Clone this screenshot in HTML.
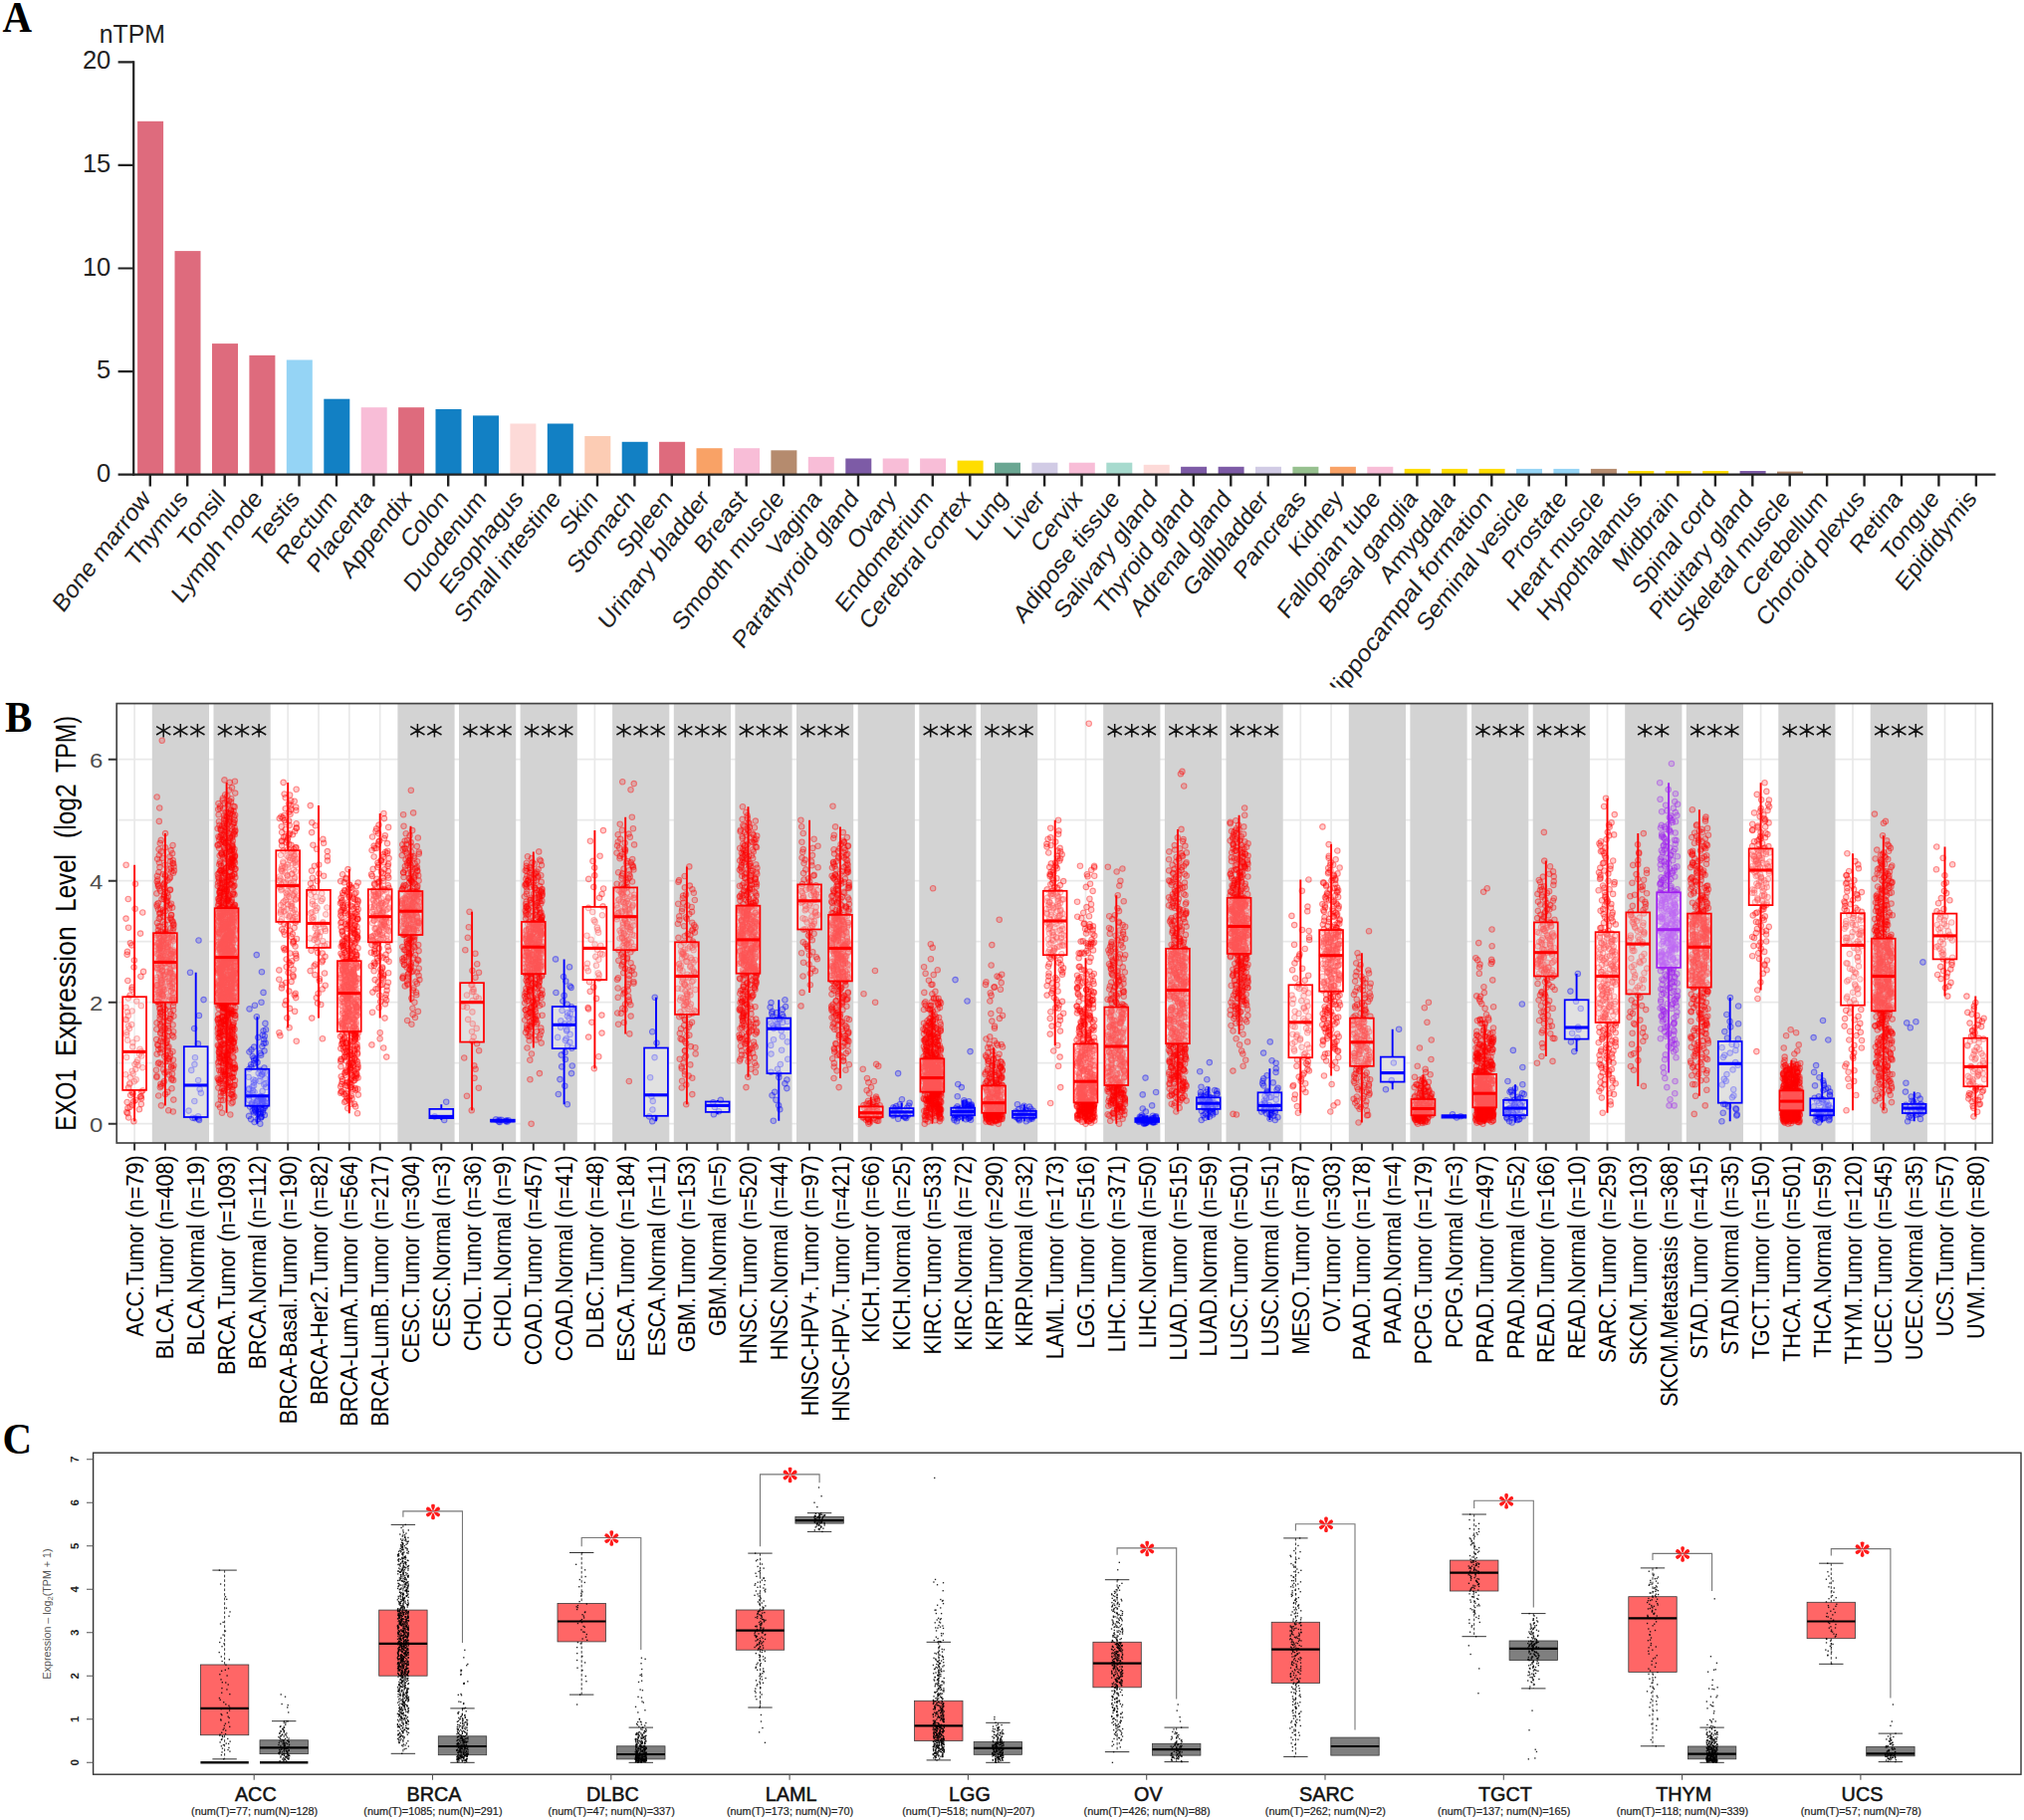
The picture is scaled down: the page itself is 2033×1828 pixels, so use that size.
<!DOCTYPE html>
<html><head><meta charset="utf-8"><title>Figure</title>
<style>html,body{margin:0;padding:0;background:#fff}body{width:2033px;height:1828px;overflow:hidden}svg{display:block;font-family:"Liberation Sans",sans-serif}</style>
</head><body>
<svg width="2033" height="1828" viewBox="0 0 2033 1828">
<rect width="2033" height="1828" fill="#fff"/>
<g id="pA">
<clipPath id="clipA"><rect x="0" y="0" width="2033" height="690.5"/></clipPath>
<rect x="138.1" y="121.8" width="26" height="354.9" fill="#de6b7d"/>
<rect x="175.5" y="252.1" width="26" height="224.6" fill="#de6b7d"/>
<rect x="213" y="345.1" width="26" height="131.6" fill="#de6b7d"/>
<rect x="250.4" y="356.9" width="26" height="119.8" fill="#de6b7d"/>
<rect x="287.8" y="361.5" width="26" height="115.2" fill="#95d4f5"/>
<rect x="325.3" y="400.7" width="26" height="76" fill="#1280c4"/>
<rect x="362.7" y="409.2" width="26" height="67.5" fill="#f8bdd7"/>
<rect x="400.1" y="409.2" width="26" height="67.5" fill="#de6b7d"/>
<rect x="437.5" y="411" width="26" height="65.7" fill="#1280c4"/>
<rect x="475" y="417.4" width="26" height="59.3" fill="#1280c4"/>
<rect x="512.4" y="425.5" width="26" height="51.2" fill="#fddad8"/>
<rect x="549.8" y="425.5" width="26" height="51.2" fill="#1280c4"/>
<rect x="587.3" y="438" width="26" height="38.7" fill="#fcccb4"/>
<rect x="624.7" y="443.8" width="26" height="32.9" fill="#1280c4"/>
<rect x="662.1" y="443.8" width="26" height="32.9" fill="#de6b7d"/>
<rect x="699.5" y="450.2" width="26" height="26.5" fill="#f9a266"/>
<rect x="737" y="450.2" width="26" height="26.5" fill="#f8bdd7"/>
<rect x="774.4" y="452.3" width="26" height="24.4" fill="#b58b6e"/>
<rect x="811.8" y="458.9" width="26" height="17.8" fill="#f8bdd7"/>
<rect x="849.3" y="460.5" width="26" height="16.2" fill="#7d5ba6"/>
<rect x="886.7" y="460.5" width="26" height="16.2" fill="#f8bdd7"/>
<rect x="924.1" y="460.5" width="26" height="16.2" fill="#f8bdd7"/>
<rect x="961.6" y="462.6" width="26" height="14.1" fill="#ffdd00"/>
<rect x="999" y="464.7" width="26" height="12" fill="#6aa692"/>
<rect x="1036.4" y="464.7" width="26" height="12" fill="#d1cbe5"/>
<rect x="1073.8" y="464.7" width="26" height="12" fill="#f8bdd7"/>
<rect x="1111.3" y="464.7" width="26" height="12" fill="#a7dace"/>
<rect x="1148.7" y="466.8" width="26" height="9.9" fill="#fddad8"/>
<rect x="1186.1" y="468.8" width="26" height="7.9" fill="#7d5ba6"/>
<rect x="1223.6" y="468.8" width="26" height="7.9" fill="#7d5ba6"/>
<rect x="1261" y="468.8" width="26" height="7.9" fill="#d1cbe5"/>
<rect x="1298.4" y="468.8" width="26" height="7.9" fill="#96c08e"/>
<rect x="1335.9" y="468.8" width="26" height="7.9" fill="#f9a266"/>
<rect x="1373.3" y="468.8" width="26" height="7.9" fill="#f8bdd7"/>
<rect x="1410.7" y="470.9" width="26" height="5.8" fill="#ffdd00"/>
<rect x="1448.1" y="470.9" width="26" height="5.8" fill="#ffdd00"/>
<rect x="1485.6" y="470.9" width="26" height="5.8" fill="#ffdd00"/>
<rect x="1523" y="470.9" width="26" height="5.8" fill="#95d4f5"/>
<rect x="1560.4" y="470.9" width="26" height="5.8" fill="#95d4f5"/>
<rect x="1597.9" y="470.9" width="26" height="5.8" fill="#b58b6e"/>
<rect x="1635.3" y="473" width="26" height="3.7" fill="#ffdd00"/>
<rect x="1672.7" y="473" width="26" height="3.7" fill="#ffdd00"/>
<rect x="1710.2" y="473" width="26" height="3.7" fill="#ffdd00"/>
<rect x="1747.6" y="473" width="26" height="3.7" fill="#7d5ba6"/>
<rect x="1785" y="473.6" width="26" height="3.1" fill="#b58b6e"/>
<rect x="1822.4" y="475.9" width="26" height="0.8" fill="#ffdd00"/>
<g stroke="#222" stroke-width="2.2" fill="none">
<path d="M134.2 61.2 V477.8"/>
<path d="M118.6 476.7 H2004.5"/>
<path d="M118.6 373.1 H134.2M118.6 269.5 H134.2M118.6 165.9 H134.2M118.6 62.3 H134.2"/>
<path d="M150.8 476.7 V488.6M188.2 476.7 V488.6M225.7 476.7 V488.6M263.1 476.7 V488.6M300.5 476.7 V488.6M338 476.7 V488.6M375.4 476.7 V488.6M412.8 476.7 V488.6M450.2 476.7 V488.6M487.7 476.7 V488.6M525.1 476.7 V488.6M562.5 476.7 V488.6M600 476.7 V488.6M637.4 476.7 V488.6M674.8 476.7 V488.6M712.2 476.7 V488.6M749.7 476.7 V488.6M787.1 476.7 V488.6M824.5 476.7 V488.6M862 476.7 V488.6M899.4 476.7 V488.6M936.8 476.7 V488.6M974.3 476.7 V488.6M1011.7 476.7 V488.6M1049.1 476.7 V488.6M1086.5 476.7 V488.6M1124 476.7 V488.6M1161.4 476.7 V488.6M1198.8 476.7 V488.6M1236.3 476.7 V488.6M1273.7 476.7 V488.6M1311.1 476.7 V488.6M1348.6 476.7 V488.6M1386 476.7 V488.6M1423.4 476.7 V488.6M1460.8 476.7 V488.6M1498.3 476.7 V488.6M1535.7 476.7 V488.6M1573.1 476.7 V488.6M1610.6 476.7 V488.6M1648 476.7 V488.6M1685.4 476.7 V488.6M1722.9 476.7 V488.6M1760.3 476.7 V488.6M1797.7 476.7 V488.6M1835.1 476.7 V488.6M1872.6 476.7 V488.6M1910 476.7 V488.6M1947.4 476.7 V488.6M1984.9 476.7 V488.6" stroke-width="2.4"/>
</g>
<g font-size="25.5" fill="#222" text-anchor="end">
<text x="111.3" y="483.7">0</text>
<text x="111.3" y="380.1">5</text>
<text x="111.3" y="276.5">10</text>
<text x="111.3" y="172.9">15</text>
<text x="111.3" y="69.3">20</text>
</g>
<text transform="translate(99.8 43.0) scale(0.935 1)" font-size="26.5" fill="#222">nTPM</text>
<g font-size="22.5" fill="#222" text-anchor="end" clip-path="url(#clipA)">
<text transform="translate(152.3 501.6) scale(1 1.12) rotate(-49) scale(1.016 1)">Bone marrow</text>
<text transform="translate(189.7 501.6) scale(1 1.12) rotate(-49) scale(1.016 1)">Thymus</text>
<text transform="translate(227.2 501.6) scale(1 1.12) rotate(-49) scale(1.016 1)">Tonsil</text>
<text transform="translate(264.6 501.6) scale(1 1.12) rotate(-49) scale(1.016 1)">Lymph node</text>
<text transform="translate(302 501.6) scale(1 1.12) rotate(-49) scale(1.016 1)">Testis</text>
<text transform="translate(339.5 501.6) scale(1 1.12) rotate(-49) scale(1.016 1)">Rectum</text>
<text transform="translate(376.9 501.6) scale(1 1.12) rotate(-49) scale(1.016 1)">Placenta</text>
<text transform="translate(414.3 501.6) scale(1 1.12) rotate(-49) scale(1.016 1)">Appendix</text>
<text transform="translate(451.7 501.6) scale(1 1.12) rotate(-49) scale(1.016 1)">Colon</text>
<text transform="translate(489.2 501.6) scale(1 1.12) rotate(-49) scale(1.016 1)">Duodenum</text>
<text transform="translate(526.6 501.6) scale(1 1.12) rotate(-49) scale(1.016 1)">Esophagus</text>
<text transform="translate(564 501.6) scale(1 1.12) rotate(-49) scale(1.016 1)">Small intestine</text>
<text transform="translate(601.5 501.6) scale(1 1.12) rotate(-49) scale(1.016 1)">Skin</text>
<text transform="translate(638.9 501.6) scale(1 1.12) rotate(-49) scale(1.016 1)">Stomach</text>
<text transform="translate(676.3 501.6) scale(1 1.12) rotate(-49) scale(1.016 1)">Spleen</text>
<text transform="translate(713.8 501.6) scale(1 1.12) rotate(-49) scale(1.016 1)">Urinary bladder</text>
<text transform="translate(751.2 501.6) scale(1 1.12) rotate(-49) scale(1.016 1)">Breast</text>
<text transform="translate(788.6 501.6) scale(1 1.12) rotate(-49) scale(1.016 1)">Smooth muscle</text>
<text transform="translate(826 501.6) scale(1 1.12) rotate(-49) scale(1.016 1)">Vagina</text>
<text transform="translate(863.5 501.6) scale(1 1.12) rotate(-49) scale(1.016 1)">Parathyroid gland</text>
<text transform="translate(900.9 501.6) scale(1 1.12) rotate(-49) scale(1.016 1)">Ovary</text>
<text transform="translate(938.3 501.6) scale(1 1.12) rotate(-49) scale(1.016 1)">Endometrium</text>
<text transform="translate(975.8 501.6) scale(1 1.12) rotate(-49) scale(1.016 1)">Cerebral cortex</text>
<text transform="translate(1013.2 501.6) scale(1 1.12) rotate(-49) scale(1.016 1)">Lung</text>
<text transform="translate(1050.6 501.6) scale(1 1.12) rotate(-49) scale(1.016 1)">Liver</text>
<text transform="translate(1088 501.6) scale(1 1.12) rotate(-49) scale(1.016 1)">Cervix</text>
<text transform="translate(1125.5 501.6) scale(1 1.12) rotate(-49) scale(1.016 1)">Adipose tissue</text>
<text transform="translate(1162.9 501.6) scale(1 1.12) rotate(-49) scale(1.016 1)">Salivary gland</text>
<text transform="translate(1200.3 501.6) scale(1 1.12) rotate(-49) scale(1.016 1)">Thyroid gland</text>
<text transform="translate(1237.8 501.6) scale(1 1.12) rotate(-49) scale(1.016 1)">Adrenal gland</text>
<text transform="translate(1275.2 501.6) scale(1 1.12) rotate(-49) scale(1.016 1)">Gallbladder</text>
<text transform="translate(1312.6 501.6) scale(1 1.12) rotate(-49) scale(1.016 1)">Pancreas</text>
<text transform="translate(1350.1 501.6) scale(1 1.12) rotate(-49) scale(1.016 1)">Kidney</text>
<text transform="translate(1387.5 501.6) scale(1 1.12) rotate(-49) scale(1.016 1)">Fallopian tube</text>
<text transform="translate(1424.9 501.6) scale(1 1.12) rotate(-49) scale(1.016 1)">Basal ganglia</text>
<text transform="translate(1462.3 501.6) scale(1 1.12) rotate(-49) scale(1.016 1)">Amygdala</text>
<text transform="translate(1499.8 501.6) scale(1 1.12) rotate(-49) scale(1.063 1)">Hippocampal formation</text>
<text transform="translate(1537.2 501.6) scale(1 1.12) rotate(-49) scale(1.016 1)">Seminal vesicle</text>
<text transform="translate(1574.6 501.6) scale(1 1.12) rotate(-49) scale(1.016 1)">Prostate</text>
<text transform="translate(1612.1 501.6) scale(1 1.12) rotate(-49) scale(1.016 1)">Heart muscle</text>
<text transform="translate(1649.5 501.6) scale(1 1.12) rotate(-49) scale(1.016 1)">Hypothalamus</text>
<text transform="translate(1686.9 501.6) scale(1 1.12) rotate(-49) scale(1.016 1)">Midbrain</text>
<text transform="translate(1724.4 501.6) scale(1 1.12) rotate(-49) scale(1.016 1)">Spinal cord</text>
<text transform="translate(1761.8 501.6) scale(1 1.12) rotate(-49) scale(1.016 1)">Pituitary gland</text>
<text transform="translate(1799.2 501.6) scale(1 1.12) rotate(-49) scale(1.016 1)">Skeletal muscle</text>
<text transform="translate(1836.6 501.6) scale(1 1.12) rotate(-49) scale(1.016 1)">Cerebellum</text>
<text transform="translate(1874.1 501.6) scale(1 1.12) rotate(-49) scale(1.016 1)">Choroid plexus</text>
<text transform="translate(1911.5 501.6) scale(1 1.12) rotate(-49) scale(1.016 1)">Retina</text>
<text transform="translate(1948.9 501.6) scale(1 1.12) rotate(-49) scale(1.016 1)">Tongue</text>
<text transform="translate(1986.4 501.6) scale(1 1.12) rotate(-49) scale(1.016 1)">Epididymis</text>
</g>
</g>
<g id="pB">
<rect x="117.2" y="706.6" width="1884.1" height="441.4" fill="#fff"/>
<path d="M117.2 1128.7H2001.3M117.2 1067.7H2001.3M117.2 1006.7H2001.3M117.2 945.7H2001.3M117.2 884.7H2001.3M117.2 823.7H2001.3M117.2 762.7H2001.3M135.1 706.6V1148M165.9 706.6V1148M196.7 706.6V1148M227.6 706.6V1148M258.4 706.6V1148M289.2 706.6V1148M320 706.6V1148M350.8 706.6V1148M381.7 706.6V1148M412.5 706.6V1148M443.3 706.6V1148M474.1 706.6V1148M504.9 706.6V1148M535.8 706.6V1148M566.6 706.6V1148M597.4 706.6V1148M628.2 706.6V1148M659 706.6V1148M689.9 706.6V1148M720.7 706.6V1148M751.5 706.6V1148M782.3 706.6V1148M813.1 706.6V1148M844 706.6V1148M874.8 706.6V1148M905.6 706.6V1148M936.4 706.6V1148M967.2 706.6V1148M998.1 706.6V1148M1028.9 706.6V1148M1059.7 706.6V1148M1090.5 706.6V1148M1121.3 706.6V1148M1152.2 706.6V1148M1183 706.6V1148M1213.8 706.6V1148M1244.6 706.6V1148M1275.4 706.6V1148M1306.3 706.6V1148M1337.1 706.6V1148M1367.9 706.6V1148M1398.7 706.6V1148M1429.5 706.6V1148M1460.4 706.6V1148M1491.2 706.6V1148M1522 706.6V1148M1552.8 706.6V1148M1583.6 706.6V1148M1614.5 706.6V1148M1645.3 706.6V1148M1676.1 706.6V1148M1706.9 706.6V1148M1737.7 706.6V1148M1768.6 706.6V1148M1799.4 706.6V1148M1830.2 706.6V1148M1861 706.6V1148M1891.8 706.6V1148M1922.7 706.6V1148M1953.5 706.6V1148M1984.3 706.6V1148" stroke="#e9e9e9" stroke-width="1.7" fill="none"/>
<rect x="152.8" y="706.6" width="57.2" height="441.4" fill="#d3d3d3"/>
<rect x="214.5" y="706.6" width="57.2" height="441.4" fill="#d3d3d3"/>
<rect x="399.4" y="706.6" width="57.2" height="441.4" fill="#d3d3d3"/>
<rect x="461" y="706.6" width="57.2" height="441.4" fill="#d3d3d3"/>
<rect x="522.6" y="706.6" width="57.2" height="441.4" fill="#d3d3d3"/>
<rect x="615.1" y="706.6" width="57.2" height="441.4" fill="#d3d3d3"/>
<rect x="676.8" y="706.6" width="57.2" height="441.4" fill="#d3d3d3"/>
<rect x="738.4" y="706.6" width="57.2" height="441.4" fill="#d3d3d3"/>
<rect x="800" y="706.6" width="57.2" height="441.4" fill="#d3d3d3"/>
<rect x="861.7" y="706.6" width="57.2" height="441.4" fill="#d3d3d3"/>
<rect x="923.3" y="706.6" width="57.2" height="441.4" fill="#d3d3d3"/>
<rect x="985" y="706.6" width="57.2" height="441.4" fill="#d3d3d3"/>
<rect x="1108.2" y="706.6" width="57.2" height="441.4" fill="#d3d3d3"/>
<rect x="1169.9" y="706.6" width="57.2" height="441.4" fill="#d3d3d3"/>
<rect x="1231.5" y="706.6" width="57.2" height="441.4" fill="#d3d3d3"/>
<rect x="1354.8" y="706.6" width="57.2" height="441.4" fill="#d3d3d3"/>
<rect x="1416.4" y="706.6" width="57.2" height="441.4" fill="#d3d3d3"/>
<rect x="1478.1" y="706.6" width="57.2" height="441.4" fill="#d3d3d3"/>
<rect x="1539.7" y="706.6" width="57.2" height="441.4" fill="#d3d3d3"/>
<rect x="1632.2" y="706.6" width="57.2" height="441.4" fill="#d3d3d3"/>
<rect x="1693.8" y="706.6" width="57.2" height="441.4" fill="#d3d3d3"/>
<rect x="1786.3" y="706.6" width="57.2" height="441.4" fill="#d3d3d3"/>
<rect x="1878.7" y="706.6" width="57.2" height="441.4" fill="#d3d3d3"/>
<marker id="mr" markerWidth="10" markerHeight="10" refX="5" refY="5" markerUnits="userSpaceOnUse"><circle cx="5" cy="5" r="2.75" fill="rgba(255,0,0,.2)" stroke="rgba(255,0,0,.42)" stroke-width="1.1"/></marker>
<marker id="mb" markerWidth="10" markerHeight="10" refX="5" refY="5" markerUnits="userSpaceOnUse"><circle cx="5" cy="5" r="2.75" fill="rgba(0,0,255,.2)" stroke="rgba(0,0,255,.42)" stroke-width="1.1"/></marker>
<marker id="mp" markerWidth="10" markerHeight="10" refX="5" refY="5" markerUnits="userSpaceOnUse"><circle cx="5" cy="5" r="2.75" fill="rgba(160,32,240,.2)" stroke="rgba(160,32,240,.42)" stroke-width="1.1"/></marker>
<polyline points="126.6,1011.7 143.3,1095.3 141.8,1108.9 142,1096.2 126.6,868.8 139.9,1114.3 130.8,1082.1 138.5,1070 127.6,1107 132.7,991.6 132.2,1029.1 127.9,1016.6 128.3,985 134.5,971.5 133.1,1109.7 128,1044.7 126.2,1079.2 134.2,1106.2 137.2,1067 133.2,1051.4 131.1,1100 141.8,1056.2 127.1,1061.9 127.2,1117.1 138.3,1064.8 128.2,1118.1 137.2,1005.6 136.7,1084.4 128.7,903 128.8,1092.5 132.7,1075.7 128.8,1002.6 134.4,1126.3 142.3,1060.5 140.8,1101.6 129,931.7 129,1030.6 128.8,1020.3 140.5,1053.8 130.6,1111.8 132.4,993.7 128.4,1112.9 130.3,1088 141,937.6 143.2,916.5 141.8,1010.2 135.9,887.7 137.5,1043.2 130.6,999.7 133.6,1098.4 132.3,949.4 132.6,1096.9 127,1024.3 132.6,1015.5 129.1,1122.5 126.5,922.6 130.3,1088.8 143.3,1072.3 135.6,912.8 142,1103.3 141.7,1101.3 141.4,980.7 129.9,1033 126.1,1023.9 136.3,1073.7 134.8,1086.3 130.9,947.2 133.3,1047.2 144,975.9 127.9,955.9 133.6,1078.5 127.2,1039.4 129.3,1092.4 127.3,1036.8 134.8,964.5 135.4,1069 136,1104.9 140.1,1058.7 127.6,958.7" fill="none" stroke="none" marker-start="url(#mr)" marker-mid="url(#mr)" marker-end="url(#mr)"/>
<polyline points="174.4,956.3 173.7,864.1 159.2,1100.5 163.3,944.1 160.5,973.3 169.5,1051.2 160,999.1 163.9,926 170.7,1061.4 171.7,1018.7 170.9,954.5 161.9,855.4 172.1,958.1 172.8,961.9 159.2,889.1 165.2,1042.3 163.7,878 165.4,1077.4 163.6,963.8 166,937.5 174.3,996.9 157.5,989.7 170.4,987.8 171.3,1023.4 171.1,922 161.8,986.8 174.3,932.1 160.5,930.8 160.2,917.6 157,941.8 169.2,1065.8 173.1,941.6 161.9,984.2 161.6,1030.9 165.7,896 169.2,1025.4 170,942.4 160.9,1016.7 161.7,843.9 164.1,1088 161.1,1057.3 173.2,925.2 170.6,909.2 165.2,892.6 172.5,943.5 157.5,1080.9 157.8,994.5 170.1,1004.1 171.4,977.5 166.2,915.1 174.1,980.3 157.7,990 171.1,865.1 173.7,1003.3 167.4,956 167,909.9 161.4,979.3 165.8,1013.8 173.5,988.7 158,1005.7 160.3,1013.2 174.6,870.4 162.4,1054.2 174.2,1041.6 172.2,965.4 157.7,910.3 168,986.1 168.3,1096.9 172.2,919.1 170.2,977.1 162.7,743.8 162.2,957.3 158.2,1049.2 164.9,887.2 169.6,1036 164.5,1031.9 170.4,965.8 173.8,1002 171,1058 171.6,854.1 158.9,1049.9 168.1,953.1 162.2,964.3 167.7,906.2 167.4,1047.3 164.1,916.6 165,899.5 168.4,1052.1 158.7,968.7 170.2,1023 172.6,1083.2 168.9,1030.3 158.5,938.2 157.6,908.4 170.1,873.3 161.4,913.3 157.3,1082 159.5,952.3 162.8,1002.6 157.2,939.4 160.2,892.3 160.2,977.8 174.1,997.4 156.9,1074.8 158.9,934.4 174.9,943.4 165.4,890.9 172.8,1004.1 170.9,881.3 159,907.1 171.2,948.9 164.7,994.5 164.3,991.1 159.5,1006.2 163.5,943.1 174,876.8 170.8,976.4 161.4,1037.1 161.5,1052.7 160.7,996.1 161.1,967.2 174,1010.3 161.5,951.7 161.7,969.3 171.4,932.2 157.3,897.4 162,936.1 161.1,960.3 167.1,964.1 170.7,990.4 167.4,902.1 164.8,898.2 173.9,929.2 174.8,960.8 158.4,969 157,984 165.4,993.7 164,961.1 171.5,990.8 173.1,1004.6 165,954.9 174.1,980.7 160.4,871.1 171.7,995.4 160.6,1020.7 164.4,1011.6 170,912.4 171.7,941 162.5,1034.9 158.6,946.8 168.8,900.5 167.1,944.5 174.9,1003.6 173.8,1116.5 166.8,939.1 163,1026.5 174.9,874.4 165.9,968.1 168.6,1063 174.4,1070.2 163.2,998.1 161,1028.7 161.1,981.5 159.4,876 159.1,913.6 170.7,894.1 163.9,979.8 164.4,966.7 165,967.5 171.7,976.8 160.9,1045.9 161.2,894.9 169.7,967.9 164,1008.3 163.4,974.8 168.7,959.6 160.3,949.8 172.5,955.2 160.9,1012.5 157.1,950.6 169.7,1079.4 164.5,902.9 164.7,888.4 167.3,961.6 162.8,971.2 157.4,981.9 160.6,950.8 159.1,957 165.2,1061 164.9,1086.1 168.6,951.1 164.2,920.3 159.2,930.3 166.8,1059.9 170.6,1016 169.4,946.1 159.1,964.9 162.4,903.1 174.5,928.6 169.1,949.9 161.4,1088.7 157.6,1058.7 167.7,953.6 158,989.2 158.1,948.2 163,987.1 173.4,982.9 164.2,940.7 166.1,885.5 169.1,966 160.5,1024.1 161.5,988.4 172.8,1039.9 161.4,972.7 160.3,1002.4 165.2,940 168.2,904.5 162.8,975.4 162.8,950.3 161.3,962.5 171,893.6 157,998.6 173.1,992 161.6,954.7 165.8,978.5 167.9,976 173.9,982.1 162.8,961.2 159.6,1009 161.1,1038.1 164.4,943.9 166.3,935.9 160.8,1007.9 163.6,952.6 168.4,884.2 174.4,1020.5 160.3,956.6 172.8,970.3 173.5,1056.2 163.9,1046.3 173.4,867 159.7,962.1 165.5,1038.7 159.9,946.5 157.3,1033.7 159.2,1053.9 158.1,862.7 170.1,882.5 174.8,959.4 164,1074.3 162.3,1043.3 171.7,958.4 160.8,952.9 173.7,955.8 165.5,980.9 166.1,880.1 157.9,926.9 157.7,885.3 163.5,992.1 161.4,1068.8 173.5,993.1 173.6,978.2 174.2,1036.2 167.5,1076.6 162.9,999.3 163.6,993.5 159.8,939.9 168.9,1000.6 166.8,904.8 159.5,853 159.9,866.3 163.6,955.4 171.5,959.8 165.8,868.6 166,1098.9 162.5,944.8 158.8,953.8 159.8,859.1 161.6,985.6 168.1,924.1 158.4,883.4 160.6,949.2 162.2,1015.7 160.5,963.2 162.5,949.3 165.7,933.3 157.9,1005.9 164.6,901 173.6,1029.4 174.5,1006.8 160.5,942.8 160.8,1092.1 170.5,860.4 166.3,1066.3 173.5,849 162,998.5 168.9,1010.5 172.1,964.7 172.2,1084.5 162,945.6 173.9,1064.5 173.6,1073.2 158.6,887.8 162.5,1019.1 163.3,995.8 167.7,951.6 164,947.6 165.5,958.6 160.2,811.5 173.6,934.8 162.7,975.2 164.5,941.2 159.7,1067.2 172.5,1093.3 174.1,867.5 168.9,965.3 157.5,991.6 171.6,871.7 169.9,1063.8 166.4,1048.3 173.4,957.8 158.8,890.3 159.1,997.1 161.8,1090.8 163.8,914.5 166,1021.6 173.9,954.2 171.8,923.3 157.5,971.9 164,1004.9 169.1,1032.8 159.5,937.2 169.8,985.3 168.1,937.9 170.2,963.4 157.5,1000.9 162.5,945.3 158.3,973.7 168.4,947.1 157.1,1044.1 162.6,984.6 171,974.4 172.8,940.5 174.3,1104.6 158.9,1068.2 174.1,1084.9 171.8,1072.1 173.1,911.6 165.6,928.2 163.7,1000.4 160.6,952 165.9,1033 157.9,879.9 158.1,972.4 166.8,948.6 161.4,962.8 166.1,960.3 159.8,922.7 166,878.6 173.1,987.6 164.5,1025.6 170.4,1001.5 173,1078.6 161.9,1110.4 168.3,982.8 172,907.7 163.6,937.8 160.8,916.8 170.5,983.5 163.2,861.8 158.7,948 174.2,986.3 160.7,846.9 173.6,926.4 174.1,1014.7 163.6,1000 158.8,958.9 168.5,1055.3 164.7,979.1 166,851.2 157.5,1027.4 168.5,939 166.9,971.5 169.2,1115.3 157.6,800.5 174.6,970.7 172.3,875.3 168.1,966.3 160.9,921.1 174.1,945.1 171.7,995.2 167.7,1044.9 168.1,896.7 173.3,938.6 166.8,947.2 160.6,942.1 157.6,957.7 170.5,973 171.8,919 172.3,1070.7 164.3,945.8 173.1,857.3 168.5,1040.7 160.4,992.7 166,837.1 159.8,824.9 161.1,1017.9 174.7,969.7" fill="none" stroke="none" marker-start="url(#mr)" marker-mid="url(#mr)" marker-end="url(#mr)"/>
<polyline points="195.3,1106 201.8,1097.7 192.2,1074.9 199.3,1123.7 199.1,1085 198.9,1048.4 195.1,1033 189.5,1115.6 191,976.8 195.4,1069.1 195.9,1123.1 204.5,1004.1 200.6,1094 199,1121.3 199.5,944.5 193.4,1122.7 199.9,1020 195.9,1062.2 200,1125" fill="none" stroke="none" marker-start="url(#mb)" marker-mid="url(#mb)" marker-end="url(#mb)"/>
<polyline points="225.6,1030.4 235.2,924.3 221.3,887.2 223.8,801.8 234.6,890.1 221.2,988.5 220.1,884.4 224.7,1045.3 225.3,964 233.2,847.6 234.2,931.5 225.1,819.2 223.4,843 232.6,978.5 233.4,862 229.5,1070.6 224.6,998.9 236.4,1011.9 230.2,1002.4 220,1006.2 231.6,1007.2 220.2,913.2 235.5,991.8 223.4,981.1 227.4,889.3 232.1,887.5 228,992 219.2,974 230.6,1022.1 228.4,1062.2 224.5,942.9 226.1,966 219.8,969 232.3,993.2 233.3,937.2 222.4,970.1 219.6,1071.1 223.8,885.4 222.1,857.3 232.9,927.5 232.8,888.9 218.7,964.9 228.5,1013.5 225,952.7 224.6,934 223.8,844 229.8,824.5 224.8,1010.4 235.8,1019.9 223.8,919.5 227.7,968.6 227.9,952.3 221.6,1101.1 231.8,1043.4 219.9,1056.6 226.1,935.2 230.6,825.6 220.8,915 221.8,1006.1 224.4,918.2 232.7,861.8 220.1,952 221.3,918.6 231.6,996.2 236.4,990.6 222.2,892 221.6,976 222.2,946.8 232.2,982.7 235,976.8 232.7,858.6 235.4,1006.9 235.3,956.6 219.1,886.5 232.3,1044.8 220.4,1041.7 221,1010 234.4,896.4 227.5,987 221.2,1035.4 234.8,1077.7 231.9,960.2 229.3,1049.5 227.4,930 229.3,979.6 226.1,1079.7 234.1,912.8 230.4,921.2 227.2,871.9 221.6,1045.9 233.6,919.8 234.7,836.2 229.4,1001.8 231.3,1090.6 219.5,962.8 230.1,1000.2 221.1,965.2 219.8,1004.8 236.1,818.7 224.8,1075.7 219.6,1012.8 229.2,862.9 231.4,927.1 233.5,863.6 218.7,977 231.1,962.7 236.2,966.9 226.4,925.6 224.3,1096.1 235.3,826.4 227.8,1080 220.6,915.4 230.7,1040.3 232.7,1099.7 234.3,1018.2 235.9,860.6 227.9,933.9 228,956.2 222.7,973.8 223.1,983.7 235.1,988.1 219.4,925.2 225.4,960 220.2,975.7 228.7,1046.9 219.1,1067.4 222,1083.7 228.3,958.6 229.9,822.2 229.7,946.3 223.9,1068.5 229.7,844.3 222.1,1002.3 235.1,975.5 230.9,920.6 225.6,1029.1 235.5,877.6 218.9,973.2 232.1,815.4 229.6,996.4 226.9,878.7 221.7,969.3 226.7,992.2 221.9,1036.9 228.5,1094.8 220.5,1037.6 232.4,1018.5 232.1,981.1 225.2,949.8 226.1,1064.6 236.2,796.6 228.6,989.2 228.7,1076 223.9,945.1 224.6,998 224.6,1024 234.7,1004.6 227.6,890.8 225.6,959.7 229.9,958.7 225,978.6 227.8,932.2 230.2,999.4 230.1,954.9 222.6,983.8 228.2,1000.6 224.5,873.3 233.7,1106.9 233.3,1091.4 235.2,1000.1 224.3,966.3 224.7,949.6 224.5,980.5 232.6,871.2 227.5,895.6 220.1,852 221.1,912.2 223.5,1004.4 225.8,938.8 222.2,930.8 230.8,979.9 234.2,1046.3 225.2,1094.4 227,894.7 235.8,823.6 233.6,922.8 235.9,784.7 223.3,969.2 221.8,924.4 235.1,1046.4 221.5,1003.8 221,1051.6 228.1,1020.1 226.3,915.9 219.3,920 232.6,987.6 224.4,999.8 226.9,940.8 230.5,899.7 219.5,930.7 221.2,971.6 230.8,999.1 225.4,1035.7 224.7,975.6 230.2,985.4 230,947.1 225.3,821.7 234,932.6 225.3,827.1 235.2,910.4 222.9,1011.1 219.9,937.3 226.9,941 219.3,1026.7 232.8,849.4 224.3,919.1 236.5,914.7 220.2,995.1 218.8,968 220.2,912.4 224.8,986.6 220.3,921.9 222.5,1003.3 221.9,1000.7 234.1,984.9 221.2,922.7 221.6,1007.9 230.2,1068.8 223.5,933.3 224.5,898.4 234.2,861.2 219.8,1007.8 230.7,923.6 220.7,937.8 233.1,1001.4 227.6,835.5 225.2,950.3 223.4,911.7 232.8,872 223,907 222.2,983 221.5,980 233.6,1038.8 230.8,950.4 224.9,844.9 224.9,1013.6 223.6,980.8 229.3,903.4 228.1,1064.1 224.8,970.3 231,974.1 222.5,937.6 230.4,991.2 225.1,1017.1 228.8,948.8 221.9,1104.7 230.9,967.7 232.5,1005.3 229.6,1028.6 220.5,985.8 220.6,1061.9 231.6,1042.7 232.7,868.6 225.5,944.2 235.9,866.5 223.2,993.5 220.3,904.5 222,943.8 219.9,924.8 230.8,976 219.3,1084.3 230.6,939.1 233.8,1102.5 226.8,955.1 229,1064.8 235.6,1033.7 232,961.5 229.5,964.7 234.9,870.7 233.2,1071.8 230,986.8 236.1,1072.6 229.2,960.8 234.1,1056.1 224.1,1007.3 227.5,871.4 226.9,997.4 233.5,1099.4 222.8,1010.6 234.2,981.3 227.1,991.3 223.3,983.4 219.3,968.8 224.4,812.4 223.6,1016.6 226.5,1076.4 236.5,872.6 230.2,944.8 221.5,833 234.9,855.7 224.2,961.9 229.4,1042.2 219.9,825.2 223,882.1 230.3,851.2 223.3,958 232.5,1018.1 228.1,860.3 224.4,962.5 225.3,943.2 220.3,976.3 220.1,843.2 219.3,1042.3 228,914.3 226.7,830.6 225.1,968.2 219.6,984.8 230.9,817.1 226.7,1009.2 218.9,1023.7 222.6,916.7 229.4,994 227.6,1032.5 224.7,1001.2 225.2,893.2 222.6,1059.1 230.8,1015.7 232.9,951 227.2,1011.6 233.7,963.3 233.7,897.9 228.2,893.9 225.6,854.4 232.2,1055 230,1017.7 219.5,935.6 227.1,957.7 221.2,896.9 229.1,808.5 232.9,917.8 233,929.4 221.9,839.3 221.2,1022.2 222.1,874 226.5,1056.4 219,977.5 220.4,937.1 226,940.5 229,919.2 224.5,1027.9 234,1082 227.7,1014.5 223.8,927.1 234.1,978.4 231.5,957.5 221.5,1077.2 224.2,932.9 228,942.1 222.9,955.7 219.1,989.9 234.6,1047.9 225.1,838.2 220.2,868.2 234.3,1032.2 235.5,988.8 223.7,1080.8 229.9,1091.7 219.3,881 219.4,945.9 231.3,855 233.8,844.5 220.6,1054.7 221.8,988.4 225.9,984.4 220.6,1058.6 221.8,1062.7 235.7,810.4 219.2,812.9 229.3,883.5 233.8,911.2 225.6,806.6 233,923.9 225.9,968.4 235.2,964.5 235.8,834.9 234.2,1009.5 234.5,1067.6 233.1,1034.3 228,959.4 225.6,1053.1 220.2,990.1 218.8,1033.4 234.1,1073.2 225.1,823.4 222.5,873.7 228.5,1007 231,1034.6 230.9,1036.1 224.4,1074.7 222.6,958.4 220.4,973.5 233.3,953.6 225.6,886 222.5,957 234.6,911.6 231.2,1003.6 227.3,1004.7 228.8,981.8 222.9,947.7 231.4,882.8 229.1,935 231.5,948.2 232.2,941.5 227.5,941.9 227.7,834.6 226.9,916 225.3,1065.1 224.8,867.4 230.1,982.7 235.6,1043 234.9,957.8 218.8,890 219.8,905.2 224.4,986.1 231.4,935.8 231,935.4 225.3,930.3 225.7,1063.4 220.1,936.8 222.4,1000 219.7,882.2 226.6,1039.2 220.2,995.9 226,921.3 228.6,932.5 229,944.1 231.4,945.4 229,900.8 227.8,939.6 222.5,982.1 229.3,912.7 221.9,1097.4 220.3,1060.9 221.4,981.8 234.9,963 218.9,1037.9 234.2,891.1 229,979.3 232.7,1081.4 230.7,923.4 223.9,861 222,833.9 228,832.5 226.6,951.2 223.3,933.1 236,859 219.6,936.3 235.8,1052.4 230.5,1080.4 236.1,873 227.5,819.7 224.4,927.7 222.4,1049.1 227.5,913.6 228.5,994.3 234.6,826.3 221,811.8 230,1014.1 218.7,991.5 233.4,1078.1 236.3,1005.6 227.6,971.1 231.9,906.6 228.3,1034.9 221.5,1085.9 234.2,954.3 233.2,879.8 229.9,960.5 225.1,990.7 221.4,1088.2 231.5,867.6 233.4,1044.2 226.8,856.9 224.5,993.7 227.4,848.7 231.8,1002.1 220,1087 235.1,970.5 234,931.1 226.7,907.3 221,989.7 229.8,998.2 218.8,997.3 234.1,827.8 232.5,1051.6 219.4,998.4 232.7,963.1 234.5,978.9 228.4,967.4 233.7,1082.2 224.4,1098.1 227.5,970.7 229.3,924.7 220.6,1038.1 233,863.3 227.1,1030 225.1,988.6 232.4,937.8 227.6,989.3 230.9,971.7 230.4,994.2 222,1039.4 234.1,978 223.8,1036.3 232.4,938.1 234.6,884.9 218.7,1009.7 223.2,930.9 221.5,867 222.9,891.4 224.9,1024.9 233,952.5 220.2,947.4 231.9,1014.5 224.7,1079.3 225.5,1025.1 222.3,922.3 232.8,974.3 230,869.9 220.1,1074.8 222.7,990.3 228.7,924.1 234.6,980.2 232,999.5 230.9,1086.7 234.9,920.8 233,1041.1 226.7,926.4 228.3,994.6 226.7,952.2 221.1,1112.2 235.2,997.1 223.6,992 228.7,1018.9 235.5,889.6 221.2,809.7 223.9,982.4 219.5,928.7 225.9,1013 220.4,953 223.2,997.5 221.8,971.8 231.4,959.9 236.1,977.2 225.9,944.9 224.9,900.6 235.6,908.8 231,880.3 233.4,839.6 231.9,993.6 235.9,1001.9 224.4,1012.2 228.2,928.3 225.2,1011.2 220.6,977.2 225.8,1003.1 234.3,1035 232.7,903.6 219.5,908 218.8,1049.8 223.1,858.5 231.7,814 222.9,1093.4 227.2,1069 228.9,1025.4 228.4,799.4 236.2,975 236.2,987.2 231.1,951.4 235.6,831.3 225.9,1057 235.1,878.4 230.7,1070.8 226,877.4 222.2,948.9 221.8,1031.4 224.5,996.1 228.6,968.3 232,1045.7 229.4,1002.8 230.7,820.5 220,1001.7 221.5,899.6 232.2,990.2 225.3,900.1 234.1,1061.6 231.9,939 226.6,1066.2 233.7,940.7 232.5,992.9 226.6,815.8 224.4,958.9 230.8,915.6 224.6,845.8 226.7,979.5 221.6,1026.3 231.5,1054 225.4,949.2 219.6,948.5 236.1,965.9 224,931.6 223.1,829.9 232.8,853.6 222.6,837.5 223.2,932.9 225.8,985.1 236.3,881.3 223.4,1003.6 230.7,959.2 218.9,848.4 228.8,1069.9 228.7,918.8 227.9,950.1 228.1,956 235.5,853 222,1066.8 232.2,942.4 220.4,922.1 221.8,906.3 219.1,1109.4 219.3,938.6 225.9,965.4 227.4,1059.8 230.2,793.5 220.3,902.1 225.9,876.8 220.6,1040.9 228.4,962.1 226.8,846.4 221.3,1032.9 233,791.1 233.6,850.9 224.9,970.8 225.2,1095.5 234.4,972.8 223.9,923.2 226.5,1084 226.6,1008.7 225.9,852.2 221.5,894.2 220.8,891.7 223.2,921 219.4,1022.7 235.5,1015.8 226.1,798.3 226.2,1081.2 236.4,973.1 226.5,1085.8 223,1117.7 234.3,934.4 221.3,875 228.5,828.5 236,1085.2 229.5,836.7 228.8,888.6 233.4,955.4 231.2,842.4 223.9,1105 236.4,1019.7 226.4,862.4 219.6,818.3 230.7,866.1 218.9,949.1 230.3,967.6 231.4,1055.5 229.7,1047.5 224.4,947.8 226.3,972.1 220.7,972.5 227.4,939.7 234.3,1016 233.4,939.4 220.9,901.1 229,1038.5 227.3,972.4 226.5,1078.7 234.7,954.6 234.9,1073.3 233.3,934.6 225.4,942.2 222.2,929.2 219.3,954.2 219.2,974.8 223.9,977.7 234.3,1029 221.6,1052.6 221.3,950.6 234.6,1062.5 228.1,1060.4 219.1,987.6 232.7,921.7 234.7,1027.3 232.3,1014.9 230,1103.2 236.2,917.6 233.6,817.6 234.5,969.9 227.6,974 233.5,915.3 224.9,944.4 224.7,850.7 225.4,783.4 235.9,1072.3 227.7,961.2 225.4,954.1 222.5,1027.4 231.6,1083.1 226.3,973.5 230.8,1066.6 235.2,1101.4 234.9,1090.3 231.8,988.2 228.6,904.8 236.5,951.7 222.8,856.5 222.7,887.7 221.3,918 224,1048.7 225.3,1050 223.5,927.5 228.4,1041.3 229.8,869.4 221.8,978.1 220.4,828.9 229,1005.9 224.2,928.5 233.5,833.5 233.5,1093.9 230.8,938.5 230.1,925.4 225.6,917.4 227,1025.6 233,986.4 225.5,965.7 232.7,905.7 233.2,955.9 230.2,962.4 228.9,1058.6 228.7,1052.1 231.8,971.4 219.6,998.7 221.1,995.5 233.1,830.2 231.7,969.7 221,972.3 232.5,990.9 225.3,1043.7 219.4,807 229.2,994.5 223.1,1061.1 229.3,909.7 220.7,895 227.5,1089.5 233.4,980.9 221.3,920.5 226.1,932.1 228.5,1036.6 220.2,916.3 218.6,1082.9 223.1,1060.2 221,1000.9 228.3,912.5 225.9,999.3 230.5,943 221.7,955.4 235.2,1040.5 235.2,943.9 236.2,992.4 226.6,824.2 228.8,1008.4 223.3,886.6 221.6,899.1 230.9,840.6 235.8,838.3 219,941.3 231.9,1098.9 234.1,981.5 229.2,1027.1 232.5,992.5 235.5,898.6 227.8,827.6 221.7,831.7 222.1,869.7 235.4,926.3 222.4,922.9 218.8,878.1 235.7,921.5 234.1,1002.7 226.9,930.1 231.1,920.1 228.1,956.5 219.9,1028.1 224,1008.1 230.1,916.9 221.4,1029.6 233.5,865.3 233.8,868.9 233.8,1029.6 220.7,895.8 236.5,977.8 233.4,1097 223.1,964.5 226.1,846.9 223.9,1070.3 230.8,1030.7 222.7,919.3 232,863.9 223.1,1039.9 235.6,984.2 229.2,1057.7 233,1031.9 223.6,803.8 230.5,841.7 219.2,1031.7 234.4,975.1 226.5,945.7 228.6,928.8 236.4,933.6 231.5,975.3 234.5,979.2 233.6,849.7 220.8,953.5 220.6,971.1 232.1,813.5 233.1,879 224.6,1012.6 228.5,938.2 228.7,996.8 229.4,846.5 219.6,989.6 219.1,909.9 230.5,1078.4 232.1,936.6 228.8,1020.5 222.7,983.1 227.2,951.2 236.5,965.1 226.8,986.4 226.5,842.1 220,1057.4 225.7,951.9 230.4,1065.4 234.4,925.9 222.7,857.7 231.4,943.4 222.1,1075.2 234.6,809.9 227.3,980.3 224,1007.7 225.7,966.4 224.6,907.5 235.6,1089.9 233,1037.2 231.7,915.9 223.5,1021.5 227.6,1088.7 228.7,928 236.5,960.8 230.9,855.2 230.4,908.2 233.1,841.2 226.3,1005.2 225.1,1025.9 221,865.4 227.3,913.1 227.1,957.1 229.7,880.6 219.2,1019.1 223,876.2 218.6,832.2 236.3,996.7 233.2,994.9 229.3,881.5 222.2,1002.9 225.7,836 236,970 227.8,1057.9 224.3,972.8 230.2,901.8 222.8,960.6 220.2,1084.7 224,1087.9 224.8,909.2 228.9,807.5 231.3,1119.5 232.2,950.7 221.3,976.6 223.9,1076.9 231.5,966.5 232.1,870.4 231.8,976.4 231.3,1048.6 235,918.4 230.5,822.6 222.8,974.6 230.9,853.4 236.3,1022.9 232.3,802.3 219.3,840.3 236.4,1054.6 229.7,1072.2 229.6,964.2 228.2,930.5 219.3,1092.6 234.8,864.5 235.7,1069.6 222.6,910.9 224.7,879.6 233.5,954.8 236.5,934.8 220.9,991.6 228.7,1063.8 234.3,1000.4 227.6,1021.2 229.3,850.4 233.6,947.5 224.7,1006.7 225.5,965.6 219.2,902.7 223.5,948.1 221.8,948.3 225.4,917.1 233.4,852.5 222.4,845.5 229.1,1006.3 220.1,876.7 226.2,946.6 222.9,987.4 229.1,929.8 229,884.1 225.1,929.5 227.1,940.3 232.5,1051 223.2,1004.2 232.7,883 221.5,987.8 226.5,939.9 228.5,904.2 220.7,840.9 229,1087.5 224.9,829.5 234.2,1005 231.8,875.8 233.5,1053.3 231,967 232.9,1016.5 219.6,920.3 227.7,893.3 227.3,935.7 228,821 230.8,1044.6 219.6,1050.7 234.3,897.8 225.8,892.5 224.8,914 221.2,934.3 228.2,895.1 235.5,914.4 235.1,1006.5 234.1,924.9 232.7,854.1 229,1024.3 230.7,785.9 222.3,979 223.1,953.2 230,1017.3 228.7,936.4 233.5,953.8 222.1,892.7 232.5,1108.2 234.3,966.7 236,1073.7 220.6,847.7 232,865.7 226.8,1074.1 218.7,933.7 232.4,995.4 218.7,1024.4 222.8,1050.5 219,1004 221.1,874.3 235.4,864.8 230.8,936.1 236.5,982.3 220.7,963.5 227.5,923.8 218.6,961.6 234.3,1047.1 227.9,885.5 225.9,928.1 224.7,1033.1 231,888.3 231.4,993.3 221.4,995.6 230.1,804.5 228.4,967.3 234.8,985.9 228.7,984.6 232,805.4 227.2,897.4 234.6,837.4 232.1,913.8 235.6,860 220.3,896.8 231.8,985.6 229.8,984 228.4,916.5 228.5,1055.6 219.5,931.9 235.1,922.6 219.8,942.6 228.6,816.2 218.6,849.2 224.1,992.8 219.6,996.5 232.8,946.4 223.5,1021.6 227.8,902.3 233.3,1031 226.2,1048.2 223.5,969.5 236,961.8 233,926.8 235.1,929 234,946.9 224.7,1067.9 228.8,1092 230.8,875.5 222.9,963.9 224,1015.4 221.3,953.4 235.3,913.5 219.6,925.8 235.2,915 229.6,958.3 220.8,1044 226.9,902.9 220.6,859.3 221.1,956.8 234.3,1001.2 220.1,1065.9 236,943.6 226,998.6 223.9,905.5 236.4,834.2 224.8,874.8 226.4,983.3 223.3,1020.7 233.9,961.3 233.7,858.1 219.2,917.2 234.8,941.8 223.8,914.1 226.6,926.1 222.1,963.8 226.8,1023.4 236,909.2 222.8,883.9 229.2,941.2 219.7,985.5 227.4,856.2 225.2,945.5 229.6,959.3 221.8,989 229.2,926.6 233.7,918.1 222.8,949.9 228.5,1059.4 233.2,944.6 226.2,994.9 234.6,814.7 225.2,946 229.3,997.7 220.4,1053.7 234.9,820.4 235.1,984.2 225,1005.6 233,931.4 220.6,1063.2 223.4,838.9 227.5,997.9 234.6,940.1 228,957.3" fill="none" stroke="none" marker-start="url(#mr)" marker-mid="url(#mr)" marker-end="url(#mr)"/>
<polyline points="258.7,1124.3 266.4,1027.9 249.9,1104.8 262.9,1107 263.2,1078.7 265.1,1044.2 260.5,1085.9 250,1120.9 255.2,1065.1 256.3,1110 261.5,1057.9 262.2,1059.8 255.6,1097 261.5,1080.7 253.5,1091.3 252.1,1069.3 250.3,1073.6 256.5,1085.3 263.3,1051 258.6,1104.3 265.5,1055.5 266.5,1088.3 252.7,1109.1 265.9,1106.7 263.6,1107.3 258.5,1067.1 253,1107.6 261.3,1128.7 253.7,1115.6 255.9,1009.8 256.3,1115.2 264,1108.9 254,1095.3 249.4,1099.1 265.4,1112.9 262.1,1114.2 255.9,1113.7 255.1,1117.4 266.3,1083.2 267,1034.3 257.2,1063.5 251,1111.5 258.9,1118.6 254.9,1062.9 259.3,1112.1 262.5,1102 264.5,996.9 258.2,1106.4 265.2,1089.3 260.2,1116.6 259.1,1042 257.6,1112.6 257.8,1021.3 264.7,1101.9 263,1108.3 261.3,1101 263.9,1114.5 256.5,1108.1 262,1118 262.3,1122.2 262.3,1110.3 264.1,1076.3 254.9,1068.4 262.9,976.2 253.6,1098.1 266.6,1047.5 261.9,1122.5 250.5,1013.4 254.5,1084.5 267,1103.4 249.6,1081.7 266.3,1110.6 257.7,959.1 255.5,1127 250.4,1100.5 263.6,1095.9 252.5,1054.4 264.5,1035.3 254.8,1087.4 259.6,1077.9 265.8,1077.1 264.1,1117.1 253.7,1061 261.9,1103.7 250.4,1056.5 264,1104 258.6,1105.7 250.1,1093.4 263,1079.5 265.4,1072.5 264.8,1047.9 265.8,1040.7 255,1102.3 267.3,1091.9 265,1106 261.7,1101.5 252.5,1071.7 250.1,1094.2 266.4,1111.1 262.6,1121.3 255.1,1051.6 255.1,1090.3 265.8,1119.9 261,1074.7 261.4,1119 260.5,1102.7 253.5,1109.8 262.5,1006.7 263.7,1039.5 252,1124.1 263.8,1105.1 256.7,1116.3" fill="none" stroke="none" marker-start="url(#mb)" marker-mid="url(#mb)" marker-end="url(#mb)"/>
<polyline points="297.2,903.2 285.9,938.7 289.1,841.8 285,840.8 293.9,838.3 287,886.5 280.7,822 294.3,979.8 287.9,919.1 297.3,895.7 295.9,913.9 284.9,935.7 297,917.9 284.4,854.5 298.2,901.7 284.7,866.8 291.2,864.1 293.9,898.6 287.6,963.5 281.2,890.9 282.7,830.2 285.9,954.2 298,943 296.6,866.3 294.2,916.4 296.3,881.4 288.2,859.6 293.2,907.6 295,945.2 282.7,844.5 290.1,824.5 288.6,879.1 280.8,880.5 282.9,923.2 287.1,826 292.2,969 289,929.7 296.9,924.7 296.9,869.2 283.1,836 296.1,835 291.6,861.8 294.9,885.3 297.5,832 297.6,827.3 293.6,855.4 284.8,911.2 283.5,875.1 288.7,894.9 297.9,831.4 287.9,901 286.4,876.7 296.9,957.7 283.5,872.1 291.9,909.8 290.3,995.6 293.3,910.2 297,875.6 290.5,900.6 282.7,874.5 287.4,896.7 294.3,867.3 286.9,904 295.6,859.8 295.7,897.4 280.8,884.6 295.6,931.8 282.3,894.1 287.5,846.2 282.8,992.4 294.5,947.5 296.7,997.9 297.3,810.7 293.3,965.3 286.3,1009.1 293.7,893.1 297.5,851.4 286.8,839.9 282,858.8 280.4,1037.2 296.6,858.1 286.7,801.2 283.1,933.4 293.5,888.7 286.7,812.2 294.9,873.8 282.2,914.4 283.4,989.2 292.4,892 296.5,864.4 298,890.1 291.5,817.8 297.6,792.8 296.8,851.2 290.8,919.9 291.1,798.5 295.7,999.5 297.7,862.9 288.3,1022.4 291.7,887 288.7,868.5 282.1,916 297.7,1045.7 288.2,913.1 285.8,824 290,807.2 291.6,809.2 292,906 293.3,912.4 293.8,938.1 286.3,870.8 294.6,981.1 281.8,882.5 288.8,883.2 296.8,903.5 280.3,983.7 284.2,865.5 294.6,973.8 283.1,870 287.7,971.2 281.4,1040.2 288.5,853.5 296.5,950.5 281.7,925.6 282.4,873 289.2,871.2 290.2,838.4 294.4,946 286.8,833 282.6,888.2 291.2,934.9 290.8,837.2 292.5,856.1 292.6,985.9 283.1,849.3 287.3,1005.3 289.9,889.5 285.6,797.5 292.6,941 297.3,814 289.1,908.3 295.7,804.8 293.1,877.9 289.5,976.9 297.2,1002.1 295.5,882.4 284.7,885.9 288.4,898.2 290.7,829 292.3,804.2 285,952.2 296.5,920.9 297.4,959.7 281.8,917.5 285.2,927.7 293.9,922.3 290.2,847.9 291,1012.9 296.8,926.6 294.7,857.2 288.7,843.7 282.8,893 288.6,879.7 284.6,785.9 296.1,1015.8 292.5,848.7 294.8,899.6 284.1,906.5 290.5,967.1 293.3,877.6 287.1,987 282,909.1 290.6,1032.3 282.4,820.2 283.2,845.1 290.3,815.4 293.8,924.1 297.5,962.5 285.2,905.4 292.5,812.9 291.3,957.5 285.3,819 285.2,915.4 287,953.3 283.9,821.4 294.1,862.7 289.8,861.2 290.5,921.4 280.3,974.4 295,852.8" fill="none" stroke="none" marker-start="url(#mr)" marker-mid="url(#mr)" marker-end="url(#mr)"/>
<polyline points="313.4,916.2 313.8,908.1 326.7,989.7 315.9,869.7 313.8,881.8 325.9,949.7 316.5,932.3 312.1,898.7 326.5,960.8 326,977.5 322.3,1009 327,935 325.1,879.7 317.5,951.6 314.1,891.9 319.2,956.9 316.3,979.1 314.4,924 323.9,902.9 320.8,983 328.3,911.5 318.6,912 325.1,846.8 317.1,930.2 327.2,918.4 328.8,860.3 318.9,936.5 323.7,993.5 318.4,938.6 319.5,928.7 322.6,904.9 312.9,922.5 314.6,921.2 317.8,1002.2 317.4,900.7 328.8,855.1 311.8,917.2 316.8,829.3 323.8,957.5 315.4,895.8 326.6,933 322,936.1 311.7,809.1 324,927.8 318.8,946.1 317.1,914.8 324.3,842.9 313.8,905.2 316.2,909.6 317.6,942.7 313,874.6 312,887.4 313.3,826.2 322.8,950.1 320.8,985.3 323.3,966.2 313.2,1022.6 328.7,948.3 323.9,1043.3 312.6,954.7 311.3,942.4 316.8,968.5 318.7,885 320.2,868.5 323.2,897.2 311.6,975.1 320.2,877.4 328.9,864.4 319.6,997.9 324.1,964.6 324.3,926.4 311.7,893.3 313.1,836.1 317.2,939.8 324.3,945.2 315.6,970.2 325.3,930.6 320.9,940.3 318.1,852.8 314.4,848.7 319,1007.6 315.6,943.9" fill="none" stroke="none" marker-start="url(#mr)" marker-mid="url(#mr)" marker-end="url(#mr)"/>
<polyline points="343.7,904.5 351.7,927.3 357.1,1111.4 351.4,995.5 347.7,1021.7 357.8,972.3 350.3,944.3 355.4,931.5 349.8,996.1 349.9,965.8 351.9,971.2 355,1006.4 355.7,1030.5 353.9,987.9 349.3,1001.8 357.7,1080.7 345.6,980.6 343.6,973.2 342.9,905.9 342.1,970.2 343.6,1030.9 355.6,944.9 347.5,881.9 352.2,1077.3 344.1,945.6 358,969 342.4,1071.3 352.8,1100.6 347.8,882.9 355.9,996.4 352,988.4 348.9,988.8 347.4,1031.2 345.4,976 348,975.5 350.3,1012.8 345.9,1061.1 349,1103.5 356.6,1043.3 355.8,937.7 359.4,923.3 358,967.7 347.2,984.4 359.7,1009.7 345.3,988.3 354.5,984.5 346.5,1018.4 354.4,1032.5 352.5,1000.4 359.2,941.3 350.2,1030.1 349,942.5 356.5,928.7 359.6,982.6 348.7,1076.6 344.3,913.8 357.9,890 351.6,1000.1 346.1,1062 357,903.5 349.2,1007.4 356.5,1029.9 355.6,1031.4 357.5,1083.1 342.6,995.4 346.4,970.8 342.1,968 352.1,891.3 345.4,1007 346.1,1106.9 346.8,917 355.9,1108.9 353.8,910.5 358.7,1051.7 346.4,972.9 344.7,997.5 345.7,1042.8 359.4,988 347.5,981 351.6,1033.8 355.7,1017.5 358.7,1053.4 348.4,1003.8 358.4,963.6 353.8,954.5 344.5,949.5 347.1,1022.6 347.8,1074.7 345.8,979.1 357.6,896.6 342.1,1097.8 347.9,986.8 354.2,994.6 354.7,1024.3 349.3,908.8 352.2,966 353.3,1067.9 347.9,943 353.4,1010.6 348.5,966.9 348.8,929.9 351.9,1054.3 349.3,1010.1 346.9,1021.5 356.2,1006.8 352.7,936.5 358,1078.1 354.5,1066.9 353.5,891.7 348.1,1055.5 354.6,951.3 345,974.4 358.5,915.9 356.9,1094.8 355.9,996.9 355.2,912.7 343,1048.6 354.4,901.5 355,902.8 349.5,1095.8 352.3,1045.9 345,1054.5 348.8,1056.1 350.5,1020.6 355,974.7 354.8,985.2 346.5,1090.1 359.8,1099.6 343.3,925.9 359,1118.3 347.8,1048.1 346.4,1034.1 357.3,925.3 358.9,970.6 359.4,1005.7 353.1,991.8 354.2,932.8 345.6,997.9 351.4,1067.2 350.6,926.3 343,995.1 350.9,1101.8 344,949.7 356.7,1078.9 343.6,959.4 342.9,1064.4 343.3,921.7 349.8,986.1 349.9,998.7 344.2,1047.3 346.7,915 354.1,1035.6 344,938.7 349.9,991.3 348.6,1008.6 350.9,1018 359.5,952.2 348.7,982.7 342.4,1063.8 348,1025.3 356.6,994 351.4,1023.8 342.1,885.1 354.5,1060.9 347.3,965.7 350.4,962.2 346.5,978.5 344.5,911.4 350.4,1011.5 355.3,971.6 345.7,886.3 352,998.3 351.6,1088.2 348.1,983.9 356.2,1085 345.5,1098.9 343.7,935 348,941.8 344.8,1051.2 353.3,1014.9 346.2,1024.9 352.3,1091.9 353.3,1020.8 349.3,1005 359.2,1011.2 350.5,1016.5 358.4,1010.8 352.6,1084.3 358.4,1020.1 347.3,993.7 342,982.4 352,1034.9 345,948.2 342.3,926.8 346.9,1030.6 351.1,888.6 350.7,999 345.7,1022 359.1,942.1 342.5,979.6 355.1,1022.3 356.5,917.4 344,1032 353.2,1004 347.3,985.1 350.8,954.9 349.9,1019.6 346.5,1018.7 344.1,878.3 355.2,1014.6 354.9,920.7 346.6,894.8 356.2,1062.9 343.9,973.8 345.9,992.9 352.2,983.3 359.6,983.1 355.4,1007.9 355.4,980 342.2,1053.1 347.4,1013.8 359.6,1082.5 344.6,1047.9 349.1,1086.7 351.4,987.5 345.8,1005.7 353.1,953.4 344.8,1028.5 347.7,1037.1 343.9,1084 348.6,1005.4 346.7,1052.6 355,974.1 348.7,994.6 359.6,886.5 358.5,919.1 341.9,1041 352.6,989.3 357.6,1026.2 355.9,985.5 343.6,975.1 358.9,908 342.1,1066 349.5,924.2 348.6,1087.7 346.8,1079.8 358.7,1019.7 359.7,913.3 354,1032.3 347.3,1105.8 355,1085.4 343.8,1003.3 353.5,1063.1 354.9,964.6 354.5,957.5 357.8,996.7 346.9,1022.6 354.4,1094.2 358.7,972 357.1,1009.2 356.9,1016 355.7,981.1 341.8,978.7 349.5,999.9 351.1,972.7 348.8,1023 342.6,914.5 347.9,1098.4 349.6,969.3 347.4,968.2 359,1058.7 343.6,987.1 343.1,1003.1 349.9,1002.2 345.1,990.5 358.8,1042.6 359.6,1037.5 343.3,1027.3 351.1,1013.6 357.5,985.8 342.4,1025.5 351.7,981.7 350.1,892.7 350,990.2 351.7,939.7 342.7,1081.2 355.4,973.6 358.4,1036.3 357.1,1035 350.3,929.2 355.8,1054 356.9,955.9 346.2,1032.8 348.1,997.2 356,1024.7 357.4,1018.9 352,1073.4 356.7,1040.4 357.3,946.4 356.9,1093.1 344.3,1011.2 346.3,1026.8 341.9,907.2 343.4,1006.1 347.6,933.3 357.8,960.5 358.5,1014.3 344.5,973.3 352.6,1083.3 358.7,1000.7 350.7,901 356.4,989.4 355,976 347.7,1101.4 359.2,1093.7 348,963.9 358.6,930.9 358.9,922.8 348.7,1090.4 349.2,1026 354.2,1035.3 344.3,1033.7 358.5,959.2 355.1,991.9 346.7,967.5 352.2,1004.8 342.8,997.6 342.6,901.9 355.5,1075.6 347.4,975.6 355.8,965.1 355.6,1039.4 346.8,950.4 345.4,940.3 353.7,1014.1 349.3,1113.2 353.2,1038.3 359.5,998.6 353.9,1027.4 346,986.7 351.5,956.5 350.4,1068.5 346.1,894.1 342.5,992.2 344.9,1000.9 351.2,1002.9 343.6,947.2 356,1024 350.1,1070.7 353.1,1068.8 356.9,1036.8 357.4,1021.2 354.4,971.3 357.6,982.1 349.8,977.5 349.4,1001.3 352.4,1058.9 357.9,940.6 357,986.4 351.3,948.7 352.4,1092.2 354.4,1023.5 352.2,974.4 352.8,959.9 345.7,1008 343.7,1018 346.9,971.8 352,1019.2 352.7,1060 355.4,1027.9 351.1,898.8 354.9,1069.7 345.2,951.7 356.3,1055.3 347.8,961.4 348.7,1061.5 345.2,990.9 357,1050.7 347,1013.2 350.6,979.9 355.8,1038.8 345.6,911.9 356.1,1064 353.9,977 358.1,1012.1 347.5,1035.7 342.4,981.7 343,993.6 355.9,934.4 356.8,1038.1 352.3,1002.6 347.6,1065.5 348.1,989.6 346.3,999.6 355.9,1031.8 351.4,1060.1 350.7,1051.9 346.1,996.5 344.7,1029.5 359.7,1071.9 354.9,934.1 342.4,916.3 356.1,963 357.9,1004.4 353.3,987.4 342.1,919.6 353.6,988.9 349.6,1017.2 346,1041.6 352.9,1075.3 353.5,1103.2 346,990.9 357.7,1028.7 350.7,1087.2 355.3,936.8 343.2,1028.2 359.5,1002 353.3,977.8 345.5,976.8 359,1057.5 344,966.8 356.5,990.4 349.2,932.5 353.8,1080.3 348.1,1029.1 353.9,994.9 358.5,1049.1 353.8,1026.6 349.9,1012.9 354.5,1046.3 351.8,993.4 352,1072.2 351.5,976.6 355.6,978 358.9,1004.3 356.4,1041.9 344.7,1017.4 344.2,896.8 352.4,1108.7 353.6,993 356,980.6 346.3,1077.6 351.8,1070.2 354.7,989.9 346.7,972.5 347.6,969.7 356.8,1008.2 358.4,994.2 354.9,984.2 357.1,937.9 343.9,967.1 358,910.9 349.4,873.1 351.7,1049.5 352.6,976.4 344.1,1015.1 343,1089.1 358.9,1066.3 357.5,1010.3 347.8,969.9 353.8,978.3 355.7,979.4 346.3,966.2 352.7,920.1 349.9,1025.7 351.6,1074.3 349.7,918.4 346.1,957 352.6,918.2 352.3,909.5 345.7,967.5 356.9,968.6 351.1,1056.5 344,1045.5 358.6,1073.7 348.7,1020.4 358.3,1012.4 356.6,1008.9 345.8,945.3 342.3,968.7 354,924.4 351.7,980.3 351.3,965.3 357.5,1040.7 358.5,1012 356.6,1043.8 350.7,899.9 352,962.4 344.5,899.1 356.1,947.6 356.3,929.7 353,1089.5 358.6,943.6 343.8,1029.4 356.5,983.1 342.3,1009.5 345.3,953.9 351,889.2 350.3,979 343.6,935.8 342.1,1091.3 349.5,953.1 357.6,1064.8 359,903.9 351.5,995.8 344.4,1044.1 342.8,1096.3 344.1,1023.3 358.3,1072.7 342.6,992.6 347.7,1059.2 353.1,946.6 354.5,921.6 345.4,969.4 347.3,1047.1 342.1,986.3 343.5,1096.6 356.3,897.7 355.9,1057.8 350.6,992.4 348.1,975 348.2,1001.6 342.4,957.7 357.3,1033.5 359.1,970.4 355,977.3 350.3,1007.6 348.1,955.3 359.3,1069.2 359.8,905.3 357.8,958.6 346,984.8 343.6,1039.6 347.2,1076.4 344.3,961.2 359.1,922.7 350.7,1104.9 347.5,999.4 358.4,1079.4 357.8,1033.2 344.2,909.2 349.4,906.4 349.4,895.8 356.3,1045.3 349,1050.3 342.6,950.6 357.9,1015.6 351,1044.9 355.5,983.7 348.7,1016.2 348.8,981.4 355.5,1081.6 343.5,1027.7 359.1,935.5 358.8,939.3 346.8,1034.4 359.7,1016.7 346.9,991.4 345.1,966.4 348.6,1015.5 347.3,928.2 342.6,931.2 346.3,1056.9 343.7,1086.2" fill="none" stroke="none" marker-start="url(#mr)" marker-mid="url(#mr)" marker-end="url(#mr)"/>
<polyline points="389.5,950.9 375.4,894.9 378.9,937.3 379.4,866.6 378.1,957.4 380.2,898.5 376.2,900.4 375.6,860.5 374.6,872.9 379.2,923.5 387.3,921.9 389.9,875.1 379.7,965.2 387.4,923 375.6,849.6 388.6,939.9 382.2,939.1 390.1,902.5 379.7,992.8 380.1,837.2 380.6,1012 389.4,945.7 384.6,894.6 373.4,1049.4 382.2,973.8 386.8,1008.4 385.2,978.7 379.8,848.3 375.8,969.7 374.7,903.3 379.6,945.3 388.1,1004.5 385.1,941.9 376.4,953.5 376.6,932.9 373.8,879.9 377.4,920.1 389,857 384.8,877.3 373.3,940.6 377.5,993.4 381.8,918.6 389.8,889.2 380.2,868.7 375.2,894.2 374.1,915.8 374.7,904.5 389.6,912.9 390.6,935.2 382.6,929.5 388.9,931.4 384,988.9 387.7,998.9 381.3,999.7 389.3,854.7 376.8,949.9 390,867.8 385.2,893.1 373,878.2 381.4,913.7 390.1,977.2 382.2,989.3 387.1,855.9 376.3,851.8 387.5,958.9 389.4,879.3 384.4,929.1 381.7,960.4 376.3,955.4 383.8,938.8 385.9,822.1 384.5,907.2 379.3,871 381.1,844.6 388.1,933.4 382.4,943.5 380.9,936.1 382.8,864.5 378.5,919.6 389.5,869.9 385.8,927.7 385.1,980.2 385.8,866.3 381.2,915.4 378.2,917.9 385.4,817 378.9,962.4 375.6,924.6 378,852 375.6,896.3 382.2,908 380.4,845.4 385.1,860.6 380,899.7 374,927.1 390.3,881.6 373.4,948.9 388.5,990.8 386.5,1022.6 389.5,901.9 373.5,854 387.6,914.2 390.1,830.9 387.9,905.7 390,934.3 374,840.5 378.8,936.2 376.1,909.4 385.9,842 383.6,982.1 384.9,858.2 386.9,1002 389.9,986.7 380.1,897.6 383,906.6 375.3,918.8 376.9,968 380.8,952.5 374.2,942.3 378.4,882.8 384.4,916.1 376,887.6 381.5,890.2 384.1,972.8 385,921.2 373.2,941.1 380.7,904.1 382.9,976.6 372.8,970.3 377.5,834.9 374.9,940.1 381.1,885.4 376.4,888.6 378.1,832.4 381.6,1043.3 376.8,946.1 384.1,971.6 382.8,902.6 390.3,954.6 380.2,938.2 372.8,911.3 374.3,944.4 381.4,943 379.7,886.4 389,847.1 378.8,947.8 383,875.7 387.2,908.4 387.9,925.5 390.6,862.1 380.5,828.6 375.1,920.6 384.2,925.5 388.2,1061.6 379.8,986.4 384.6,881.8 381.7,1037.2 385.2,1052.5 388.1,963.6 374.3,996.6 383.1,930.7 388.2,942.7 382.2,896.5 380.3,897.1 388.6,994.8 376.2,907 374.7,899 377.2,898.2 386.8,839.2 377.7,900.6 386.2,873.2 375.5,924.4 384.6,931.2 381.4,922.6 374.6,944 385.9,926.1 379.6,947 375.8,966.8 382.7,864.1 374,1016.8 388.2,895.7 382.4,909.9 388.1,920.9 378.1,932.1 376.8,932.6 382.4,928.2 384.6,961.7 384.2,936.8 390.5,926.6 382,979.8 390.3,901.2 390.5,891.7 382.1,1006.1 384.5,914.8 390.6,965.7 386.7,893.7 382.4,924 386.9,930 378,905.4 377,938 383.5,909.3 380.8,912.1 385.9,928.8 384.6,916.6 383.4,917.1 372.8,956.7 376.6,984.1 385,982.8 390.5,911.6 376,910.7 375.6,975.2 380.7,934.9 381.1,934.2 388.6,904.7 376.2,958 375.1,913.1 385.2,884.7" fill="none" stroke="none" marker-start="url(#mr)" marker-mid="url(#mr)" marker-end="url(#mr)"/>
<polyline points="414.4,933.2 416.7,908.4 406.1,938.5 412.9,971.4 410.6,895.7 415.5,945 412.7,929.1 411.7,896.2 415.6,934 419.9,1015.9 415.7,896.8 420.3,910.3 407.7,936.6 415.4,906 409.6,897.5 419.2,926.5 404.1,914.9 412.9,917.5 421.4,984.1 413.8,921.5 411,958 403.9,925.4 409.4,981.5 409.8,952.3 414.2,834.1 413.1,946.4 416.1,902 418.3,899.4 410.2,931.5 410.5,913 420.7,972.8 411.4,973.9 405.2,891.7 417,872.8 412.6,927.6 415,931 411.8,882.7 405.9,953.9 407.4,903.6 420.5,926.2 408.2,898.6 415.4,937.3 420.8,926.9 407.7,837.3 407.4,902.5 417.9,916 418.9,904.4 419.1,865.3 418.4,919.6 404.5,965.7 408.5,956 418.9,976.5 407.5,889.3 416.5,951.4 406.8,916.4 410.8,903.2 411,864.2 411.6,866.8 411.2,940 413.5,918.6 414.9,915.1 404.1,908.5 412,913.6 404.1,893.5 419.8,936.9 410,932.1 409.6,937 406.8,870.1 406.1,968.7 403.8,907.5 411.8,892.2 417.8,895.6 408.4,922.2 416.6,867.6 407.3,928.4 406,969.2 403.9,907.3 420.5,931.7 406.8,910.4 419.8,841.5 419.8,898.3 418.1,934.2 419,930 409.3,918.6 411.8,973.6 409.7,911 415.2,940.4 415.7,887.1 419.2,924.7 404.5,982.6 405.8,928 413.5,912.9 413.6,907.8 408.7,984.8 404.6,982 419.2,894.2 408,934.6 411.3,923.5 413.5,941.9 412.8,849.9 419.6,899.5 420.4,913.4 412.9,956.5 406.1,923.1 414.3,898.8 405.8,925.1 405.5,881 421.3,906.3 420.7,927.2 410.6,900 414.6,901.2 420.6,900.8 408.8,900.4 409.8,877.2 408,928.8 420.2,949.1 413.4,1028.7 406,964.3 418.9,987.7 409.6,989.1 413.2,894.8 411.3,958.6 408.5,971.6 410.5,864.8 406.2,851.6 417,888.2 421,925 413.9,902.6 410.7,956.9 403.7,859.1 416.4,941.1 404.6,853.1 420.6,884.5 418.6,910.1 403.7,893.2 414.2,886 408.6,910.8 410.3,909.7 405.1,890.3 405.5,913.9 412.6,884.4 411.1,960.2 407.2,854.8 417.4,930.2 418,871.7 420.6,955.1 404.9,918.1 409.3,988 408.9,866.7 410.9,944.2 413.4,909.1 413.3,856 415.4,860 414.3,909.6 417.2,899.1 407.2,852.7 411.3,966.4 419.1,921.8 413.4,885.4 418.5,903.9 418.6,925.9 404.3,911.8 406.8,873.7 420.8,857.6 405.5,938.7 414.6,923.9 420.2,879.4 408.5,920 419.1,874.2 413.2,875.5 418.3,999.2 418.2,917.3 406.4,908.2 415.9,901.6 416.4,1006.7 414.4,1012.8 412.6,912.2 414.6,924.2 408.9,948.4 408.2,961 413.4,953.1 413.3,922.6 412.3,904.9 414.5,906.4 416.2,914.5 412.1,871.2 415.2,962 405.2,876.5 405.1,876.3 406.6,844.6 415.8,900.3 413.9,920.5 411.1,923.3 413.3,1002.6 406.1,935.4 413.1,976.3 412.9,905.7 411.7,942.6 412.2,917.7 415.1,816.4 418.8,850.1 414.8,994.5 411.5,839.3 406.8,938.2 410,949.6 412.7,846.1 408.7,943 405,914.6 405.9,888.7 412.4,914.1 410.2,929.4 415.2,906.8 409.2,947.3 413.9,911.5 411.2,933.6 419.3,920.9 405,939 417.9,896.3 415.3,895.2 414.8,975.5 415.3,932.9 420.6,897.9 407.7,915.5 414.6,1018.9 406.6,901.8 409,844 406.8,936 406.7,990.4 411,912.4 415.8,935.1 406.9,954.2 420.7,905.2 415.7,950.6 412.6,967.9 407.5,863.4 404.2,951 417.2,879 406.1,961.7 407.2,919.3 407.1,908.9 405.5,829.8 411.3,947.6 419.4,890 404.9,980.5 410.9,886.6 419.3,875.1 409.5,868.9 409.9,978.4 418.6,896.5 408.8,920.7 413.3,877.9 416.3,901 405.7,921.9 412.2,862.5 412,903.8 418.6,891 406.4,907.1 412.4,859.6 410.9,882.1 418.9,870.8 416.9,1022 408.7,856.9 403.7,905.3 415.8,927.8 408.5,945.8 418,996.8 404.2,848.3 405.1,930.7 420.7,855.7 412.1,970.1 420.6,979.7 419.4,963.9 410.2,929.6 416.2,943.7 412.8,793.8 404.2,904.3 419.4,911.6 415.5,992.3 407.9,936.1 415.9,880.4 413.9,934.9 409.1,1025 405.1,818.2 404.3,963.1 415.9,881.5 415.1,919 404.8,902.8 420.3,964.8 407.1,916.7 416.2,861.8 417.5,985.9 408.4,847.9 412.7,868.9 413.2,883.5 409,916.3 410.5,977.5 418.3,897.3 410,860.8 417.9,967.6 406.8,937.7 417.1,959.1 405.1,932.4 420.9,898 411.4,932.6" fill="none" stroke="none" marker-start="url(#mr)" marker-mid="url(#mr)" marker-end="url(#mr)"/>
<polyline points="446.2,1125 436.5,1121.4 448.2,1106.7" fill="none" stroke="none" marker-start="url(#mb)" marker-mid="url(#mb)" marker-end="url(#mb)"/>
<polyline points="469.8,941.8 479.2,968.3 471.5,915.8 473.7,1115.3 481,976.7 480.8,1092.7 468.9,1100.8 468.9,999.5 479.1,1048.3 470.8,931.2 466.2,1062.5 470.1,1023.9 475.6,995.7 473.4,989.4 481.1,1055.3 474.7,1028.3 467.3,954.2 477.6,1073.8 474.3,988.9 476.5,1082.8 477.5,981.8 478.7,1032.9 474.4,1045.8 478.1,1001 475.5,993.6 476.3,1070.4 475.7,1041.6 469,1011.7 474.3,996.2 465.2,1010.9 474,1036.2 480.8,1002.7 474.4,1016.4 474.4,974.9 474.5,1005 477.4,957.8" fill="none" stroke="none" marker-start="url(#mr)" marker-mid="url(#mr)" marker-end="url(#mr)"/>
<polyline points="509.6,1126.6 510.5,1125.2 508.5,1125.6 503.6,1124.7 500.9,1126.4 501.4,1124.9 498,1124.4 508,1126.1 501.8,1126.9" fill="none" stroke="none" marker-start="url(#mb)" marker-mid="url(#mb)" marker-end="url(#mb)"/>
<polyline points="536.4,936.1 532.3,960.7 541.2,855.4 535.5,964.9 530.4,957.1 537.3,972.7 535.5,959.2 535.1,1004.7 532,993.8 543.7,885.9 529.9,860.3 527.4,977.4 530.3,945 539.3,928.7 541,956 543.5,916.5 530.5,972.5 537.3,1021.2 528.7,995.7 530.8,991 529.3,1030 538,896.7 536.3,953.7 529.5,1052.5 539.3,971.6 542.4,935.4 530.2,950.5 542.6,923 528.8,1019.2 535.1,966 543.2,924 534.4,942 536.9,936.3 539,1003.5 540.4,906.3 532.9,975.9 532.5,942.8 529.6,977.6 535.8,878.4 543.9,970.7 539.2,974.9 528.7,933.9 534.4,974.2 540.9,954.3 534.2,949 536.6,967 532.4,974 526.9,976.3 528.6,905.8 530.7,985.2 529.6,966.7 532.5,1031.1 529.1,888.5 534.8,866.1 529.7,1021.4 531.9,880.9 539.1,907.3 537,970 543.2,934.6 530.8,960 533.9,1012.5 528.7,944.9 542.8,926.8 529.2,1032.7 541.6,972 530,979.5 537,975.1 538.2,927.9 544.1,921.9 530.6,909.7 540.9,965.7 535,977.1 532.8,935.6 541.7,981.6 530.7,934.1 541.9,1078.1 531.1,933.3 541.3,954.9 540.1,996.5 528,1036.9 544,869.1 529.6,946.5 543,954.6 530.9,960.7 541.3,958 537.6,951 537.3,1009.4 532.3,1026.2 527.1,1000.6 531.8,999.9 543.5,930.4 529.6,974.3 541.9,945.7 532.5,1038.5 533.3,873.9 532.9,978.6 534.8,958.8 543.3,1032.6 543.9,895.5 535.4,945.4 534.5,965.1 528.5,940 541.6,900.9 537.8,1023.2 538.6,915.5 543,935.1 540.3,974.5 544.2,926.1 542.6,1039.3 541.2,975.6 532.4,937.8 531,964.6 543.8,923.7 537.8,918.9 540.9,942.5 534,939.9 535.7,1022.2 540.2,961.3 530.9,883.6 527.1,1007.3 535.6,929.6 528.4,992.9 528.6,941.4 543.3,907.6 541.1,944.6 544,921.4 536.3,1009.3 527.6,1014.3 531.4,886.6 541,976.4 539.3,1002.4 542,863.5 544.7,998.5 537.9,967.5 531,947.4 530.9,1034.2 536.8,955.5 543.9,925.8 535.5,1006.1 527.7,951.5 528.4,911.6 534.4,948.3 538.9,948.5 544.6,896.8 535.1,1018.9 532.2,944.4 544.7,899.1 538.6,884.2 541.5,1042.2 531.8,951.9 538.8,914.1 533,935.8 528.9,872.2 540.7,977.9 538.9,894 541.9,985.8 533.5,982.6 531.6,1045.2 541.1,968.9 542,961.6 541.8,961.9 529.3,880 533.7,1025.2 538.1,877.1 539,972.3 535.4,972.8 539.3,949.4 530.2,912.5 527.9,943.3 538.7,959.3 541,989.7 541.8,983.1 541.9,1010.1 534.3,947.9 532.6,871.9 544.5,950.9 538.3,950.1 541.3,990.5 529.5,986.3 540.4,902.2 544,893.5 543.6,938.5 544.6,1019.7 530.3,988.9 542.6,938.9 536.2,948.2 532,1040.7 529,953.9 541.1,975.9 534.3,1028.2 537.1,947.7 540.5,963.2 526.9,971.8 531.7,940.6 536.8,931.8 527.7,874.4 537.5,878 530.3,967.2 542.8,970.2 541.8,894.2 538.2,1044.4 543.5,931.5 537.4,1013.7 528,1014.4 532.8,940.8 542.9,973.2 533.6,1128.7 539,1007.7 529.8,884.9 539.8,1020.4 527.7,888 538,933.2 535.3,1001.6 543.4,969.2 537.4,908.7 532,977 543.1,864.7 540.5,928.9 544.5,893 544.2,938.3 544.6,937.2 532.9,903.6 543.6,937.4 536.8,867.8 533.9,1058.5 531,963.8 544.3,994.5 531.2,958.2 539.6,939.6 535.8,937.7 539.7,951.3 538.3,932.9 541.6,946.6 538.5,962.8 529,911.2 536.1,882.2 534.9,943.4 534,968.1 530.5,918.6 533.6,906.8 542.2,970.5 537.8,963.5 530.3,962.3 538.2,932.5 529.9,946.8 543.7,958.6 532.7,1017.4 539.4,952.4 529.3,981.4 539.5,976.7 537.3,961.6 531.9,969.6 533.8,959 544.1,980.6 526.8,900.5 533.9,862.1 533.6,1011.5 539.5,1004.3 542.5,917.1 532.5,941.1 529.4,1034.3 537.5,962.4 527.5,997.6 533.8,989.8 537,973.7 540.6,948.9 539.7,988.6 528.3,882.9 530.9,913.2 527.5,963.7 540.5,954.2 528.1,960 530.6,1018.3 539.7,930.2 533.3,901.8 530.9,1005.4 532.7,890.7 541,936.8 541.3,986.8 532.1,876.9 540.1,971.4 535.6,1023.5 536.3,929 536.2,928.4 528.6,919.3 541,945.8 529.5,1000.9 543.4,895.8 539.8,934.6 528.5,984.6 542.2,918.2 544,931.3 532,942.1 542,900 528.3,935 539,973.3 534.8,915.3 537.5,922.4 537.7,966.3 544.4,927.2 544.3,965.9 530,956.6 537.9,1016 535.8,953.4 538.3,1024.6 530.6,945.3 530.3,950 535.9,955.7 536.1,969.3 537.3,949.8 539.6,909.4 543.7,1047.6 540.4,952.5 528.1,943 535.7,941.6 535.7,926.7 538.4,934.2 542.1,890.1 543.4,957.4 542.4,964.2 529.6,975.2 543.7,931 538.8,956.8 537.6,892 536,886.1 535.2,987.5 542,931.2 529.5,957.3 528.1,922.6 536.4,942.4 538,929.9 539.7,983.9 528.8,910.3 543.9,899.8 540.4,880.2 540.8,929.3 542.3,997.3 544.7,1008.6 527.6,951.9 544,979.7 538.8,1028.7 539.7,964.5 535.8,1010.5 529.3,895.1 527.7,914.7 527.4,938.7 529.5,999 536.7,891.8 542.1,913.7 532.1,992.2 535.9,903 527.1,960.3 543.6,1001.9 529.2,955.2 540.6,959.7 539.1,943.7 535.3,1015.2 536,897.5 528.3,917.5 532.4,1084.2 542.2,902.4 535,920.3 533.1,947.5 540.4,969.9 531.9,926.4 540.1,881.3 543.3,999.6 539.4,992.7 534.6,1006.9 540.6,873.2 539.1,875.6 531.5,984.5 528.6,960.9 540,926.3 541.4,912 542.2,905.2 528.7,869.8 543.5,936.9 533.8,1016.2 535.5,932 540.3,920.8 541.3,898.8 529.6,940.2 542.3,943.8 543.7,950.6 532,1016.9 544.3,904.9 528.2,956.2 530.5,1040.5 532,957.7 532.5,994.4 528.9,866.8 530.2,928.1 532.1,996.1 529.3,1005.5 539.9,953.1 529.2,875.2 532.6,1031.8 532.3,978.1 539.5,1027.2 542.4,939.3 543.5,939.4 532.4,904.1 533.2,982.9 530.6,968.7 542.8,936.6 534.1,947.1 537.6,910.5 528.8,891.2 527.6,968 527.1,1024.5 528.1,949.5 532.5,944.2 537.5,933.6 544.7,946.1 543.7,955.3 543.3,879.3 531.8,930.6 534.8,967.8 529.6,1013 537.2,928.1 537.3,991.5 542.3,966.6 533.3,1011.9 535.6,889.1 542.4,924.8 528.6,916.1 542,941.3 528,1003.3 528.7,971 530.5,884.6 539.9,930.1 532.2,995.4 528.6,887.5 527.4,889.4 535.7,927.2 533.9,927.5 531.7,1029.7 544.5,920.1 533.3,968.4 531.3,925.3 543.7,1035.7 536.4,1027.1 541.2,965.2 531.1,932.6 532.6,962.8 532.3,1064.7 534.9,938.2 541.9,932.3 538.6,952.9 537.4,987.7 539.1,1036.1 544.4,952.6 531.8,871 528.1,908 528.8,897.9 539.9,980.4" fill="none" stroke="none" marker-start="url(#mr)" marker-mid="url(#mr)" marker-end="url(#mr)"/>
<polyline points="564.2,1071.4 567.8,1044.9 572.5,990.5 572.4,1046.9 565.4,1005.5 567.3,1090.7 571.5,1022.8 574.7,1070.5 570.1,1050.3 574,1078.1 572,971.3 567.1,1028.3 569.7,1008.8 575.4,1023.6 573.6,991.9 569.1,1035.5 574.3,1052.8 563.1,1031.8 560.8,1099 566,981 568.3,985.5 562.4,1084.1 573.9,1011.3 567.5,1057 564.5,1014.9 571.3,1029 574.8,1013.5 560.1,1041.9 558.4,997 568.7,1043.2 566.6,999.9 563.7,1059.6 567.8,1064 569.8,1109.2 572.7,1017.9 558,963.4 569.3,1034.1 563.3,1025.4 570.1,1017.2 572.6,1038.9 569.8,1020.5" fill="none" stroke="none" marker-start="url(#mb)" marker-mid="url(#mb)" marker-end="url(#mb)"/>
<polyline points="589.5,939.7 592,986.2 600.4,934 592.7,995.8 597.6,925.8 604.5,1037.6 594.4,1026.7 601.3,1061.2 591.2,882.9 595.2,916 597.5,948.5 592.9,844.7 604.4,1019.6 590.9,911.9 591,1013.4 606.1,892.5 591.1,1041.6 602.1,901.7 601.4,983 603.3,949.8 599,1002.9 601.1,936.7 590.6,1012.1 604.5,898 597.2,871.5 604.9,919.2 589.2,972.2 605.5,910.4 605.2,958.6 596.8,1073.2 597.3,879.2 596.3,991.5 602.6,859.7 600.2,954 598.2,960.8 590.8,975.3 599.8,931.6 603.1,957.7 595.4,864.9 596.6,924.2 598.9,969.7 601.3,963.8 600.8,977.4 596.3,890.9 593.6,943.7 589.9,967.8 605.9,834.1 601.7,979.3" fill="none" stroke="none" marker-start="url(#mr)" marker-mid="url(#mr)" marker-end="url(#mr)"/>
<polyline points="622.5,942.5 634.8,820.7 624.7,957.8 619.5,856.7 625.7,926.6 624.6,879.5 622.7,859.9 634.4,894.2 625.9,896.7 627.5,901 625.1,857.9 627.7,910.9 628.9,940.4 629.9,905 625.4,932.1 637,848.4 633.6,1020.6 621.6,903.3 636,871.1 630.3,947.6 622.4,895.1 629.6,927.6 621.1,876.3 632.8,936.2 622.5,862.2 625.5,950.1 633.4,931.4 622.2,851.6 621.2,954.1 625.2,785.3 632,878.2 630.3,865.1 626.6,966 626.8,861.3 630.2,990.7 625.3,916.1 620,849.4 620.7,845.5 619.9,983.8 625.4,899.3 630.3,944.3 632,913.9 619.3,909.3 633.6,967.2 624.4,888.4 634.5,975.3 636.4,873.5 634.6,869.1 620.2,1017.5 628.3,945.5 631.2,1000.7 635.1,938.7 624.1,897.6 635.9,832.2 632.4,918.3 620.5,911.9 636.2,929.5 623.7,905.6 625.4,898.4 632.1,979.9 621.1,1028.7 624.9,941.4 626.5,872.6 628.7,906.8 626.6,938.4 627.7,846.7 625.2,1012.9 636.5,987.6 628,1008.5 631.7,949.2 620.9,919.5 630.1,954.3 629.8,930.1 626,906.1 620.7,1001.8 631,988.7 635.2,863 625,968.7 626.8,937.5 632.3,1038.4 623.9,959.2 637,978.5 624.5,882.2 624.2,895.8 635.6,922 625.1,942.3 628.1,972.9 627.2,922.8 626.3,961 621.3,904.2 629.7,962.9 629.4,948.5 627.7,1014.1 634.6,911.4 627.7,855.5 635.6,971.7 633.5,900.5 627.3,907.4 637,901.6 627.7,924 623.8,1017.8 635.9,953.2 626.1,977.1 630,890.9 636.7,950.8 631.9,874.2 619.6,887.8 629.7,886.1 628.3,914.5 626,935 627.5,996.9 630.3,902.5 623.2,842.7 630.1,961.7 630.6,913.2 633.8,946.6 631.4,882.3 625.7,928.7 631.5,837.6 627,944.6 637.2,939.8 624.9,833.7 632.1,974.3 626.3,998.3 636.3,902.2 632.1,933.1 631.7,1004.3 625.3,877.5 633.7,866.2 633.4,1009.3 636.7,787.1 626.7,994.3 636.4,986 624.5,970.4 633.5,793.2 626.8,952 631.5,983.4 619.5,920.8 620.5,893.7 625,892.7 637.1,898.8 620.7,838.3 626.7,1027 627.8,912.8 635,885.5 628.9,891.7 629.9,896.5 632.8,840.7 622.7,827.7 632.5,916.9 630.9,994.8 630.8,931 622.5,934.6 633.4,934 628.1,925 633.3,956.2 631.9,1006.2 628.6,883.9 628.1,853.7 620.9,982.2 631.8,1086 631.5,943.4 620.2,917.6 630.7,920.6 635.6,908.8 620.6,992.5 624.2,915.3 629.7,951.4 631.4,907.7 628.7,919 629.8,927.2 627.5,852.8 619.8,923.3 635.5,909.8 632.8,880.4 621.3,964.8 621.3,916.6 629,866.8 627.3,890.2 635.7,925.5 623.7,936.8 635.6,869.6 626.7,947 627,893.2" fill="none" stroke="none" marker-start="url(#mr)" marker-mid="url(#mr)" marker-end="url(#mr)"/>
<polyline points="652.1,1121.4 657.7,1001.8 659.5,1047.5 655.4,1114.5 655.7,1105.9 657.9,1122.7 655.2,1036.3 655.2,1126.3 654.4,1101.1 657.5,1062.1 653.1,1082.2" fill="none" stroke="none" marker-start="url(#mb)" marker-mid="url(#mb)" marker-end="url(#mb)"/>
<polyline points="685.8,956.1 698.4,1052.2 686.1,899.6 688.1,1055.1 692.8,889.6 689.4,1035.1 695.3,1099.1 695.8,945.5 690.4,978.8 684.7,1019.7 697.9,936.6 681.4,941.9 697.8,904 681.8,968.5 684,970.2 695.1,986 692.8,1028.8 697.1,975.8 687.7,953.6 689,898.4 682.4,968 698.5,931.4 690.4,909.4 685.3,912.7 684.7,1092.5 684.3,955.7 695.9,933.3 687.8,1076.2 687.1,1029.9 698.7,978.2 688.1,1024.6 681.4,885.8 684.7,1073.2 689.3,1089.5 684.9,1044.1 692.3,918.1 693.6,961.9 682,884.1 690.3,1000.7 697.3,1014.9 692.3,870.4 691,1005.6 689.4,1041.3 687.8,891.4 692.9,996.2 683.6,1043.3 689.9,923 688,988.8 689.8,997.8 688.4,995.3 693,1011.2 692,1018.9 697.6,948.2 686.8,1010.1 698.4,964.3 687.7,989.2 697.2,976.7 693.2,971.3 686.8,946.7 687.8,1055.6 695.4,973 683.7,949.9 692.4,943.4 682.7,1063.7 686.4,906.6 691,952.5 695.3,1082.7 693.1,950.6 695.1,934.7 693.4,939.2 688,1046.2 686.3,957.4 683.4,1016.4 681,992.8 693.6,970.2 696.8,896.7 686.2,1002.8 689.1,981.5 694.1,979.6 680.9,927.8 695.4,893.2 692.4,1039.8 684.9,958 685.1,1085.7 691.6,1080.5 688.7,1006.4 684.9,962.4 689,965.6 693.3,1069.4 686.5,1067.6 697.2,929.2 682.8,974 686.5,958.8 691.7,1031.5 695.4,1017.8 684.7,993.3 687.6,880 690.1,966 696.5,966.8 687,930.2 693.5,999.4 683.2,980.4 698.6,1058.4 698.4,1016 689.6,1007.3 695,963.9 682.4,924 687.9,1079.4 683,1004.6 698,949.2 682.3,1021.2 691.1,991.5 690.6,1013 683.9,1001.7 685.2,986.4 696.6,954.3 690.3,998.8 690.7,938 681.2,907.8 695,915.8 689,1060.8 689.2,960.1 684,1033.3 694.7,911 687.7,940.2 695,1026.8 682.2,920.4 696,947.4 693.9,1008.6 693.4,990.2 687.8,960.9 684.9,915.2 689.2,1109.2 682.8,1037.9 695.5,951.8 689.3,1004 682.8,972.3 685.6,975.2 688.8,921.4 685.8,902.3 691,982.3 687,987.5 685.9,983.2 693.8,1051.1 698.5,994.1 689.1,1047.9 687.4,1013.9 687.8,1062 696.4,984.7 687.5,1009.3 695.2,926.7 684.6,1071.2 687.7,1023.7" fill="none" stroke="none" marker-start="url(#mr)" marker-mid="url(#mr)" marker-end="url(#mr)"/>
<polyline points="722,1116.2 716.3,1107.2 717.8,1111.9 723.8,1104.9 716.9,1119.3" fill="none" stroke="none" marker-start="url(#mb)" marker-mid="url(#mb)" marker-end="url(#mb)"/>
<polyline points="752.3,981.4 759.9,926.7 751.3,906 748.3,957.3 759.5,886.2 749,923.8 760.4,877.8 750,1048 754.4,938 744.6,872.2 756.6,951.2 745.6,937.9 747.2,961.8 744,995.1 752.9,1062.6 760.4,1027.2 745.2,1032.2 753.1,928.3 745.9,919.7 747.7,953.6 743.6,946.8 752.8,972.9 752.1,1026.4 749.5,862.5 760.3,929.6 758.7,1038.6 747,950.7 749.8,918.6 750,923.5 743.9,966.3 759.7,950.8 758.7,917.1 743.9,833.7 746.5,911.5 759,960.7 755.3,845.5 745.3,942.4 759.7,899.6 746.2,852.6 760,851 750.2,1008.7 743.3,997.9 754.2,874.3 751.7,974.8 756.8,972.8 751.6,930 742.8,914 749.7,1008.8 742.6,936 747.7,995.7 746.6,963.4 752.8,885.3 758.7,975.7 743.4,955.2 745.2,937.2 743.5,1007 749.4,1092.1 747.1,921.1 750.5,942.7 752.1,918.4 746.6,1020.2 745.6,840.2 746.8,969 757.9,831.2 748.7,966.5 744.7,924.2 754.3,923.4 745.1,1021.5 756.5,966.7 751.5,913.6 747.3,1016.9 753,891.8 743.1,864.4 744.7,897.9 758.5,916.7 754.4,908.1 751.2,976.6 757.1,971 754.8,953.1 747.4,895.3 756.2,1057.8 754.8,920.6 745.8,842.2 757.5,1049.6 748.9,935.6 754.5,877.2 750.4,1045.8 747.1,968.6 759,850.5 756.7,925 750.8,914.4 745.9,810.3 760.5,919.1 747.5,963 751.2,1081.7 753.6,965.8 749.6,952.6 744.3,943.2 746.5,916 744.8,857 759.6,928 744.3,1003.9 760,932.7 746.2,1005.4 746.8,946.2 756.2,862 747.8,836 754,910.3 754.9,972.1 751.7,1002.3 751.4,901.3 755,1001.4 749.5,876.9 752.8,892.3 752.8,1053.8 749.5,1033.7 743.2,900 759.1,982 750.7,832.7 746.8,989.4 745.7,977.7 745.5,1015.5 757.9,896.1 754,879.3 754.6,1013.2 749.1,996.1 754.9,859.3 755.2,984.6 751.4,918.2 759.8,875.7 757.8,887.8 745.1,861.5 748.4,865.5 748.7,1047.8 742.6,1013.9 759.5,1070.4 745.1,960.1 743.8,935.5 759.2,1028.4 751.4,1001 743.4,1033 754.2,934.2 742.5,1039.6 746.8,1019 759,973.4 747.9,956.8 749.4,964.1 743.7,947.3 751.1,1011.7 745.9,938.2 757.3,976.1 758,946.1 749.2,945 747.9,878.2 757.7,936.2 748.5,1004.4 751.5,958.8 757.7,992.4 747.8,949.1 746.3,847.5 747.4,977.4 749,975.5 751.9,860 759.6,915.8 753.6,883.8 753.4,933.5 749.9,919.8 748.7,932.2 750.8,894.9 753.8,957.7 754.6,962.8 742.8,910.6 746.9,887.3 755.9,853.4 758.8,824.6 758.4,846.1 744.6,875.5 746.8,854.5 751,1044.5 760.3,839.6 759.4,923 755.8,1000.2 754.6,950.3 754.3,1073.7 753,965.9 745.7,994.3 748.3,912.6 745,967.2 755.3,963.8 750.9,968.8 743.1,955 746.2,858.1 756.5,999.4 743,929.4 743.4,1042.2 754,1029.4 745.8,1025.2 752.4,969.7 743.4,940.6 744.1,1014.2 753.3,911.7 745.5,889.2 750.7,944.1 755.2,892.8 748.5,946.5 742.6,967.8 750.6,1040.2 746.1,1002.6 745.3,866.1 750.2,922.9 757,972.6 745.8,954.5 758,962.6 752.8,867.9 753.5,974.4 756.8,1031.7 748.5,934.6 747.4,965.2 748.5,926.5 742.8,1042.5 753.1,893.4 747.5,959.2 744.3,961.7 754.8,933 751,913.2 748.2,881.1 760.3,970.5 758.7,1051.5 750.8,873.1 744.1,932.6 754.2,884.6 756.1,906.7 759.7,986.6 745.4,1029.4 754.3,956.2 748.6,949.5 758.5,990.3 758.4,970.8 750.3,937.6 743.2,851.9 743.4,1012.6 755.3,911 746.1,933.3 758.4,925.5 750.4,920.3 743.4,944.3 749.5,960.9 760,888.1 745.1,1005.8 748.2,881.9 759,962.3 758.4,981.2 747.3,921.9 759.2,905.6 755.3,1024 746.3,828.8 747.4,978.4 748.9,903.7 755,971.6 751.2,915.2 757.6,932.3 750.9,952.8 754.5,933.9 742.7,914.8 759.7,980 759.6,890.6 756.8,902.3 750.8,914.7 749.7,844.2 748.8,947.9 757.7,1062.1 750.2,898.4 748.1,948.9 747.9,1030.5 743.6,835.2 759.7,955.8 750.7,886.1 743.5,912.7 755.5,920.9 750.1,987.2 745.5,934.9 745.5,901.6 742.9,982.6 745.7,939.6 755.4,960.7 751,927.7 747,991.2 759.3,943.3 754.9,909.7 759.3,868.4 752.6,927.5 758.6,881.7 750.7,916.2 757.6,843.6 750.6,998.8 747.2,866.6 753.3,988.9 746.2,930.1 755.9,874.6 746.3,950.2 751.2,936.6 750.8,848 756.1,948 759.3,974.5 748.1,891.4 744.8,869.3 748.3,1049.1 760.1,1036.9 757.5,942.5 745.1,959.6 756.7,938.9 751.4,1066.2 749.9,922.4 758,1067.7 755.3,968.1 752.3,869.9 759.2,948.5 748.7,964.8 757.6,909.2 747.5,958.3 743.4,1015.2 743.6,1063.6 755.3,1052.6 752.2,1057.7 748.8,912.3 757.1,964.4 746,973.9 758.5,993.8 754.4,1018.2 746.6,991 752.5,1054.4 754.9,1034.9 750,1016 748.6,944.5 749.3,855.7 749,856.7 742.8,873.6 744.9,1059.6 742.9,889.8 751.9,971.2 759.7,1035.4 745.3,1006.6 760.3,940.6 744.4,912 746.3,998.4 760,978.8 758.6,910 760.1,939.1 756.2,956.7 752.3,1036.3 746.9,894.4 748.3,1007.7 744.6,949.8 758.2,974.2 751.3,945.2 758.8,904.3 744.3,870.9 760,943.5 745.5,928.6 747.8,917.7 745.9,961.3 748.5,1060 754.7,953.8 746.5,984.1 754.4,1031.3 754.5,888.8 746.8,979.5 756.8,940 760.5,871.7 742.7,946.9 750.9,1055.9 743.9,1050.8 752.9,830.9 755.1,940.3 744.8,1055.3 758.7,882.5 759.4,976.9 755.8,837.4 756.9,920.6 751.7,826 754.8,952.2 752.3,903 750,1019.8 745.3,879.8 758.3,883.2 748.6,854.1 754.8,880.5 750.5,945.6 747.6,849.2 753.6,867.2 759.3,897.3 749.1,970 746.2,860.4 747,1027.9 746.1,929 749.9,838.2 750.5,972.3 753.9,870.2 745.3,962.1 751.4,863.2 742.6,921.6 755,997.1 750.4,971.6 753.1,967.1 758.9,952.9 746.5,899.1 743.9,939.5 750.9,987.5 756.6,954.7 756.7,846.5 746.2,1025.5 745.2,913.8 754.7,969.8 752.5,827.4 744.9,924.3 745.5,930.9 756.8,855.5 743.7,938.5 759,926 749.4,922.1 749.3,815.9 743.4,904.6 752.1,911.2 759.4,988.1 757.8,931.3 758.5,1011.2 754.5,841.2 759.2,951.5 748.2,849.4 742.9,1065.6 746.5,907.8 753.3,957.3 752.3,936.5 751.6,973.5 748.8,976.8 751.7,834.2 743.8,1044.8 754.2,954 746.8,1017.8 757.8,969.3 745.7,926.3 759.6,943.9 751,993 746.3,1021 748,1010 752.8,959.1 757.1,907 752.4,963.7 747.7,916.6 753.6,1010.5 751.5,930.5 746.1,931.8 747.3,829.9 750.9,821.9 757,968.3 754.9,951.8 753.9,955.7 752.3,1037.3 750.2,917.4 759.2,1023.6 757,975.8 743.7,941.9 759.5,949.3 748.2,858.8 750,917.4 759.9,934.5 757.7,991.9 752.9,922.7 751.6,896.4 745.2,1043.6 751.5,910.5 758.8,1077 760.4,977.1 757.3,947.6 757.8,945.4 755.1,927.2 746.2,941.7 758,985.7 742.8,956.3 755.3,941 750.6,819.3 745.6,958.3 745.1,925.2 745,915.5 753.6,1003.6 750.2,965.5 744,941.5 759.2,985.4 750.1,954.4 744.1,937.1 744.5,967.5 746,930.8 758.2,952.1 755.8,941.4 746.1,863.8 757,1046.5 744.6,924.6 749.4,1041.3 742.8,900.8 758,926.9 754.3,931.5 748,913 752.4,935.2 746.7,964.8 756.8,838.6 750.2,929.2 745.6,822.9 760.2,948.2 743.4,983.4 746.8,1022.5 746.2,1023.1 746.9,919.4 745,1039 753.1,918.9 759.4,842.8 753.1,960.3 758.6,957.9 753.4,925.8 746.7,975.1 749.3,959.7" fill="none" stroke="none" marker-start="url(#mr)" marker-mid="url(#mr)" marker-end="url(#mr)"/>
<polyline points="778.1,1096.8 777,1044.2 775.2,1018.1 785.1,1054.7 790.4,1084.5 790.8,1046.4 783.1,1024.5 776.8,1125.7 780.5,1023.7 781.6,1031.4 790.3,1093.1 780.9,1030.4 788.4,1004.3 791.2,1063.8 780.1,1017.1 785.8,1019.1 786.6,1021.2 780.5,1028.6 785.9,1013.8 786.1,1026.9 775.5,1016 784.7,1035.3 785.8,1041.2 788.4,1088.2 783.8,1069 774.5,1058.6 775.5,1100.2 782.1,1110.3 774.2,1049.9 774.5,1007.1 777,1032.9 774.4,1076.8 783.3,1114.3 789,1011.1 790.8,1026 776.5,1029.8 782.3,1078.5 773.6,1011.7 779.4,1104.8 782.3,1082.1 774.5,1027.7 782.6,1023 775.9,1021.4 781,1073.7" fill="none" stroke="none" marker-start="url(#mb)" marker-mid="url(#mb)" marker-end="url(#mb)"/>
<polyline points="819.5,889.3 808.6,914.3 805.9,887.9 809.3,873.4 817.6,937.7 821.9,900.9 804.9,895.2 816.1,930.6 806.7,946.3 813.6,892.3 817.6,927.8 807.1,933.6 804.4,823.7 811.9,939.4 818,896.2 816.3,956.2 815.5,929.6 809.1,909.8 817,895.2 813.2,885.3 806.7,853.1 807.1,900.3 815.1,865.4 816,859.1 811.9,882.4 814.8,914.7 819.4,919.7 805.4,845.7 817.1,879.6 806.4,922.4 815.5,869.2 807.5,883.5 808.7,923.3 807.5,867 817.6,842.7 806.2,855.8 814.4,890.7 813.6,888.8 818.3,903.2 821.3,919 805.1,957.2 805.9,896.7 813.8,977.8 805.2,830.3 819.8,961.2 812.5,892.6 817.9,925.4 807.7,904.5 810.6,926.5 812.9,908.9 818.9,975.3 821.5,849.8 814.7,899 814.6,924.8 809.4,893.7 818.8,917 805.5,861.5 804.5,1010.4 810.9,950.2 814,907.3 814.1,891.3 806.1,905.8 817.4,897.5 819.6,911.1 819,915.8 820.9,963.3 805.7,902.2 818.5,903.9 818.5,900 811.3,951 806.5,980.5 807,877 819.8,898.1 815.4,920.9 805.3,890.4 814.2,932 809.1,948.3 807,966.7 815.8,944.2 804.5,906.7 821.6,871.3 816.3,973 811.4,952.8 817.7,878.9 813.2,936.4 809,933.3 809.5,912.9 816.3,851.9 807.1,901.9 812.6,968.5 812.9,959.3 813.5,941.2 821.1,894.2 813.8,989.2 805.6,996.9 808.6,863.6 806.7,837" fill="none" stroke="none" marker-start="url(#mr)" marker-mid="url(#mr)" marker-end="url(#mr)"/>
<polyline points="844.3,1060.4 843.9,946.7 851.8,927.1 839.9,969.6 850.7,940.7 842.1,981.4 843.4,913.1 851.4,968.2 838,857.5 842.6,984.2 849.8,935.7 849.2,985.4 836.2,955.3 842.8,938.2 843.3,852.1 851.7,891.8 840,893.1 836.5,809.7 851.2,857.8 837.8,905.2 846.1,976 838.2,978.2 836.6,1008.9 841.6,989.4 845.9,900.9 850.2,1044.3 836.1,979.6 847.5,983.4 851.8,956.8 849.7,951 842.1,923.6 838.5,883.3 841.6,975.5 844.4,902.9 851.5,901.5 851.9,982.2 835.1,947.3 838.2,954.1 850.1,948.3 849.3,948.5 836.7,928.6 836.1,920.3 835.9,941.7 846.1,1008 840.5,1014.8 844.1,974.3 835.2,979.7 848.1,1000 835.4,998.6 847.7,861.4 843.3,1009.5 841,983.5 837.8,970.8 837.3,971.4 839.8,1005.8 852.3,1037.4 851.8,952.7 848.2,932.7 837,865.9 836.8,1028.2 844.7,963.3 852.9,908.1 849.4,944.7 841.7,1053.2 841.5,1035 845.7,924.7 842,930.8 841.2,898.2 839.1,966 851.4,1002.7 841.6,1016.7 851.4,978.6 852.6,913.3 842,860.6 845.5,999.4 848.9,980.1 835.3,934.1 848.7,950.4 842.1,965.6 837.1,882 850.4,1010.7 849.1,966.8 846,924.9 842.5,1058.9 840.7,966.5 841.7,974.1 836.1,940.4 835.8,966.1 840.5,976.8 841,932.9 837.5,868.1 849.2,975.8 845.6,909.5 842.3,934.6 843.7,991.4 842.2,904.6 837.6,1021.6 848.6,1029.9 839,830.4 842,959.2 850.9,1004.1 842.5,932 835.8,970.4 844.6,993.1 851.6,996.5 841.1,907.4 852.5,903.5 844.5,908.7 843.2,977.2 844.8,960.1 847.5,925.9 850.1,858.8 844.1,1018.9 847.7,846.2 837.2,841.8 845.3,922.7 837.5,942.7 840.8,899 848.9,882.6 846.8,836.1 848.3,934.8 845,936.5 848.5,1047.1 848.6,965 847.3,1065.3 852.9,1024.1 847.5,1042.8 840.2,865 842.2,943.8 836.1,947.5 838.2,979.3 852.4,948.1 842.6,1092.1 847.6,856.2 851.7,872.7 845.6,961.5 841.1,964.5 852.8,890.6 850.6,1023.1 845.7,963.7 837.4,973.4 835.3,900.1 839.3,1048 840,986.7 840.1,921.3 837.8,896.6 838.6,921.7 851.5,1038.3 837.5,895 842.8,951.8 844.5,960.4 845.9,939.3 846.9,938.8 838.1,920.6 844,980.6 851.6,868.7 851.6,981.1 845.2,933.4 850,960.2 838.4,870 841.3,967.4 839,940 847.2,950.2 851.4,1044.9 845.3,1027 839.5,937.2 842.8,914.8 835.6,1012.2 851.6,945.6 840.5,935.9 846.9,1061.7 849.5,975.2 846.1,1002.3 836.4,948.8 840.9,919.9 836.1,977.4 849.3,910.5 838.7,922.4 835.9,871.5 836.3,911.7 852.1,956 850.4,1031.2 835.1,1013.6 848.2,928.2 839.8,1048.6 840.4,970.7 844.3,928.5 842,944.9 852.6,889 841.7,959.5 851.5,849.9 840.3,941.5 846.1,1006.2 841.3,888 842.2,902.2 835.1,1010.6 852.8,1069.3 850.1,910.7 844.6,847.8 840.1,958.4 848.8,949.8 849.4,1074.7 845.7,980.5 842.7,929.6 844.4,885 841.9,1000.5 849.5,967.3 836.4,1031.5 849.2,1043 842.8,935.3 842.7,962.1 835.5,1022 849.4,989.5 839.6,1005.1 843.9,877.7 846.9,969.1 851.8,997.3 842.7,1018.7 844.2,883.7 838.5,964.7 851,930.7 851,867.3 840.6,923.1 844.5,971.2 838.3,1033.9 851.1,864.1 839.1,937.7 849.6,869.2 841.8,855.1 841.2,963.9 836.3,969.9 849.2,962.9 842.2,919.4 836.2,1063.3 851.9,875.8 837.7,994.8 847,1001.4 849.9,1003.8 847.8,845.6 838.2,1056.6 836,927.8 848,851.8 842.9,1040.1 839.8,1019.9 847.6,949.1 846.7,844.5 839.5,932.4 846.3,976.4 836.7,937.2 852.7,892.1 837.2,1016.2 840.8,938.8 836.5,963 842.5,923.1 851.9,849.5 851.8,926.5 847.3,895.9 835.1,984.4 841.6,978.8 845,937.9 843.6,994.3 852.1,969.4 845.7,1026.3 835.5,926.3 847.7,918.8 843.3,982.6 847.3,965.2 840.1,933.8 836.9,943.3 836.4,926.7 841.1,961.7 842.1,1029 849.7,863.2 845.3,992.1 837.8,1067.9 852.2,929 835.2,905.6 840.8,973.3 839,878.9 841.5,995.6 836.9,893.6 849.1,1040.6 842,939.7 848.2,896.7 850.2,876.9 844.7,953.4 848,886.1 837.6,957.4 849.1,854 846.3,944.1 845.4,972.1 840.4,889.5 840.4,944.5 849.9,983.7 835.8,906.6 839.6,918 849,960.9 837.1,866.5 846.4,1014.3 842.9,1039.2 842,897.5 843.3,954.6 837.3,954.8 836.9,972.7 850.9,873.9 847.2,981.8 846.6,925.4 836,972 835.5,917.1 847,1065.7 845,946.2 840.2,987.4 839.6,873 850.8,942.5 846.4,956.4 838.7,988.3 837.5,853.3 840.5,885.6 844.9,929.8 842.5,930.4 852.4,1045.9 846.1,875 851.1,875.5 846.6,967.8 842.8,981.8 837.7,1071.5 851.8,1055.8 841.1,983 852.1,1036.3 841.1,1059.7 850.8,919.9 837.8,1052.9 840.7,957.1 845.1,887.4 849,952 837.7,838.8 847,933.2 839.6,914.2 851.7,973.9 845.3,958.1 849.7,1058 840.5,1075.5 843.8,961.2 836.1,931.5 836.4,899.6 838.7,878.5 839.8,1018.1 840.7,906.2 847.1,968.4 847.1,978 840.3,957.8 835.5,945.3 847.7,959.5 846.8,976.6 838.1,1054.1 846.1,950.8 851.3,1049.7 846.5,952.4 841.6,955.5 842.6,1041.9 837.5,1083 838.8,923.8 843.8,1025.2 850.8,841.1 838.4,953.7 840,880.3 843.7,1021 848.5,921 847.6,871.1 836.6,917.6 845.4,1051.4 848.5,986.4 835.7,1015.5 845.8,924.1 839.5,956.2 839.1,968.8 837.5,974.8 835.6,879.7 845,1007.2 846.3,1036 846.9,962.4 841.6,894.2 835.6,992.9 842.9,925.3 841.9,935.2 841.4,1024.9 840.9,940.2 843.4,916.4 837.5,881.3 840.6,922.1 850.3,1032.8 838,990.3 843.1,949.6 835.9,985 839.4,946.1 847.2,1050.5 841.6,941.2 842,998 839.4,927.4 836.2,951.5 848.4,984.7 852.6,886.4 842.4,862 841.9,889.9 836.6,929.3 849.9,912.3 841.5,954.4 835.7,942.2 845.3,859.8 839.2,952.9 838.3,958.8 852.4,915.3 848.1,931.3 838.3,943.2 840.5,1011.8 845.7,1033.5 851.1,946.8 838.3,1027.7 844.6,972.9 850.4,936.7 841.7,919.2" fill="none" stroke="none" marker-start="url(#mr)" marker-mid="url(#mr)" marker-end="url(#mr)"/>
<polyline points="872.6,1115.5 872,1126.7 879.7,1120.3 881,1125.7 869.8,1124.7 875,1092.1 876.4,1109.5 867.1,1118.9 880.1,1068.9 878.1,1111.9 867.5,998.2 872.3,1113.8 877.4,1107 873.2,1098.2 868,1112.7 882.3,1125.8 879.1,1006.7 867.4,1122.1 873.6,1115.1 873.4,1114.7 878.9,975 876.4,1116.3 879.9,1101.6 875.2,1121.6 883.7,1110.2 871.3,1122.8 883.3,1121.3 879.3,1125 880.8,1116.2 879.4,1103.4 870.6,1095.2 871.8,1123.6 879.7,1111.3 872.5,1119.3 877.7,1123.1 872.3,1087.2 872,1105.8 880.9,1104.1 875.6,1119.2 880.5,1111 874,1127.3 873.2,1108.2 867.4,1110.1 870.2,1118.5 880.8,1113.2 868.4,1118.1 870.9,1083 871.9,1123.8 882.7,1117.3 871.1,1114.2 870.5,1108.5 872.4,1124.4 877.2,1112.3 879.7,1119.8 882.4,1121.1 866.4,1120.2 882.9,1120.8 866.7,1073.8 879.4,1117.7 870.4,1117 877.8,1086 881.3,1105.6 872.4,1128.7 866.6,1122.5 882.3,1070.8 874.2,1107.8" fill="none" stroke="none" marker-start="url(#mr)" marker-mid="url(#mr)" marker-end="url(#mr)"/>
<polyline points="897.3,1119.7 908.9,1122.4 905.6,1117.7 910.2,1123 909.1,1121.3 913.6,1107.7 900.2,1111.1 902.6,1114.9 912,1120.2 902,1118 909.2,1121.6 912.7,1110.6 902.1,1123.8 899.1,1115.4 901,1119.2 903.9,1109.2 897.1,1120.6 905.9,1104.3 902.8,1114.6 897.2,1112.4 902.1,1078.1 898.3,1117.1 911.1,1112.8 904.3,1116.2 898.6,1113.4" fill="none" stroke="none" marker-start="url(#mb)" marker-mid="url(#mb)" marker-end="url(#mb)"/>
<polyline points="932.2,1084.6 936.5,988.8 940.6,1080.9 938.4,1092.2 928.2,1072.5 937,1100.9 934.9,1046.5 943,1088 939.3,1080.4 942.1,1090 944,1011.9 933,1037.4 941,1038.6 929.7,1085 941.5,1094.1 935.1,1040.7 942,1096.4 930.6,1036.9 932.9,1091 931.2,1086.7 933.8,1026.3 943.1,1118.7 939.1,1074.1 939.1,1094.5 942.3,1111.7 932.1,1073.1 929.8,1043.5 945.3,1106.9 940.4,1100.8 930.1,1031.7 933.8,1029.4 934.5,1079.3 941.7,974.3 930.7,1035.2 941.4,1072.1 940.6,1085.1 931.4,1025.3 942,1093.9 932.1,1047.6 943.9,1123.1 928.9,1044.5 927.9,1051.2 939.4,1063.3 934,1066.5 939.8,1058.2 945.2,1098.7 937.7,1031.1 936.5,1073.4 933.9,1090.9 939.5,1089.2 935.5,1083.8 944.5,1054.2 938.1,1111.4 942.5,1074.3 941.9,1042.1 932.9,1112.4 942.6,1009.3 929.4,1043.9 933.9,1110.3 933.8,1052.2 939.5,1116.2 944.8,1089.4 944,1115 943.3,1107.5 937,1067.1 927.6,1061.3 937.4,1091.9 939.6,1058.5 944.4,1091.4 934.2,1078.6 934.9,1083 932.2,1085.5 944.2,1110.9 943.6,1072.7 929.4,1093.8 928.3,1074.5 944.9,1087.5 935.2,1087.6 927.6,1086.3 936.6,1064.6 941.2,1099 930.4,1120.2 931.1,1078.3 930.1,1091.3 937.5,1101.3 933,1027.1 944.9,1097.6 939.9,1105.5 936.1,1095.3 930.1,1115.6 942.5,1116.6 933.5,1112.6 938,1107.8 936.7,1097 932.1,1120.5 930.6,1051.6 943.6,1066.2 940.3,1071.7 931.8,1012.9 935.6,1086.1 940.2,1046.6 941.8,1067.4 939.5,1052.2 929.8,1088.9 941.9,1083.8 939.1,1096.8 943.5,1119.6 940.3,1032.7 928.7,1128.7 941.2,1073.9 933.7,1093 942.5,1088.2 942.8,1109 935.4,1084.4 941.1,1072.1 934.3,1010.1 944.1,1026.7 935.1,1091.6 934.5,1063 929.8,1009.7 944,1081.5 934.3,1041.1 933,1065.4 936.6,1096.2 943.8,1083.6 936.8,1015.9 929.9,1059.1 942.4,1040.5 929.9,1104.5 935.5,1057.4 932,1094.3 935.7,1018.2 932.8,1084.8 937,1090.2 928.9,1099.4 928.7,1070.9 943.3,1078.1 936.1,1060 936.3,1079.4 941.9,1072.4 928.7,1096.1 938.9,1102.7 930.2,1088.9 938.4,1076.9 936.9,1114.4 934.5,1105.7 942.3,1053.5 935.7,1068 944.2,1118.2 932.3,1091.7 938.6,1065.8 944.5,1114.4 936.7,1094.7 937.3,1088.4 930.7,1113.2 937.2,1024.7 944.7,1033.1 931.9,1069.5 928.1,1080.4 945.3,1123.6 945.3,1101.2 930.3,1050 940.9,1109.2 932.3,1103.4 936.5,1090.6 942.6,1002.9 943.8,1050.3 929.3,1065.9 931.7,1060.8 942.3,1037.7 944.5,1092.8 931.4,1106.3 931,1051.3 930.9,1093.5 937,1020.4 930.7,1054.8 930.7,1042.9 936.4,1030.4 944.8,1029 943.6,1112.2 933.2,1082.2 938.4,1093.7 935.4,1113.4 932.5,1086.1 945.1,1053.1 930.9,1117.9 944.6,1086.3 945,1007.4 928.3,1104.2 928,1038.3 934.1,1089.1 932.1,1093.2 933.6,1023 932.7,1068.4 939.7,1073.8 934.9,1041.7 932.7,1086.9 942.4,1076.7 939,1076.1 935.2,1046.1 931.5,1052.5 932.9,1079.2 930.2,1069.4 930.5,1067.9 938.7,1117.7 942.1,1055.6 940.7,1102.4 940.3,1021.5 936.5,1073.6 930.6,1088.6 941.4,1090.8 939.8,1023.6 942.6,1095.5 933.9,1075.6 934.3,1119.2 943.3,1084.2 933.2,1094.6 942.4,1090.5 939.3,1046.9 943.1,1022.1 940.1,1099.9 939.9,1107.1 941.5,1041.4 934,1083.3 933.7,1084 935.4,1122.6 928.7,1082.5 935.3,1009.8 931.4,1079.7 942.1,1008.2 930.7,1089.3 945,1078.3 940,1053.1 942.3,1064.2 939.9,1092.3 928.8,1083.1 940.2,1079.9 928.2,1095 941.1,1060.3 942.9,1119.9 928.7,1120.8 940.5,1111.7 929.6,977.8 943.5,1077.9 942.4,1097.4 942.3,1095.8 939.8,1069.3 929.7,1055.9 933.6,1056.7 927.9,1080.8 929.9,1071.1 945.4,1090.3 943.4,1100.3 937.4,1101.6 936,1107.9 944,1067 942.1,1034.2 935.4,1013.2 928.5,1007.8 930.8,1036 936.7,951.8 933.1,1091.2 944.2,1060.9 935.2,1028.3 944.6,1068.2 941.3,1116.4 944.4,1069.9 934.2,1066.3 944.1,1114.1 944.2,1066.7 933.5,1075.1 933.4,1082.8 938.8,1042.3 932.3,1089.7 936.7,1100.2 933.5,1064.8 935.4,1087.9 934.9,963.3 942,1097.9 931.5,1065.1 943.2,1109.9 936.6,1025.9 930,1104.7 935.4,1048.6 928.9,1076.1 937.4,1071.2 942.8,1095.9 938.5,1085.3 939.6,1125.3 942,1050.2 937.9,1094.4 937.5,1069.8 939.7,1043.7 937.1,1081.9 933,1105.8 944.8,1055.3 938.4,1082.9 935.5,1049.2 935.9,1040.2 934.9,1080 935.8,1071 929.2,1093.5 929.6,1091.6 934,1103.5 928.9,1054 944.2,1121.6 942.7,1099.5 943.6,1089.6 942,1088.8 937.7,1095.7 937.1,1098.4 927.6,1103.3 929.9,1067.3 943.3,1077.7 930.2,1124.3 933.6,1071.7 934.3,1095.2 933.1,1067.7 936.8,1093.3 943.3,1085.9 937.7,1108.1 943.6,1070.4 938.7,1065.5 935,1113.7 936.2,1068.5 929,1075.5 938.9,1091.1 930.2,1030 941.6,1048 928.3,996.9 939.3,1097.8 939,1084.3 932.9,984.7 938.1,1002.4 939,1089.8 933.8,1077.4 934,1036.5 942.3,1007.1 942,1077.1 929.1,1092.6 937.4,1028.8 940.6,1097.2 943.4,1115.3 930.5,1063 931.7,1062.5 938.3,1085.6 941.7,1049.4 929.1,1063.7 937.9,1003.2 938.5,1064 929.5,1085.2 938.5,1081.2 929.1,1081.5 944.5,1062 942.8,1113.9 930.7,1108.5 941.7,1109.7 929.7,1047.1 934,1013.7 933.9,1113 935.1,1069 944.5,1117 939.7,1108.8 928.1,971.2 942.3,1080.7 930.3,1117.4 944.9,1096.2 935.7,1092.7 933.2,1039.1 940.5,1121.1 937.3,1096.5 939.4,995.9 938.3,1063.9 934.7,1022.9 936,1094.8 928.4,1068.6 941.9,1074.7 940,1088.5 940.8,1110.6 939.3,1102.3 930.1,1064.4 940,1087.7 937.2,1066.7 944.6,1035.6 940.1,1083.3 945.1,1068.9 934.5,1103.1 937.1,1094.9 943.4,1092 933,1106 933,1048.3 941.1,1111.2 942.2,1078.4 936.3,1086.6 939.2,1090.6 945.2,1080.2 937.6,1105.3 934.3,1072 941.2,1101.8 939.8,1098.6 944.8,1076.5 931.8,1059.7 932.1,1126.5 934.5,1103.7 935.4,989 933,1055.4 936.1,1075.8 931.5,1115.1 936,1031.3 945,1065 938.8,1108.3 936.5,1039.6 936.4,1099.2 930.8,1084.6 928.5,1070.4 944.5,1073.3 933.8,1014 940.6,1078.9 935.9,1107.2 938.6,1019 931.9,1109.5 933.5,1104.8 930.8,1070.7 939.5,1093.3 937.5,1098.2 936.2,1058.8 938.2,1086.4 931.9,1074.8 939.9,1081.1 929.4,1006.3 930.2,1069.2 934.5,1082.6 943.8,1126.1 941.6,1013.5 935.8,1087.1 941.8,1086.8 944,1077 943.4,1074.2 943.1,1095.4 927.9,1014 932.1,1079.6 936.4,1075.9 935,1070 936.9,1082.4 945.2,1094 936.4,1119.1 937,1036.1 931.6,1099.8 937.4,1061.5 932.1,1092.4 933.9,1092.9 932.6,1084.1 934.3,1087.4 932.1,1065.2 942,1096.6 939.5,1032 934.9,1083.4 940.8,1110.8 929.6,1085.8 927.4,1033.7 937.7,979.1 936.5,1095.6 937.3,1039.5 933.6,1073 937.3,1070.2 939.7,1085.7 943,1045.1 928,1027.7 944.6,1106.4 936.5,1033.3 933.2,1038 938.1,1057.1 928.8,1034.5 929.8,1063.8 943.8,1075 937,1024.6 929.2,1045.8 935.7,1006.5 937.8,1088.3 927.4,1076.4 936.1,1071.5 929.1,1124.6 933.4,1102.8 936.6,1110.1 940.9,1045.2 940.5,1118.4 944.4,1122.2 928,1044.8 940,1083.6 941.7,1082 938.2,1048.8 935.4,1077.3 933.3,1090 935.1,1042.8 944.7,1034.9 934,1100.5 928.2,1115.8 934.8,948.3 932.6,1122 942.9,1117.1 930.7,1057.7 937.8,1079 944.2,1064.7 943.2,1104 945.2,1114.6 931.4,1101.9 929.7,1081.7 936.9,1050.8 940,1002.5 932.8,1106.6 936.4,1088 930.9,1084.9 943.9,1006.1 931.7,1030.2 931.6,1087.3 938.7,1075.3 930.7,1054.6 938.2,1077.5 932.3,1087.2 942,1067.7 944.1,1105 938.3,1112.1 940.2,1059.5 930.2,1092.1 929.3,1121.5 938,1072.9 942.3,1062.4 935.3,1057.9 936.3,998.3 931.6,1056.5 932.9,1066 940.5,1089.5 937.1,892.3" fill="none" stroke="none" marker-start="url(#mr)" marker-mid="url(#mr)" marker-end="url(#mr)"/>
<polyline points="971.5,1109.3 972.9,1122.5 975.5,1115.4 967,1118.3 961.5,1111.4 962.5,1113.9 968.4,1107.9 966.4,1115.2 963.3,1116.1 970,1113.8 961.7,1101.2 975.9,1112.6 965.4,1117.1 961,1126.3 972.1,1111.7 970.3,1118.1 959.3,1121.7 963.5,1119.4 974.5,1110.8 968.9,1110.9 974.4,1121.5 976,1112 974.6,1113.1 962.1,1123 959.5,984.1 969.6,1120.6 967.8,1117.8 958.5,1125 973.1,1106.2 974.1,1116.9 975.4,1117.5 972.3,1112.3 972.6,1123.5 971.5,1005.5 967.7,1115 959,1120.2 972.5,1119 968.3,1105.2 965.5,1112.9 973.8,1122.8 972,1114.7 974.5,1056.1 967,1115.8 975.1,1121.1 959.6,1118.8 958.3,1123.3 962.5,1118.7 969.6,1119.7 966.1,1121.2 969.1,1108.9 965.8,1092.1 973.2,1110.1 965.1,1115.6 963.8,1122 974,1116.4 962.2,1089 967.5,1114.6 972.9,1113.5 975.5,1109.4 969.1,1107 975,1124.7 964.1,1116.6 969.1,1108.2 959.9,1113.4 975.8,1110.4 961,1120.4 958.7,1120 970.4,1124.3 968.1,1118 960.4,1119.4 962.8,1114.2 974.7,1117.3" fill="none" stroke="none" marker-start="url(#mb)" marker-mid="url(#mb)" marker-end="url(#mb)"/>
<polyline points="990.8,1118.4 995.2,1078.7 1004,1116.7 993.8,1118 1006.6,1108 1003.9,1080.5 1005.9,1114.8 1000.8,1109.2 994,1099.4 1002.8,1128.7 1006.7,1075.4 991.9,1099.6 990.1,1093 989.4,1079.1 1005.8,1105.5 993.6,1082.9 1006.7,1097.4 998.9,1032.7 1003,1078.2 999.9,1121.2 1003.6,1058.7 990.6,1108.2 1001.3,1117.1 1006.7,1107.3 998.3,1119 1003.7,1014.8 995.5,1106.8 990.4,1120.9 991.8,1073.8 994.3,1113.2 994.2,1116.4 999,1030.8 995.1,1087.6 996.7,1120.6 996.7,1070.1 990.8,1124.4 991.7,1112.3 997.9,1098.3 1001.8,1100.7 1005.3,1072.2 989.8,1091.9 994.6,1116.3 1003,1118.2 999.5,1115.3 994.1,1082.2 995.1,1106.5 1001.9,1067.4 1000.5,1118.7 1002.5,1095.8 992.4,1103.6 1005.6,1112 993.7,1103 1004.9,1066.2 998.6,991.4 1006.8,1074.5 999.6,1098 1005.7,1107.9 1005.5,1115.5 993.6,1091.8 1001.2,1100.3 997.2,1059.4 994.5,1123.7 992.9,1065.9 1000,1080.1 994.7,1107.4 993.9,1101.3 999.5,1098.9 992.5,1096.5 1003.7,1122.6 994.5,1113.6 992.5,1065.5 992.9,1116.5 1000.4,1085.2 994.7,997.3 1000.6,1084.4 989.8,1088.2 1002.4,1110.4 999.7,1101.2 998.7,1115.9 997.8,1064.3 1002.6,1112.8 993.3,1118.5 993.8,1120.1 990.4,1126.6 1004.9,1114.2 1004.5,1121.2 1005,1112 989.5,1105.9 994.2,1041.4 1004.4,1107.6 1005.7,987.1 1002,1111 995.7,1076.5 999,1069.4 1004.5,1101.7 1005.5,1116.9 990.8,1061.7 995.6,1115.1 992.2,1052.2 1002.2,1092.8 1004.9,1072.9 996,1122.4 993.7,1048.6 997.6,1110 1000,1125 994.9,1094.1 990.2,1119.4 993.7,1116.8 1003.5,1089.1 994.8,1111.6 1001,1087.6 1001.4,1093.8 1000.6,1093.5 993.3,1101.7 1000.2,1124.1 1005,1114.4 989.9,988.9 989.7,1113 1005.4,1071.7 992.8,1117.8 990.6,1122 1004.3,1113.5 994.7,1120.7 999,1077 992.9,1113.2 1000.7,1103.4 995.6,999.9 1002,1098 993.5,1118.8 1005.7,1049 1005.9,1080.9 1000.5,1120.3 998.5,1118.5 998.9,1119.8 992.5,1124.2 995.7,1121.6 997.6,1086.9 993.4,1089.6 1006.2,1099.2 992.4,1057.4 1000.8,1100.4 989.7,1108.3 996.3,1025.6 996.8,1110.6 1006.4,1119.2 992,1111.3 1006.8,1121.4 991.3,1096.7 991.2,1104.9 998.7,1119.4 993.2,1120.8 997.6,1122.9 1006.6,1089.9 989.8,1077.4 998,1063 1002.3,1105.1 1002.3,1121.9 990.8,1095 1004.9,1091.1 997.3,1077.5 998.3,1075 1004.8,1116.1 1005.7,1082 1007,1020 994.7,1102.2 1001,1112.3 994.4,1111.8 1003.8,1073.4 993.9,1093.3 991.7,1108.7 991.2,1103.9 1006.2,978.7 1006.8,1068.8 1005,1111.4 1001,1086.6 993.2,1122.2 994.7,1122.5 1001.2,1092.3 990.4,986.4 996.1,1102.7 1003.7,923.7 990.1,1060.2 1001.3,1094.6 992.6,1068.4 998.7,991.5 1002.2,1062.3 995.1,1052.2 1001.2,1125.8 997.3,1055.8 991.6,1120.5 1005.4,1119.1 994.4,1104.4 990.6,1122.8 1006.7,1114.7 998.2,1121.8 990.6,1119.9 1004.1,1124.7 994,1123.1 999.1,1103.1 1004.3,1071.2 1002.6,1104.2 1003.6,1079.4 996.3,949.1 1003.6,981.5 998.6,1113.7 1003.2,1117.5 989.3,1091.3 992.3,1063.6 990.7,1117.5 990.5,1043.5 995.2,1083.8 995.7,1125.2 994.3,1005.5 1000.7,1109.4 1005.5,1095.1 995.6,969.5 1004.9,993.8 1000.7,1111.2 1000.5,1125.4 995.8,1118.1 1005.6,1109 997,1097 1006.3,1090.1 993.7,1126.1 991.9,1114.9 1001,1048.3 991.5,1086.3 996.5,1097.5 1004.9,1095.9 993,1110.2 995.1,1096.2 1006.4,1123.9 995.3,1018.1 996.3,1110.8 1003.6,1084.7 993.2,1119.7 999.3,1117.3 1004.2,1100 995.8,1117.8 1006.6,1112.5 995.3,1115.4 998.8,1090.6 1005.4,1083.3 993.7,1127 991.3,1085.6 1003,1123.2 999.1,1115.8 1005.8,1066.9 1002,1049.8 1001.5,1124.7 1002.4,1092.6 991.2,1123.5 996.3,1070.2 1003.9,1022.9 1007,1109.8 995.9,1081.2 1004,1123.8 997.7,1113.8 992.4,1109.7 997,1070.7 1006.4,1106.9 1000.3,1119.6 1006.5,1082.6 1001.2,1088.5 991.4,1094.3 994.6,1112.7 1001.8,1095.3 997,1127.6 992.9,1108.4 999.4,1125.5 991.9,1075.6 1001.5,980.6 1005.1,1105.3 1001.2,1121.5 1003.8,1114.4 995.2,1127.2 997.3,1109.2 998.9,1108.9 993.4,1126.3 1007,1051.5 999.5,1102.5 1001.7,1110.3 990.5,1109.6 999.7,1090.8 1004.9,1120.2 998.8,1045.4 1003.1,1106.2 1001.5,1098.6 1004.2,1114 1006,1123.4" fill="none" stroke="none" marker-start="url(#mr)" marker-mid="url(#mr)" marker-end="url(#mr)"/>
<polyline points="1020.2,1121.9 1033.7,1124.5 1037.8,1118.5 1036.6,1122.3 1027.6,1120.6 1022.1,1117.5 1037.8,1115.9 1026.9,1112.6 1027.2,1119.8 1035.8,1122.6 1037.6,1121.4 1023.9,1125.3 1021.9,1109.2 1023.9,1124.1 1026.8,1119.4 1030.7,1126.3 1029.5,1119.2 1020.2,1116.5 1035.3,1113.8 1036.5,1123.8 1028.6,1110.7 1029.1,1117.1 1032.6,1115.6 1030,1115 1035.8,1121.2 1025.7,1118.6 1022.4,1123.6 1033.9,1111.6 1037.3,1117.8 1023.8,1120.1 1023.3,1114.1 1023,1123" fill="none" stroke="none" marker-start="url(#mb)" marker-mid="url(#mb)" marker-end="url(#mb)"/>
<polyline points="1054.3,953.8 1068.2,923 1052,927 1054,905.9 1061.6,989.2 1064.2,864.5 1063,823.7 1056.3,958.8 1054.6,880.1 1061.8,872.1 1065.2,1092.1 1055,930 1065.1,855.4 1062.9,904.8 1067.2,917.6 1051.1,913 1068.1,1017.8 1054.5,906.6 1052.9,970.7 1056.7,943.7 1052,901.6 1055.4,849 1055.5,947.2 1063.1,1070.8 1064.8,919.3 1064.5,950.6 1055.3,878.6 1068.1,885.1 1063.2,966.8 1060.4,911.1 1060.8,1004.2 1065.1,862.2 1055.3,841.2 1061.8,951.2 1063.7,1009.6 1055.8,867.4 1062.1,899.7 1060.6,927.7 1056.7,936.8 1060.2,1012.2 1062.3,1050 1054.5,878.2 1055.1,1108 1056.3,899.9 1066.9,1005.9 1051.6,999.6 1058.6,954.7 1055.2,831.7 1063.3,910.2 1055.9,915.8 1054.3,926.3 1057.7,936.2 1061.9,891.9 1060,866.5 1066.3,958.3 1068.1,903.2 1063.1,837.8 1056.8,909.4 1052.6,842.8 1061.9,1006.9 1064.7,1021.1 1068.7,939.6 1053,984.9 1065.4,913.9 1059.4,953 1057.2,886.9 1057,995 1064.4,945.5 1058.2,1055.5 1064.4,925 1057.6,993.1 1053.2,856.5 1064.6,851.9 1055.5,962.8 1053.8,968 1061.1,924.7 1054,937.4 1065.1,896 1064.8,889.1 1051.7,918 1057.9,894.4 1060.5,869.2 1067.5,946.2 1055.4,957 1057.7,873.7 1058.1,944.7 1057.8,912.3 1061.4,882.2 1065.7,974.5 1055.8,918.9 1064.9,1024.7 1064.9,915 1057.5,955.6 1053.2,933.1 1066.9,978.8 1059.2,890.6 1055.2,898.5 1065.8,969.1 1055.3,888.2 1053.5,977.5 1062.4,921.6 1053.3,908.8 1054.7,1023 1053.7,928.3 1067.3,976.4 1064.9,907.1 1066.5,938.4 1067.1,932.9 1054.1,931.6 1054.2,870.9 1063.1,1029 1062.5,902.3 1060.1,982 1053.6,948.5 1059.2,960.5 1062.5,908.2 1055.7,895.3 1060.3,870.5 1051.7,893.4 1058,939.2 1057.8,897.8 1060.2,845.6 1054.7,1038.6 1061.7,942.3 1064.8,963.9 1051.4,847.7 1068,972.3 1061.8,984 1064.6,1061.6 1056.8,987.4 1051.2,916.7 1053.1,956.2 1053.3,980.6 1059,921.3 1066.6,903.6 1054.2,961.5 1064.9,1035.6 1062.3,854.5 1059.4,931.3 1064.1,934.8 1054.3,911.4 1056.2,897.4 1057.2,882.5 1058.7,1002 1066.5,929.8 1053.8,922.5 1068.3,949.7 1052.2,905.2 1056.5,1030.6 1063.4,834.4 1063.7,920.1 1067,949.3 1059,952 1060.9,941.1 1051.6,990.1 1058.1,884.2 1055.7,875.7 1056.2,997.5 1063.3,901.1 1065.9,942 1061.7,914.8 1062.6,995.6 1058.3,876.3 1062.3,862.4 1052.9,943.2 1065.2,934 1066.7,858.2 1055.3,1016.3 1051.5,850.4 1062,860.1 1054.9,923.7 1063.1,1012.8 1061.5,896.2" fill="none" stroke="none" marker-start="url(#mr)" marker-mid="url(#mr)" marker-end="url(#mr)"/>
<polyline points="1088.1,1092.5 1085.5,1026.3 1098,954.4 1089.5,1102.1 1099.2,871.2 1088.3,1108.6 1096.5,1104.4 1092.8,1038 1092.7,1106 1096.6,1104.8 1085.4,1070.8 1086.7,1048.7 1095.9,1111.2 1085.7,1030.4 1083.7,1064.8 1087.7,945.3 1095.5,1107.3 1088.9,1099.9 1082.3,1056.1 1082.7,1077.3 1090.1,1083.3 1090,1118.2 1098.7,1091.4 1084.4,1066.6 1090.9,937.5 1096.8,1046.7 1094.9,1003.3 1097.9,1012.6 1083.4,1064.4 1088.3,1095.7 1087,1114 1097.9,1086.9 1091.4,1011.8 1082.1,1120.9 1098.7,1101.4 1091.4,1114.5 1097.3,999.8 1082.3,1068.3 1084.5,1102.4 1092.7,1112.7 1090.1,1121.1 1093.7,726.7 1087.4,1024.9 1095.5,948.3 1094.5,1111 1093.4,996.1 1085,1015.7 1095.1,1115.1 1097.1,1086.2 1093.3,948.3 1091.4,1074.1 1089.3,974.6 1088.4,1025.8 1094.4,1087.1 1093.7,1115.2 1092.6,989.1 1092.4,1120.1 1098.1,1116.2 1097.8,1121.6 1094.8,1118.9 1087.1,1073.1 1095.6,962.1 1099.5,1096 1096.9,1004.8 1089.9,1121.3 1091.7,1076.2 1092.2,934.2 1089.8,1096.4 1091.4,1048.8 1098.4,1110.9 1095.1,1115.7 1085.5,1015.1 1098.9,1109.5 1092.1,1052.9 1083.8,1036 1089.1,1028.5 1088.5,1089.5 1083.8,1092.3 1092.8,1066 1091.7,1081.2 1085.3,1061.8 1093.8,1009 1093.3,1077.4 1098.9,1080.3 1091.6,1059.5 1090.1,985.7 1089.3,1088.1 1084.5,1098.8 1089,1021.8 1098.8,1111.7 1082.8,1095.3 1086.8,1097.1 1082,993.1 1084.7,1115.9 1091.9,1106.7 1083.7,971 1090,933 1089.2,1090.4 1092,1086.7 1082.2,1070.7 1097.9,1117.9 1094.4,991.1 1097.3,1058.3 1087.7,1067.7 1084.9,1096.8 1095.5,1089.2 1088,1059.9 1090.7,1062.6 1089.3,1106.4 1091.4,911.1 1096.7,1094.8 1085.3,1113.8 1098.1,1112.9 1098.9,1084.2 1084.2,1033.5 1089.6,1108.8 1088.2,916.8 1095.3,983.6 1093.6,1108.1 1094.3,1109.2 1084,1079.4 1095.7,995.2 1086,1101.2 1083.5,1085.6 1092.5,1092 1094.4,902.8 1085.2,1093.4 1085.6,945.6 1085.5,1103 1087.8,1075.1 1086.3,922.2 1095.1,1116.6 1096.8,980.3 1091.7,1124.3 1097.7,1105.1 1094.5,1090.7 1090.8,1118.7 1099,1082.8 1092.2,1109.7 1097.1,1005.1 1093.9,1073.6 1095.7,1115.4 1093.7,1019.5 1090,1122.6 1096,908.2 1088.4,1116.5 1082.1,1088 1096.3,1099.5 1088.9,1039 1088.2,1100.8 1082.4,991.8 1091.8,878.3 1098.9,1096.9 1095.7,1123.8 1084.9,1062.3 1093.3,1126.1 1088,1091.1 1097.6,1121.5 1083.6,1082.3 1089.4,1098.2 1090,1107.9 1091.1,994.2 1097.2,1095 1089.4,1109.8 1091.6,1057.4 1085.9,981.2 1082.6,1053.8 1084.6,1093.5 1089.3,1014.3 1082,1106.3 1081.8,1110.8 1096.1,946.5 1091.9,1089.8 1092.4,1006.2 1093.9,1094.5 1083,1107.7 1086.7,1113.9 1095.1,1021.6 1090.1,1084 1099,946.5 1085.6,1072.9 1096.4,1109 1084.8,1068 1096.7,1112 1081.5,1044.6 1097.9,1110.6 1087,1105.7 1081.9,1070.5 1093.5,1043.6 1097.3,1122 1099.2,1081.7 1093.2,1112.3 1083.7,1100.3 1094.2,1072.3 1097,1093.8 1086.6,956.7 1083.8,982.4 1088.8,1073.8 1089,957.6 1089.7,1054.8 1084.4,1111.9 1096.6,1090.6 1095,931.3 1095.2,1063.7 1094.6,1020.2 1086.1,1100.3 1094.2,930.8 1085,1076.8 1098.1,1100.1 1085.4,1030.8 1085.4,1120.3 1093,1042.4 1092.9,1040.5 1094.2,1063.4 1095.4,950.8 1082.7,997.7 1095.9,1112.1 1094.8,1111.7 1090.7,1018.9 1085.3,1089.4 1087.6,1020.9 1082,1067.5 1099.1,1119.8 1088.8,1110.2 1084.7,1051.2 1085.2,1061.7 1089.2,927.6 1092.1,1105.8 1098.9,997 1097.7,1069.7 1089.7,1029 1085.1,957.9 1090.1,1114.3 1099.1,1097.5 1095,1078.9 1086.7,1049.8 1097.9,930.4 1085.4,1116.7 1096,1050.9 1082.6,1014.6 1084,1088.5 1095.6,1095.9 1098.3,1094.3 1099.3,1095.5 1086.7,1033.3 1087.7,1049.4 1098.6,1103.5 1096.5,943.8 1097.9,985.4 1082.1,1119.5 1082.3,986.5 1099.2,879.7 1098.1,1090.2 1098.6,988.2 1095.6,1051.5 1086.6,1103.8 1093.7,1097.8 1096.6,1087.6 1099.3,1125.6 1093.4,1039.8 1093.9,1044.2 1095.6,1124 1089.7,1117.6 1084.6,1000.5 1088.5,1027.1 1086.2,1103.1 1086.4,1058.6 1096.6,1099.6 1094.7,1080.2 1089.3,1107 1086.8,1090.1 1093.6,1071.2 1095.5,1023.7 1091.1,1069.5 1090.2,1052.4 1088.6,928 1084.4,1089.6 1082.2,920.7 1097.1,1107.5 1093.4,1012.4 1095.5,1086.4 1093,1001.3 1096.1,1116.9 1084.3,1013.2 1096.6,1065.6 1085.3,1039.2 1082.1,1123.4 1084.2,1080.7 1098.3,1065.1 1084.2,1032 1093.9,1053.4 1096.8,1078.6 1084.2,1082.9 1086.1,1099.2 1087,1126.8 1088.7,1098.4 1090.2,1067 1098.8,978 1094.2,1009.5 1081.9,1017.5 1091.4,978.2 1089.3,1036.6 1088.6,1075.4 1098.1,1004 1099.2,1050.4 1084.9,1118.5 1094.4,1023.3 1099,1042 1084.9,1119.6 1095,1105 1094.7,1071.9 1082.4,1066.5 1099.3,1109.5 1098.6,1097.2 1095.1,1088.7 1088.4,1064.2 1082.6,1123 1089.9,1117.2 1086.9,1104.5 1095.7,1046.3 1087.2,1099.1 1085.8,1108.3 1081.8,1111.5 1089.7,1118.4 1082.4,1120 1099.3,1074.9 1094.5,928.3 1090.4,1089 1096.2,873.8 1097.8,1087.7 1082.8,1102.8 1097.5,1061.1 1098,1008.7 1092.9,957 1097.6,1082 1092.3,1119.4 1096.9,1124.6 1084.9,869.7 1094.1,1057.2 1086.8,1056.3 1086.6,1052 1099,1115.5 1084.8,1104.2 1095.4,1077.9 1091.8,1092.8 1093.5,1037 1088.3,1091.5 1097.4,1117.2 1092.6,1002.3 1092.5,880.3 1094.1,1111.1 1087.7,1101.3 1099.3,1045.9 1082,979.7 1099.4,1079.7 1094.5,975.7 1089.8,1058.9 1081.6,1109.3 1092.1,1085.2 1095.1,1113.7 1090.8,1123.3 1091.5,1079.1 1084.2,1091.8 1091.4,955 1085.8,1060.5 1083.1,1093.6 1098,1096.3 1096.1,913.8 1082.7,1100.9 1095.4,1053.1 1086.6,1102.2 1084.5,1114.7 1091.4,1108.5 1090.6,1103.9 1085.2,1120.6 1084,1078.2 1095.2,1076.5 1082,905.7 1095.2,1060.2 1086.8,1112.4 1085.2,1065.6 1098.7,1101.6 1096.6,1090.9 1091.2,994 1084.4,1117.5 1089.2,1110 1094.5,1017.4 1088.9,1114.3 1097.6,947.7 1088.2,1074.6 1090.2,1108.1 1090.5,1122.4 1083.2,984 1099.5,1071.5 1097.6,1054 1087.9,1022.5 1093.1,998.3 1092.8,1080.9 1086.6,1086 1099.3,1097.7 1091.9,1084.9 1083.5,1041.5 1098.5,1034.8 1089.9,1104 1087,1094.3 1083.6,1123.9 1086.4,1092.5 1089.7,1108.9 1090.3,1057.8 1083,999 1094.7,1101.8 1085.8,1105.5 1098.2,996.3 1088.3,1060.8 1099.5,1122.1 1096.4,1034.1 1088,1002.7 1088.2,1102.6 1094,920.3 1097.7,1055.6 1097.5,1122.9 1095.5,1068.6 1085.9,1027.7 1094.2,1113.1 1083.6,962.2 1083.4,1119.3 1093.6,1106.6 1095.7,1086.5 1086,1056.6 1099.3,939.8 1087.6,1042.9 1092.9,1007.7 1098.5,1049.6 1089.6,1114.9 1084.5,970.9 1099.1,1031.1 1087.3,1018.2 1088.1,1076 1090.1,1098.9 1082.9,1059.3 1087.5,1087.3 1091.9,1054.4 1093.1,1035.4 1084.8,1124.8 1086.3,973.8 1085.5,1058 1098.4,1110.4 1088.5,1100.5 1084,1098.6 1088.7,1112.7 1095.9,1127.7 1083.6,1113.5 1086.2,1068.9 1095.2,1103.4 1096.3,1083.6 1095.2,1047.5 1086,1114.8 1083.5,1047.9 1081.9,992.1 1090.8,890.9 1095.1,1116 1096.6,1084.6 1089.8,1055.3 1091.1,947.2 1097.5,1032.8 1095.2,1095.1 1099.2,1054.9 1092.8,950.4 1097.5,937.9 1084.4,990.2 1090.8,1063 1084,1107.6 1088,1045 1092.9,1118.1 1097.6,894.9 1099.2,1088.3 1093.4,1029.3 1086.8,1091.9 1081.5,1096.5 1092.4,1125.2 1081.7,1010.7 1094.7,1117.7 1092.2,1121.7 1085.9,1093.1 1088.1,1110.3 1082.6,1062.8 1099,869.9 1099.2,1024.5 1083.3,1094.1 1098.5,1088.6 1094.2,1126 1097.6,1026.8 1090.4,1119 1083.6,1006 1087.2,1016.3 1093.3,1105.4 1087.6,987.3 1084.9,1107.2 1089.3,1120.8 1097.7,934.1 1099.3,1070.1 1095,887.8 1090.4,1128.7 1097.9,1093 1092.8,1113 1093.4,1050.2 1083.6,957.4 1094.6,1007.1 1084.5,1098 1085.3,1072.5 1081.6,1010.6 1098.5,1113.4 1090.2,1051.9 1083.7,1116.3 1084.5,1038.5 1094.3,965.9" fill="none" stroke="none" marker-start="url(#mr)" marker-mid="url(#mr)" marker-end="url(#mr)"/>
<polyline points="1121.8,1095 1116.5,1068.4 1128.9,996.1 1123.9,998 1119.5,1060.1 1125.1,1055.2 1124.9,1121 1128.9,962.8 1121.9,1112 1116.8,1007.8 1119.8,919.2 1116,1063.6 1122.2,1093.7 1113.7,1041.4 1116.6,1014.6 1120.8,1044.4 1127.8,1071.4 1118.2,995.4 1121,1061.4 1117.7,1117.7 1123.5,1047.9 1115.5,1020.7 1121.1,1079.8 1124.3,889.6 1118.9,1115.7 1114,932 1120.1,1063.3 1126.4,945.5 1128.9,1074.5 1118.6,1118.8 1123.2,980.3 1118.3,1001.7 1119.8,1044.7 1119,1095.9 1119.5,1039.1 1112.8,1036.3 1117.1,978.7 1116.5,1090.1 1120.8,1084.4 1127.5,1067 1119.7,1014.1 1115,1090.9 1126.7,1022 1129.8,1105.2 1128.5,987.9 1128.1,1037 1117.8,972.1 1116.3,1064.8 1115.8,955 1128.2,1042.5 1114.5,1030.8 1126.1,1022.3 1122.7,1045.7 1112.5,1077.5 1114,1056.6 1121.6,875.5 1122.7,899.3 1128.7,905.3 1122.4,1050.9 1115.8,1029.7 1112.6,1060.9 1123.8,1087.3 1127.2,1038.3 1117.1,1057.7 1114.8,990.5 1128.9,1033.3 1118.3,1100.3 1119.4,1092.4 1119.6,1050.3 1117.9,1032.5 1128.8,1066.2 1129.1,1013.2 1126.2,1025.6 1114.3,1120.4 1120.5,939.7 1122.6,982.1 1122.1,1078.2 1117.3,1103.7 1125.8,1011.3 1112.9,1086 1127.3,1018.6 1124.1,984.4 1126.6,1064.2 1115.2,1125.8 1112.5,1003.8 1116.6,1040.5 1122,1034.8 1117.2,1094.4 1121.3,1110.4 1120.3,1090.5 1114.1,1103.2 1117.8,979.6 1122.5,1037.4 1130,1104.3 1113.5,1091.9 1120.7,962.4 1127.3,1016.7 1114,968.3 1119.6,991.9 1117.7,965.4 1127.7,1043.9 1113.4,1051.1 1117.8,1040.2 1115.7,1058.4 1116.7,949.3 1125.5,1065.1 1122.4,974.8 1121.8,1091.3 1118.5,1072.6 1123.4,986.1 1121.5,1089.4 1127.7,1022.6 1116.3,1016 1124.1,927 1130.2,942.8 1126.3,1098.9 1117.5,1042.3 1122.9,1085.7 1127.8,971.4 1122.8,1121.7 1115.8,1012.4 1117.7,1105 1115.1,950.9 1113.3,1110.8 1113.1,1039.5 1124.5,1023.8 1113.5,1076.2 1113.4,1046.3 1124.9,958.4 1121.8,1089.3 1116.6,1073.7 1122.6,1079.3 1118.6,1083.6 1117.1,1085.3 1125.7,949 1129.2,1019.3 1124,915.1 1126.7,1101.8 1116.3,1072.1 1130.1,1080.8 1123,1059.4 1115.5,1019.6 1126.7,981.4 1125.4,884.7 1118.2,1118 1115.8,1108.4 1120.4,1005.5 1115.3,1059.9 1125.5,1117 1120.6,1054.5 1123.3,961.4 1113.4,1106 1128.7,1000.8 1129.6,1064.4 1121.6,1007.2 1120.5,1034.3 1127.7,951.6 1124.6,1011.9 1114.1,1096.8 1122.6,976.3 1114.4,1031.3 1127.6,929 1121.8,1099.1 1115.1,1080 1125.2,989.9 1120,1051.5 1126.5,1026.4 1116.5,946.1 1116.1,973.5 1127.4,872.5 1122.2,1000.5 1127.3,1112.5 1129.2,1013.8 1123.8,1113.2 1124.1,1015.5 1129.5,1067.5 1119.3,1102.3 1117.4,1030.4 1125.8,1114.8 1112.9,1071.5 1121.3,1101.7 1130,1052.7 1121.9,1083 1126.3,1087.7 1120.8,1006.7 1118.4,1122.5 1123.3,1049.6 1115.7,1106.9 1124.9,1026.5 1114.2,1056.4 1129.3,1075.2 1112.6,1072.8 1120.2,1034 1120.1,991 1127.9,1104.1 1129,1081.9 1121.3,1035.6 1125.2,1027.4 1116,1078.8 1121,1037.7 1123.1,1073.5 1128.2,938.6 1122.4,912.2 1126.7,1048.4 1127.3,1098.1 1117.7,1101.2 1122.2,1113.8 1122.5,944.2 1117.9,1030 1121.3,1107.3 1126.8,1069.4 1114.2,920.2 1123.6,925.7 1130,1068.5 1126.2,1016.3 1130,1109 1125.7,1045.9 1118.4,1105.6 1114.1,1043.5 1119.1,1028.9 1115.9,960.7 1124.7,1088.4 1120.3,952.8 1125.1,1070.9 1128.1,1098.3 1125.1,1040.8 1118.7,1020.4 1115.7,1109.8 1116.4,998.6 1116.3,1015.2 1115.4,970.1 1116.3,1070 1127.5,1057.8 1124.5,934.5 1124.6,1110.7 1120.7,1067.9 1125,1099.9 1118.3,966.7 1129.3,1075.6 1114,1080.5 1129.5,1103 1122.1,1115.1 1124.1,1128.7 1125,1047.3 1123.8,1046.8 1124.7,1106.5 1113.4,1053.5 1115.2,1038.6 1125.7,1097.8 1120.7,1025.6 1117.3,923.1 1120.4,955.8 1126.8,1018.8 1116.2,1045.1 1112.6,1119.3 1119.4,1048.4 1112.6,1096.2 1113,1066.7 1118,1096.7 1121,1041.8 1125.9,1062.5 1118.1,1108.2 1129.1,1095.3 1127.9,1093.4 1127.8,1018.1 1125.2,1111.7 1112.8,870.7 1124.6,1090.2 1126.1,1097.2 1122.2,1052 1116.5,977.6 1121.5,1095.6 1125.9,1028.1 1115.1,1032.3 1124.6,967.4 1120,1107.8 1129,1076 1118.8,1025 1117.9,969.5 1128.3,1099.4 1128.4,983.4 1127.4,1086.4 1129.8,976.5 1128.1,1035.3 1116.3,947.8 1112.4,1093.9 1119.3,1048.9 1114.4,957.3 1113.6,1049.9 1125.2,1061.6 1128.1,1023.3 1116.3,1084.1 1128.6,1012.7 1129.1,1082.3 1114.9,1021.6 1116.6,1104.6 1124.4,1069.1 1113.2,1081.4 1123.2,1092 1116.7,1091.4 1130.2,959.3 1122.2,1114.1 1128.2,996.6 1114.7,937.8 1123,1062.7 1128,936 1124.8,1028.2 1116.2,986.6 1129.8,1078.4 1113.3,954.3 1121.8,988.3 1117.4,963.8 1127.2,1008.6 1123.1,1054.2 1118.6,1101 1115.8,973 1128.1,994.5 1117.6,1026.9 1126,1108.6 1125.1,1055.5 1129.9,1106.6 1129.5,1115.8 1130.2,930.7 1129.8,1102.7 1130.1,1010.7 1115.8,933.3 1112.3,1017.1 1127.2,1116.5 1116.9,1065.5 1124.6,1055.8 1125.3,1077.4 1117.1,1024.1 1120.6,1029.1 1127.4,1060.4 1126.2,1094.1 1119.2,1057.3 1124.5,1109.3 1124.8,1111.3 1127.6,1123.7 1120.2,1099.7 1125.6,1021.2 1115.1,1076.6 1115.3,1004.6 1120.7,984.9 1115.7,1043.2 1116,1003.3 1116.2,1052.6 1120.1,1082.6 1122.9,1092.9 1128,1112.9 1122,1053.6 1120.8,999.3 1127.5,1058.9 1121.7,1100.8 1114.9,1024.5 1115.3,1084.8 1114.2,993.5 1113.8,1088.5 1114.6,1092.8 1117.5,1033.4 1126,1070.4 1124.9,1086.9 1124.4,1094.8 1126.4,1036.8 1124.5,1031.8 1114,1017.5 1128.5,1009.5 1117.4,1074.4 1126.7,941.7 1129.3,1119.6 1119,1097.6" fill="none" stroke="none" marker-start="url(#mr)" marker-mid="url(#mr)" marker-end="url(#mr)"/>
<polyline points="1147.8,1121.5 1158.4,1126.7 1158.7,1127.1 1160.3,1127 1151.5,1127.6 1158.4,1126.2 1151.1,1128.1 1154.1,1125.7 1157.6,1123.3 1160.8,1122.8 1148.9,1128.7 1157.5,1124.8 1147.7,1113.5 1144.9,1121.7 1150.8,1116.5 1153.3,1123.6 1154.8,1125.5 1149.8,1127.8 1155.2,1126.4 1149.2,1124.9 1158.9,1122.9 1160.7,1122.1 1148.7,1127.9 1143.6,1126.3 1146.7,1120.2 1149.1,1126 1157.1,1110.4 1143.2,1124.5 1159.6,1124.7 1148.5,1124.4 1148.8,1123.9 1150.1,1128.3 1158.6,1127.4 1149.1,1123.8 1145.8,1122.5 1151.6,1127.1 1158.4,1123.4 1144.2,1125.6 1161.1,1121.2 1146.5,1122.3 1155,1125.3 1150.5,1082.6 1157.7,1127.3 1150.1,1123.2 1144.2,1126.7 1161.1,1097 1152.6,1124.2 1147.7,1099.4 1157.9,1120.8 1149.5,1125" fill="none" stroke="none" marker-start="url(#mb)" marker-mid="url(#mb)" marker-end="url(#mb)"/>
<polyline points="1175.6,989.8 1191,986.1 1185.9,980.7 1187.4,1008.3 1183.6,1081.7 1184.4,947.7 1179.1,1059.2 1189.6,985.8 1175.9,996.5 1177.4,953.3 1180.2,895.5 1186.8,871.2 1189.5,1055.5 1181.3,966.8 1178,1033 1191.9,1009.9 1181,880.8 1175.8,1014.8 1181.1,1051 1181.4,865.5 1182.8,1059.4 1182.6,964.4 1189,997.9 1180.7,1075.8 1181,895.3 1181.2,920.3 1182.1,1067.5 1179.4,948 1187.2,983.8 1183.2,870.7 1185,852.2 1174.6,1087.9 1176.6,1022 1175.1,925.4 1177,986.5 1174.1,884.4 1187.3,859.3 1183.2,1006.6 1183.2,1042.9 1189.1,990.8 1179.1,941.8 1175.2,1030.7 1177.1,1024.6 1178.1,995.5 1185.8,1071.3 1190.1,961.4 1184.6,1107 1187.3,977 1176.6,963.9 1191.7,879.6 1184.8,976.3 1183.7,1085.7 1191.7,1105.6 1174.3,1050.3 1180,1043.9 1181.4,936.8 1176.2,954.7 1189.1,1074.4 1191.8,981.1 1191.7,1002.2 1175.5,1066.5 1175.7,968.7 1188.7,1087.2 1186.7,857.2 1179.1,950.8 1185.8,1032 1181,1003.2 1187.9,1092.4 1187.8,966.4 1184.7,1112.8 1188.5,969.1 1184.5,931.2 1181.2,972.7 1184.8,1078.2 1184.5,1028 1181.4,991 1182.8,1051.8 1181.2,939.6 1191.7,1090.9 1176.9,970.9 1175.2,1001 1177.8,934.4 1181.8,1078.5 1176.5,967.6 1191.6,930.6 1185.1,943 1187.1,1035.2 1189.2,789.5 1183.3,887.6 1179.7,940.1 1174.1,874.4 1190.4,849.6 1176.3,1019.1 1184.3,913.5 1184.5,974.3 1181.5,931.9 1190.3,1076.3 1181.9,981.6 1190.7,966.6 1184.9,945.9 1190.9,867.5 1178.6,905 1189.9,886.6 1183.4,1076.6 1177.6,1066.2 1185.6,1070 1186.2,985.4 1185.3,1072.1 1180,1107.8 1191.8,856.4 1188.2,972.2 1191.2,984.3 1189.8,1049.4 1181.5,1046 1174.6,1093.4 1186.1,960.2 1189.8,877.7 1177.4,1062.8 1182.8,841.3 1180,952.1 1176.4,975.4 1182.2,1020.6 1189,922.9 1188.4,994.3 1177.4,1039.1 1180.3,1034.7 1190.3,973.6 1190.2,1056.6 1175.8,1020.5 1177,1099.4 1185.2,1013.2 1178.8,1075.3 1188.6,843 1181.6,1097.1 1191.4,906.5 1189.2,1016.3 1188.9,954.4 1183.7,875.3 1174.3,1079.1 1186.8,1022.4 1190.4,1045.6 1179.4,1001.8 1188.9,946.6 1191.4,1064 1179.8,1057.4 1184.2,1047.6 1190.8,1062.1 1177.4,886.3 1177.6,1011.7 1182.6,1092 1188.8,987.1 1179.7,849.1 1182.8,1005.6 1184.3,941.2 1188.7,1083.4 1178.1,996.2 1176.1,1051.3 1188.9,1004.4 1182.8,1080.4 1184,1044.4 1190.3,1054.1 1187.6,891.9 1180.4,966.1 1184.4,864.7 1175.8,962.7 1189.2,982.5 1175.1,1056.1 1176.7,1071.7 1187.3,969.6 1191.1,1089.5 1179.6,901.9 1188.4,1033.8 1190.5,899 1177.9,900.7 1184.2,878.6 1186.4,1016.7 1188.2,992.1 1190.4,953.4 1190.8,908.1 1188.9,1074.9 1174.6,1000.4 1190.8,1060.8 1183.8,995.1 1182.2,1063.9 1181.3,1015.6 1185.9,777.3 1191.2,1007.3 1185.6,1015.3 1179.3,1110.5 1184.1,1019.9 1174.1,863.2 1186.2,955.3 1180.9,1046.4 1187.3,1006.7 1181.2,973 1184.7,913.1 1183.4,969.1 1179.5,1023.4 1188,860.1 1178.8,925.1 1175.7,1084.9 1187.6,1102.2 1185,1006 1178.1,979.2 1176.7,1079.8 1177.9,898.2 1182.7,971.6 1183.8,1054.7 1186.7,935.2 1184.8,918.9 1185.6,1069.6 1187.6,1029.7 1179.6,1069.3 1174.7,959.9 1178.9,972.6 1177.1,997.8 1179,1061 1175.6,992.5 1182.2,910.3 1182.4,1073.5 1178.4,1052.3 1188.6,987.8 1174.9,1024 1184,999.3 1178.1,935.5 1191.1,998.5 1179,1040.8 1186,1062.3 1175.2,1031.7 1179.5,1098.3 1188.2,950.1 1181.4,979 1176.5,1071.1 1174.8,1100.9 1182.1,997.4 1183.6,1047.1 1174.5,1024.9 1174.5,1065.9 1189.1,869.7 1191.6,987.5 1186,945 1174.7,974.9 1179.8,1060.2 1190.4,1036.3 1189,1038.7 1188.9,921 1174.4,993.6 1176.8,958.4 1183.5,923.6 1187.3,994.9 1176.8,1095.9 1176.6,928.1 1187.5,1039.6 1189.3,1052 1176.6,888.7 1184.6,1069 1190.1,970.2 1190.5,1017.7 1188.4,1074.1 1181.5,1002.8 1180.3,1000.2 1179.1,1084 1176.6,1099.8 1174,1027.6 1181.4,959.5 1186.2,1065.4 1186.8,967.9 1185,1017.5 1176.9,1048.8 1187.9,1013.6 1174.7,999.1 1188,1095.4 1177.4,937 1181.3,1116.5 1184.7,983.2 1189.8,989 1185,892.4 1178.7,1033.2 1181.5,999.8 1180,957.6 1183.8,1027 1188.7,1092.7 1185.3,1065 1177.5,1082.4 1183,906.3 1183,1103.9 1183.6,919.8 1186.5,1098 1186,1048.1 1187.4,1102.8 1175.7,903.8 1184.3,983.7 1182,1037.7 1179,975 1190.1,1068.5 1180.9,955.7 1178.4,876.7 1187.4,1088.6 1182.9,1015.9 1175,985.3 1189.8,1012.4 1180.1,853.5 1188.1,1086.2 1185.4,949.5 1187,1008.4 1190.6,1021.7 1186.4,1061.7 1183.5,1007.6 1191.6,866.2 1187.5,1056.8 1178.9,956.9 1190.1,1093.7 1186,1042.7 1186.2,988.2 1177.8,907.1 1186,1004.7 1180.8,1101.9 1178.7,1082 1182.6,991.9 1184.5,888.9 1175.3,1048.2 1187.3,1095.1 1185,1018.5 1176.8,960.7 1190.8,1053.1 1179.9,1011 1189.7,1100.6 1174.3,970.6 1177.6,868.8 1182.4,982.2 1186.5,832.9 1176.4,1043.4 1174.6,964.6 1187.4,774.9 1190.6,963.2 1189.2,1021.3 1175,974.3 1183.1,959.2 1179.8,928.5 1174,901.4 1174.2,980.1 1176.2,965.6 1184.5,1034.2 1180.7,882.9 1180.5,1041.7 1179.8,893.5 1191.8,990.4 1175,1003.5 1186.1,1041.2 1179.8,963.5 1190,956.3 1180.8,1080.8 1182,988.8 1174.7,1067.1 1181.5,899.5 1184.1,862.3 1179.8,977.3 1174.4,1041.9 1185.4,926.7 1190.6,1031.2 1186,1026.7 1176.7,1108.8 1186.7,933.5 1183.9,902.9 1174,1054.8 1184.8,967.3 1175.8,993.4 1174.4,1023.8 1190,1087 1181.6,861 1191.6,1029 1189.9,955 1187,996.9 1183.2,962 1188.7,989.5 1181.5,889.9 1179.2,973.8 1181.1,1059.7 1177.4,1036.9 1180.2,962.5 1174.3,855.4 1179.1,1001.6 1183.8,881.9 1176.7,922 1180.6,993 1188.2,975.9 1178.2,986.8 1185.3,1053.7 1179.5,944.3 1176.8,911.1 1189.3,943.8 1180.2,1038.5 1178.5,883.4 1174.8,1064.5 1180.8,1091.2 1176,1032.3 1183.2,894.1 1179.4,991.4 1175.8,1013.8 1174,909.4 1182,980.3 1182.4,1058.2 1188.3,961.1 1178.5,910.1 1178.2,877.6 1178.9,1088.3 1188.6,977.7 1185.3,1094.3 1188.2,1090.3 1189.9,1050 1177.3,958.8 1186.7,873.9 1190.9,917.6 1181.6,979.5 1176.4,1038 1182,937.8 1188.9,897.7 1187.3,1009.4 1184.7,929.9 1185.9,1104.8 1188,1010.8 1179.5,1026.3 1186.6,1028.1 1183.3,957.3 1186.7,1053 1181.9,896.7 1180.8,1028.7 1187.7,1067.8 1191.6,916.9 1179.7,872.6 1189.7,1044.6 1184.5,976.6 1181.4,978.4 1190.3,954 1181.2,904.7 1177.7,1035.4 1176.7,1011.8 1179.6,1081.3 1180.3,1018.3 1175.4,1083.2 1183.2,1022.9 1183.4,956.5 1187.4,1055.8 1177.2,1014.3 1190.9,961.9 1182.3,932.6 1183.4,1077.7 1189.8,1058.7 1176.1,1072.5 1180.7,978 1179.6,911.9 1183.8,965.5 1190.9,938.9 1179,1025.8 1177.3,1012.9 1184.1,1040 1174.4,1049.4 1187.6,960.5 1182.1,1036.8 1188,845.1 1177.5,968.4 1188,1029.8 1174.3,1019.3 1188.2,970 1190.3,926.4 1185.9,1084.4 1189.9,890.9 1174.7,1089 1177.9,1073 1191.2,915.3 1180.2,1005.2 1175.3,885.3 1184.9,1010.1 1190.1,952.8 1174.1,957.8 1182.4,955.7 1183.2,971.8 1187.4,963.4 1179.2,992.3 1176.6,948.8 1189.9,981.9 1190.2,1063.2 1184.3,984.6 1175.7,1025.2 1176,923.8 1184.8,942.5 1175.7,1057.9 1181.4,1096.6 1174.8,978.8 1177.7,929.6 1183.8,1045 1188.1,1008.8 1185.8,1003.8 1184.2,1085.5 1182,1070.3 1179.4,1046.6 1189.8,975.8 1188.1,914.2 1176.2,984.7 1182.5,983.1 1176.9,988.5 1180.3,951.7 1182.5,981.2 1180.4,994 1181,1035.7 1191.5,1040.5 1185.4,964.9 1190.8,918.5 1189.3,1030.5 1186.5,990 1189.5,971.3 1181.3,958.2 1183.6,1079.5 1184.5,915.5 1174.3,1076.9" fill="none" stroke="none" marker-start="url(#mr)" marker-mid="url(#mr)" marker-end="url(#mr)"/>
<polyline points="1206.9,1115.9 1220.1,1095.1 1222.5,1099.1 1222.4,1098.3 1206.5,1100.7 1208.7,1101.3 1208.7,1106.5 1210.7,1118.7 1213.5,1109.7 1218.2,1117.8 1207.6,1103.9 1210.7,1100.3 1214.9,1115.5 1206.5,1091.7 1220.3,1110.2 1206.7,1104.1 1212.6,1120.5 1205.8,1104.5 1214.8,1105.9 1205.2,1076.2 1214.5,1105.5 1213.3,1098.8 1209.3,1111.8 1217.9,1113.7 1221,1116.9 1212.9,1114.4 1213.5,1110.5 1208.6,1120.1 1222.2,1095.9 1213,1107.2 1218.4,1103.1 1212.3,1084.2 1207.9,1103.5 1213.2,1108.2 1214.8,1102.1 1212.9,1094.1 1209.7,1113.1 1211.3,1096.9 1218.1,1114 1210,1111 1213.5,1107.4 1222,1109.1 1210.2,1122.7 1214.9,1121.5 1213.9,1105.1 1220.6,1108.4 1217.8,1113 1221.3,1111.3 1214.8,1067.1 1205.9,1097.1 1211.9,1108.7 1218.1,1119.5 1217.5,1116.6 1212.8,1112.6 1217,1102.6 1215.5,1106.8 1206.7,1125 1211.6,1112.2 1206.1,1099.5" fill="none" stroke="none" marker-start="url(#mb)" marker-mid="url(#mb)" marker-end="url(#mb)"/>
<polyline points="1242.5,974.7 1246.2,897.7 1243.5,1002.6 1247.3,954.2 1238.1,980 1247,926.6 1242.7,950 1252.9,866.2 1247.8,902.6 1235.7,899.3 1245.1,993.9 1241.8,897.2 1236.5,1030 1239.9,887.1 1249.8,980.8 1248.1,910.9 1250,934.1 1247.2,974.5 1247.3,994.7 1252,919.8 1249.3,940.9 1247.9,990.5 1246.9,1031.8 1236.2,917.5 1237,864.9 1240,929.8 1242.7,964.2 1235.6,844.3 1247,885.4 1242.2,900.8 1249.9,930.3 1249.6,1005.3 1247.5,915.9 1240.4,1020.9 1235.8,1014.5 1245,946.8 1253.2,898.2 1243,945.1 1245,913.3 1252.3,988.7 1246.2,912.7 1251.9,930.7 1249.6,936 1241.3,824.2 1247,848.8 1238.4,842.1 1248.1,972.5 1244.1,958.7 1237.9,892 1235.9,949.4 1246.2,938.7 1245.7,915.5 1250.9,927.5 1239.4,924.1 1248,939.8 1239.1,934.4 1245.8,969.6 1236.9,915.3 1245.5,976.4 1245.3,955.8 1246.7,920.9 1235.9,923.8 1239,849.3 1244.2,885.2 1251.3,934.5 1237.2,946.2 1251.3,940.2 1250.3,918.4 1238.7,922.7 1238.5,956 1253,1013.9 1236.8,954.8 1244,828.8 1243.3,888.4 1247,918.6 1252.7,933.8 1253.5,923 1243.2,938.9 1235.7,878.2 1241.5,893.3 1251.6,952.7 1245,902.2 1246.3,895.2 1246.5,858.7 1251.7,998.8 1248.2,905.3 1252.3,903.7 1239.3,1022.9 1237.2,913.8 1251.2,905.5 1240.9,834.2 1241.5,927.4 1247,969.2 1236.4,931.9 1245,942.9 1248.5,945.6 1240.4,934 1251.7,953.5 1238.5,1118.9 1245.6,912 1244.6,947.4 1236.7,989.9 1251,963.2 1250.7,949.7 1250.7,887.6 1247.1,988.2 1248.5,954.6 1236.6,910.7 1246.6,986.8 1236.9,948.9 1240.3,967.8 1240.7,940 1244.7,944.7 1243,916.5 1252.7,939 1241.2,843 1240.4,925.4 1250.9,951.5 1249.1,948.1 1242.4,908.7 1245.6,943 1238.1,929 1241.6,1043.3 1243.8,970 1251.2,909.1 1248.6,995.3 1250.5,890.3 1248.5,973.2 1253.6,939.2 1242,951.8 1252.6,932.1 1236.1,877.3 1245.1,844.6 1242.4,958.4 1236.1,911.3 1243.8,950.2 1246.2,881.6 1253.1,992.3 1239,838.4 1240.3,898.9 1243.5,1012.5 1244.6,952.5 1251.9,924.6 1235.7,941.8 1241.4,917.2 1248.7,944 1250,922.2 1245.1,931.2 1241.3,905.7 1247.7,924.2 1237.2,856.3 1248.6,1070.8 1250.2,971 1242.4,921.2 1247.6,987.3 1249.9,921.9 1239,924.4 1247.2,968 1249.9,869.8 1244.8,945.4 1248.5,919.6 1235.9,948.7 1247.7,926.2 1250.8,1024.2 1245.5,1016.5 1244.2,931.4 1248.1,1004.5 1247.5,912.4 1238.4,973.7 1243,863.1 1242.6,926.7 1246.4,955 1248.2,892.5 1248,857 1247.6,875.4 1246.6,909.7 1250.9,960.8 1249.9,909.5 1241.8,903.1 1251.9,941.6 1241.7,901.1 1238.5,946.6 1243.5,1018.3 1236.6,895.9 1245.3,911.4 1246.2,956.2 1242.1,836.8 1253.6,986.4 1249.4,981.9 1244.1,951.6 1250.8,940.6 1245.1,875.6 1241.3,1013.6 1238.6,939.5 1247.1,937.9 1253.5,867.8 1238.6,848.1 1242,989.6 1245.7,853.3 1240,938.5 1248.2,860.9 1237,945 1247.1,870.8 1250.5,907.7 1253.6,859.6 1243.5,904.2 1243.5,997.2 1237.8,921.3 1243.7,966.2 1242,978.3 1243,930.1 1247.3,886.5 1246.8,903 1239.4,874.2 1242.2,906.9 1241.8,854.3 1235.7,827.2 1252.2,957.5 1250.6,991.3 1251.6,1004.7 1249,1001.3 1248.3,924.9 1237.7,950.7 1247.1,933.5 1240.8,909.2 1248.5,936.5 1252.2,1026.2 1238.7,933.3 1253.4,981.6 1236.2,955.3 1242.1,978.8 1247.9,856 1243,1002.3 1241.9,1119.5 1241.7,947.9 1252,915 1253.4,880.5 1252.9,863.9 1253.3,984.9 1249.6,902.1 1238.4,944.3 1244.1,906.6 1243,884.2 1248.6,954.2 1243.3,942.1 1251,932.4 1239.5,884.6 1240.9,925.1 1249.4,906.4 1246.1,927.8 1250.7,929.4 1253,922.9 1238.4,911.8 1236.7,913.1 1252.6,947.2 1253,1046.4 1253.6,956.9 1238.1,928.4 1242.2,873.5 1251.7,963.1 1247.2,906.3 1245.5,928.8 1250.2,818.8 1244.9,903.8 1246.7,912.5 1242,920.1 1246.8,840.3 1246.9,980.6 1244.5,950.9 1244.3,925.9 1253.4,1020.1 1245,927.1 1241.6,910.3 1246.6,965.4 1237.6,904.6 1247.8,953.2 1253.2,905 1245.4,935.4 1245.6,983.3 1249.6,852.7 1243.5,944.5 1241.8,832.2 1250.8,953.7 1249.1,837.8 1247.6,917.7 1247.6,865.2 1250.4,870.5 1242.3,975.3 1238.5,979.3 1239.8,985 1237.6,935.5 1239.7,951.2 1241.6,992.9 1243.7,899.7 1249.3,975.6 1240.4,984.2 1253.2,872.5 1240.3,946 1238.6,889.8 1241.1,926.1 1240.9,952.2 1241.2,914.6 1238.5,852.5 1253.1,911.6 1245.4,919.1 1251.7,976.8 1244.7,876.8 1242.8,935.6 1236.9,880.3 1240.6,989.3 1238,913.9 1251.4,960.1 1248.5,866 1243.1,886.3 1248.1,851.4 1248.3,1058.5 1237.8,1010.2 1238.5,1035.5 1249.1,1008.9 1241.3,873 1240.6,1010.4 1247.7,961.8 1245.4,928.1 1242.4,918.2 1243.1,942 1251.6,1007.4 1244.9,904.3 1239.5,917.1 1243.5,936.8 1239.2,955.4 1239.9,855.2 1243.8,910.2 1237.5,889.2 1249.6,868.2 1250.9,967 1252,928 1238.6,901.8 1245.9,914.2 1238.6,847.6 1246.4,966.4 1242.9,890.7 1249,945.8 1238.3,950.6 1241.4,902.4 1250.8,858 1239,999.7 1246.7,938.2 1240,943.8 1243.7,1012 1238.1,896.8 1235.8,1019.2 1247.6,996.8 1239,914.4 1253.5,968.7 1251.2,1064.7 1237.6,947.5 1245,1027.3 1249.3,903.4 1240.3,839.9 1245.7,876.2 1252.4,971.6 1238.9,977.6 1244.9,985.7 1249.3,925.7 1239.8,932.8 1241.3,943.2 1246.2,893.9 1236.6,914.9 1239.6,932.6 1242.4,904.8 1242.5,920.3 1237.2,882.2 1240.2,908.4 1236.5,949.2 1241.3,952 1237.9,1003.5 1236.4,1006.8 1240.6,1011.3 1245.5,843.2 1244.5,916.8 1247.2,983.7 1242,919.4 1248.5,970.5 1249.4,871.2 1252.8,982.8 1250.4,845.4 1250.9,872.3 1237,834.9 1241.7,850.4 1244.5,833.4 1240,936.4 1238,841 1245.5,956.5 1237.3,907.8 1245.1,998.7 1241.7,948.4 1240.7,997.9 1242.1,919 1251.9,892.8 1241.3,908 1249.7,929.1 1236.9,861.2 1237.1,923.6 1236,895.3 1252.1,850.8 1235.8,961.2 1247.7,1001 1251.6,933 1240.2,953 1237.5,930.7 1236.2,937.1 1247.9,907.4 1241.4,1027.7 1242.8,1007.8 1249.3,830.4 1242.7,861.6 1240.6,1018 1248.4,878.5 1247.2,900.3 1248.3,940.3 1250.6,857.5 1240.4,920.5 1236.9,937.4 1245.1,1049.4 1241.2,854.4 1252.3,1009.6 1242.5,846.4 1250.1,946.4 1238.5,923.4 1250.3,909.9 1252.4,929.6 1236.5,913.4 1241.4,953.9 1245.4,863.6 1236.7,937.7 1236.9,874.5 1243,942.3 1235.8,931.1 1241.2,917.8 1247.2,977.3 1244.8,879.6 1245.2,963.9 1239.2,891.2 1242.9,920.7 1250.3,908.5 1247.1,1055.5 1247.7,1002.9 1239.9,862.3 1239.2,916.1 1240.9,936.2 1249.5,957.8 1252.5,962.7 1248.2,866.7 1247.8,1006 1241.1,935 1240.9,949.9 1239.4,835.8 1240.2,948.4 1240.6,883.6 1243.6,882.8 1242.3,868.4 1250.1,811.5 1253.6,847.2 1242.8,959.5 1241,941.2 1236.6,906.1 1253.4,992 1246.4,1016.2 1238.4,1075.6 1244,1000.5 1252.2,931.8 1235.6,825.9 1247.5,993.6 1243.6,922.4 1243.8,995.4 1244.2,894.4 1243.8,1015.3 1249.4,941.1 1239.6,888.9 1248,860 1241.8,972.3 1240.7,996 1248.5,1038.7 1240.8,869.3 1251.8,921.7 1240.9,955.7 1246,879.3 1244.3,1021.5 1247.5,881.1 1239.6,916.4 1240.4,934.7 1250.5,957.7 1245.2,1023.6 1244.2,965.1 1247.4,907.2 1242.4,956.7 1241,957.2 1251.8,937.3 1236,960.2 1249,942.6 1240.2,943.5" fill="none" stroke="none" marker-start="url(#mr)" marker-mid="url(#mr)" marker-end="url(#mr)"/>
<polyline points="1267.1,1116.6 1269.2,1083.3 1270.6,1100.8 1277.4,1113 1272.7,1095.8 1275,1110.1 1276.6,1114.8 1281.7,1110.8 1283.6,1092.7 1270.6,1107.3 1268.5,1085.7 1281.5,1076.9 1275.2,1119.4 1278.7,1087.4 1276.3,1119.9 1276.7,1101.9 1272.6,1080.2 1275.7,1046.4 1270.4,1112 1271.9,1103.3 1282.2,1099.3 1269.2,1090.5 1275.4,1102.3 1284.1,1111.4 1277.3,1118 1281.7,1104.4 1270.4,1108.4 1279.3,1120.7 1269.1,1057.6 1269.9,1105.5 1277.5,1065.3 1266.7,1112.7 1273.3,1097.7 1276.8,1111.7 1280.7,1125 1270.9,1113.4 1281.6,1067.7 1272.1,1118.5 1280.5,1115.8 1267.5,1109.2 1268.1,1088.3 1281.7,1073.2 1279,1113.8 1282.6,1094.5 1275.5,1123.7 1280.8,1117.3 1269.8,1115.3 1272.9,1096.7 1269.9,1114.3 1283.4,1122.2 1276.8,1114.7" fill="none" stroke="none" marker-start="url(#mb)" marker-mid="url(#mb)" marker-end="url(#mb)"/>
<polyline points="1302.9,991.4 1300.6,1015.8 1308.1,972.7 1298.4,1038.8 1311.7,1015.5 1310.7,984.6 1314.9,1075.5 1300.7,1031.4 1314.2,979.7 1310.7,1025.6 1313.4,1069.5 1315,1052.6 1306.1,1043.3 1307.8,894.7 1297.4,919.9 1311.2,1088.3 1300.8,1099.5 1302.2,1041.1 1309.8,1011.7 1303.8,1117.7 1304.6,1081.6 1309.8,1077.8 1314.3,1027.8 1298.3,1008.1 1300.3,1021.9 1298.6,1030.7 1313.3,1060.9 1298.5,1091.2 1313.2,1037.3 1310,1058.7 1315,941.4 1300.6,1046.6 1314.4,1020.7 1305.4,958.4 1299.1,1090 1311,993.4 1315.1,944 1314.6,935 1314.3,997.4 1313.2,1026.8 1300.2,1103.7 1313.4,1074.1 1309.8,1062.1 1302.6,1039.4 1305,992.9 1310,995.1 1313.1,1049.2 1300,948.8 1300.4,967.4 1311.9,1068.1 1311.2,1057.6 1312.7,1006.1 1311.4,1097 1302.8,1111.1 1308.8,1093.7 1307,1083.6 1300.1,929.1 1302.4,1070.8 1307.5,1051.7 1314.3,1034.8 1313.4,910.6 1314.4,883.5 1306.6,1085.9 1309.2,1023.3 1298.1,974.3 1305.9,1044.6 1297.5,999.6 1309.6,1000.3 1313.5,1010.2 1313.2,915.3 1308.7,1079.6 1313.8,1065.9 1312,1032.8 1304.6,988.7 1307.2,1005.2 1300.1,1055.6 1309.7,1012.8 1304.9,960.4 1307.9,934 1298.1,1048.2 1304.5,1017.9 1299.7,1053.7 1299.1,1003.4 1301.2,982.5 1302.6,963.3 1303,1064.4 1310.7,953" fill="none" stroke="none" marker-start="url(#mr)" marker-mid="url(#mr)" marker-end="url(#mr)"/>
<polyline points="1344.8,979.2 1339.5,951.7 1340.7,1028.5 1330.5,1020.8 1342.1,1022.5 1339.5,950.2 1341.5,955.1 1343.2,896.2 1337.3,965.5 1344.4,961.4 1334.1,966.1 1332.2,1030.4 1336.7,945.9 1336,944.5 1342.3,937.8 1333.5,939.4 1344.8,936.3 1343.5,965.8 1336.8,943.7 1341.3,974.7 1335.5,946.6 1339.7,920.9 1333.4,1040.6 1329.9,1080.5 1339.6,990.3 1333.9,976.8 1332.9,935.4 1329,986.9 1343.6,970 1328.5,973 1337,997.3 1328.2,1029.3 1344.1,901.1 1336.4,979.7 1336.6,866.2 1342.5,919.4 1334.2,871.9 1337.2,1003.4 1345.9,964.8 1338.8,1025.7 1331.4,1013.7 1334.6,926 1343.1,1038.5 1331.6,992.1 1334,985.6 1345.5,924.5 1334.3,940.4 1328.5,936.8 1339.8,975.3 1344.3,912.4 1342.6,1073 1341.8,953 1335,922.9 1341.5,970.6 1344.7,1041.3 1329.6,886.9 1341.2,883.9 1340.3,1006 1343.2,955.5 1343.6,951 1342.9,908.5 1343.4,1107.4 1343.2,918.2 1337.6,982.4 1332.3,943.4 1338.6,960.5 1339.2,1052.2 1328.8,928.6 1336.5,1002.1 1343,957.9 1344.8,984 1335.9,893.4 1338.5,1008.4 1341.6,863.2 1329.7,946.7 1342.2,959.3 1334.6,954.1 1337.2,987.8 1337.5,884.4 1329.3,1023 1341.3,899.3 1331,1058.6 1331.4,971.3 1338.3,950 1338.6,1019.8 1343.2,976.4 1334.5,946.1 1338.6,881.8 1343.5,877.4 1339.7,942.1 1341.7,916.7 1344.1,1055.5 1338.3,971.7 1342.8,940.1 1328.8,942.6 1336.5,968.6 1341.7,982.7 1334.8,904.3 1345.7,935.2 1333.5,1014.5 1333.2,985 1328.5,1049.5 1335.3,978.7 1336.5,973.5 1329.8,933.2 1334.7,859.8 1331.1,911.4 1333.3,938.7 1328.3,908.1 1328.4,830.4 1336.7,963.6 1341,1053.6 1343.9,1012.8 1333.1,958.7 1337.6,994.1 1345.1,1006.7 1328.5,994.6 1337.2,903.8 1342.6,1045.8 1341.4,941.4 1334.9,1034.9 1336.4,874.2 1339.1,905.8 1330.3,988.9 1339.7,920 1344.3,1062 1344,969.7 1343.7,936 1345.3,927.7 1333.4,898.1 1339.7,989.6 1339.5,1110.4 1333.4,1027.6 1329.1,1045.9 1333,1043.1 1339.3,960.8 1344.2,894.3 1339.2,939.5 1330,924.7 1336.9,991.8 1337.2,983.4 1340.4,891.9 1340.1,974.7 1329.3,914.3 1344,940.7 1342.6,1026.7 1344.1,938.8 1334,877.2 1334.2,951.2 1330.9,1015.5 1332.3,1004.5 1330.2,953.3 1334.5,972.2 1343.1,962.7 1340.5,1047.2 1341.4,882.5 1344.2,934.9 1345.6,923.5 1335.3,956.5 1343.4,983.6 1343.9,948.4 1332,998.7 1334.4,875.9 1336.5,917.9 1339.1,943.1 1332.1,1065.5 1343.3,854.5 1333.7,1058 1336.8,990.7 1336.5,981.2 1337.7,958.7 1330,915.6 1336.3,1039.4 1339.8,879.8 1335.6,1010.5 1342.5,932.1 1331.6,1036.7 1334.4,963.8 1333,896.9 1341.2,942.4 1345.3,981.9 1334.2,1012.2 1333.1,975.9 1330,1032.7 1343.5,927 1345,968.9 1339,1000.9 1339.9,978.1 1334.6,848.1 1337,1016.2 1344.1,948.8 1345.6,999.6 1330.4,986 1345.6,871.5 1344,995.7 1329.8,945.3 1343.1,891.6 1330.5,1011.3 1336.3,1116.5 1331,958.2 1345.8,980.1 1342.4,996.2 1342.1,907.5 1345.5,978.4 1337.6,986.5 1331.9,947.3 1335,993.9 1336.7,937.6 1331.2,1033.3 1339.1,931.2 1328.3,980.9 1341.5,933.8 1332.1,1003.6 1343.7,1001.1 1339.6,1042.4 1333.1,993 1329.5,948 1336.7,991.3 1333.1,937.1 1338.3,912.8 1335.6,1005.2 1328.8,1044.6 1342.2,995.2 1334.1,1036.6 1344.3,1021.6 1335.7,961.9 1336,997.9 1333.7,954.9 1336.7,941.7 1330.7,909.4 1333,977.2 1332.1,889 1339.9,905.3 1337.7,1069.9 1328.1,959.5 1334.4,947.5 1335.3,974.1 1328.8,950.6 1339.7,878.8 1329,967.7 1342.6,895.1 1339.6,993.5 1345,948.1 1337,967 1329.9,944.2 1329.7,1061.8 1335.5,1031.6 1337.6,1089 1332.3,955.9 1332,902.9 1341.3,888.1 1338.5,956 1339.5,949.4 1335.8,956.8 1333.4,930 1337.1,1033.9 1340.6,929 1336.1,868.9 1332.6,954.5 1331.4,968.3 1337,953.7 1344.6,984.4 1344.7,910.2 1330.1,987.4 1334.6,861.7 1345.8,951.9 1333.4,972.7 1342.7,966.9 1332.3,899.7 1346,1009.5 1341.2,1066.8 1336.2,1018.7 1341.6,949.6 1340.4,1051 1344,988.5 1345.7,945.1 1340.6,989.9 1341.8,938.4 1331,901.3 1330.4,921.3 1339.1,914.9 1343.1,952.5 1336.7,934.6 1338.4,962.2 1339.9,936.4 1345.9,944.9 1329,886.4 1341.7,1009.2 1342.2,957.2 1343.4,1055.9 1331,964.4 1340.5,1049.1 1331.3,941.1 1328.6,1018.2 1335.1,952.4 1332.1,890.2 1329.6,1023.8 1339.2,868.7 1332.9,1017.3 1329.8,960.2 1334.7,1024.7 1342.2,931.4 1338.2,957.6" fill="none" stroke="none" marker-start="url(#mr)" marker-mid="url(#mr)" marker-end="url(#mr)"/>
<polyline points="1367.6,1028 1361.9,1042.2 1375.9,1003.2 1374.9,1090.6 1367.5,1050.4 1361.1,985.6 1360.3,1081.8 1375.2,1036.2 1367,1086.4 1363.5,1048.9 1374.5,1067.4 1368.1,1006.7 1370.6,1089.7 1360.6,1087.8 1375,935.3 1368.4,1080.5 1365,961.5 1366.8,1032.6 1372.6,1052.8 1367.3,1063 1369,1092.3 1366.8,1049.5 1359.6,1103.7 1367.4,1072.2 1363.3,1065.9 1372.2,1063.4 1365.5,1055.1 1370.3,1045.8 1371.5,1069.5 1364.6,1059.3 1361.7,980.1 1373.2,1041.7 1372.5,1038.7 1362.7,1071 1362.7,1003.8 1367.2,1044.2 1371.4,1013.9 1363.1,1092.1 1375,977.5 1361.1,1047.8 1374.3,974.5 1374.1,1064.4 1371.7,1110.1 1362,1083 1370.3,1044.5 1360.6,1065.1 1371.5,1070.5 1374.9,1059.7 1375,1088.8 1376.3,1062 1373.9,1033.3 1363.4,1111 1358.9,1029.6 1375.8,991.5 1363.6,1036.8 1364.5,1127.5 1359.9,1028.5 1364.8,1043.5 1362.8,1105.7 1362.5,976.1 1375.6,1064.1 1370.6,1010 1362.8,1101.5 1362.6,1053.9 1374.2,1054.6 1369.7,1068.9 1368,1070.2 1366.3,1055.6 1367.4,980.7 1368.7,1047.5 1375.7,997.4 1371,1015.3 1360.4,1037.7 1366.7,1049.9 1365.2,1053 1361.4,1012.4 1370.5,999.2 1367.4,1013.1 1363.7,1051.3 1373.8,1068.6 1370.4,1041.2 1370.7,1035.3 1371.2,1079.9 1359.9,998.9 1376.2,1084.3 1369.4,1052.2 1365.5,1075.8 1364.3,1029 1365,1047 1365.2,1057.2 1370.5,1040.4 1359.9,1067.9 1365.4,1073.5 1361.1,1046.5 1365.1,1075.5 1367,1112 1363.6,1042.9 1375,1099.8 1375.6,1098.2 1363.5,957.3 1365.7,1035.8 1361.4,995.8 1361.4,1020 1361.2,1107.7 1370.7,1018.5 1369.6,1101.1 1366.2,993.5 1360.7,1062.5 1359.1,1033.8 1360,1057.8 1360.5,1079.4 1373.3,1067 1376.6,1000.5 1367.8,1008 1362,1077.9 1365.5,1113.8 1366.6,969.2 1372.3,1016.6 1375.9,1056.8 1372.7,1061.2 1368.7,1034 1369.2,994.7 1369.7,1023.4 1376.7,987.7 1375.1,1044.9 1359.8,1060.7 1374.1,1119.9 1364.1,1094.3 1359.5,1021.6 1370.3,1026.2 1373.1,1083.3 1369,990.3 1371.2,987.2 1365.3,1030.6 1369.1,1022.4 1368.8,984.2 1360.7,1058.1 1371.7,1051.7 1372.1,1055.9 1367.8,1095.6 1363.1,992 1371.1,1038.1 1365.7,1058.9 1374.8,1094.7 1370.8,1002.4 1372.4,1106.3 1363,1023.8 1368.5,1034.9 1359.9,1086 1373.1,1048.2 1366.7,1017.6 1365,1031.1 1373,1120.3 1359.2,1024.9 1369.5,1039.9 1359.1,1039.2 1361.3,1060.3 1363.3,1026.9 1365.2,1027.6 1362.3,1074.2 1369.5,1031.4 1376.4,1020.9 1370.7,1031.8 1372.7,1077.4 1371.6,983.3 1366.7,1066.2 1374.3,1005.9 1372.7,1096.7 1362.2,967.4 1369.2,1024.2 1369.4,1026.7 1361.1,1010.6 1363.1,1009.2 1365.3,972.8 1373,1115.6 1358.9,1025.4 1369,1103.4 1363,1040.9" fill="none" stroke="none" marker-start="url(#mr)" marker-mid="url(#mr)" marker-end="url(#mr)"/>
<polyline points="1405.1,1033.7 1397.7,1085.1 1391.9,1094.2 1399.8,1067.5" fill="none" stroke="none" marker-start="url(#mb)" marker-mid="url(#mb)" marker-end="url(#mb)"/>
<polyline points="1432.3,1114.3 1428.7,1113.7 1430.8,1115 1429.6,1113 1435.3,1094.8 1432.5,1114.6 1423.7,1116.1 1432.1,1105.7 1435.2,1111.5 1425,1115.7 1428.6,1127.9 1438.1,1098.6 1428.7,1113.9 1430.2,1094.5 1428.7,1118.7 1420.6,1120.8 1424,1128.7 1433.8,1123.4 1433.5,1110.4 1429.6,1110.7 1429.2,1100.6 1428,1085.9 1427.1,1092.7 1428.4,1103.9 1431.3,1114.8 1432.1,1125.8 1427.1,1126.3 1421.7,1114.1 1422.3,1124.3 1434.7,1117.9 1424.5,1090 1426.5,1125.8 1435.5,1096.2 1426.2,1119.4 1438.1,1116.4 1430.7,1099.2 1429.7,1108.4 1422.2,1118.2 1426.8,1122.4 1420.8,1123.2 1424.7,1124.2 1422.5,1119 1429.2,1126.4 1433,1107.4 1427.9,1114.4 1430.9,1123.8 1423.7,1124.1 1422.2,1120.3 1436.2,1103.1 1432.1,1076.9 1427.3,1121 1435.8,1118.5 1421.6,1117.3 1430,1093.8 1422.5,1119.9 1437,1112 1423.5,1118.2 1434.3,1113.5 1429.3,1084.8 1422.5,1122.5 1431.1,1115.5 1429.5,1121.3 1426.3,1112.2 1432,1095.9 1436.6,1079.3 1431.1,1127.2 1430.1,1119.2 1431,1087.7 1424.9,1121.1 1429.8,1121.7 1432.2,1118.9 1423.6,1109.9 1425.9,1052.5 1434.9,1086.7 1437.6,1118.6 1434,1091.7 1422.8,1127.1 1437.3,1106.9 1428.8,1113.8 1434.9,1112.6 1436.1,1106.7 1429.5,1106.4 1437.6,1103.7 1422.7,1118 1436.9,1112.5 1437.5,1110.2 1433.2,1101.3 1421.2,1100.9 1426.7,1095.5 1435.8,1102.5 1437.7,1044.5 1423.8,1109 1422.5,1104.5 1427.6,1105 1421.6,1124.9 1434.5,1122.2 1425.8,1119.6 1435.9,1111.3 1427.2,1123.5 1427.6,1091 1435.1,1116.5 1433.4,1026.8 1425.4,1108 1420.6,1102.2 1428.7,1120.1 1429.2,1083.1 1431.3,1096.5 1437.4,1064 1424.4,1125.5 1427.9,1099.7 1427,1117.1 1426.4,1093.1 1430.8,1012.2 1425.8,1098.7 1422.4,1089.2 1424.3,1117.5 1423.7,1070.8 1426.4,1108.7 1422.3,1121.9 1430.1,1108.1 1424.8,1111 1425.2,1124.7 1438,1120.1 1431.6,1113.4 1426.5,1097.8 1426.5,1111.7 1430.4,1109 1435.5,1107 1428.7,1125.2 1430.9,1119.6 1427.7,1116.1 1431.6,1073.8 1430.5,1120.5 1431.6,1117 1433.6,1115.1 1436.1,1107.6 1434.3,1096.9 1433.6,1126.7 1428.7,1104.6 1434.9,1006.7 1423.7,1097.7 1421.1,1115.9 1433.4,1091.5 1421.5,1113.1 1426.4,1117.6 1438,1116.9 1420.9,1109.2 1421,1109.6 1421.6,1106.2 1423.4,1122.8 1425.3,1122.7 1424.9,1123 1430,1087.4 1429.3,1121.4 1420.6,1092.1 1424.4,1115.6 1432,1110.8 1426.4,1115.3 1426.7,1105.9 1432.7,1104.9 1423.3,1105.3 1431.1,1088.5 1425.9,1084.6 1438.2,1109.8 1422.7,1107.9 1424.3,1120.6 1421.5,1124.5 1432,1125.2 1423.2,1089.4 1436.9,1106 1437,1100.4 1420.9,1081.8 1437.5,1101.8 1426.2,1116.7 1427.1,1104.2 1432.8,1120.9 1420.7,1122.1 1424,1121.7 1425.3,1123.7" fill="none" stroke="none" marker-start="url(#mr)" marker-mid="url(#mr)" marker-end="url(#mr)"/>
<polyline points="1463,1122.5 1458.9,1119.3 1467.1,1121.2" fill="none" stroke="none" marker-start="url(#mb)" marker-mid="url(#mb)" marker-end="url(#mb)"/>
<polyline points="1482.2,1064.4 1494.9,1022.4 1489.6,1038.9 1492.8,1094 1484.7,1122.8 1493.2,1112.6 1497,1103.9 1495.4,1081 1500.2,1103.7 1488.1,1105.7 1499.2,1120.4 1483.4,1094.7 1486.2,1087.4 1499.7,1113.1 1488.9,1027.8 1492.4,1117.6 1491.4,1103.6 1491.1,1091.1 1491,1120.5 1484.6,1105.6 1495.4,1119.5 1483.4,1127.7 1490.8,1072.3 1485.9,1099.2 1495,1062 1489.8,1050 1490.1,1100.8 1497.7,1054.8 1490.1,1088.6 1483.6,1074.8 1491.8,1073.6 1488.6,1111.1 1492,1055.3 1499.6,1103 1483.2,1058.7 1488.3,1112 1500,1032.5 1491.6,1056.2 1494.6,1097.4 1483.7,1058.9 1499.5,1098.4 1486.7,1106.1 1486.7,1126.5 1483.6,1092 1493.9,1055.7 1486.6,1048.6 1496.5,1112 1492,1095.3 1482.2,1094.8 1489,1024.1 1491.5,1064.2 1483.6,1110.6 1497.3,1069.1 1487,1094.9 1487.7,1098.6 1493.5,1109 1493,1068.2 1494.7,1088.5 1483.5,1104.3 1494.5,1121 1496.1,1094.3 1491.3,1060.6 1483.1,1121.8 1487,1112.5 1488.8,1124.4 1486.2,1116.2 1486.6,1005.7 1498.9,1101.5 1494.2,1125 1491.8,1078.6 1490.9,1032 1498.7,1056.9 1496.1,1122.1 1491.3,1107.8 1498.1,1043.6 1490.6,1083.8 1494.9,1047.6 1485.8,1105 1484.9,1104 1494.3,1095.8 1483.6,1116.8 1498.8,1100.2 1499.4,1103.3 1490.2,1079.8 1486.3,1087.1 1492.8,1087.3 1496.9,1099.2 1485.7,1126.2 1489.7,1120.2 1485.9,1121.5 1486.7,1120.1 1489,1080.3 1494.1,1111.2 1493.7,1104.9 1489.3,1105.6 1496.5,1112.4 1490.3,1072.1 1499,1046 1484.2,1082.2 1489.5,1117.7 1500,1042.2 1499.1,1118.2 1499.2,1073.9 1498.9,1106.4 1498.1,963.9 1485,1060 1492.8,1087.7 1497.7,1048.1 1485.8,1124.1 1487.4,1116.6 1499.6,1046.8 1484.3,1085.9 1485.1,1085.7 1492.5,1081.1 1497,1115.3 1493.3,1088.1 1487.7,1080.2 1498.4,1048.1 1498,1102.9 1489.7,1119.8 1499.5,1108.8 1495.5,1069.7 1487.4,1091.2 1490,1116 1485.5,1096 1497.6,1103.5 1482.2,1061.3 1496.7,1050.3 1486.9,1057.2 1483.6,1101.7 1491.1,1111.6 1499.2,1053.7 1493.6,1078.2 1483.5,1039.9 1498.5,933.5 1499.7,1119.3 1495.3,1024.4 1497.6,1116.7 1498,1113.6 1489.4,1108.7 1498.7,1109.9 1494,1117.2 1483.2,1097.9 1490.6,1051.1 1486.3,1107.5 1498.1,1070.2 1487.1,1099.6 1483.6,1065.1 1493.2,1091.7 1484.5,1066.7 1499.4,1037 1486,1083.2 1498,1099 1493.7,892.3 1490.9,1115.7 1492.3,1068 1483.6,1113.5 1498.9,1118.5 1486,1063 1486.5,968.6 1490.8,1068.5 1484.9,1121.8 1488.2,1100 1488.8,1116 1483.4,1097.6 1485,1089.6 1485.8,1077 1484.2,964.3 1487.1,1119.2 1497.8,1082.1 1491.6,1012.9 1486.2,1086.7 1497.6,1081.9 1498.9,1114.9 1484.5,1100.6 1494,1095.6 1488.9,1122.4 1484.1,1062.7 1491.3,1116.5 1497.5,1061.6 1482.6,1086.5 1497.8,1114.2 1483.1,1000.4 1486.5,1023.9 1490.8,997.1 1499.6,1120 1490.1,895.7 1498.1,1049.5 1496.1,1105.4 1498.8,1088 1495.4,1096.8 1493,1079.3 1493.8,1106.3 1491.9,1041.3 1485.6,1111.5 1490.6,1089.4 1491.7,1098.2 1490.9,1122.2 1482.5,1098.7 1492.8,1123.9 1484.3,1095 1490.6,1086.9 1491.6,1080.8 1499,1107.9 1493,1096.4 1494.7,1037.4 1498.3,1104.6 1485.3,1107.1 1483.9,1113 1494.7,1092.9 1488.3,1071.4 1496.4,1080 1492.1,1106 1489.4,1059.5 1493.8,1114.6 1482.2,1124.8 1492.8,1078.9 1490.4,1123 1498.7,1101.7 1489,1118.8 1486.5,1076.1 1483.9,1103.8 1489.7,1109.1 1495.3,1053.1 1494.1,1102.7 1494.1,1092 1492.1,1098.9 1491,1082.6 1489.8,1090.8 1493.3,1110.4 1484.5,1053.5 1495.2,1082.7 1499.6,1113.3 1491.3,1070.9 1485.4,1113.9 1499.1,1069.3 1496.3,1117.4 1499.1,1084.9 1487.6,1083.6 1486.4,1073.3 1493.6,1109.6 1483.7,1125.9 1492.2,1104.7 1485.6,1100.3 1487.5,1061.1 1499.1,1120.7 1490.6,1102.3 1486.3,1092.3 1496.5,1101.9 1484.2,1086.2 1491.8,1090.4 1485.8,1104.8 1489.9,1118.4 1484.7,1112.8 1491.5,1027.5 1495,1106.7 1484.5,1066.1 1488.8,1110.8 1499.9,1121 1492.2,1110.1 1482.5,1057.9 1494.9,1088.9 1485.1,1059.3 1486.1,1123.2 1492,1090.1 1485.2,1075.6 1494.3,1111.8 1482.3,1044.7 1491.6,1096.9 1495.1,1123.4 1491.5,1101.2 1494.4,1109.7 1485.9,1101.4 1494.5,1097.2 1483.5,1102.6 1496.9,1109.6 1483,1106.6 1496.6,1093.4 1499.2,1116.9 1483.8,1094.5 1483.2,1039.5 1490.4,991.3 1500,1112.7 1491.1,1079 1497.2,1121.6 1492.3,1096.3 1494.8,1111.7 1495.9,1104.1 1491.6,1028.7 1497.2,1038.4 1486.9,1089.3 1484.9,1117 1487,1000.9 1498.6,1043.1 1492.6,1103.1 1499.8,1099.7 1493.2,1108.2 1492.3,1101.1 1483.6,1082.9 1487.4,1080.5 1490.2,1063.9 1496.8,1045.7 1486.2,1114.5 1484.1,1116.2 1485.6,1085.5 1489.4,1128.7 1492.9,1119.7 1496.6,1115.8 1491.4,1040.7 1487.4,1082.5 1493.4,1100.6 1483.8,1058.2 1487.6,1109.4 1499.8,1113.7 1489.9,1035.2 1485.1,1041.4 1486.5,1099.4 1492.8,1100.4 1484.2,1060.4 1490.2,1100.1 1497.7,968 1488.3,1116.3 1482.4,1123.7 1486.1,1084.5 1495.7,1105.8 1496.8,1071.6 1482.7,1096.6 1483.9,1025.1 1487.5,1119 1494.6,1113.8 1491.5,1114.4 1487,1107.5 1487.5,1090.3 1482.2,1119.8 1487.6,1112.2 1499.3,1109.3 1497.9,1072.9 1491.5,1124.4 1500.1,1085.1 1492,1122.6 1499.5,1054.2 1482.8,1086.6 1486.5,1101.3 1488.6,1114.2 1487.5,1097.7 1488.1,1067.7 1487,1123.5 1488.9,1051.5 1486.8,1090.9 1487.3,1045.2 1483.4,1077.6 1487,1093.8 1490.1,1084.8 1491,1102.5 1497.9,1072.9 1498.8,966 1494.8,1122 1484.4,1105.1 1495.4,1084.2 1488.1,1108.9 1486.1,1049.2 1483.7,1114.7 1498,1126.7 1490.5,1076.7 1486.8,1093.7 1497.6,1107.3 1486.2,1115.5 1486.9,1108.3 1490.4,1124.6 1482.3,962.2 1488.9,1050.8 1487.1,1079.7 1491.9,1092.6 1484.2,1107.2 1492,1054.3 1482.9,1121.4 1498.5,1088.7 1486.4,1115.3 1487.1,1097.1 1497.7,1088.3 1482.6,1077.3 1492.8,1106.9 1498.3,1110.5 1486.2,1115.1 1483.3,1035.9 1486.7,1024.6 1491.6,1102.2 1483.9,1099.8 1497.4,1066 1491.3,1108.5 1487.3,1028 1496.1,1064.7 1485.8,1003.3 1486,1078.4 1488.9,1092.4 1488.3,1008.2 1496.7,1113.4 1500.2,1102.2 1496,1083.5 1491.3,1074.5 1499.8,1125.4 1486.9,1127 1486.6,1083.3 1486.5,1081.8 1490.6,1052.3 1490.6,1089.9 1500.2,1118.6 1498.7,1101 1497.8,1067.3 1486.7,1057.6 1490.4,1034.3 1488.3,1080.6 1490.1,1123.9 1488.9,1106.5 1490.4,1110 1497.5,1114 1489.9,1121.2 1483.2,1094.1 1493,1090.6 1491.3,1085.2 1482.5,1052.5 1488.3,1110.9 1494.9,1111.4 1486,971.5 1498.6,950.3 1491.2,1117.6 1500.2,1102 1495.5,1091.7 1489.8,1107 1497.4,1110.2 1482.7,1075.1 1499.1,1070 1489.1,1065.7 1485.8,1118.1 1487.1,1084.1 1493,1019 1490.7,1120.6 1496.1,1103.2 1492.8,1056.5 1494.1,1113.2 1497.1,1083.9 1496,1042.5 1499.2,1092.8 1483.5,1063.6 1495.2,1091.5 1483.6,1098.1 1495.4,1111 1495.8,1119.2 1499.2,984.4 1494,1044 1499.9,1085.8 1483.5,1089.1 1497.7,1086.2 1494.3,1114.8 1484.4,1081.3 1499.1,1105.3 1492.7,1117.3 1496.3,1125.1 1500,1044.4 1484.4,1062.3 1497.3,1067 1484,1122.9 1485.8,977.8 1482.3,1079.5 1484.5,1087.8 1487.6,1099.3 1498.7,1120.8 1500.1,1011.3 1497.7,1107.7 1495,1104.4 1485.2,947.1 1499.4,1122.6 1488.4,1089.8 1499.3,1108.4 1495.7,1115 1489.3,1081.4 1488.9,1076.3 1492.5,1093.2 1497.6,1108 1483.9,1112.1 1489.3,1118 1487.2,1096.1 1484.6,1051.7 1482.9,1084.7 1483.1,1070.8 1490,1125.7 1486.8,1081.6 1495.4,1075.3 1483.5,1046.9 1491.2,1115.5 1495.9,1119.1 1483.9,1118.7 1495.9,1093.1 1492,1117.8 1496.4,1098.5 1499.4,1125.5 1484.7,1095.5" fill="none" stroke="none" marker-start="url(#mr)" marker-mid="url(#mr)" marker-end="url(#mr)"/>
<polyline points="1529.3,1089.2 1518.4,1119.7 1530.8,1099.1 1518,1122.5 1521.2,1104.6 1514.4,1114.2 1513.5,1119.4 1519.5,1100.1 1513,1105.4 1517.8,1106.1 1526.2,1124.1 1529.3,1072 1513.2,1122.3 1524.3,1121.6 1528.5,1120.8 1515,1116.7 1516.7,1113.2 1523.3,1115 1528.3,1111.2 1526.9,1114.7 1514,1123.4 1516.2,1112.9 1525.6,1124.2 1529.6,1106.5 1519.1,1120.2 1522.6,1112 1516.5,1096.7 1527.1,1102.7 1519.8,1054.9 1523.9,1124.9 1521.2,1109 1529,1098.1 1524.6,1101.7 1517.7,1095 1518.7,1127.5 1524,1115.8 1525.1,1103.9 1521,1110.6 1527.3,1109.8 1521.8,1093.3 1513.2,1116.1 1514.4,1086 1529.9,1121.3 1519.3,1107.6 1520.2,1118.4 1528.8,1008.5 1516,1126.2 1521.4,1107.9 1518.4,1096.5 1519.8,1118.3 1527,1109.2 1514.1,1117.4" fill="none" stroke="none" marker-start="url(#mb)" marker-mid="url(#mb)" marker-end="url(#mb)"/>
<polyline points="1557.3,1038.2 1556.1,895.2 1549.8,957 1551.5,975.4 1557.1,945 1549.9,928.6 1553.4,932.1 1548.8,893.2 1561.5,964.5 1554.2,966.9 1550.5,933.1 1554.1,928.9 1551.2,864.6 1552.2,948.9 1548.9,948.1 1554.5,956.8 1561.4,1043.1 1543.9,1067.7 1552.5,973.7 1543.9,936 1547.9,946.8 1552.1,903.6 1544.4,897.9 1547,886 1555.7,971.9 1547.8,890.7 1560.7,885.3 1548.6,1037.2 1546.1,1025 1548.1,931.1 1548.9,1048.1 1552.1,915.6 1548.2,969.4 1556.7,948.3 1553.9,897 1553.1,978.4 1559.1,957.8 1551.7,998.2 1545.7,937 1547.5,918.7 1557.4,949.7 1552.4,910 1551.1,954.2 1554.6,940.3 1550.6,921 1548.4,959.2 1561.4,923.7 1557.1,1025.6 1556.4,913.3 1550.8,1028.1 1547.9,1010.2 1547.3,965.2 1558.9,938.4 1559.7,1042.9 1560.2,966.1 1544.1,922.1 1559.1,959.7 1547.5,970.3 1547.2,908.5 1558.8,1030.6 1558.8,981.7 1549.6,942.2 1559.2,991.1 1546,946 1550.3,953.8 1555.4,919.4 1558.5,977.1 1560.8,951.8 1556.5,943.4 1554,939.1 1560.8,902.3 1544.6,967.5 1556.2,926 1550.9,976.5 1546.4,960.4 1557,870.3 1549.7,958.7 1550.7,961.8 1547.7,961.1 1552.3,1007 1558.7,967.1 1548.7,899.2 1545.5,1004.5 1544.8,914.9 1550.6,1015.9 1548.8,923.2 1544.4,970.9 1559.7,1012.8 1546.1,977.5 1549.8,880.6 1552.6,973.2 1559.5,937 1546.9,894.2 1549,900.8 1556.2,1005.2 1551.3,917.4 1561,979.7 1560,875.4 1548.1,1016.6 1557.1,909.1 1549.5,1034.9 1549.7,1021.2 1561.6,994 1553.4,983.2 1546.9,999.4 1558.6,945.5 1544.5,988 1553.9,975.7 1559.2,974.5 1557.2,978.7 1558.2,929.9 1555.6,1031.2 1544.9,905.6 1554,912.9 1557.9,955.3 1550.6,960.8 1554.7,1019.8 1560.3,888.9 1552.1,935.1 1548.5,944.1 1560.7,880.4 1555.6,988.8 1544.8,950.4 1545.7,884 1549.1,953.2 1548.3,997 1550.5,972.4 1560.1,911.5 1553.2,991.7 1557.6,930.8 1551.3,1023 1544.9,964.9 1544.1,968.5 1550.8,835.9 1548.6,996.1 1556.8,927.3 1556.1,877.7 1559.5,1065.9 1548.4,1061 1557.4,926.8 1554.9,971.5 1552.4,1000.7 1554.1,1014 1550.9,890.4 1547,962.7 1560.3,980.1 1550.5,968.9 1549.9,933.3 1559.9,904.7 1544.8,981.3 1553.5,907.1 1554.1,985 1551.1,934.7 1550.5,1002.3 1548.5,974.6 1554.6,1009 1549.6,1052 1556.5,956.1 1545.2,963.9 1555.2,941.8 1560.3,940.7 1551.9,986.2 1548.1,963.2 1557.6,951.9 1548.8,924.8 1560.6,939.7" fill="none" stroke="none" marker-start="url(#mr)" marker-mid="url(#mr)" marker-end="url(#mr)"/>
<polyline points="1584.8,978 1587.7,1013 1585,1031.6 1581.2,1056.1 1584.4,1042.4 1577.9,1046.5 1577.4,995.6 1579.1,1037.7 1585.5,1034 1583,1005.8" fill="none" stroke="none" marker-start="url(#mb)" marker-mid="url(#mb)" marker-end="url(#mb)"/>
<polyline points="1608.6,990.3 1612.3,851.4 1612.5,990 1606.5,957.7 1622.6,1044.4 1614.8,939.3 1623.1,971 1608.2,946.9 1612.8,1073.7 1620.5,1019.8 1606.2,1002.9 1613.6,1039.2 1613.1,951.2 1612,1084.3 1615,977.8 1606.9,940.5 1622.8,928.4 1607.7,1023.1 1605.7,1047.2 1621.7,886.1 1610.1,997.9 1607.7,936.9 1613.5,1015.1 1621.4,1028.2 1607.6,914.7 1606.4,1031.7 1613.7,938.6 1622.7,1037.2 1618.3,946.2 1623.2,982.4 1617.1,1048.8 1606,876.3 1621.3,888.3 1613.5,843.1 1612.4,1003.7 1618.9,956.5 1619.4,985.6 1616.5,953.1 1618.4,908 1606.5,983.5 1615.4,877.5 1608.4,1054.3 1618.7,937.5 1621.9,981.4 1614.2,967 1617.4,872.8 1618.9,948.4 1622.6,1006 1608.1,1070.1 1605.6,894.3 1621.9,986.4 1622.9,1050.7 1615.3,1078.8 1616,1079.5 1612.7,962.7 1611.4,874.5 1611.6,936.4 1619.8,969.8 1620.2,864.5 1613.6,937.8 1609.7,1077.3 1607.7,1008.9 1618.7,1015.8 1611.4,891.7 1619.3,955.3 1616.5,1004.5 1611.9,909.5 1623.4,1027.4 1619.9,943.9 1611.2,857.1 1620.5,1067.6 1610.6,964.6 1613.6,1063.1 1615.1,934.8 1609,1043.8 1610,867.1 1617.5,1106.2 1621,974.7 1606.4,1012.1 1620.3,954.6 1606.9,1007.4 1621.7,818.1 1615.5,884.7 1607.5,1087.3 1617.7,869.7 1611.4,948.9 1619.4,1083 1609.8,995.6 1609.8,1005.2 1613.5,1005.6 1616.9,960 1610.1,1035 1607.6,881.5 1617.5,1008.7 1609.2,962.2 1608.7,993.6 1620.9,950.7 1611.2,952.5 1618.4,1010 1613.3,1052.3 1613.7,996.1 1607.4,991.2 1613,801.7 1607.7,1025.2 1622.4,958.8 1608,845.3 1619.3,1092.4 1614.9,949.8 1621.6,1008.1 1612.6,984.5 1611.1,945.4 1621.9,965.1 1616.7,830.6 1611.4,1089.4 1606.5,1068.7 1614.1,923.5 1618.9,1058.6 1606.5,1036.6 1614,903.1 1620.1,986.8 1617.9,968.3 1618.9,945.1 1618.4,991.7 1612.7,967.8 1620.5,1055.5 1611.9,859.6 1607.9,1081.1 1608.9,947.7 1622,972.9 1614,960.9 1605.6,1017.7 1616.5,1011.7 1609.5,854.7 1616.4,1040.5 1608.8,968.9 1618.1,911.7 1619.4,1062.1 1617,973.7 1614.6,1056.9 1608.6,999.5 1606.9,961.4 1613.1,1071.5 1622,978.5 1622.8,1030.2 1620.4,966 1622.7,963.8 1610.6,987.6 1612.2,980.5 1607.3,932.2 1616.7,1098.3 1615.8,1053.3 1614,998.7 1619.2,918.8 1618.1,1032.6 1606.3,1096.1 1607,963.7 1616.2,929.7 1609.7,1117.7 1607.3,871.6 1614.2,942.4 1607.4,879.1 1610.4,974.2 1618.5,922.2 1609.9,1042.5 1611.3,1022.2 1616.9,1001.4 1615.4,1038.4 1607.9,855.1 1614.6,1023.8 1610.1,1021.5 1610.9,926.9 1619.9,925.4 1616,828.5 1616,1066.4 1622.7,1088.3 1614.3,988.9 1608.5,976 1610.1,957.2 1622.5,1014.2 1619.2,1045.6 1608.3,931.9 1608.8,1102.6 1611.3,992.4 1611.8,896.2 1622.6,1047.1 1612.6,899.3 1622.1,940.1 1618.2,995.1 1612.2,1012.7 1613.5,1060.2 1616.2,1010.9 1614.7,835.9 1614.7,994 1618.6,826.2 1612.3,1020.9 1609,904.3 1606.5,951.5 1621.1,838.4 1608.3,1093.1 1613.8,906.5 1615.7,1026.3 1613.1,1018.7 1607.1,882.8 1621,1099.1 1613,861.6 1609.6,999.3 1611.9,921 1608,1056.1 1615.9,1064.6 1611.7,1017.5 1612.3,1033.4 1613.3,1049.5 1616.3,839.2 1623.1,988.7 1608.5,1072.4 1616.3,1075.5 1618.5,943 1614.9,905.4 1615.6,984.2 1616.6,893.3 1607.6,953.9 1621.2,1000.8 1618.8,1074.1 1609.5,1024.4 1619,970.6 1608.4,976 1619.2,981.6 1619.7,959.5 1622.9,1016.2 1622.2,956.1 1606.8,941.9 1606.4,847.2 1619.7,1085.5 1605.8,971.7 1612.3,1019.3 1610.2,913.1 1620,1034.2 1611,866.5 1608.1,979.2 1621.5,977.4 1614.7,1029.3 1609.5,1041.3 1613.4,979.7 1616,996.8 1620.8,972.1 1612.3,901 1610.7,1013.2 1612.8,1002 1620.1,897.9 1610,889.5 1620.7,1025.7 1607.3,1064.2 1610.6,918.1 1611.1,810 1619.7,916.5 1607.5,849.3 1621.6,944.2 1606.5,1059.8 1617.8,1109.5" fill="none" stroke="none" marker-start="url(#mr)" marker-mid="url(#mr)" marker-end="url(#mr)"/>
<polyline points="1645.2,946.8 1648,890.9 1647.6,933.8 1645.3,864 1637.4,900.2 1644.1,925.1 1641.5,1010.9 1637.9,941.7 1641,1058.1 1639.7,921.7 1653,908 1642.7,994.6 1649.1,1010.1 1646.9,989.8 1650.8,1032.4 1645.1,883 1639.4,886.8 1636.5,944.4 1652.6,1041.2 1644.7,991.7 1645.7,1053.8 1645.2,999.6 1647.5,1001.8 1645,848.2 1646.8,943.8 1639.7,926 1642.4,932 1653.2,1014.1 1638.5,918.6 1645.3,941 1651.6,936.8 1646.7,965.9 1637.9,915.9 1650.5,914 1641.9,982.1 1654.2,972.6 1642,898.7 1639.1,986.4 1641.4,955.1 1645.4,1065.1 1638.2,1059.4 1639.4,951.9 1639.9,1017.9 1647.4,1024.6 1643.5,878.1 1636.6,1021.6 1650.8,837.1 1642.4,1007.2 1637.9,1071 1641.4,969.2 1637.8,919.3 1654.1,897.2 1649.2,983.6 1641.2,923.7 1644.7,935 1640.9,1074.7 1651.4,977.3 1649.8,946.2 1651.1,883.8 1638.7,971.3 1640.2,868.9 1649.4,903.4 1639.8,909.9 1652.3,905.9 1640.6,975.8 1637.6,1016.2 1646.2,857.3 1639.6,1037.7 1641,1027.9 1639.7,955 1651.2,917.4 1651.1,938.4 1640.8,928.1 1648.9,960.7 1638.4,962.6 1649.5,893.6 1651.4,958 1642.1,1029 1650.8,964.5 1642.3,979.3 1649.9,1037.3 1650,992.3 1650.9,935.7 1645.2,868.2 1654,873.7 1646.1,856.2 1649.9,890.1 1650.2,929.5 1638.7,1004.5 1637.8,939.5 1654,877 1639.1,1048.7 1647.6,967.2 1650.3,1045.8 1650.5,926.8 1650.9,1090.9 1639.6,950 1651,984.3 1642,930.8 1646.6,921.6 1636.6,996.4 1649.6,948.1 1652.5,911.5" fill="none" stroke="none" marker-start="url(#mr)" marker-mid="url(#mr)" marker-end="url(#mr)"/>
<polyline points="1681.3,1027.9 1675.4,958.2 1673.5,908.3 1674.1,913 1680,945.3 1678.1,909.4 1669.9,969.7 1669.7,839.3 1679,1052.6 1680.2,864.2 1668.2,993.4 1669.5,988.8 1682.8,916.9 1682.7,910.9 1667.3,965.3 1677,949.7 1683.1,954.3 1679.3,953.7 1683.6,844.1 1681.4,970.2 1672.3,1083 1677.1,992 1671.8,853.5 1677.6,927.7 1681.3,924 1668.8,914.6 1674.1,877.6 1667.5,1012.5 1679,987.8 1681.9,895.4 1675.7,793.1 1675.7,992.4 1667.7,868.5 1673.8,925.9 1676.3,942.9 1667.5,960 1678,921.8 1679.7,877 1670.1,922.6 1677.2,973.3 1675.9,1050.9 1668.8,1020 1676.2,899.7 1679.3,928.1 1679.5,986 1668.3,1033.4 1682.8,910.8 1683.1,898.2 1675.8,878.7 1668,920.8 1672.1,842.6 1671.6,901.4 1667.6,909.6 1681.7,1027.1 1682.9,797.3 1677.8,951.3 1667.9,975.1 1675.8,861.8 1668.3,964.6 1679.8,977.3 1669.2,906.6 1676.5,1110.4 1681.4,995.6 1682.2,805.1 1678.3,883.1 1677.3,956.7 1683,1054.6 1667.4,888.2 1668.1,886.4 1679.1,996.9 1680.6,919 1669.9,926.4 1675.5,1039.1 1675.1,946.7 1673.8,967.8 1678.1,858.4 1679.8,1045.1 1669,907.4 1682.7,836.5 1675.4,968.9 1674.5,845 1670.1,1014.1 1673.7,897.4 1679.8,826 1668.3,912.3 1667.5,966.4 1680.8,811.7 1672,962.6 1671.7,903.2 1670.3,946.3 1684.9,860.2 1685.1,807.8 1669.1,897.9 1674.9,918.6 1684.2,1001 1681.2,1022.6 1669.5,933.1 1671.1,943.2 1675.4,924.5 1682.6,952.3 1680,917.6 1684.6,893.2 1682.4,951 1674.7,900.9 1673.9,999.2 1677.4,851.6 1669.5,1011.3 1669.8,938 1676.2,885.1 1672.4,978.6 1667.9,960.9 1670.1,856.4 1673.8,947.1 1673.1,911.6 1681.6,1110.4 1668.3,1004.2 1678.6,890.2 1668.8,955.5 1673.6,850.3 1670.6,970 1684.1,952.9 1682.3,941.9 1681.5,914.1 1682.8,816.1 1673.7,929.8 1683.7,925.7 1667.5,896.1 1682.5,1086 1684.4,1016.6 1681.7,1049 1677.7,821.9 1682,871.4 1683.7,965.7 1668.8,910.2 1681.7,930.4 1671.6,968.4 1673.1,967 1682.2,880.5 1674.7,875.4 1668.3,872.8 1670.1,971.8 1673.1,905.5 1667.6,921.5 1678.3,951.7 1680.9,1039.5 1671.9,1036.1 1678.8,928.7 1680.8,1034.6 1674,980.2 1683.2,935.4 1673,846.2 1683.1,932.7 1670.7,945.1 1669.7,1026 1668.8,1021.2 1681.9,980.8 1676.2,898.8 1670.7,913.5 1680.7,936.2 1674.7,990.1 1669.5,966.3 1681.7,1035.8 1684.5,934 1676.8,833.6 1681.9,908.6 1680.8,963.1 1675.9,866.8 1673.4,959 1683.2,916.6 1669.3,921.2 1677.8,944 1681.5,898.7 1684.7,987.5 1683.8,932.1 1676.1,936.3 1672.2,1032.1 1684.4,915.6 1677.9,961 1680.6,973.6 1671.1,848.8 1678.9,767 1678.8,918.2 1683.1,941 1667.2,925.4 1671.1,955.9 1668,903.7 1674.3,1092.1 1680.2,963.9 1677.1,954.1 1684.5,870.4 1678,859.1 1671.1,997.6 1681.5,907.7 1677.5,1104.3 1682,1044.3 1684.1,923.7 1681,972.2 1670.5,984.6 1669.5,958.5 1672.1,1064.2 1683.5,1003.2 1681.8,986.5 1674.8,1008 1681.6,874.3 1677.8,937.3 1669.2,884.2 1678.4,894 1667.9,831.5 1685.1,995.5 1677.7,905.4 1680.2,1007.9 1672.8,1023.7 1671.7,865.6 1671.9,920.1 1677.8,964.2 1682,843.7 1674.1,927.3 1674.9,902.7 1668.8,828.9 1676.8,914.9 1678.7,939.5 1668.4,892.4 1669.5,940.7 1683.5,1062.3 1682,1004.4 1683.9,1048.4 1675.2,941.4 1675.8,939 1675.2,939.9 1679,1012.9 1681,900.1 1679.2,916.2 1676,971.2 1675.2,915.3 1685,1000.3 1679.1,976 1682.4,852.8 1673.6,867.9 1670.8,849.6 1682.3,1098.2 1684.2,949 1681.6,990.7 1674.1,856.9 1676.5,901.8 1667.5,802.8 1669.9,994 1671.4,882.1 1678.1,942.6 1670.9,1015.4 1684.5,902.5 1668.1,934.5 1683,909 1684.6,961.8 1674.4,944.4 1673.5,1040.8 1680.4,934.6 1672.3,906.3 1679.7,924.7 1680.4,938.6 1681.3,917.4 1674.5,814.3 1684.4,945.6 1670.7,1024.3 1676.9,954.8 1670,904 1674.6,1031.4 1672.8,1059.4 1668,897.1 1679.6,950.5 1676.8,872.4 1676.5,912.7 1672.6,931.1 1668.9,959.3 1679.5,900.7 1675.9,983.9 1682,940.5 1670.2,899.5 1679.5,823.9 1673.2,1017.6 1680.1,911.7 1668.6,881.2 1677.9,835.5 1680.8,855.1 1676.4,834.5 1681.2,1028.6 1682.4,981.8 1671,841.1 1669.4,904.4 1667.7,887.4 1669.1,936.9 1682.7,847.5 1684.3,978.3 1675.1,1030.2 1670.9,950 1673.4,929.4 1672.9,931.5 1682.1,904.6 1673.2,960.3 1669.1,837.7 1676.5,937.8 1670.8,969.3 1683.4,967.3 1675,879.1 1673.5,962.5 1672,930.5 1676.7,976.8 1672,869.6 1668.8,923 1677.9,943.9 1682.6,922.4 1678.7,1009.4 1681.1,1056.3 1679.3,957.7 1675.8,932 1667.7,935.5 1667.2,786.2 1676.8,820.9 1671.9,830.4 1683,947.7 1679.7,875 1684.3,926.9 1680.7,948.9 1673.1,808.7 1683,825.3 1670.5,971 1678.1,819.4 1669.4,933.5 1682.9,929.1 1679,955.3 1675.8,828.1 1668.8,854.2 1677.9,891.8 1680.1,919.9 1667.8,1043.2 1679,1046.7 1680.6,906.8 1669.6,965 1677.4,1001.8 1678.7,947.8 1670.6,1072.1 1669.2,983.5 1667.6,956.3 1683.6,1020.6 1680.2,961.5 1668.7,948.3 1668.7,864.8 1669.1,815.2 1670.6,883.9 1669.6,919.5 1672.2,1016 1670.7,1018.8 1683.2,1006.8 1669,860.9 1673.3,832.8 1669.1,840.5 1668.2,1006.1 1672.9,889.3 1676.2,1038 1671.2,1077.5 1684.3,896.5 1669,999 1671.2,890.4 1682.6,952.7 1684.4,819 1677,982.4 1684,1010.5 1667.8,862.8 1669.2,957.2" fill="none" stroke="none" marker-start="url(#mp)" marker-mid="url(#mp)" marker-end="url(#mp)"/>
<polyline points="1706.4,970.6 1704.5,951.1 1707.6,1067 1714.3,926.4 1702.8,940.4 1714.6,1029.7 1705.1,1071.6 1708.9,1068.7 1703.2,1058.1 1713.9,1027.4 1700.4,1003.5 1709.9,836.1 1715.1,889.6 1714.6,920.9 1709.3,936.5 1706.9,834.6 1701.8,947 1707.5,916.8 1714.1,936.1 1705.6,946.6 1704.1,888.7 1702.8,967 1703.1,1100.8 1704.5,1054 1713.7,1038.3 1710,933.1 1704.7,1055 1702.8,919.1 1698.5,945.9 1698.8,1016.4 1698.8,1051.7 1713.9,942.3 1705.9,846.1 1703.4,929.5 1709.9,899.1 1703.8,946.3 1701.4,987.2 1713.2,956.8 1714.4,998.2 1708.3,1085.2 1704.1,957 1711.7,932.1 1713.2,1033.8 1711.2,874.5 1714.2,971.6 1703.5,963.7 1702.1,836.5 1704.8,1004.7 1701.7,1118.9 1701.8,918.3 1707.3,978.9 1698.6,1042.9 1705.8,1046.9 1714,953.9 1704.3,828.3 1700.8,944.3 1705.2,1049.7 1709.4,1005.2 1715.9,838.8 1699.5,934.6 1702.3,1000.9 1715.5,950.1 1699.5,858.4 1699.5,1041.9 1708.6,953.1 1706.9,958.3 1709.8,900.1 1698.4,1015.7 1698,883.3 1698.7,887.2 1698.1,871.1 1701.1,992.6 1709.1,965.3 1700.9,965.8 1710.9,1001.8 1708.5,973.3 1712.6,959.9 1703.4,928.4 1710,926 1708.4,902.2 1712.6,1029.2 1708.7,1040.4 1701.2,897.3 1710.7,927.8 1713.1,940.8 1700.1,858.5 1713.8,1007.1 1711,901.3 1709.9,904.2 1699.9,939.4 1712.1,969.6 1699.8,868.6 1705.9,922.3 1701.3,965 1715.5,988.9 1712.1,932.5 1703.1,978.8 1708.6,1022.2 1709.4,977.6 1712,968.3 1705.6,914.5 1700.1,866.2 1713.8,894.1 1704.6,1033 1709.3,1013.8 1701.4,1060.3 1699.5,927.5 1715.8,934.2 1702.3,862.4 1705.8,967.2 1699.7,890.7 1700,906.7 1704.4,873.4 1707.2,917.9 1701.1,1070.2 1712.8,842.5 1705.7,989.5 1699.4,881.3 1712.8,934.1 1712.7,1014.4 1715.4,1013.2 1708.8,1018.6 1713.3,942.9 1712,966 1711.3,849.9 1706.5,942 1704,1008.6 1699.8,813.3 1711.7,1011.3 1703.7,956.4 1698.2,855.7 1706.9,974.3 1711.6,926.7 1704.3,975.7 1712.2,990.3 1710.8,916.5 1705.1,988.6 1712.5,903.5 1700.3,866.9 1703.7,929.2 1704.9,959.6 1709.2,1009.9 1704.8,879.4 1701.4,895.5 1708.3,923.8 1702.6,1089.3 1714.3,863 1702.7,1055.7 1698.4,1025.7 1714.8,995.1 1714.7,976.4 1714.7,943.1 1708,854.5 1710.5,981.2 1703.4,885.8 1711.3,970.7 1700.2,929.6 1712.8,979.6 1701.3,927.1 1698.3,928.6 1715.5,996.1 1706.9,979.9 1708.5,880.6 1709.7,845.3 1699,975.3 1705.7,921.5 1708.3,952.4 1710.1,1050.4 1702.6,1075.7 1699.2,921.4 1699.3,1080.3 1708.3,987.9 1712.7,1110.4 1705.9,919.4 1713.9,1056.7 1713.4,1024.7 1714,1077.9 1707.1,969.2 1705.7,962.8 1709.2,832.9 1714.7,964.6 1699.9,931.3 1698.3,920.5 1709.5,986.6 1713.9,905.9 1698.4,892.7 1698.5,1067.7 1704.6,963.1 1713.4,935.5 1714,933.8 1707.4,985.4 1708.1,903.2 1712.7,943.7 1715,849.1 1712,860.4 1708.2,872.7 1711.3,931.6 1710.1,988.2 1702.9,911.5 1711,973.9 1706.8,908.2 1699,977 1700.3,941.3 1699.1,984.5 1713.9,847.9 1700.2,975.9 1700.8,968.8 1706.1,983.5 1710.8,948.5 1704,839.8 1698.7,961.6 1707.8,957.5 1706.4,843.8 1709.8,1036.5 1713.5,947.9 1712.1,960.5 1703.3,989.3 1698.1,949.3 1701.2,1035.3 1703.8,925.3 1714.5,937.1 1704.2,1010.1 1715.2,934.8 1701.9,922.5 1714.3,1094.8 1700.1,1072 1715.6,1045.2 1700.1,854.8 1714,961.3 1704.2,951.7 1713.4,820.6 1710.3,1045.6 1709.5,1031.2 1708.7,1000.8 1707.4,1017.5 1713.6,1021.5 1703.1,909.5 1699.7,982.7 1707.6,1019.5 1703.6,920.1 1710.2,876.2 1706,895 1711.4,937.6 1704.8,938.8 1706.1,967.6 1709.8,861.9 1710,930.3 1703.2,981.5 1710.1,910.7 1713.7,986.9 1711.9,1030.3 1699.8,856.9 1713.9,910 1714.8,1043.6 1703.5,955.6 1698.4,898.5 1701.3,945.8 1710.1,1026.1 1710.2,997.4 1703.8,961.1 1701.1,919.8 1711.4,1053 1710.8,939.9 1700.6,925.5 1708.4,953.7 1701.5,1003.1 1711.5,930.8 1709.7,976.8 1702.2,938.6 1700.9,938.2 1700.4,980.2 1703.9,829.3 1698.3,1041.2 1712.5,1037.7 1702.5,1032.7 1705.8,926.2 1710.5,1006.2 1713.4,1063.1 1713.1,962.1 1700.4,948.2 1707.5,888.1 1714.8,936.9 1707.7,932.3 1710.1,941.9 1698.8,974.7 1698.2,1065.8 1711.7,972.8 1698.5,980.6 1703.4,936.1 1706.3,842.1 1712.4,952 1703.8,870 1705,1081.3 1699,1008.3 1711.5,922.8 1707.7,864.2 1712.3,891.6 1709.7,982.3 1702.1,1039.7 1704.1,981.8 1701,964.3 1704.6,875.5 1698.9,963.3 1700.3,939.3 1711,993.5 1706.8,1023.6 1714.2,859.3 1702.8,952.8 1706.2,1078.8 1703,885.1 1698.4,950.8 1706.4,1035.8 1705.3,948.8 1701.3,1011.9 1715,831.9 1699.4,990.7 1699.5,928.1 1701.8,1048.4 1699.3,841 1702,846.8 1706.2,905.2 1712.6,878.7 1705.8,973.5 1703.9,978.2 1706.8,871.9 1715.3,1020.7 1709.4,1058.7 1713.9,867.7 1713.2,852.3 1714.2,957.7 1708.7,986 1704.2,876.7 1709.5,1062.3 1699,950.4 1714.5,1075.2 1711.5,923.7 1714,890.1 1707.7,941 1713.9,955.1 1710.8,943.4 1701.2,884.7 1710.6,920.2 1710.9,877.8 1708.5,982.9 1715.9,912 1710.8,914.1 1708.7,852.8 1711.3,915.2 1715.1,933.3 1713.3,913.5 1706.9,1052.4 1698.7,998.6 1701.4,991.6 1701.2,972.3 1711.3,924.8 1700.2,1089.1 1715.3,995.8 1713.4,993.8 1704.5,949.9 1708.7,884 1705.2,960.3 1702.9,947.5 1714.6,896.6 1709.5,984.8 1701.5,970 1712.4,940.3 1710.5,990.4 1711.9,851.2 1712.7,929.9 1708.5,924.6 1714.9,930.9 1702.7,923.3 1699.3,966.6 1703.2,984.3 1706.4,1016.7 1702.7,1061.3 1713,824.7 1714.9,907.4 1715,1064.1 1708.2,938 1699.9,935.4 1708.1,944.1 1703.4,991.1 1698.9,881.9 1698.7,983.8 1712.9,822.7 1702.7,971.2 1703.6,921.8 1698.4,949.6 1706.3,945.2 1706.8,917.6 1714.3,947.3 1713.5,901 1712.2,972.1 1714.9,924.4 1714.4,959.2 1713,954.1 1702.7,956 1709.7,968.5 1705.4,864.8 1707.6,999.4 1709.2,1023.3 1702.9,985.7 1704,945 1710.7,918.7 1714,1084.6 1715.8,1047.8 1710.8,1074.1 1700.7,944.6 1699.5,958.8 1715.9,893.2 1714.2,1028.3 1701.5,869.1 1702.7,954.8 1715.6,977.8" fill="none" stroke="none" marker-start="url(#mr)" marker-mid="url(#mr)" marker-end="url(#mr)"/>
<polyline points="1739.9,1102.3 1733.7,1085.8 1746.1,1028.3 1732.3,1059.8 1744,1114.3 1731.1,1108.8 1732.3,1036.1 1734.3,1019 1736.1,1111.3 1734.4,1079.1 1738.2,1031.4 1744.8,1119.5 1737.5,1025.9 1741.4,1100.4 1729.4,1126.3 1729.6,1052.2 1744.1,1049.7 1739.6,1049 1734.9,1042.5 1743.3,1054.9 1731.7,1083.7 1745.8,1043.5 1740.5,1074.4 1744.3,1120.4 1743.4,1113.4 1730.7,1117.8 1743.1,1067 1730.8,1062 1745.6,1069.8 1729.7,1089.5 1741.2,1094.3 1737.9,1002.1 1746.1,1010.5 1737.7,1057.6 1732.9,1109.1" fill="none" stroke="none" marker-start="url(#mb)" marker-mid="url(#mb)" marker-end="url(#mb)"/>
<polyline points="1763.5,864.8 1772.1,900.2 1768,871.4 1760.1,941 1768.7,812.1 1763.8,937.1 1760.7,919.4 1774.7,906.9 1763.9,862.8 1767.6,820.1 1762.2,894.1 1766.9,859.2 1766.5,889.2 1762,816.4 1765.3,879.3 1772.3,968.6 1769.7,891.1 1776.6,826.4 1760.6,869.7 1765.4,867.9 1762.4,876.3 1768.3,814.6 1772.5,786.2 1770.2,847.3 1766,866.4 1769,881.9 1776.9,803.5 1761.4,950.1 1772.7,824.7 1763.9,875.1 1769.9,899.4 1774.7,890.9 1768.8,841.7 1766.5,847.9 1776.8,930.9 1765.5,904.2 1762.1,860.6 1761.2,854.9 1774.6,974.3 1773,841.2 1771.9,910.7 1775.4,838 1763.5,868.2 1766.8,860 1767,963 1770.3,922.3 1769,881 1762.2,896.7 1760.3,893.4 1768.7,854.2 1761.9,845.3 1777.2,810.3 1772.2,892.4 1774.3,908.7 1765.4,1003 1764.3,887.6 1771.3,913.3 1774.1,887.2 1770.6,866.8 1760.1,874 1772.5,851.6 1769.7,861.7 1760.2,834 1760.2,960.2 1768.8,929.7 1772.8,920.4 1759.6,873 1774,934.9 1772.2,955.9 1772.3,884.4 1774,938.5 1771.9,822.3 1760.2,833.4 1765.7,872.5 1765.6,890 1775.8,882.9 1759.8,858.5 1764.9,933 1760.1,896.8 1769.5,863.8 1771.6,907.8 1773.2,823.4 1776.4,850.1 1772.5,969.6 1765.3,844.4 1766.2,957.3 1765.2,853.4 1774.9,964.5 1762,942 1769.9,904.6 1774.5,867.6 1763.9,925.9 1760.1,849.9 1777,874.9 1774.1,945.5 1766.7,949.7 1768.1,840.1 1761.7,863.2 1764.8,916.5 1775.4,870.2 1766.1,856.5 1773.2,872.2 1775.5,813.9 1776,807.8 1764.7,797.9 1769.6,913.8 1772.3,898.6 1770.2,935.7 1764.2,864.4 1765.6,903.2 1768.8,952.9 1776.9,877 1768.4,986.5 1767.5,862.2 1777.4,865.5 1773.5,836.8 1768.1,878.3 1760.2,827.8 1775.5,901.1 1771.1,909.9 1774,855.5 1767.3,885.5 1763.8,880 1768.4,946.6 1768.5,836.1 1771.4,818.4 1770.6,895 1771.2,852.5 1777.4,856.4 1764.3,1056.1 1776.3,870.6 1765.5,831.1 1767.3,842.9 1766.6,869.1 1766.2,926.5 1769.1,884.8 1766.7,854 1765.2,994.5 1765.2,902.2 1762.9,906.1 1773.2,830.4 1774.3,794.9 1773.8,857.9 1771,857.5 1771.7,924 1770.9,977.8 1769.1,803.3 1763.4,917.3 1761.4,859.7 1765.6,829.6" fill="none" stroke="none" marker-start="url(#mr)" marker-mid="url(#mr)" marker-end="url(#mr)"/>
<polyline points="1802.8,1112.5 1802.7,1090.4 1795.9,1102.9 1803,1091.5 1804.5,1117.8 1791,1120.3 1808.2,1100.5 1791.2,1098.6 1801.2,1119.8 1793.6,1099.6 1805.9,1104.8 1795.5,1107.6 1804.1,1116.7 1792.3,1076.4 1796.6,1117.1 1798.5,1105.6 1805,1108 1802.9,1089.4 1807.6,1109.8 1803.1,1113.4 1802.2,1109.7 1794.6,1120.2 1794.1,1102.1 1803,1095.5 1795.1,1098.1 1797.2,1122 1801.3,1105.8 1801.3,1078.6 1797.4,1112.7 1796.9,1117.2 1806.3,1121.3 1794.4,1084.7 1792,1120.7 1797.6,1108.7 1797.1,1120.1 1796,1112.8 1799.8,1112.9 1804.4,1083 1807.2,1127.2 1803.6,1122.4 1807,1087.6 1790.5,1119.1 1791.6,1125.4 1800.9,1097.8 1803.9,1111.7 1808,1105.3 1807.2,1111.1 1806.8,1101.3 1791.9,1102.5 1793.1,1084 1804.9,1098.3 1799.8,1083.7 1797.2,1111 1791.7,1067.4 1807.6,1083.8 1803.4,1114.7 1792.2,1113.2 1795.4,1111.9 1793.4,1107.2 1800.6,1082.8 1800.9,1088.2 1794.5,1099.4 1795.2,1073.2 1792.1,1117.3 1801.7,1110.6 1805.7,1121.2 1791.7,1109.2 1800.8,1118.4 1805.8,1096.6 1794.7,1106.4 1806.8,1108.7 1790.5,1119 1797.1,1120.4 1800.8,1076.9 1801,1093.4 1794.4,1093.4 1797.3,1087 1792.9,1114.4 1796.1,1090.3 1806.6,1109.1 1803.3,1106 1792.3,1110.8 1799,1111.4 1795.1,1080.2 1793.1,1097.4 1795.8,1115.4 1806.2,1096.9 1796.1,1119.5 1797.8,1077.7 1804.1,1112.9 1800.9,1099.1 1797.8,1102.5 1806.8,1075.2 1807.6,1112.3 1800.9,1075.1 1798.8,1118.3 1805.3,1081.3 1792.9,1095.6 1799.4,1106.7 1797.5,1100.7 1794.6,1074.9 1792.1,1115.6 1796.4,1109.5 1805.5,1089.1 1805.1,1086 1808,1099 1804,1112.2 1793.1,1110 1805.6,1077.4 1796.2,1091.8 1803.4,1123.2 1797.3,1092.1 1790.9,1078.4 1793.3,1116.8 1807.8,1113.6 1806.3,1103.6 1803,1104.3 1792.4,1081.2 1804,1105.7 1805.6,1077.2 1795.3,1110.3 1791.5,1071.2 1792.1,1089.9 1802.7,1100.3 1795.4,1086.1 1799.2,1124.3 1800.6,1115.3 1793.5,1111.2 1807.1,1096.1 1798.9,1098.8 1805.1,1121.7 1805.9,1080.9 1797.5,1097 1797.3,1121.9 1798,1097.9 1792.8,1086.4 1798.6,1034.2 1795.7,1100.7 1802.3,1100.1 1799,1079.4 1795.6,1078.9 1794.2,1075.5 1792.7,1102.9 1805.6,1114.5 1803.1,1081.8 1804.8,1113.1 1803.3,1104.9 1806.2,1110.4 1795.9,1108.8 1805.1,1108.8 1795.2,1097.6 1790.6,1115.5 1802,1111.1 1795.9,1128.7 1793.7,1123.4 1791.5,1123.7 1793.1,1115.6 1803.1,1118.2 1806.1,1109.2 1803,1105.5 1799.8,1107.7 1798.1,1123.9 1807.3,1124.9 1796.7,1098.2 1791.4,1126.3 1790.6,1099.9 1800.6,1120.6 1799.3,1115.8 1807.2,1111.6 1791.9,1124.6 1795.9,1115.2 1804.3,1087.6 1792.8,1127.7 1804.6,1104 1803.9,1100.1 1802.7,1103.5 1801.2,1088.8 1807.3,1113.6 1802.9,1088.7 1796.5,1109 1792.1,1101.4 1801.2,1116.1 1798.7,1096.3 1803.6,1073.7 1793.6,1082.4 1793.5,1101.8 1808.1,1092.9 1792.1,1089.3 1805.6,1114.5 1796.4,1114.3 1799.6,1103.8 1801.2,1071.3 1802.7,1106 1800.8,1092.7 1806.2,1113.3 1802.8,1114.7 1801.5,1119.3 1794.5,1085.8 1796.6,1104.3 1793.8,1101.7 1791,1121.1 1797.7,1074.4 1803.8,1114.3 1805.4,1122.9 1807.7,1099.1 1793.8,1113.5 1803.5,1082 1805.1,1083.6 1793.1,1094.8 1797.1,1116.4 1793.5,1070 1790.5,1098.5 1807.8,1119.5 1794,1110.5 1802.9,1096.8 1801,1100.2 1797.7,1092.4 1791.5,1079.7 1807.5,1102.2 1802.8,1121.7 1802.8,1121.6 1807.5,1125.7 1796,1101.3 1803.8,1080.6 1795.9,1122.3 1791.1,1091.2 1803.3,1095.7 1804.8,1103.2 1804.8,1076.6 1791.7,1052.5 1795.6,1085.6 1806.5,1109.5 1798.9,1105.9 1804,1111.8 1795.9,1126.2 1804.8,1108.4 1803.3,1102.3 1804.1,1069.6 1805.4,1102.4 1792.5,1116.9 1795.6,1114 1793.7,1072.3 1792.4,1119.2 1793.9,1095 1805.3,1055.5 1797.7,1103.3 1792.5,1126.7 1796.8,1098.1 1805,1076.1 1797.1,1106.3 1793.5,1102 1799.8,1107 1794.9,1100.9 1803.7,1085 1802.9,1097.6 1801.4,1103.7 1803.9,1116 1795.3,1078.9 1803.6,1097.2 1808.3,1068 1794,1125.7 1800.6,1113.3 1804.4,1072.7 1797.3,1115.9 1799.5,1123.1 1791.4,1117.7 1792.6,1061.6 1791.8,1117.1 1804.7,1094.7 1792,1084.5 1806.7,1049.4 1804.8,1122 1792.4,1112.1 1799.7,1121.4 1805.3,1106.2 1804.1,1037.2 1807.1,1114.8 1797.3,1109.8 1803.3,1097.2 1793.8,1089.7 1800,1087.2 1794.5,1110 1797.9,1094.1 1806.3,1126.6 1799.5,1080.4 1800.2,1107.8 1799.8,1074.3 1807.7,1087.1 1802.8,1112.5 1798.9,1103 1804.1,1098.3 1792,1110.2 1794.2,1098.8 1791,1118.7 1804.8,1108.1 1800.8,1122.6 1802.1,1120.7 1801.7,1079.8 1802.1,1126 1799.7,1106.8 1807.8,1073.1 1791.4,1115.4 1807.7,1120 1805,1118 1795.9,1099.5 1799.6,1123.9 1802.2,1113.7 1800.9,1106.6 1806.2,1104.1 1791,1110.4 1806,1118.4 1799,1128.1 1799.5,1110.7 1794.6,1088.4 1796.4,1099.3 1791.1,1096.2 1797.7,1076.8 1792,1107.5 1802.4,1124.1 1804.2,1106.2 1800.1,1100.8 1790.6,1107.3 1791.9,1092.5 1802.3,1116.6 1798.7,1117.6 1802.3,1058.5 1801.4,1120.9 1793.9,1113.8 1803.8,1096.5 1795.9,1121 1796.1,1093.2 1794.2,1112 1803.6,1104.2 1797.3,1091.7 1799.7,1119.1 1797.4,1111.9 1802.8,1088.5 1801.1,1103.3 1805.2,1104.6 1795.8,1099.7 1808,1112.1 1795.1,1124.5 1804.6,1106.4 1800.8,1090.6 1791.3,1120.9 1806,1109.4 1793.4,1110.1 1803.6,1123.5 1797.7,1099.4 1795.3,1097.4 1804.4,1109 1803,1086.7 1800.8,1119.7 1805.1,1124.1 1792.6,1064.7 1801.7,1084.8 1798.7,1118.2 1798.2,1116.2 1798.3,1099.8 1791.1,1122.3 1805.6,1114.9 1793,1096 1796.9,1102.6 1796.9,1084.4 1797.8,1108.6 1797.1,1104.5 1796.5,1102.7 1795.5,1082.6 1806.4,1106.9 1798,1122.2 1804.4,1111.4 1806.4,1107.1 1804.4,1124.4 1802.2,1090.9 1798.7,1094.3 1800.3,1118.6 1794.8,1114.9 1798.2,1118.9 1796.2,1116.3 1808.3,1103.4 1798.9,1111.2 1798.5,1117.9 1795.4,1101 1801.3,1123.5 1802.8,1097.5 1794.4,1095.4 1791.1,1102 1802.6,1103.8 1801.9,1125 1796.8,1109.9 1793,1125.4 1791.3,1093.6 1795.5,1114.1 1790.9,1116.9 1795.1,1123 1798.9,1101.5 1790.4,1112.6 1790.8,1083.2 1807.6,1116 1791.9,1121.5 1800.4,1099.9 1806.2,1122.5 1802.7,1105.2 1804.4,1117.5 1799.2,1096.7 1794.9,1125 1806.7,1117.9 1791.3,1101.2 1796.2,1112.4 1806.9,1104.1 1792.9,1070.2 1800.4,1071.8 1805.6,1108.3 1797.8,1105.2 1800.7,1100.4 1806.1,1109.6 1792.8,1115 1805.6,1127 1801.3,1087.9 1791.4,1105.4 1807.7,1104.7 1799,1103.1 1806.3,1108.2 1799.2,1117.3 1790.4,1094.5 1794.9,1101.8 1795,1104.5 1800.4,1111.6 1794.1,1040.2 1793.7,1095.9 1798.7,1126 1805.5,1072 1796.5,1110.8 1798.7,1070.8 1803.9,1116.4 1803.6,1086.3 1795.9,1101.6 1802,1114.6 1790.6,1123.6 1802.2,1107.7 1793.4,1117.5 1806.7,1098.6 1795.1,1113.9 1807.2,1109.3 1800,1108.4 1804.4,1114.1 1802,1107.9 1807.2,1096.1 1794.1,1105 1794.2,1108.1 1797.5,1078.1 1795.1,1118.8 1795.5,1124.7 1791.4,1079.2 1795.4,1095.7 1796.4,1113.9 1800.7,1098.9 1797.7,1073.9 1806.1,1107.4 1791.3,1077.9 1793.9,1112.7 1796.9,1097 1793.8,1075.8 1807.4,1081.5 1805.7,1122.7 1793.2,1085.3 1805,1118.6 1798.8,1107.2 1795.2,1106.5 1800.5,1119.6 1800.6,1101 1793.1,1122.9 1802.2,1065.8 1803,1125.2 1796.9,1100.6 1803.6,1111.4 1793,1082.2 1807.6,1110.9 1803.3,1113.1 1794.5,1092 1806,1108.5 1793.1,1096.5 1807.9,1106.9 1799.2,1106.6 1804.4,1095.3 1794.6,1119.8 1803.6,1107.5 1801.1,1068.4 1791.9,1115.1 1805.7,1069.2 1808.1,1096.3 1800.4,1105.1 1800.6,1119.9 1803.1,1116.5 1795,1090.9 1807.2,1090 1802.6,1080.7 1802.9,1073.5 1794.3,1097.9 1794.9,1120.4 1798.2,1093.8" fill="none" stroke="none" marker-start="url(#mr)" marker-mid="url(#mr)" marker-end="url(#mr)"/>
<polyline points="1836.9,1109.7 1822.7,1102.7 1823.5,1125.7 1829.3,1103.8 1839,1117.7 1832.3,1123 1837.1,1125.3 1837,1121.4 1837.6,1117.1 1826.4,1119.5 1836.2,1092.8 1821.6,1042.1 1821.7,1111.4 1830.1,1115.9 1824.7,1118.8 1836.4,1114.6 1838.1,1096.6 1838.3,1120 1831.3,1122.6 1824.1,1070.1 1825.1,1106 1827.6,1121.8 1834,1093.8 1837.7,1124 1826.2,1114.9 1832,1090 1835.9,1117.3 1827.2,1107.9 1826.8,1101.4 1825.6,1124.4 1833.6,1109.4 1831,1025 1836.3,1044.5 1838.7,1113.1 1828.1,1121.1 1838.1,1100.4 1826.8,1116.3 1838.5,1118.4 1830.6,1123.6 1837.8,1099.4 1828.3,1122.3 1831.2,1085.5 1831.7,1088.1 1836.2,1111 1831.4,1095.1 1832.7,1113.3 1834.7,1106.8 1828.7,1119.2 1823,1090.4 1827,1118.3 1822.1,1076.9 1830.8,1107.2 1825.2,1120.3 1831.5,1104.4 1826.9,1127.5 1824,1120.7 1833.3,1116.6 1827.4,1082.2 1831.4,1115.5" fill="none" stroke="none" marker-start="url(#mb)" marker-mid="url(#mb)" marker-end="url(#mb)"/>
<polyline points="1866.3,992.8 1853.7,927.9 1866.9,956.6 1857.3,1044.5 1857.3,919 1857.3,1091 1869.8,915.9 1861.4,1063 1857.7,958.1 1853.3,1071.2 1852.4,905.5 1853.2,906.9 1858,1006.6 1863.4,865.1 1866.6,923.6 1854.3,901.1 1855.6,967.7 1868.8,937.4 1857.1,875 1865.8,961 1868.8,1036.8 1862.2,1085.9 1861,904.1 1854.8,1002.6 1869.2,920.9 1864.9,898.2 1867,970.6 1859.7,940.6 1861.8,917.6 1863.9,990.4 1861.1,996.7 1853.1,1023.1 1867.8,948.6 1866.7,937.9 1852.6,913 1866.6,1020.8 1854.9,914.9 1860.9,1060.9 1854.5,944.9 1853.3,910 1869.9,896.1 1855.3,895.3 1857.5,946.7 1859.8,1053.9 1854.5,1068.5 1855.1,985.6 1860.6,974 1869.1,935.4 1856.6,984.3 1862.4,884.2 1862.7,1024.5 1858,972.9 1866.3,965.2 1854.7,879.4 1863.6,933.4 1868.3,1027.9 1862.2,952 1864.5,1040.1 1854.5,1115.3 1856.3,1083.6 1852.6,932.7 1854.1,887.4 1869.8,932 1865.7,913.8 1865.8,945.6 1866.3,868.4 1861.2,922.1 1865.6,953.7 1860.3,926.7 1864,1007.9 1854.5,879 1862.4,1049.9 1868.2,938.9 1862,981.2 1866.2,902.3 1862.2,1057.4 1870,1045 1860.5,889.7 1862.5,1075.3 1863.8,948.1 1861.9,919.7 1866.9,872.3 1855.3,941.8 1855.4,1000.9 1869.8,1052.5 1860.6,936.3 1866,1031.9 1854.2,930.6 1869,924.5 1869.3,1014 1855.4,857.2 1862.2,1004.4 1864.3,977.7 1864.3,1100 1868.3,983.5 1853.6,941.9 1865.5,899.1 1855.2,886.5 1863.3,976.6 1854.3,925.1 1860.7,928.6 1858.8,908.1 1854.2,1014.9 1863.1,988.6 1858,1017.5 1863.7,911.7 1856.1,882.7 1855.3,891.9 1866.3,998.3 1858.1,1035.9 1864,929.2 1859.4,1011.2 1868.4,943.1 1856.6,1076.7 1854.5,967.3 1862.1,893.2 1865.4,993.7 1865.6,961.7 1869.4,950.5 1852.6,1030.6" fill="none" stroke="none" marker-start="url(#mr)" marker-mid="url(#mr)" marker-end="url(#mr)"/>
<polyline points="1893.1,943.4 1886,1001.7 1899.7,979.9 1898.9,957.5 1891.5,949.9 1887.4,943.1 1894.9,920.8 1896.3,953.1 1888.6,967.8 1900.3,1045.3 1889.8,883.7 1888.6,1007.9 1888.3,1006.5 1900.8,919.2 1886,1087.4 1896.1,848.4 1885.6,956.1 1894,966.1 1893.4,985.7 1897.5,891.8 1896.3,1084.3 1888.1,925.8 1893,988.4 1898.9,993.7 1885.9,873 1890,870.5 1890.4,1092.2 1886,890.5 1899,1013.7 1883.6,1014 1896,1070.4 1888.2,1068.4 1894.9,993.9 1897.5,947.3 1884.1,914.9 1886.6,904.3 1891.1,963.7 1888.8,863.8 1888.1,994.6 1895.3,1005.5 1899.4,890.6 1894,1026.1 1892.2,912.3 1896.3,1010.5 1892.9,1004.5 1883.5,980.7 1887.7,962.6 1887.5,1080.4 1898.7,987.7 1887.6,1000.8 1889.2,981.3 1883.8,1094.3 1895,1075.1 1893.5,931.1 1896.7,1065.5 1898.6,958.2 1885.6,1004 1891.4,1015.8 1894.7,991.8 1895.5,925.9 1898.9,851.8 1893.5,924.2 1895.8,969.2 1898.7,947.7 1894.4,981.6 1887.5,1073.3 1891,839.3 1892.2,856.2 1886.5,963.3 1895.2,984 1894.3,1038 1889.7,994.5 1887.2,939.5 1885.5,910.9 1893.1,888.9 1889.9,1041.8 1896.5,985.3 1899.1,941.2 1889.9,1027.3 1898,875.5 1885.9,943.7 1886.3,1012.2 1885,902.1 1900.3,1037.7 1885.7,1056.9 1891.8,1051 1893.5,895.1 1893.3,972.5 1890.3,971.7 1895.5,1011.5 1895.3,1023.2 1895,933.6 1895.8,1071.3 1895.5,1036.5 1885.5,1056.2 1895,928.5 1885.4,1061 1897.6,979.2 1890.8,979.8 1889,951.4 1886,1005.9 1885,1069.7 1886.8,915.2 1885.3,952.8 1886.1,986.6 1888.7,964.4 1897.8,942.5 1897.6,944 1894.5,888.5 1893.7,876.5 1898.4,1079.3 1897.9,1018.1 1895.9,1001.1 1899.3,950.7 1885.6,989.1 1900.4,1001.5 1898.3,970 1886,995.6 1883.9,948.1 1899.9,960 1893,868 1889.8,1008.7 1887.6,871.9 1889.7,910.7 1900.3,978.8 1895.6,949.7 1886.3,949.4 1889.8,895.3 1891.1,968.6 1887,1072.2 1900.4,972.2 1893.3,908.9 1883.6,1001.9 1891.7,1061.7 1892.5,1007.1 1896.4,959.3 1890.2,1006.3 1888.9,905.5 1897.5,879.7 1887.7,1084.3 1883.9,906.5 1892.4,937.8 1897.4,849.7 1895.7,984.5 1900.6,1064.4 1893.2,973.2 1886.4,900.7 1883.1,996.6 1888,916.9 1895.2,944.5 1892.3,1013 1894.7,949 1900.3,969.6 1891.1,1025.3 1884.3,937.2 1884.9,935.3 1891.6,971.2 1892.7,1076.1 1884.2,946.7 1886.8,975.4 1888.1,995.1 1885.2,950.5 1885.5,982.9 1884.6,969.4 1896.7,995.1 1897.2,1095.9 1888.7,1017.5 1900,1107.1 1891.4,874.3 1900.6,985 1900,1009.2 1887.6,989.3 1885.8,1066.8 1885.4,1014.8 1894.4,925.3 1889.1,1015.1 1888.6,958.7 1894.3,1059.5 1899.9,896.6 1896.1,877.9 1898.1,945 1894.6,952.3 1900,1091.5 1891.5,963 1900.3,869.5 1897.1,1033 1887.5,974.2 1883.9,960.3 1894,956.6 1884.5,998.9 1892.3,880.9 1898.6,1057.9 1899.5,953.5 1883.9,980.4 1893.3,887.3 1892.4,978.3 1885,977.2 1900.7,1038.6 1894.5,1029.2 1894.1,904 1891.3,1021 1889.1,945.8 1895.8,944.3 1890.6,966.3 1894.4,1064 1888.3,1028.7 1895.9,974.8 1890.9,1098.2 1888.1,1031.2 1900.6,886.1 1897.4,1056.5 1890.5,993.4 1893.1,1069.5 1886.1,959 1890.7,1052.5 1886.3,1000 1886.7,973.5 1882.9,882.6 1899.5,938.8 1892.1,1009.3 1897,1020.5 1896.9,1010.4 1892.5,1045.5 1889.7,864.7 1890.7,982.3 1889.9,1078.3 1885.8,1011.9 1900,886.8 1897.5,1003.2 1894.5,1000.4 1883.7,963.7 1897.5,1013.4 1896.2,929 1883.1,923.1 1888.5,967.5 1888,1103.1 1885.4,1005 1889.7,1097 1889.8,989.6 1887.5,958.9 1892.5,881.6 1899.6,907.6 1893,913.8 1882.9,962.6 1890.4,893.8 1895.2,947.1 1890.8,868 1898.3,1002 1900.8,1053.2 1892.3,948.5 1893.4,1083 1894.2,1055.5 1885.8,971.8 1883.2,1012.5 1896.8,982.6 1892.2,1065.7 1892,918.2 1888.5,1009.9 1891.8,933 1892,969 1883,1002.5 1893.2,1042.2 1893.4,951.1 1889.3,902.8 1893.7,879.5 1887.8,997.3 1886.7,986 1889.3,945.4 1883.3,1030.6 1900.1,954.7 1883.2,1008.6 1888.5,932.8 1898.3,1044.7 1885.3,941.8 1888.5,1062.1 1887.1,981.8 1895.6,1012.6 1898.8,996.2 1888.3,893 1894.4,905.2 1887,1058.4 1893.9,824.9 1887.5,1028 1884.1,973 1883.6,862.5 1890.8,858.1 1885.7,1034.4 1887,1081.7 1883.9,931.3 1892.8,961.2 1895.6,946.3 1886.2,947.8 1889.7,932.1 1886.9,922.3 1890.7,897.7 1897.7,965.3 1893,1015 1886.5,915.9 1887.9,957.9 1884.1,970.3 1886.5,938.9 1895.4,959.7 1889,872.5 1893.5,991.6 1894.1,1043.5 1886.8,978.9 1897.7,897.2 1886.4,981.2 1893.7,954.8 1899,976.1 1883.7,1003.6 1896.1,992.1 1893.6,998 1893.1,1040.9 1883.9,979.5 1886.1,982 1884.5,945.9 1889.7,866.7 1887.4,920.1 1885.7,988.7 1889.5,1002.6 1889.5,1032.4 1883.5,1005.7 1892.1,909.9 1897.3,998.6 1885.2,853.6 1893.7,988.1 1897.6,919.4 1895.6,912.7 1895.7,971.4 1898.3,997.7 1894.7,1019.7 1890.1,1007.5 1895.4,1033.6 1899.8,1011.7 1896,1077 1886.4,1060.3 1888.5,1019.2 1888.7,965.8 1883,1004.7 1897.2,954.5 1894.9,899.5 1896.3,884.4 1885.7,975.9 1882.9,817.6 1888.7,923.7 1895,1082.6 1898.4,1085.6 1887,921.6 1895.2,844.4 1883.9,972.8 1892.9,1115.3 1885.6,877.3 1897,987.2 1885.7,990.9 1893.3,1008.2 1891.7,1016.4 1897.4,975.7 1897.8,990.6 1892.5,980.5 1891.5,1040.6 1898.7,964.2 1894.9,961.1 1885.3,935.5 1889.3,914.1 1895.8,994.3 1896.7,983.4 1882.9,934.2 1888.6,1081.2 1887.7,990.1 1889,865.7 1891.5,894.4 1898.4,996.6 1900,1047.3 1884.8,1006.8 1893.7,1033.8 1892.8,860 1882.9,968.1 1894.8,1050.4 1887.4,1048.5 1887.5,995.9 1894.6,875.1 1897,1000.2 1896.3,863.1 1899.4,995.6 1891.7,1005.2 1897.2,889.8 1896,984.8 1900.3,961.7 1894.8,1035.1 1900.7,977.7 1889.4,989.9 1887.4,1050.1 1891.1,1022.5 1897.6,1014.2 1893.2,927.6 1884.4,1067.6 1897.1,882.2 1888.2,966.7 1891.1,998.9 1887.6,1014.5 1897.8,974.5 1898,1048.4 1893.7,1010.1 1898.9,885.2 1888.1,1054.8 1887.7,957.8 1894.3,1054.2 1888.9,917.9 1900.6,962.1 1883,955.5 1891.3,885.3 1884.1,946.5 1893.1,1074.4 1900.2,974.9 1900,1093.3 1892.7,1002.9 1886.6,929.9 1885.8,1011.1 1898.9,1058.9 1897.1,1039.6 1885.3,985.5 1897,978 1896.8,983.6 1894.9,1089.5 1883.4,1105.6 1885.8,936.6 1889,858.6 1885.9,1046.6 1883.8,987 1883.8,942.9 1899.7,1063.7 1890.4,1007.3 1895.3,909.2 1891.1,993.2 1893.2,1031.9 1897.1,854.7 1897.3,1086.3 1887.9,970.6 1888.1,987.5 1899.4,1036 1893.3,954.2 1885.6,926.6 1897.4,1094.9 1885.8,906.9 1898.7,1099.8 1884.7,1000.5 1890.1,1024.1 1888.7,999.4 1888.5,901.4 1896,956.2 1896.6,993 1898.4,964.6 1886.8,1042.8 1899.4,998.2 1891.3,1110.3 1897.4,1009.6 1892.6,977.7 1895,1071.7 1883.5,1030.2 1898.5,1013.1 1884.6,1021.3 1891.6,950.3 1896.4,968.4 1896.7,1003.4 1893.9,861.4 1890,922.5 1891.6,991.5 1896.4,954 1899.1,1036.7 1891.3,976.5 1884.6,900.1 1889.5,1026.8 1900.7,1023.6 1889.2,992.5 1900.5,997.7 1896.1,970.9 1888.2,1089.1 1884.3,952.2 1888.6,1043.9 1890.6,965.6 1891.9,1004.2 1891.8,1053.8 1890.7,960.8 1896.4,988.5 1883.7,1076.3 1885.5,898.5 1898.9,960.5 1890.3,1017.1 1885.7,990.3 1886,1100.7 1899.3,1088.1 1893.7,1010.8 1894.4,895.8 1887.4,948.8 1888.5,955.3 1888.2,952 1899.4,871 1897.1,991.2 1900.5,992.7 1891.2,986.8 1892.1,941.1 1884.9,930.4 1898,957.2 1887.5,999.5 1890.4,976.6 1883.8,1051.5 1895.5,951.6 1883.9,976.9 1886.9,967.2 1893.2,1039.4 1886.4,1028.5 1899.1,997 1886.6,1008.3 1887.6,878.7 1889.3,908.3 1897.7,916.5 1895.4,984.2 1897.1,940.3 1896.1,986.1 1891.9,1046.1 1882.9,945.2 1888.2,966.8 1892.3,902.5 1888.9,965 1899.4,1062.5 1886.1,1049.3 1887.6,953.2 1891.3,936.4 1891.7,1018.4 1892.5,983 1900.6,1079 1897.9,955.7 1897.9,956.8 1889,973.8 1892.2,1090.2 1888.2,1024.8 1885.4,911.6 1889.7,962 1889.8,1074.2 1890.5,892.2 1888.1,927.8 1891.9,826.8 1890.2,1021.9 1884.2,1067.4" fill="none" stroke="none" marker-start="url(#mr)" marker-mid="url(#mr)" marker-end="url(#mr)"/>
<polyline points="1922.1,1108.2 1931.4,966.4 1926.4,1100.3 1929.1,1114.8 1916.1,1126.3 1929.3,1109 1914.1,1111 1923,1114 1929.5,1118.4 1926.5,1119 1918.8,1032.3 1914.2,1109.8 1924.4,1026.2 1919.7,1101.5 1920.4,1105.7 1931.1,1112.2 1920.1,1122.7 1915.2,1027.4 1925,1115.3 1928.9,1123.9 1931.6,1110.5 1927.8,1110 1919.5,1116.1 1918.4,1111.5 1922.2,1106.6 1928.6,1103.6 1918.9,1120.2 1924.4,1119.7 1914.4,1087.8 1928.6,1113.6 1917.4,1122.1 1913.9,1096.6 1916,1116.6 1926.9,1112.6 1931.4,1117.2" fill="none" stroke="none" marker-start="url(#mb)" marker-mid="url(#mb)" marker-end="url(#mb)"/>
<polyline points="1945.9,928.8 1960.5,969.1 1953.9,992.1 1952.1,958.6 1955.2,930.1 1955.1,897.1 1953,924.3 1952.1,975.2 1960.2,926.5 1949.8,902.1 1956.3,1000.6 1961,944.5 1951.6,861.8 1949.6,983.1 1952.9,894.9 1947.2,933.5 1949.2,970.9 1954.6,940.6 1950.4,956.5 1951.6,954.3 1955.9,964.5 1951.7,963.3 1946.5,950.2 1959.3,973.4 1952.4,913 1947,907.2 1945.5,915.2 1959.5,986.9 1952.7,927.7 1949.1,945.9 1950.7,959.2 1949.2,921.3 1948.5,917.3 1944.9,873.3 1952.7,887.8 1955.4,981.1 1949.2,931.7 1951.1,943.2 1958.2,938.9 1954.8,886.6 1961.1,961.7 1944.7,951.2 1946.1,979 1953.4,879.2 1954.2,920.4 1958.4,904.3 1948.9,937 1959,942 1948.1,923 1952,947.9 1957.4,990.6 1961.1,868.3 1960.5,966.7 1945.2,850.5 1956.9,935.4 1948.3,952.8 1956.1,977.3" fill="none" stroke="none" marker-start="url(#mr)" marker-mid="url(#mr)" marker-end="url(#mr)"/>
<polyline points="1992.3,1043.6 1978.1,1098 1978.5,1027.6 1983.9,1104.5 1983.5,1073.8 1978.6,1082.4 1978.5,1089.1 1987.1,1079.1 1983.7,1095.5 1982.3,1113 1990.3,1058.1 1993,1084.1 1991.8,1065.7 1985.8,1081.3 1976.7,1080.9 1992.6,1022.8 1983.1,1055.2 1977.5,1086.2 1987.6,1047.3 1979.5,1099.2 1992,1095.2 1991.9,1060.4 1990.9,1025.8 1980.8,1086.3 1981.2,1034.7 1983.6,1037.4 1985.6,1052.1 1982.7,1013.3 1982,1076.1 1982.4,1059.1 1984.5,1062.8 1980.7,1062.3 1981.1,1035.6 1976.4,1050.4 1987.4,1080.1 1977.3,1103.5 1981.6,1111 1992.9,1072.6 1980.1,1040.7 1986.7,1029.4 1975.4,1000.6 1984.3,1092.7 1982.4,1121.4 1988.9,1108.8 1977.5,1100.2 1978.9,1045.9 1982.8,1010.6 1981.9,1039.6 1980.6,1106.4 1991.8,1078.3 1986.6,1076.7 1981.7,1084.4 1980.5,1018.7 1984.9,1094.3 1979.1,1089.2 1984.3,1007 1985.7,1019.9 1988.7,1075 1988.7,1069.8 1983.6,1064.3 1987.5,1042.7 1991,1096.6 1982.9,1044.7 1976.3,1016.9 1992.2,1067.9 1987.2,1105 1980.1,1071.6 1990.1,1031.1 1983.6,1032.1 1982,1087.7 1984.1,1056.1 1984.7,1091.2 1989.1,1091.8 1989.3,1101.8 1987.8,1024.7 1987.8,1109.4 1976,1049.8 1979.3,1071.1 1986.1,1116.8 1988.1,1053.9" fill="none" stroke="none" marker-start="url(#mr)" marker-mid="url(#mr)" marker-end="url(#mr)"/>
<g stroke="#ff0000" fill="none">
<path d="M135.1 868.8V1001.2M135.1 1094.9V1126.3" stroke-width="1.9"/>
<rect x="123.2" y="1001.2" width="23.8" height="93.7" fill="rgba(255,255,255,.33)" stroke-width="1.75"/>
<path d="M123.2 1056.4H147" stroke-width="3.1"/>
</g>
<g stroke="#ff0000" fill="none">
<path d="M165.9 837.1V937.2M165.9 1006.7V1110.4" stroke-width="1.9"/>
<rect x="154" y="937.2" width="23.8" height="69.5" fill="rgba(255,255,255,.33)" stroke-width="1.75"/>
<path d="M154 966.4H177.8" stroke-width="3.1"/>
</g>
<g stroke="#0000ff" fill="none">
<path d="M196.7 976.8V1051.2M196.7 1122V1125" stroke-width="1.9"/>
<rect x="184.8" y="1051.2" width="23.8" height="70.8" fill="rgba(255,255,255,.33)" stroke-width="1.75"/>
<path d="M184.8 1090H208.6" stroke-width="3.1"/>
</g>
<g stroke="#ff0000" fill="none">
<path d="M227.6 785.9V912.2M227.6 1007.9V1117.7" stroke-width="1.9"/>
<rect x="215.7" y="912.2" width="23.8" height="95.8" fill="rgba(255,255,255,.33)" stroke-width="1.75"/>
<path d="M215.7 961.6H239.5" stroke-width="3.1"/>
</g>
<g stroke="#0000ff" fill="none">
<path d="M258.4 1021.3V1073.8M258.4 1110.7V1128.7" stroke-width="1.9"/>
<rect x="246.5" y="1073.8" width="23.8" height="36.9" fill="rgba(255,255,255,.33)" stroke-width="1.75"/>
<path d="M246.5 1100.8H270.3" stroke-width="3.1"/>
</g>
<g stroke="#ff0000" fill="none">
<path d="M289.2 785.9V854.2M289.2 925.9V1032.3" stroke-width="1.9"/>
<rect x="277.3" y="854.2" width="23.8" height="71.7" fill="rgba(255,255,255,.33)" stroke-width="1.75"/>
<path d="M277.3 889.6H301.1" stroke-width="3.1"/>
</g>
<g stroke="#ff0000" fill="none">
<path d="M320 809.1V893.9M320 951.8V1022.6" stroke-width="1.9"/>
<rect x="308.1" y="893.9" width="23.8" height="58" fill="rgba(255,255,255,.33)" stroke-width="1.75"/>
<path d="M308.1 927.4H331.9" stroke-width="3.1"/>
</g>
<g stroke="#ff0000" fill="none">
<path d="M350.8 873.1V965.2M350.8 1036V1118.3" stroke-width="1.9"/>
<rect x="338.9" y="965.2" width="23.8" height="70.8" fill="rgba(255,255,255,.33)" stroke-width="1.75"/>
<path d="M338.9 997.6H362.7" stroke-width="3.1"/>
</g>
<g stroke="#ff0000" fill="none">
<path d="M381.7 817V893.2M381.7 946.3V1022.6" stroke-width="1.9"/>
<rect x="369.8" y="893.2" width="23.8" height="53.1" fill="rgba(255,255,255,.33)" stroke-width="1.75"/>
<path d="M369.8 920.7H393.6" stroke-width="3.1"/>
</g>
<g stroke="#ff0000" fill="none">
<path d="M412.5 829.8V895.1M412.5 939V1006.7" stroke-width="1.9"/>
<rect x="400.6" y="895.1" width="23.8" height="43.9" fill="rgba(255,255,255,.33)" stroke-width="1.75"/>
<path d="M400.6 915.2H424.4" stroke-width="3.1"/>
</g>
<g stroke="#0000ff" fill="none">
<path d="M443.3 1109.2V1113.9M443.3 1123V1125" stroke-width="1.9"/>
<rect x="431.4" y="1113.9" width="23.8" height="9.2" fill="rgba(255,255,255,.33)" stroke-width="1.75"/>
<path d="M431.4 1121.4H455.2" stroke-width="3.1"/>
</g>
<g stroke="#ff0000" fill="none">
<path d="M474.1 915.8V987.2M474.1 1046.5V1115.3" stroke-width="1.9"/>
<rect x="462.2" y="987.2" width="23.8" height="59.4" fill="rgba(255,255,255,.33)" stroke-width="1.75"/>
<path d="M462.2 1006.7H486" stroke-width="3.1"/>
</g>
<g stroke="#0000ff" fill="none">
<path d="M504.9 1124.4V1124.7M504.9 1126.6V1126.9" stroke-width="1.9"/>
<rect x="493" y="1124.7" width="23.8" height="1.8" fill="rgba(255,255,255,.33)" stroke-width="1.75"/>
<path d="M493 1125.7H516.8" stroke-width="3.1"/>
</g>
<g stroke="#ff0000" fill="none">
<path d="M535.8 855.4V925.9M535.8 978V1052.5" stroke-width="1.9"/>
<rect x="523.9" y="925.9" width="23.8" height="52.2" fill="rgba(255,255,255,.33)" stroke-width="1.75"/>
<path d="M523.9 951.2H547.7" stroke-width="3.1"/>
</g>
<g stroke="#0000ff" fill="none">
<path d="M566.6 963.4V1011M566.6 1053.1V1109.2" stroke-width="1.9"/>
<rect x="554.7" y="1011" width="23.8" height="42.1" fill="rgba(255,255,255,.33)" stroke-width="1.75"/>
<path d="M554.7 1029.3H578.5" stroke-width="3.1"/>
</g>
<g stroke="#ff0000" fill="none">
<path d="M597.4 834.1V910.9M597.4 984.1V1073.2" stroke-width="1.9"/>
<rect x="585.5" y="910.9" width="23.8" height="73.2" fill="rgba(255,255,255,.33)" stroke-width="1.75"/>
<path d="M585.5 952.4H609.3" stroke-width="3.1"/>
</g>
<g stroke="#ff0000" fill="none">
<path d="M628.2 820.7V891.4M628.2 954.2V1038.4" stroke-width="1.9"/>
<rect x="616.3" y="891.4" width="23.8" height="62.8" fill="rgba(255,255,255,.33)" stroke-width="1.75"/>
<path d="M616.3 920.7H640.1" stroke-width="3.1"/>
</g>
<g stroke="#0000ff" fill="none">
<path d="M659 1001.8V1052.5M659 1120.8V1126.3" stroke-width="1.9"/>
<rect x="647.1" y="1052.5" width="23.8" height="68.3" fill="rgba(255,255,255,.33)" stroke-width="1.75"/>
<path d="M647.1 1099.8H670.9" stroke-width="3.1"/>
</g>
<g stroke="#ff0000" fill="none">
<path d="M689.9 870.4V946.3M689.9 1018.9V1109.2" stroke-width="1.9"/>
<rect x="678" y="946.3" width="23.8" height="72.6" fill="rgba(255,255,255,.33)" stroke-width="1.75"/>
<path d="M678 980.5H701.8" stroke-width="3.1"/>
</g>
<g stroke="#0000ff" fill="none">
<path d="M720.7 1104.9V1106.5M720.7 1116.9V1119.3" stroke-width="1.9"/>
<rect x="708.8" y="1106.5" width="23.8" height="10.4" fill="rgba(255,255,255,.33)" stroke-width="1.75"/>
<path d="M708.8 1110.4H732.6" stroke-width="3.1"/>
</g>
<g stroke="#ff0000" fill="none">
<path d="M751.5 810.3V909.7M751.5 977.7V1081.7" stroke-width="1.9"/>
<rect x="739.6" y="909.7" width="23.8" height="68" fill="rgba(255,255,255,.33)" stroke-width="1.75"/>
<path d="M739.6 943.9H763.4" stroke-width="3.1"/>
</g>
<g stroke="#0000ff" fill="none">
<path d="M782.3 1004.3V1022.6M782.3 1078.1V1125.7" stroke-width="1.9"/>
<rect x="770.4" y="1022.6" width="23.8" height="55.5" fill="rgba(255,255,255,.33)" stroke-width="1.75"/>
<path d="M770.4 1033.2H794.2" stroke-width="3.1"/>
</g>
<g stroke="#ff0000" fill="none">
<path d="M813.1 823.7V888.4M813.1 933.5V996.9" stroke-width="1.9"/>
<rect x="801.2" y="888.4" width="23.8" height="45.1" fill="rgba(255,255,255,.33)" stroke-width="1.75"/>
<path d="M801.2 904.8H825" stroke-width="3.1"/>
</g>
<g stroke="#ff0000" fill="none">
<path d="M844 830.4V918.9M844 985.4V1083" stroke-width="1.9"/>
<rect x="832.1" y="918.9" width="23.8" height="66.5" fill="rgba(255,255,255,.33)" stroke-width="1.75"/>
<path d="M832.1 952.4H855.9" stroke-width="3.1"/>
</g>
<g stroke="#ff0000" fill="none">
<path d="M874.8 1101.6V1111.4M874.8 1122V1128.7" stroke-width="1.9"/>
<rect x="862.9" y="1111.4" width="23.8" height="10.6" fill="rgba(255,255,255,.33)" stroke-width="1.75"/>
<path d="M862.9 1117.7H886.7" stroke-width="3.1"/>
</g>
<g stroke="#0000ff" fill="none">
<path d="M905.6 1107.7V1113.1M905.6 1120.8V1123.8" stroke-width="1.9"/>
<rect x="893.7" y="1113.1" width="23.8" height="7.6" fill="rgba(255,255,255,.33)" stroke-width="1.75"/>
<path d="M893.7 1116.9H917.5" stroke-width="3.1"/>
</g>
<g stroke="#ff0000" fill="none">
<path d="M936.4 1014V1063.4M936.4 1096.6V1128.7" stroke-width="1.9"/>
<rect x="924.5" y="1063.4" width="23.8" height="33.2" fill="rgba(255,255,255,.33)" stroke-width="1.75"/>
<path d="M924.5 1082.6H948.3" stroke-width="3.1"/>
</g>
<g stroke="#0000ff" fill="none">
<path d="M967.2 1105.2V1112.7M967.2 1120.2V1126.3" stroke-width="1.9"/>
<rect x="955.3" y="1112.7" width="23.8" height="7.5" fill="rgba(255,255,255,.33)" stroke-width="1.75"/>
<path d="M955.3 1116.5H979.1" stroke-width="3.1"/>
</g>
<g stroke="#ff0000" fill="none">
<path d="M998.1 1052.2V1090.5M998.1 1117.7V1128.7" stroke-width="1.9"/>
<rect x="986.2" y="1090.5" width="23.8" height="27.3" fill="rgba(255,255,255,.33)" stroke-width="1.75"/>
<path d="M986.2 1107.7H1010" stroke-width="3.1"/>
</g>
<g stroke="#0000ff" fill="none">
<path d="M1028.9 1109.2V1115.9M1028.9 1122.6V1126.3" stroke-width="1.9"/>
<rect x="1017" y="1115.9" width="23.8" height="6.7" fill="rgba(255,255,255,.33)" stroke-width="1.75"/>
<path d="M1017 1119.3H1040.8" stroke-width="3.1"/>
</g>
<g stroke="#ff0000" fill="none">
<path d="M1059.7 823.7V894.8M1059.7 959.1V1050" stroke-width="1.9"/>
<rect x="1047.8" y="894.8" width="23.8" height="64.4" fill="rgba(255,255,255,.33)" stroke-width="1.75"/>
<path d="M1047.8 925H1071.6" stroke-width="3.1"/>
</g>
<g stroke="#ff0000" fill="none">
<path d="M1090.5 962.2V1048.5M1090.5 1107.4V1128.7" stroke-width="1.9"/>
<rect x="1078.6" y="1048.5" width="23.8" height="58.9" fill="rgba(255,255,255,.33)" stroke-width="1.75"/>
<path d="M1078.6 1086.2H1102.4" stroke-width="3.1"/>
</g>
<g stroke="#ff0000" fill="none">
<path d="M1121.3 899.3V1011.6M1121.3 1090V1128.7" stroke-width="1.9"/>
<rect x="1109.4" y="1011.6" width="23.8" height="78.4" fill="rgba(255,255,255,.33)" stroke-width="1.75"/>
<path d="M1109.4 1051H1133.2" stroke-width="3.1"/>
</g>
<g stroke="#0000ff" fill="none">
<path d="M1152.2 1120.2V1123.2M1152.2 1126.9V1128.7" stroke-width="1.9"/>
<rect x="1140.3" y="1123.2" width="23.8" height="3.7" fill="rgba(255,255,255,.33)" stroke-width="1.75"/>
<path d="M1140.3 1125H1164.1" stroke-width="3.1"/>
</g>
<g stroke="#ff0000" fill="none">
<path d="M1183 832.9V952.8M1183 1048.2V1116.5" stroke-width="1.9"/>
<rect x="1171.1" y="952.8" width="23.8" height="95.4" fill="rgba(255,255,255,.33)" stroke-width="1.75"/>
<path d="M1171.1 994.5H1194.9" stroke-width="3.1"/>
</g>
<g stroke="#0000ff" fill="none">
<path d="M1213.8 1091.7V1102.3M1213.8 1113.9V1125" stroke-width="1.9"/>
<rect x="1201.9" y="1102.3" width="23.8" height="11.6" fill="rgba(255,255,255,.33)" stroke-width="1.75"/>
<path d="M1201.9 1108.2H1225.7" stroke-width="3.1"/>
</g>
<g stroke="#ff0000" fill="none">
<path d="M1244.6 818.8V901.8M1244.6 957.9V1038.7" stroke-width="1.9"/>
<rect x="1232.7" y="901.8" width="23.8" height="56.1" fill="rgba(255,255,255,.33)" stroke-width="1.75"/>
<path d="M1232.7 930.5H1256.5" stroke-width="3.1"/>
</g>
<g stroke="#0000ff" fill="none">
<path d="M1275.4 1073.2V1097.3M1275.4 1115.3V1125" stroke-width="1.9"/>
<rect x="1263.5" y="1097.3" width="23.8" height="17.9" fill="rgba(255,255,255,.33)" stroke-width="1.75"/>
<path d="M1263.5 1110.4H1287.3" stroke-width="3.1"/>
</g>
<g stroke="#ff0000" fill="none">
<path d="M1306.3 883.5V989.3M1306.3 1062.2V1117.7" stroke-width="1.9"/>
<rect x="1294.4" y="989.3" width="23.8" height="72.9" fill="rgba(255,255,255,.33)" stroke-width="1.75"/>
<path d="M1294.4 1026.8H1318.2" stroke-width="3.1"/>
</g>
<g stroke="#ff0000" fill="none">
<path d="M1337.1 848.1V934.1M1337.1 995.7V1080.5" stroke-width="1.9"/>
<rect x="1325.2" y="934.1" width="23.8" height="61.6" fill="rgba(255,255,255,.33)" stroke-width="1.75"/>
<path d="M1325.2 959.7H1349" stroke-width="3.1"/>
</g>
<g stroke="#ff0000" fill="none">
<path d="M1367.9 957.3V1022.6M1367.9 1070.8V1127.5" stroke-width="1.9"/>
<rect x="1356" y="1022.6" width="23.8" height="48.2" fill="rgba(255,255,255,.33)" stroke-width="1.75"/>
<path d="M1356 1046.8H1379.8" stroke-width="3.1"/>
</g>
<g stroke="#0000ff" fill="none">
<path d="M1398.7 1033.7V1061.6M1398.7 1086.6V1094.2" stroke-width="1.9"/>
<rect x="1386.8" y="1061.6" width="23.8" height="25" fill="rgba(255,255,255,.33)" stroke-width="1.75"/>
<path d="M1386.8 1077.6H1410.6" stroke-width="3.1"/>
</g>
<g stroke="#ff0000" fill="none">
<path d="M1429.5 1079.3V1104M1429.5 1120.2V1128.7" stroke-width="1.9"/>
<rect x="1417.6" y="1104" width="23.8" height="16.2" fill="rgba(255,255,255,.33)" stroke-width="1.75"/>
<path d="M1417.6 1113.5H1441.4" stroke-width="3.1"/>
</g>
<g stroke="#0000ff" fill="none">
<path d="M1460.4 1118.9V1120.2M1460.4 1122.6V1123.2" stroke-width="1.9"/>
<rect x="1448.5" y="1120.2" width="23.8" height="2.4" fill="rgba(255,255,255,.33)" stroke-width="1.75"/>
<path d="M1448.5 1121.4H1472.3" stroke-width="3.1"/>
</g>
<g stroke="#ff0000" fill="none">
<path d="M1491.2 1028.7V1078.9M1491.2 1112.2V1128.7" stroke-width="1.9"/>
<rect x="1479.3" y="1078.9" width="23.8" height="33.4" fill="rgba(255,255,255,.33)" stroke-width="1.75"/>
<path d="M1479.3 1098.2H1503.1" stroke-width="3.1"/>
</g>
<g stroke="#0000ff" fill="none">
<path d="M1522 1089.2V1104.9M1522 1120.2V1127.5" stroke-width="1.9"/>
<rect x="1510.1" y="1104.9" width="23.8" height="15.2" fill="rgba(255,255,255,.33)" stroke-width="1.75"/>
<path d="M1510.1 1113.1H1533.9" stroke-width="3.1"/>
</g>
<g stroke="#ff0000" fill="none">
<path d="M1552.8 864.6V926.4M1552.8 980.5V1061" stroke-width="1.9"/>
<rect x="1540.9" y="926.4" width="23.8" height="54.1" fill="rgba(255,255,255,.33)" stroke-width="1.75"/>
<path d="M1540.9 956.7H1564.7" stroke-width="3.1"/>
</g>
<g stroke="#0000ff" fill="none">
<path d="M1583.6 978V1004.3M1583.6 1043.5V1056.1" stroke-width="1.9"/>
<rect x="1571.7" y="1004.3" width="23.8" height="39.3" fill="rgba(255,255,255,.33)" stroke-width="1.75"/>
<path d="M1571.7 1032H1595.5" stroke-width="3.1"/>
</g>
<g stroke="#ff0000" fill="none">
<path d="M1614.5 801.7V936.2M1614.5 1027V1117.7" stroke-width="1.9"/>
<rect x="1602.6" y="936.2" width="23.8" height="90.8" fill="rgba(255,255,255,.33)" stroke-width="1.75"/>
<path d="M1602.6 980.5H1626.4" stroke-width="3.1"/>
</g>
<g stroke="#ff0000" fill="none">
<path d="M1645.3 837.1V916.4M1645.3 998.4V1090.9" stroke-width="1.9"/>
<rect x="1633.4" y="916.4" width="23.8" height="82" fill="rgba(255,255,255,.33)" stroke-width="1.75"/>
<path d="M1633.4 948.1H1657.2" stroke-width="3.1"/>
</g>
<g stroke="#a020f0" fill="none">
<path d="M1676.1 786.2V896.3M1676.1 971.9V1077.5" stroke-width="1.9"/>
<rect x="1664.2" y="896.3" width="23.8" height="75.6" fill="rgba(255,255,255,.33)" stroke-width="1.75"/>
<path d="M1664.2 933.7H1688" stroke-width="3.1"/>
</g>
<g stroke="#ff0000" fill="none">
<path d="M1706.9 813.3V917.6M1706.9 991.8V1100.8" stroke-width="1.9"/>
<rect x="1695" y="917.6" width="23.8" height="74.1" fill="rgba(255,255,255,.33)" stroke-width="1.75"/>
<path d="M1695 951.2H1718.8" stroke-width="3.1"/>
</g>
<g stroke="#0000ff" fill="none">
<path d="M1737.7 1002.1V1046M1737.7 1107.7V1126.3" stroke-width="1.9"/>
<rect x="1725.8" y="1046" width="23.8" height="61.7" fill="rgba(255,255,255,.33)" stroke-width="1.75"/>
<path d="M1725.8 1068.3H1749.6" stroke-width="3.1"/>
</g>
<g stroke="#ff0000" fill="none">
<path d="M1768.6 786.2V852.4M1768.6 909.1V994.5" stroke-width="1.9"/>
<rect x="1756.7" y="852.4" width="23.8" height="56.7" fill="rgba(255,255,255,.33)" stroke-width="1.75"/>
<path d="M1756.7 874H1780.5" stroke-width="3.1"/>
</g>
<g stroke="#ff0000" fill="none">
<path d="M1799.4 1064.7V1095.4M1799.4 1115.3V1128.7" stroke-width="1.9"/>
<rect x="1787.5" y="1095.4" width="23.8" height="19.9" fill="rgba(255,255,255,.33)" stroke-width="1.75"/>
<path d="M1787.5 1106.1H1811.3" stroke-width="3.1"/>
</g>
<g stroke="#0000ff" fill="none">
<path d="M1830.2 1076.9V1103.3M1830.2 1120.2V1127.5" stroke-width="1.9"/>
<rect x="1818.3" y="1103.3" width="23.8" height="16.9" fill="rgba(255,255,255,.33)" stroke-width="1.75"/>
<path d="M1818.3 1115.3H1842.1" stroke-width="3.1"/>
</g>
<g stroke="#ff0000" fill="none">
<path d="M1861 857.2V917.2M1861 1009.8V1115.3" stroke-width="1.9"/>
<rect x="1849.1" y="917.2" width="23.8" height="92.5" fill="rgba(255,255,255,.33)" stroke-width="1.75"/>
<path d="M1849.1 949.4H1872.9" stroke-width="3.1"/>
</g>
<g stroke="#ff0000" fill="none">
<path d="M1891.8 839.3V942.7M1891.8 1015.2V1115.3" stroke-width="1.9"/>
<rect x="1879.9" y="942.7" width="23.8" height="72.6" fill="rgba(255,255,255,.33)" stroke-width="1.75"/>
<path d="M1879.9 980.5H1903.7" stroke-width="3.1"/>
</g>
<g stroke="#0000ff" fill="none">
<path d="M1922.7 1096.6V1108.9M1922.7 1118.1V1126.3" stroke-width="1.9"/>
<rect x="1910.8" y="1108.9" width="23.8" height="9.1" fill="rgba(255,255,255,.33)" stroke-width="1.75"/>
<path d="M1910.8 1113.1H1934.6" stroke-width="3.1"/>
</g>
<g stroke="#ff0000" fill="none">
<path d="M1953.5 850.5V917.6M1953.5 963.4V1000.6" stroke-width="1.9"/>
<rect x="1941.6" y="917.6" width="23.8" height="45.8" fill="rgba(255,255,255,.33)" stroke-width="1.75"/>
<path d="M1941.6 939.9H1965.4" stroke-width="3.1"/>
</g>
<g stroke="#ff0000" fill="none">
<path d="M1984.3 1000.6V1042.7M1984.3 1091.2V1121.4" stroke-width="1.9"/>
<rect x="1972.4" y="1042.7" width="23.8" height="48.5" fill="rgba(255,255,255,.33)" stroke-width="1.75"/>
<path d="M1972.4 1071.4H1996.2" stroke-width="3.1"/>
</g>
<path d="M164.2 727v13.6M157.1 729.6l14.2 8.4M157.1 738l14.2 -8.4M181.3 727v13.6M174.2 729.6l14.2 8.4M174.2 738l14.2 -8.4M198.4 727v13.6M191.3 729.6l14.2 8.4M191.3 738l14.2 -8.4M225.9 727v13.6M218.8 729.6l14.2 8.4M218.8 738l14.2 -8.4M243 727v13.6M235.9 729.6l14.2 8.4M235.9 738l14.2 -8.4M260.1 727v13.6M253 729.6l14.2 8.4M253 738l14.2 -8.4M419.4 727v13.6M412.3 729.6l14.2 8.4M412.3 738l14.2 -8.4M436.4 727v13.6M429.3 729.6l14.2 8.4M429.3 738l14.2 -8.4M472.4 727v13.6M465.3 729.6l14.2 8.4M465.3 738l14.2 -8.4M489.5 727v13.6M482.4 729.6l14.2 8.4M482.4 738l14.2 -8.4M506.6 727v13.6M499.5 729.6l14.2 8.4M499.5 738l14.2 -8.4M534.1 727v13.6M527 729.6l14.2 8.4M527 738l14.2 -8.4M551.2 727v13.6M544.1 729.6l14.2 8.4M544.1 738l14.2 -8.4M568.3 727v13.6M561.2 729.6l14.2 8.4M561.2 738l14.2 -8.4M626.5 727v13.6M619.4 729.6l14.2 8.4M619.4 738l14.2 -8.4M643.6 727v13.6M636.5 729.6l14.2 8.4M636.5 738l14.2 -8.4M660.7 727v13.6M653.6 729.6l14.2 8.4M653.6 738l14.2 -8.4M688.2 727v13.6M681.1 729.6l14.2 8.4M681.1 738l14.2 -8.4M705.3 727v13.6M698.2 729.6l14.2 8.4M698.2 738l14.2 -8.4M722.4 727v13.6M715.3 729.6l14.2 8.4M715.3 738l14.2 -8.4M749.8 727v13.6M742.7 729.6l14.2 8.4M742.7 738l14.2 -8.4M766.9 727v13.6M759.8 729.6l14.2 8.4M759.8 738l14.2 -8.4M784 727v13.6M776.9 729.6l14.2 8.4M776.9 738l14.2 -8.4M811.4 727v13.6M804.3 729.6l14.2 8.4M804.3 738l14.2 -8.4M828.5 727v13.6M821.4 729.6l14.2 8.4M821.4 738l14.2 -8.4M845.6 727v13.6M838.5 729.6l14.2 8.4M838.5 738l14.2 -8.4M934.7 727v13.6M927.6 729.6l14.2 8.4M927.6 738l14.2 -8.4M951.8 727v13.6M944.7 729.6l14.2 8.4M944.7 738l14.2 -8.4M968.9 727v13.6M961.8 729.6l14.2 8.4M961.8 738l14.2 -8.4M996.4 727v13.6M989.3 729.6l14.2 8.4M989.3 738l14.2 -8.4M1013.5 727v13.6M1006.4 729.6l14.2 8.4M1006.4 738l14.2 -8.4M1030.6 727v13.6M1023.5 729.6l14.2 8.4M1023.5 738l14.2 -8.4M1119.7 727v13.6M1112.6 729.6l14.2 8.4M1112.6 738l14.2 -8.4M1136.8 727v13.6M1129.7 729.6l14.2 8.4M1129.7 738l14.2 -8.4M1153.8 727v13.6M1146.8 729.6l14.2 8.4M1146.8 738l14.2 -8.4M1181.3 727v13.6M1174.2 729.6l14.2 8.4M1174.2 738l14.2 -8.4M1198.4 727v13.6M1191.3 729.6l14.2 8.4M1191.3 738l14.2 -8.4M1215.5 727v13.6M1208.4 729.6l14.2 8.4M1208.4 738l14.2 -8.4M1242.9 727v13.6M1235.8 729.6l14.2 8.4M1235.8 738l14.2 -8.4M1260 727v13.6M1252.9 729.6l14.2 8.4M1252.9 738l14.2 -8.4M1277.1 727v13.6M1270 729.6l14.2 8.4M1270 738l14.2 -8.4M1489.5 727v13.6M1482.4 729.6l14.2 8.4M1482.4 738l14.2 -8.4M1506.6 727v13.6M1499.5 729.6l14.2 8.4M1499.5 738l14.2 -8.4M1523.7 727v13.6M1516.6 729.6l14.2 8.4M1516.6 738l14.2 -8.4M1551.1 727v13.6M1544 729.6l14.2 8.4M1544 738l14.2 -8.4M1568.2 727v13.6M1561.1 729.6l14.2 8.4M1561.1 738l14.2 -8.4M1585.3 727v13.6M1578.2 729.6l14.2 8.4M1578.2 738l14.2 -8.4M1652.2 727v13.6M1645.1 729.6l14.2 8.4M1645.1 738l14.2 -8.4M1669.2 727v13.6M1662.1 729.6l14.2 8.4M1662.1 738l14.2 -8.4M1705.2 727v13.6M1698.1 729.6l14.2 8.4M1698.1 738l14.2 -8.4M1722.3 727v13.6M1715.2 729.6l14.2 8.4M1715.2 738l14.2 -8.4M1739.4 727v13.6M1732.3 729.6l14.2 8.4M1732.3 738l14.2 -8.4M1797.7 727v13.6M1790.6 729.6l14.2 8.4M1790.6 738l14.2 -8.4M1814.8 727v13.6M1807.7 729.6l14.2 8.4M1807.7 738l14.2 -8.4M1831.9 727v13.6M1824.8 729.6l14.2 8.4M1824.8 738l14.2 -8.4M1890.2 727v13.6M1883.1 729.6l14.2 8.4M1883.1 738l14.2 -8.4M1907.2 727v13.6M1900.2 729.6l14.2 8.4M1900.2 738l14.2 -8.4M1924.3 727v13.6M1917.2 729.6l14.2 8.4M1917.2 738l14.2 -8.4" stroke="#111" stroke-width="1.5" fill="none"/>
<rect x="117.2" y="706.6" width="1884.1" height="441.4" fill="none" stroke="#444" stroke-width="1.7"/>
<path d="M135.1 1148v7.5M165.9 1148v7.5M196.7 1148v7.5M227.6 1148v7.5M258.4 1148v7.5M289.2 1148v7.5M320 1148v7.5M350.8 1148v7.5M381.7 1148v7.5M412.5 1148v7.5M443.3 1148v7.5M474.1 1148v7.5M504.9 1148v7.5M535.8 1148v7.5M566.6 1148v7.5M597.4 1148v7.5M628.2 1148v7.5M659 1148v7.5M689.9 1148v7.5M720.7 1148v7.5M751.5 1148v7.5M782.3 1148v7.5M813.1 1148v7.5M844 1148v7.5M874.8 1148v7.5M905.6 1148v7.5M936.4 1148v7.5M967.2 1148v7.5M998.1 1148v7.5M1028.9 1148v7.5M1059.7 1148v7.5M1090.5 1148v7.5M1121.3 1148v7.5M1152.2 1148v7.5M1183 1148v7.5M1213.8 1148v7.5M1244.6 1148v7.5M1275.4 1148v7.5M1306.3 1148v7.5M1337.1 1148v7.5M1367.9 1148v7.5M1398.7 1148v7.5M1429.5 1148v7.5M1460.4 1148v7.5M1491.2 1148v7.5M1522 1148v7.5M1552.8 1148v7.5M1583.6 1148v7.5M1614.5 1148v7.5M1645.3 1148v7.5M1676.1 1148v7.5M1706.9 1148v7.5M1737.7 1148v7.5M1768.6 1148v7.5M1799.4 1148v7.5M1830.2 1148v7.5M1861 1148v7.5M1891.8 1148v7.5M1922.7 1148v7.5M1953.5 1148v7.5M1984.3 1148v7.5M117.2 1128.7h-8.4M117.2 1006.7h-8.4M117.2 884.7h-8.4M117.2 762.7h-8.4" stroke="#333" stroke-width="2" fill="none"/>
<g font-size="21" fill="#4d4d4d" text-anchor="end">
<text transform="translate(103.3 1136.6) scale(1.14 1)">0</text>
<text transform="translate(103.3 1014.6) scale(1.14 1)">2</text>
<text transform="translate(103.3 892.6) scale(1.14 1)">4</text>
<text transform="translate(103.3 770.6) scale(1.14 1)">6</text>
</g>
<g font-size="29.5" fill="#000">
<text transform="translate(75.6 1135.7) rotate(-90)" textLength="62" lengthAdjust="spacingAndGlyphs">EXO1</text>
<text transform="translate(75.6 1061.3) rotate(-90)" textLength="131" lengthAdjust="spacingAndGlyphs">Expression</text>
<text transform="translate(75.6 915.7) rotate(-90)" textLength="57.6" lengthAdjust="spacingAndGlyphs">Level</text>
<text transform="translate(75.6 842) rotate(-90)" textLength="54.6" lengthAdjust="spacingAndGlyphs">(log2</text>
<text transform="translate(75.6 776.1) rotate(-90)" textLength="57" lengthAdjust="spacingAndGlyphs">TPM)</text>
</g>
<g font-size="24" fill="#000" text-anchor="end">
<text transform="translate(143.6 1160.3) rotate(-90) scale(0.9 1)">ACC.Tumor (n=79)</text>
<text transform="translate(174.4 1160.3) rotate(-90) scale(0.9 1)">BLCA.Tumor (n=408)</text>
<text transform="translate(205.2 1160.3) rotate(-90) scale(0.9 1)">BLCA.Normal (n=19)</text>
<text transform="translate(236.1 1160.3) rotate(-90) scale(0.9 1)">BRCA.Tumor (n=1093)</text>
<text transform="translate(266.9 1160.3) rotate(-90) scale(0.9 1)">BRCA.Normal (n=112)</text>
<text transform="translate(297.7 1160.3) rotate(-90) scale(0.9 1)">BRCA-Basal.Tumor (n=190)</text>
<text transform="translate(328.5 1160.3) rotate(-90) scale(0.9 1)">BRCA-Her2.Tumor (n=82)</text>
<text transform="translate(359.3 1160.3) rotate(-90) scale(0.9 1)">BRCA-LumA.Tumor (n=564)</text>
<text transform="translate(390.2 1160.3) rotate(-90) scale(0.9 1)">BRCA-LumB.Tumor (n=217)</text>
<text transform="translate(421 1160.3) rotate(-90) scale(0.9 1)">CESC.Tumor (n=304)</text>
<text transform="translate(451.8 1160.3) rotate(-90) scale(0.9 1)">CESC.Normal (n=3)</text>
<text transform="translate(482.6 1160.3) rotate(-90) scale(0.9 1)">CHOL.Tumor (n=36)</text>
<text transform="translate(513.4 1160.3) rotate(-90) scale(0.9 1)">CHOL.Normal (n=9)</text>
<text transform="translate(544.3 1160.3) rotate(-90) scale(0.9 1)">COAD.Tumor (n=457)</text>
<text transform="translate(575.1 1160.3) rotate(-90) scale(0.9 1)">COAD.Normal (n=41)</text>
<text transform="translate(605.9 1160.3) rotate(-90) scale(0.9 1)">DLBC.Tumor (n=48)</text>
<text transform="translate(636.7 1160.3) rotate(-90) scale(0.9 1)">ESCA.Tumor (n=184)</text>
<text transform="translate(667.5 1160.3) rotate(-90) scale(0.9 1)">ESCA.Normal (n=11)</text>
<text transform="translate(698.4 1160.3) rotate(-90) scale(0.9 1)">GBM.Tumor (n=153)</text>
<text transform="translate(729.2 1160.3) rotate(-90) scale(0.9 1)">GBM.Normal (n=5)</text>
<text transform="translate(760 1160.3) rotate(-90) scale(0.9 1)">HNSC.Tumor (n=520)</text>
<text transform="translate(790.8 1160.3) rotate(-90) scale(0.9 1)">HNSC.Normal (n=44)</text>
<text transform="translate(821.6 1160.3) rotate(-90) scale(0.9 1)">HNSC-HPV+.Tumor (n=97)</text>
<text transform="translate(852.5 1160.3) rotate(-90) scale(0.9 1)">HNSC-HPV-.Tumor (n=421)</text>
<text transform="translate(883.3 1160.3) rotate(-90) scale(0.9 1)">KICH.Tumor (n=66)</text>
<text transform="translate(914.1 1160.3) rotate(-90) scale(0.9 1)">KICH.Normal (n=25)</text>
<text transform="translate(944.9 1160.3) rotate(-90) scale(0.9 1)">KIRC.Tumor (n=533)</text>
<text transform="translate(975.7 1160.3) rotate(-90) scale(0.9 1)">KIRC.Normal (n=72)</text>
<text transform="translate(1006.6 1160.3) rotate(-90) scale(0.9 1)">KIRP.Tumor (n=290)</text>
<text transform="translate(1037.4 1160.3) rotate(-90) scale(0.9 1)">KIRP.Normal (n=32)</text>
<text transform="translate(1068.2 1160.3) rotate(-90) scale(0.9 1)">LAML.Tumor (n=173)</text>
<text transform="translate(1099 1160.3) rotate(-90) scale(0.9 1)">LGG.Tumor (n=516)</text>
<text transform="translate(1129.8 1160.3) rotate(-90) scale(0.9 1)">LIHC.Tumor (n=371)</text>
<text transform="translate(1160.7 1160.3) rotate(-90) scale(0.9 1)">LIHC.Normal (n=50)</text>
<text transform="translate(1191.5 1160.3) rotate(-90) scale(0.9 1)">LUAD.Tumor (n=515)</text>
<text transform="translate(1222.3 1160.3) rotate(-90) scale(0.9 1)">LUAD.Normal (n=59)</text>
<text transform="translate(1253.1 1160.3) rotate(-90) scale(0.9 1)">LUSC.Tumor (n=501)</text>
<text transform="translate(1283.9 1160.3) rotate(-90) scale(0.9 1)">LUSC.Normal (n=51)</text>
<text transform="translate(1314.8 1160.3) rotate(-90) scale(0.9 1)">MESO.Tumor (n=87)</text>
<text transform="translate(1345.6 1160.3) rotate(-90) scale(0.9 1)">OV.Tumor (n=303)</text>
<text transform="translate(1376.4 1160.3) rotate(-90) scale(0.9 1)">PAAD.Tumor (n=178)</text>
<text transform="translate(1407.2 1160.3) rotate(-90) scale(0.9 1)">PAAD.Normal (n=4)</text>
<text transform="translate(1438 1160.3) rotate(-90) scale(0.9 1)">PCPG.Tumor (n=179)</text>
<text transform="translate(1468.9 1160.3) rotate(-90) scale(0.9 1)">PCPG.Normal (n=3)</text>
<text transform="translate(1499.7 1160.3) rotate(-90) scale(0.9 1)">PRAD.Tumor (n=497)</text>
<text transform="translate(1530.5 1160.3) rotate(-90) scale(0.9 1)">PRAD.Normal (n=52)</text>
<text transform="translate(1561.3 1160.3) rotate(-90) scale(0.9 1)">READ.Tumor (n=166)</text>
<text transform="translate(1592.1 1160.3) rotate(-90) scale(0.9 1)">READ.Normal (n=10)</text>
<text transform="translate(1623 1160.3) rotate(-90) scale(0.9 1)">SARC.Tumor (n=259)</text>
<text transform="translate(1653.8 1160.3) rotate(-90) scale(0.9 1)">SKCM.Tumor (n=103)</text>
<text transform="translate(1684.6 1160.3) rotate(-90) scale(0.9 1)">SKCM.Metastasis (n=368)</text>
<text transform="translate(1715.4 1160.3) rotate(-90) scale(0.9 1)">STAD.Tumor (n=415)</text>
<text transform="translate(1746.2 1160.3) rotate(-90) scale(0.9 1)">STAD.Normal (n=35)</text>
<text transform="translate(1777.1 1160.3) rotate(-90) scale(0.9 1)">TGCT.Tumor (n=150)</text>
<text transform="translate(1807.9 1160.3) rotate(-90) scale(0.9 1)">THCA.Tumor (n=501)</text>
<text transform="translate(1838.7 1160.3) rotate(-90) scale(0.9 1)">THCA.Normal (n=59)</text>
<text transform="translate(1869.5 1160.3) rotate(-90) scale(0.9 1)">THYM.Tumor (n=120)</text>
<text transform="translate(1900.3 1160.3) rotate(-90) scale(0.9 1)">UCEC.Tumor (n=545)</text>
<text transform="translate(1931.2 1160.3) rotate(-90) scale(0.9 1)">UCEC.Normal (n=35)</text>
<text transform="translate(1962 1160.3) rotate(-90) scale(0.9 1)">UCS.Tumor (n=57)</text>
<text transform="translate(1992.8 1160.3) rotate(-90) scale(0.9 1)">UVM.Tumor (n=80)</text>
</g>
</g>
<g id="pC">
<marker id="mk" markerWidth="4" markerHeight="4" refX="2" refY="2" markerUnits="userSpaceOnUse"><rect x="1.35" y="1.35" width="1.35" height="1.35" fill="rgba(0,0,0,.85)"/></marker>
<rect x="201.4" y="1672" width="48.4" height="70.7" fill="#ff6666" stroke="#3a3a3a" stroke-width="0.8"/>
<path d="M225.6 1577.1V1672M225.6 1742.6V1766.8" stroke="#222" stroke-width="0.9" stroke-dasharray="2.6 2" fill="none"/>
<path d="M213.4 1577.1h24.4M213.4 1766.8h24.4" stroke="#333" stroke-width="1" fill="none"/>
<path d="M201.4 1715.9H249.8" stroke="#000" stroke-width="2.2" fill="none"/>
<path d="M201.4 1770.3H249.8" stroke="#111" stroke-width="2.6" fill="none"/>
<polyline points="224.7,1766.8 222.4,1762.7 223,1759.9 230.9,1759.1 229,1757.5 223.4,1756.1 229.9,1755.4 222.4,1753.8 224.4,1752.6 229.6,1751.4 227.2,1751.1 221.1,1749.9 231.1,1749.1 222.4,1747.5 222.9,1746.7 228.7,1746.4 223.7,1744.6 223.3,1743.7 220.8,1743.1 221,1742.1 226.5,1741.4 222.7,1740.2 226.7,1738.1 224.2,1737.3 225.1,1735.8 230.7,1734.3 225.4,1733.2 226.4,1731.2 229.7,1729.9 222,1727.9 221.7,1727 230.2,1725.4 229.2,1724.2 222.8,1722.6 222.1,1721.5 228.3,1720.4 230.5,1718 222.2,1716.6 230.6,1715.1 229.9,1713.2 226.8,1711.8 224.7,1709.7 221.2,1707.3 220.4,1705.5 230.8,1701.6 222.7,1700.2 227.9,1696.9 222.9,1695.6 229.2,1692 226.7,1690 223.3,1689.7 222,1686.9 228.1,1683 220.8,1681.7 222.6,1678.3 226.3,1677.3 229.5,1675.8 226.9,1672.2 223.1,1668.5 230.3,1666.8 222.3,1663.9 220.2,1659.6 223,1653.7 225,1650.8 220.7,1649.5 222,1645.2 224.1,1642 226.4,1638.2 221.5,1631 224.1,1629.4 230,1623.2 231,1618.9 227.4,1615.2 227.7,1606.3 226.5,1603.7 221.6,1591 220.4,1577.1" fill="none" stroke="none" marker-start="url(#mk)" marker-mid="url(#mk)" marker-end="url(#mk)"/>
<rect x="261" y="1747.8" width="48.4" height="13.8" fill="#7f7f7f" stroke="#3a3a3a" stroke-width="0.8"/>
<path d="M285.2 1728.7V1747.8M285.2 1761.6V1770.3" stroke="#222" stroke-width="0.9" stroke-dasharray="2.6 2" fill="none"/>
<path d="M273 1728.7h24.4M273 1770.3h24.4" stroke="#333" stroke-width="1" fill="none"/>
<path d="M261 1755.4H309.4" stroke="#000" stroke-width="2.2" fill="none"/>
<path d="M261 1770.3H309.4" stroke="#111" stroke-width="2.6" fill="none"/>
<polyline points="290,1770.3 287.7,1768.8 281.1,1768.7 284.7,1768 286.6,1767.5 289.8,1767.1 283.8,1766.9 286,1766.6 289.4,1766.3 288.5,1766 290.2,1765.8 284.8,1765.5 286.9,1765.2 281.9,1765 287.7,1764.9 288.8,1764.5 286.8,1764.3 287.6,1764.1 282,1763.9 289.7,1763.7 290.6,1763.5 290.5,1763.3 285.6,1763.2 288.5,1762.9 283.2,1762.6 289.8,1762.4 289.2,1762.2 283.5,1762.1 280.5,1761.8 284.5,1761.7 285.8,1761.5 288.2,1761.2 285.1,1761.2 279.9,1760.8 288.7,1760.8 280.3,1760.4 288.6,1760.3 281.5,1760.1 283.4,1759.8 288.4,1759.6 281.2,1759.4 281.3,1759.1 285.4,1759.1 287.7,1758.9 289,1758.7 287.3,1758.4 290.2,1758.3 285.1,1758.1 290.2,1757.7 280.6,1757.5 282.1,1757.4 285.5,1757.1 282.8,1757 287.8,1756.7 286.8,1756.6 285.5,1756.4 289,1756.1 285.9,1755.8 283.1,1755.7 283.9,1755.5 289.1,1755.3 289.7,1755.1 281.9,1754.9 289.1,1754.5 290.4,1754.2 285.5,1753.9 286,1753.7 281.9,1753.4 285.6,1753.3 285.2,1753.1 286.4,1752.8 279.9,1752.6 290.5,1752.3 285.4,1752 284.1,1751.7 288.6,1751.5 285.9,1751.3 285.1,1750.9 287.3,1750.6 280.3,1750.5 285.6,1750.3 284.2,1750.1 290.3,1749.6 289.9,1749.6 282.6,1749.1 284.9,1748.9 281,1748.7 284.5,1748.4 288.7,1748.3 289.7,1748 284.9,1747.6 283.2,1747.4 281.7,1746.6 286.5,1746.4 290,1746 281,1745.6 288.3,1744.9 279.9,1744.6 281.8,1744 282.1,1743.5 287.3,1743 283.2,1742.5 283.6,1742.1 286.5,1741.9 280.8,1741.2 287.8,1740.9 281,1740.5 285.3,1739.7 282.4,1739 281.8,1738.8 285.5,1738.1 284.5,1737.5 283.8,1736.7 284.2,1736.1 285.5,1735.3 281.4,1734.4 281.9,1733.8 286.7,1732.3 286.8,1730.5 285.5,1728.7 289.1,1728.7 286.5,1704.2 289.2,1712.6 282.2,1701.9 287.9,1728.7 288.7,1714.9 289.7,1719.9 283.1,1711.5" fill="none" stroke="none" marker-start="url(#mk)" marker-mid="url(#mk)" marker-end="url(#mk)"/>
<rect x="380.7" y="1617.1" width="48.4" height="66.1" fill="#ff6666" stroke="#3a3a3a" stroke-width="0.8"/>
<path d="M404.9 1531.4V1617.1M404.9 1683.3V1761.3" stroke="#222" stroke-width="0.9" stroke-dasharray="2.6 2" fill="none"/>
<path d="M392.7 1531.4h24.4M392.7 1761.3h24.4" stroke="#333" stroke-width="1" fill="none"/>
<path d="M380.7 1650.9H429.1" stroke="#000" stroke-width="2.2" fill="none"/>
<polyline points="403.7,1761.3 406.2,1756.8 407.9,1756.3 410.3,1754 403.7,1753.1 407.1,1752.9 405.4,1752 408.3,1750.9 400.9,1750.6 401.3,1750.1 400.5,1749.1 409.8,1748.7 402.1,1748 404.8,1747.9 400.6,1747.3 402.9,1746.7 399.5,1746.5 405.6,1746 400.9,1745.4 406.3,1744.9 402.4,1744.5 401.8,1744.4 404.7,1743.9 403.4,1743.4 402.2,1743.2 399.9,1742.7 400,1742.5 409.3,1742.2 402.8,1741.9 400.2,1741.6 401.3,1741 404.7,1740.7 410.5,1740.4 401.6,1740.2 409,1739.9 404.7,1739.5 403.9,1739 408.3,1738.7 403.7,1738.4 399.9,1738.3 405.5,1738 406.7,1737.4 406.3,1737.3 402.4,1736.9 409.8,1736.7 409,1736.4 410.4,1736.1 404.3,1735.8 408.6,1735.5 407.4,1735.4 401.3,1734.9 399.6,1734.6 401.2,1734.5 400.6,1734.1 400.1,1733.8 403.3,1733.6 407.7,1733.3 402.8,1733.1 405.1,1732.7 399.4,1732.6 401.7,1732.1 410,1731.8 399.4,1731.6 405.2,1731.3 408.4,1731.1 408.2,1730.8 407.5,1730.5 403.8,1730.3 408.3,1729.9 408.6,1729.7 407.9,1729.6 410.3,1729.1 400.4,1728.9 409.9,1728.6 403.8,1728.4 407.2,1728.2 402.1,1727.8 409.5,1727.6 399.6,1727.4 405.8,1727.1 401.8,1726.8 403.7,1726.7 403.4,1726.3 406.7,1726.3 408.4,1725.9 403.4,1725.7 406.4,1725.5 403.3,1725.2 402.4,1724.9 409.4,1724.6 402.9,1724.5 400.4,1724 403,1723.9 407.6,1723.7 401.7,1723.4 407.6,1723.1 405.4,1722.9 406.9,1722.7 401.3,1722.3 400.5,1722.1 400.9,1721.9 403.2,1721.6 404.1,1721.3 399.4,1721.3 404.9,1720.9 403.8,1720.7 402.9,1720.5 405.3,1720.3 410,1720.1 401.6,1719.8 409.2,1719.5 402.9,1719.4 407.7,1719.1 400.5,1718.7 410.4,1718.5 404.1,1718.3 410.1,1718 401.8,1717.8 403.9,1717.5 407.2,1717.3 401.3,1717 402.4,1717 406.9,1716.6 409.9,1716.3 402.9,1716.3 401.4,1715.8 403.3,1715.8 410.4,1715.5 401,1715.3 406.4,1715 403.5,1714.7 406.5,1714.6 401.7,1714.2 406.2,1714.1 409.2,1713.8 408.9,1713.6 406.3,1713.4 405,1713.2 405.7,1712.9 400.6,1712.6 408.7,1712.5 407,1712.1 404.4,1712 406.8,1711.8 404,1711.6 403.6,1711.4 401.9,1711.1 406,1710.7 405.7,1710.6 405.1,1710.3 399.7,1710.1 406.3,1710 404.3,1709.5 405.9,1709.3 406,1709.3 409.7,1708.9 401,1708.8 404.5,1708.5 410.4,1708.2 407.6,1708.1 402.8,1707.8 407.6,1707.5 410.4,1707.3 403.8,1707.1 409,1706.8 400.7,1706.6 410.4,1706.4 404.8,1706.3 401.9,1706 408.7,1705.8 406.6,1705.6 409.8,1705.4 408.6,1705.1 408.2,1705 405,1704.7 410.4,1704.4 400,1704.2 409,1704 407.3,1703.7 402.1,1703.5 408.3,1703.2 404.4,1703.1 405.3,1702.7 409,1702.5 401.5,1702.3 402.4,1702.2 406.5,1702 400.1,1701.6 405.5,1701.4 408.1,1701.2 404.8,1701.1 402,1700.9 408.3,1700.6 408.9,1700.4 407.9,1700.1 405.5,1699.9 409.4,1699.6 408.2,1699.5 401,1699.3 403.4,1698.9 400.4,1698.7 399.7,1698.5 403.2,1698.5 409,1698.2 408.6,1698 400.6,1697.7 401.3,1697.4 403.7,1697.3 408.8,1697 406.2,1696.9 409.4,1696.7 400.1,1696.3 410.4,1696.1 401.6,1695.9 406.3,1695.7 409.1,1695.5 407.4,1695.3 401.5,1695.1 406.8,1694.8 404.1,1694.5 399.5,1694.5 403.1,1694.2 402.8,1693.9 406.4,1693.7 402.4,1693.4 406.1,1693.3 407.1,1693.1 401.3,1692.9 400.7,1692.5 407.1,1692.4 404.5,1692.1 400.7,1691.8 400.6,1691.8 409.8,1691.5 406.1,1691.2 403.3,1691 401.5,1690.9 410.4,1690.7 407,1690.5 407.5,1690.1 403.3,1690.1 402.8,1689.9 403.9,1689.5 400.9,1689.3 406.4,1689.1 404.1,1688.9 408.5,1688.6 403.9,1688.5 404.4,1688.3 405,1688 409.8,1687.9 403.2,1687.6 407.2,1687.3 401.9,1687.1 405.8,1687 402.5,1686.8 409.1,1686.5 402.5,1686.2 408.9,1686.1 406.9,1685.9 404.4,1685.6 409.8,1685.4 403.6,1685.1 407.6,1684.9 406,1684.7 404.3,1684.5 400,1684.2 404,1684.1 402.5,1683.9 404.2,1683.7 410,1683.3 402.6,1683.2 407.1,1683.2 406.8,1683 402,1682.9 403.9,1682.8 400.8,1682.7 409.3,1682.5 402.1,1682.5 404,1682.3 403.1,1682.1 408.5,1682.1 408.8,1681.9 405.9,1681.8 405.4,1681.7 400.4,1681.5 409.3,1681.4 400.3,1681.4 403.4,1681.3 403.5,1681.1 407.4,1681 406.8,1680.9 403.2,1680.7 409.4,1680.6 409.9,1680.5 399.6,1680.4 406.4,1680.3 404.6,1680.1 403.4,1680.1 404.5,1680 402.8,1679.8 406.8,1679.6 406.1,1679.6 410.2,1679.4 410.2,1679.3 410.4,1679.2 403.7,1679 408.6,1679 406.6,1678.9 407.2,1678.7 410.5,1678.6 400,1678.4 404.5,1678.4 403.8,1678.3 406.6,1678.1 401.7,1678 410.4,1677.9 401.6,1677.7 403.4,1677.6 400.9,1677.5 403.7,1677.3 407.6,1677.3 400.2,1677.1 401.2,1677 406.6,1676.9 406.3,1676.8 407.6,1676.6 402.1,1676.5 408.4,1676.4 407.5,1676.3 408,1676.2 400.6,1676.1 404.5,1675.9 399.5,1675.9 408.9,1675.7 409.9,1675.6 409.3,1675.5 399.6,1675.3 403.2,1675.3 405.3,1675.2 405.3,1675 400.5,1674.9 408.1,1674.8 402.7,1674.6 405,1674.6 400.7,1674.4 405.7,1674.3 400.8,1674.2 400.3,1674 405,1674 402.6,1673.9 408,1673.7 402.1,1673.6 403.9,1673.4 399.9,1673.4 401.7,1673.3 404.4,1673.1 405.6,1673 404.4,1672.9 408.8,1672.7 400.5,1672.6 408.8,1672.5 401,1672.4 410.2,1672.3 405.2,1672.2 403.9,1672 406.2,1671.9 409,1671.8 410.1,1671.6 403.9,1671.5 399.4,1671.4 401,1671.3 408.5,1671.1 407.5,1671.1 407.3,1670.9 401.1,1670.8 405.2,1670.7 399.6,1670.6 400.5,1670.5 402.7,1670.3 410.1,1670.2 406.5,1670.1 408.8,1670 399.8,1669.9 404,1669.8 400.2,1669.6 402.2,1669.5 400.6,1669.4 409.6,1669.3 403,1669.2 404.8,1669 406.6,1668.9 409.2,1668.8 409.9,1668.7 405.7,1668.6 404.9,1668.5 409.4,1668.3 403.7,1668.2 402.7,1668 407.6,1668 402.2,1667.8 403.4,1667.7 404.1,1667.6 404.6,1667.5 403.3,1667.4 404.1,1667.2 404.3,1667.2 399.9,1667 408.7,1666.8 400,1666.7 405.2,1666.7 405.4,1666.5 403.8,1666.4 401.8,1666.3 400.4,1666.2 403.5,1666 402.8,1665.9 404.7,1665.8 401.9,1665.6 407.7,1665.6 404.8,1665.4 399.4,1665.3 403.9,1665.2 410.1,1665.1 399.4,1664.9 405.9,1664.9 410.1,1664.7 403.4,1664.6 406,1664.5 403.4,1664.3 402.7,1664.3 406.1,1664.2 405.9,1664.1 402.8,1663.9 404.9,1663.8 405.1,1663.6 407.7,1663.5 399.9,1663.4 400.3,1663.3 402.1,1663.2 402.3,1663.1 408.2,1662.9 404.1,1662.8 408.9,1662.7 403.8,1662.6 402.5,1662.5 406.9,1662.3 400.3,1662.2 410.3,1662.1 408.6,1662 403,1661.9 402.9,1661.7 408.5,1661.6 408.1,1661.5 406.5,1661.4 399.9,1661.3 407.9,1661.2 399.8,1661 406.3,1660.9 405.5,1660.8 409.7,1660.7 406.5,1660.5 399.6,1660.5 409.8,1660.3 407.7,1660.2 405.8,1660.1 399.4,1659.9 407.6,1659.8 404,1659.7 406.9,1659.6 410.3,1659.4 409.6,1659.4 400.1,1659.3 408.1,1659.2 404.2,1659 407.7,1658.8 403.5,1658.8 404.3,1658.6 404.2,1658.5 400.6,1658.4 402.9,1658.3 407.5,1658.2 400.1,1658.1 400.6,1658 408.6,1657.8 406.8,1657.7 405.4,1657.5 400.6,1657.4 400.6,1657.3 402.8,1657.2 410,1657 405.6,1656.9 409.6,1656.9 401.7,1656.7 403.9,1656.6 405.3,1656.5 408.7,1656.4 400.7,1656.2 409.1,1656.1 404.6,1656 399.7,1655.9 404.1,1655.8 403.5,1655.7 406.9,1655.5 409.7,1655.4 404.8,1655.3 407,1655.2 403.6,1655.1 408,1654.9 400.5,1654.8 407.6,1654.7 401.2,1654.6 405.9,1654.5 401.6,1654.3 403.2,1654.2 401.1,1654.1 403.2,1654 405.9,1653.9 405.1,1653.8 403.7,1653.6 405.7,1653.4 408.7,1653.4 403.3,1653.2 405.8,1653.1 404.7,1653.1 410.3,1652.8 403,1652.8 407.1,1652.7 401.9,1652.6 402.2,1652.4 407.5,1652.3 405.7,1652.2 402.2,1652.1 400,1651.9 408.5,1651.8 403.5,1651.7 407.3,1651.6 404.1,1651.4 406.2,1651.4 405.6,1651.2 410.2,1651.1 409.5,1651 404.4,1650.9 404.8,1650.8 401.9,1650.6 407.7,1650.4 400.4,1650.3 402.7,1650.2 408.8,1650.2 399.7,1650 407.1,1649.9 405.7,1649.7 405.5,1649.7 403,1649.5 401,1649.3 409.9,1649.3 407.9,1649.1 408.3,1649.1 400.4,1648.9 408.1,1648.8 401.7,1648.6 401.5,1648.4 405.3,1648.4 406.1,1648.3 400.7,1648.1 407.9,1648 405.8,1647.9 409.4,1647.7 409.6,1647.6 407,1647.6 403.4,1647.4 410,1647.3 407.3,1647.2 402.6,1647 408.9,1646.9 407.4,1646.8 402.3,1646.6 402.1,1646.5 399.5,1646.4 405.3,1646.3 402.1,1646.1 402.6,1646.1 402.1,1645.9 400.8,1645.8 404.7,1645.6 402.4,1645.5 402.5,1645.4 402.4,1645.3 405,1645.1 409.1,1645 401.1,1644.9 408.9,1644.7 408.9,1644.7 406.1,1644.5 405.4,1644.4 407.5,1644.2 405.3,1644.2 406.7,1644 409.6,1643.9 408,1643.7 402.2,1643.7 399.9,1643.5 409.8,1643.4 403.4,1643.2 408.1,1643.2 401.9,1643.1 404.4,1642.9 403.4,1642.7 407.5,1642.6 409.9,1642.5 405,1642.4 405.6,1642.3 403.2,1642.2 401.9,1642.1 409.9,1642 400.5,1641.8 409.8,1641.7 406.7,1641.6 400.1,1641.5 409.4,1641.3 400.4,1641.2 405.6,1641.1 400.6,1640.9 410.4,1640.8 402.8,1640.7 409.1,1640.6 400,1640.4 406.8,1640.2 400.1,1640.2 399.6,1640 405.7,1639.9 410.3,1639.8 407,1639.7 408.9,1639.5 408.1,1639.4 405.1,1639.3 400.2,1639.2 405.2,1639 401.4,1639 405.2,1638.8 403.3,1638.6 404.9,1638.6 401.5,1638.5 407.2,1638.3 404,1638.2 404.7,1638.1 400.2,1637.9 404.8,1637.8 405.5,1637.7 410.2,1637.6 405.6,1637.4 400.8,1637.4 402.7,1637.2 403.1,1637 407.2,1637 409.8,1636.8 410.2,1636.6 409.9,1636.5 409.7,1636.4 408.9,1636.4 409.8,1636.2 399.5,1636 404.8,1635.9 405.9,1635.9 407,1635.7 406.2,1635.6 406.2,1635.5 409.8,1635.4 400.3,1635.2 405.1,1635 410,1635 399.7,1634.8 400.6,1634.7 409,1634.5 410,1634.5 399.6,1634.4 399.7,1634.2 408.6,1634.1 407,1633.9 405.1,1633.8 405.8,1633.7 407.8,1633.6 408.3,1633.4 399.3,1633.3 400.1,1633.2 408.2,1633.1 410.2,1633 408.6,1632.9 403.9,1632.7 403.1,1632.6 403.2,1632.5 399.5,1632.4 407.9,1632.2 402.2,1632.1 405.9,1632 405.2,1631.8 403.1,1631.7 406.9,1631.6 404.4,1631.5 401.9,1631.4 409.2,1631.2 401.3,1631.1 401,1631 402.1,1630.8 404.7,1630.8 408.1,1630.5 403,1630.5 402,1630.3 406.6,1630.2 402.2,1630.2 405.2,1630 402.2,1629.9 409.1,1629.8 401.4,1629.6 401.9,1629.5 402.7,1629.4 403,1629.2 407.4,1629.1 406.9,1629 408.2,1628.9 405.3,1628.8 400.2,1628.6 407.9,1628.4 402,1628.4 401.7,1628.2 403.9,1628.1 410.4,1628 403.5,1627.8 403.3,1627.7 409.5,1627.7 410.4,1627.5 403.6,1627.4 400.8,1627.3 408.1,1627.1 408.1,1627 403.1,1626.9 408.2,1626.7 403.6,1626.6 402.5,1626.5 405.9,1626.4 407.6,1626.2 404.6,1626.2 408.5,1626 399.5,1625.9 404.9,1625.7 403.6,1625.7 400,1625.5 409.5,1625.3 400.9,1625.2 401.6,1625.1 409.1,1625 410.1,1624.9 409.7,1624.8 403.1,1624.6 409.7,1624.5 400.9,1624.4 407.3,1624.2 409.9,1624.1 401.5,1624 400.8,1623.8 406.9,1623.8 409.2,1623.7 407.4,1623.6 409.9,1623.4 404.4,1623.3 403.5,1623.2 400.6,1623 402.4,1622.9 409.8,1622.8 400.1,1622.6 401.4,1622.5 403.2,1622.4 399.9,1622.2 402.7,1622.2 401.3,1622.1 400.7,1621.9 405.2,1621.8 405.4,1621.7 405.7,1621.5 407.8,1621.4 405.2,1621.3 409.9,1621.1 400.2,1621.1 401.8,1620.9 400.2,1620.8 402.8,1620.7 407.8,1620.6 409.7,1620.4 404.9,1620.2 401.1,1620.1 403,1620.1 405.7,1619.9 402.6,1619.8 408.2,1619.7 410.2,1619.5 404.4,1619.5 406.1,1619.3 408.8,1619.1 404.5,1619 401.4,1619 409.9,1618.8 410.3,1618.6 399.6,1618.6 407.8,1618.5 403.8,1618.2 399.9,1618.2 401.1,1618.1 401.2,1617.9 407.5,1617.8 401.7,1617.7 399.5,1617.6 401.8,1617.4 408.3,1617.3 404.9,1617.1 406.6,1617 404.5,1616.8 401.3,1616.5 399.5,1616.3 402.7,1616 399.8,1615.7 402.2,1615.6 406.2,1615.3 403.4,1614.9 404.6,1614.8 406.3,1614.7 402.9,1614.4 403.3,1614.1 409.2,1614 405.8,1613.7 404,1613.3 405.3,1613.1 404.5,1612.9 403,1612.6 409.5,1612.4 401.9,1612.2 409.8,1611.9 408.9,1611.7 409.2,1611.4 401.1,1611.3 405,1611 410.3,1610.8 402.5,1610.5 401.2,1610.3 407.4,1610.1 401.9,1609.9 405.8,1609.5 401.1,1609.3 409.9,1609.1 402.5,1608.7 400.4,1608.5 407,1608.2 403.2,1608.2 405.6,1607.9 404.9,1607.7 409.6,1607.3 405.1,1607.2 403.5,1606.9 399.3,1606.8 404.9,1606.5 402.3,1606.2 405.7,1605.9 406.4,1605.6 404.5,1605.4 400.3,1605.2 404.9,1605 404.7,1604.8 406.5,1604.4 410.2,1604.3 402.4,1603.9 404.3,1603.7 400.2,1603.4 408.3,1603.4 401.9,1603.1 408.6,1602.8 408.2,1602.6 402.2,1602.2 409.4,1602.1 404.9,1601.7 404.1,1601.5 405.5,1601.4 409.9,1601.1 404.8,1600.9 404.7,1600.7 402.6,1600.4 408.7,1600.1 404.9,1600 403.1,1599.6 401.5,1599.4 401.7,1599.1 408.6,1598.9 408.3,1598.6 410.3,1598.4 409.6,1598.1 407,1597.8 408.2,1597.7 407.3,1597.5 408.4,1597.2 408.3,1596.8 401.3,1596.7 408.4,1596.4 402.7,1596.1 402,1596 409.6,1595.7 399.6,1595.4 405,1595.2 403.1,1595 408.2,1594.8 406.1,1594.4 409.5,1594.2 409.7,1593.8 406.5,1593.6 400,1593.5 406.8,1593.1 400.5,1592.8 410.3,1592.7 409.1,1592.4 402.8,1592.1 401.4,1591.8 407.1,1591.6 407.8,1591.5 410.3,1591.1 406.3,1591 400.7,1590.7 407.4,1590.5 400,1590.3 409,1590 407.9,1589.7 408.1,1589.4 409.1,1589.2 405.7,1589 409.9,1588.7 406.5,1588.4 404.8,1588.3 403.6,1587.9 403.3,1587.7 399.6,1587.5 401.1,1587.2 408.2,1586.9 401.9,1586.7 406.6,1586.4 408,1586.1 407.1,1585.9 405.1,1585.6 402.8,1585.5 402.4,1585.2 401.4,1584.9 406.6,1584.7 407,1584.4 409.9,1584.2 403,1583.8 409.7,1583.6 409.5,1583.3 402.6,1583.1 410,1582.9 406.2,1582.7 410.1,1582.3 408,1581.9 403,1581.8 402.4,1581.6 405.2,1581.2 404.8,1581.1 399.7,1580.8 409,1580.5 405.3,1580.1 404.6,1580 407.6,1579.7 402.1,1579.3 401.5,1579.1 405.8,1578.9 402,1578.6 403,1578.4 400.1,1578.2 399.9,1577.9 403.3,1577.5 405.2,1577.2 409.9,1577.1 406.5,1576.7 403.9,1576.7 403.9,1576.4 401.9,1576 404.6,1575.8 410,1575.5 400.7,1575.1 404.1,1575 407,1574.8 407.8,1574.5 405.5,1574.1 406.5,1573.9 409.8,1573.7 409.4,1573.3 402.1,1573.1 405.4,1572.9 410.5,1572.5 405.2,1572.2 401.4,1572 407.9,1571.7 399.9,1571.4 401,1571.1 405.5,1570.7 402.4,1570.6 407.4,1570.4 407.4,1569.9 402.9,1569.8 407.9,1569.4 406.6,1569.1 407.2,1568.9 404.4,1568.5 404.1,1568.3 400.5,1568.2 404.6,1567.8 410,1567.5 409.3,1567.2 399.9,1567 400.1,1566.7 402.3,1566.3 407.1,1566.1 404.2,1565.9 400.7,1565.6 404.1,1565.3 405.7,1565 407.6,1564.6 403.8,1564.4 406.6,1564.2 406.9,1563.9 406.2,1563.6 399.8,1563.1 407.3,1563 400.7,1562.5 399.9,1562.1 404.6,1561.9 399.5,1561.7 400.1,1561.2 403.7,1560.9 404.5,1560.8 400.5,1560.5 410,1560.1 408.8,1559.7 404.8,1559.5 405.9,1559 402.8,1558.9 410.3,1558.4 400.6,1558.2 402.7,1557.9 401.8,1557.4 409,1557 405,1556.7 403.9,1556.5 403.8,1556.2 409.2,1555.7 402.2,1555.4 408.2,1555 407.2,1554.6 404.3,1554.5 403.4,1554.1 404.2,1553.6 404.4,1553.4 402.8,1553 406.3,1552.7 403.9,1552.1 402.7,1551.6 408,1551.2 404.4,1551.1 404.6,1550.5 409.2,1550.2 404.4,1549.6 403.5,1549.3 409.4,1548.6 410.2,1548.1 408.1,1548.1 403.8,1547.3 406.8,1547.1 407.6,1546.6 402.6,1545.9 407.4,1545.1 409.9,1544.4 406.6,1544.3 406.8,1543.5 404.2,1543 406.6,1541.8 401.8,1541 407.9,1540.1 405.3,1539.1 410.3,1536.9 403.1,1534.4 407.3,1531.4" fill="none" stroke="none" marker-start="url(#mk)" marker-mid="url(#mk)" marker-end="url(#mk)"/>
<rect x="440.3" y="1743.8" width="48.4" height="18.9" fill="#7f7f7f" stroke="#3a3a3a" stroke-width="0.8"/>
<path d="M464.5 1715.9V1743.8M464.5 1762.7V1770.3" stroke="#222" stroke-width="0.9" stroke-dasharray="2.6 2" fill="none"/>
<path d="M452.3 1715.9h24.4M452.3 1770.3h24.4" stroke="#333" stroke-width="1" fill="none"/>
<path d="M440.3 1754H488.7" stroke="#000" stroke-width="2.2" fill="none"/>
<polyline points="467,1770.3 459.8,1769.6 468.6,1769.2 459.3,1769.1 461,1768.8 464.1,1768.7 468.4,1768.4 465.8,1768.2 467.3,1768.2 467.4,1768 467,1767.9 459.5,1767.8 468.1,1767.7 460.6,1767.5 460.7,1767.4 459.3,1767.3 459.2,1767.2 468.7,1767 463.2,1767 459.9,1766.9 459.4,1766.8 468.4,1766.7 465.6,1766.6 469.2,1766.4 459.3,1766.4 460.2,1766.2 462.1,1766.2 461,1766.1 460.2,1766 461.1,1765.9 466.1,1765.8 460.8,1765.7 460.8,1765.6 464.9,1765.5 463.1,1765.5 460.6,1765.4 465.3,1765.3 464.6,1765.2 463.2,1765.1 464.2,1765 459.3,1764.9 465.8,1764.8 461.1,1764.7 462.7,1764.6 459,1764.6 468.8,1764.5 465.5,1764.4 463.3,1764.3 465,1764.2 469.4,1764.1 460.4,1764.1 463.2,1764 466.8,1763.9 463.1,1763.8 466.8,1763.7 469.1,1763.6 459.4,1763.6 462.1,1763.5 462.2,1763.4 467.3,1763.3 467.7,1763.2 466.7,1763.2 469.3,1763.1 461,1763 463.3,1762.9 468.5,1762.8 467.5,1762.7 460.2,1762.6 469.9,1762.5 467.2,1762.4 468.6,1762.3 463,1762.1 465.7,1762.1 469.6,1761.8 469,1761.8 465.4,1761.6 468.9,1761.5 470.1,1761.3 468.3,1761.2 466.2,1761.1 469.7,1761 460.5,1760.9 463.4,1760.7 465.2,1760.6 460.4,1760.4 467.6,1760.3 459.6,1760.2 465.9,1760.1 462,1760 462.5,1759.8 465.7,1759.8 461,1759.5 463.9,1759.5 468.5,1759.3 470,1759.2 461.8,1759 463,1759 466.7,1758.8 461,1758.7 468.4,1758.5 461.1,1758.4 465.1,1758.2 462.7,1758.2 458.9,1758.1 458.9,1758 458.9,1757.7 462.6,1757.7 462,1757.5 470,1757.4 466,1757.2 459.6,1757.1 466.9,1757 461.5,1756.9 464.3,1756.7 467,1756.6 468.5,1756.5 469.4,1756.4 463.6,1756.2 462.5,1756.1 463.4,1756 462.4,1755.9 467.2,1755.7 464.1,1755.6 466.6,1755.5 460.6,1755.3 467.7,1755.2 469.7,1755.1 461.2,1755 465.8,1754.7 460.7,1754.6 459.3,1754.5 463.5,1754.4 461,1754.3 467.1,1754.2 465.3,1754 466.5,1753.9 469.7,1753.7 459.6,1753.6 460,1753.4 459.3,1753.3 464,1753.1 468.1,1752.9 466.6,1752.8 465,1752.7 468.5,1752.5 463.1,1752.4 460.2,1752.1 466.1,1752 459.2,1751.9 461.5,1751.8 459.2,1751.5 460.7,1751.4 459.6,1751.3 464.9,1751.1 460.3,1750.9 465.7,1750.8 468.1,1750.7 462.8,1750.5 460.2,1750.3 466.4,1750.1 467.1,1750 468.8,1749.9 465.1,1749.8 465.4,1749.6 468.6,1749.4 466.5,1749.3 469.8,1749.1 462.1,1749 467.6,1748.8 466,1748.7 464.1,1748.5 459,1748.4 464.2,1748.1 461.8,1748.1 465.6,1748 464.6,1747.8 464.6,1747.6 459.6,1747.5 460.4,1747.3 465.7,1747.1 466.5,1747 470,1746.8 467.8,1746.7 462.1,1746.5 464,1746.4 464.6,1746.2 467.9,1746 463.3,1745.9 469.2,1745.8 464.3,1745.6 463.4,1745.5 464.3,1745.3 462.9,1745.2 470.1,1745 459.4,1744.9 463.4,1744.8 459.8,1744.5 466.5,1744.5 460.6,1744.3 460.6,1744.1 463.6,1744 465.6,1743.7 467.5,1743.5 463.9,1743.4 462.2,1742.9 463,1742.7 468.8,1742.3 461.3,1742 459,1741.7 468.8,1741.6 464.3,1741.3 460.4,1740.8 460.4,1740.7 468.9,1740.4 467.3,1740.1 459.6,1739.8 466.5,1739.4 461.3,1738.9 463.9,1738.8 465.7,1738.5 459.5,1738 469.4,1737.9 462.7,1737.5 460.5,1737.2 467.6,1736.8 460.1,1736.7 459.3,1736.3 466.2,1736 464.2,1735.5 469,1735.4 467.8,1734.9 461.2,1734.8 459.4,1734.4 465.7,1733.9 464.2,1733.8 462.3,1733.5 469.2,1732.9 461.2,1732.7 466.1,1732.5 459.7,1732.2 469.2,1731.8 469.5,1731.4 465.8,1730.9 462.5,1730.6 467,1730.1 469,1729.9 467.8,1729.5 459.4,1729.3 464.5,1728.8 460.5,1728.5 465,1728.3 469.5,1727.7 468.6,1727.4 461.7,1726.9 465.1,1726.7 462.5,1726.3 460.8,1725.4 467.2,1725.2 467.4,1724.8 462.7,1724.4 463.6,1723.7 466.7,1722.9 467,1722.8 464.1,1722 460.2,1721.3 460,1720.3 460.8,1719.5 468.2,1718.7 464.5,1715.9 466.1,1715.8 463,1701.4 463,1677.3 460.9,1709.1 469.8,1688.8 465.7,1710.6 460.3,1702.3 466.8,1657.3 465.6,1711.5 465.8,1664.8 467.5,1715.3 465.7,1691 468.7,1672.7 469.8,1671.4 463.5,1702.7 466.2,1690.4 463.1,1681.5 463.5,1677.6 463,1678.8 466.1,1691.2 462.8,1709.4 462.8,1682.1" fill="none" stroke="none" marker-start="url(#mk)" marker-mid="url(#mk)" marker-end="url(#mk)"/>
<path d="M404.9 1523.8V1517.9H464.5V1650" stroke="#777" stroke-width="1.1" fill="none"/>
<g fill="#ff1a1a" transform="translate(435 1518.5)"><path d="M0 -0.6C1.1 -2.4 2.3 -5.2 1.7 -6.9C1.3 -8 -1.3 -8 -1.7 -6.9C-2.3 -5.2 -1.1 -2.4 0 -0.6Z" transform="rotate(0)"/><path d="M0 -0.6C1.1 -2.4 2.3 -5.2 1.7 -6.9C1.3 -8 -1.3 -8 -1.7 -6.9C-2.3 -5.2 -1.1 -2.4 0 -0.6Z" transform="rotate(60)"/><path d="M0 -0.6C1.1 -2.4 2.3 -5.2 1.7 -6.9C1.3 -8 -1.3 -8 -1.7 -6.9C-2.3 -5.2 -1.1 -2.4 0 -0.6Z" transform="rotate(120)"/><path d="M0 -0.6C1.1 -2.4 2.3 -5.2 1.7 -6.9C1.3 -8 -1.3 -8 -1.7 -6.9C-2.3 -5.2 -1.1 -2.4 0 -0.6Z" transform="rotate(180)"/><path d="M0 -0.6C1.1 -2.4 2.3 -5.2 1.7 -6.9C1.3 -8 -1.3 -8 -1.7 -6.9C-2.3 -5.2 -1.1 -2.4 0 -0.6Z" transform="rotate(240)"/><path d="M0 -0.6C1.1 -2.4 2.3 -5.2 1.7 -6.9C1.3 -8 -1.3 -8 -1.7 -6.9C-2.3 -5.2 -1.1 -2.4 0 -0.6Z" transform="rotate(300)"/></g>
<rect x="560" y="1610.4" width="48.4" height="38.5" fill="#ff6666" stroke="#3a3a3a" stroke-width="0.8"/>
<path d="M584.2 1559.5V1610.4M584.2 1648.9V1702.1" stroke="#222" stroke-width="0.9" stroke-dasharray="2.6 2" fill="none"/>
<path d="M572 1559.5h24.4M572 1702.1h24.4" stroke="#333" stroke-width="1" fill="none"/>
<path d="M560 1628.5H608.4" stroke="#000" stroke-width="2.2" fill="none"/>
<polyline points="582.6,1702.1 588.9,1688.7 588.3,1683.5 585,1677.6 580,1675.2 587.6,1669.9 579.6,1667.5 584.8,1663.5 579.7,1660.6 579.6,1654.6 583.2,1650.8 580.4,1649.6 589.7,1647.3 585.1,1646 588.6,1644.2 589.3,1641.5 587.1,1639.3 585.8,1639 583.9,1636.9 587.3,1634.2 586.1,1633.4 580.4,1630.5 584.5,1629.6 583.2,1627.7 584.4,1626.6 586.6,1624.9 586.3,1623.1 585,1621.7 587.4,1619.5 587.8,1619 579.6,1616.5 580.2,1614.6 579.1,1613.8 580.4,1612.5 589.3,1611 582.1,1608.6 583.5,1603 583.8,1600.2 584.9,1598.8 581.7,1593.7 587.3,1589.4 582.3,1586.5 588.1,1583.5 587.6,1576.8 578.6,1571.3 584.7,1559.5 579.6,1712" fill="none" stroke="none" marker-start="url(#mk)" marker-mid="url(#mk)" marker-end="url(#mk)"/>
<rect x="619.6" y="1753.8" width="48.4" height="13.1" fill="#7f7f7f" stroke="#3a3a3a" stroke-width="0.8"/>
<path d="M643.8 1735.1V1753.8M643.8 1766.8V1770.3" stroke="#222" stroke-width="0.9" stroke-dasharray="2.6 2" fill="none"/>
<path d="M631.6 1735.1h24.4M631.6 1770.3h24.4" stroke="#333" stroke-width="1" fill="none"/>
<path d="M619.6 1762H668" stroke="#000" stroke-width="2.2" fill="none"/>
<polyline points="640.4,1770.3 644.1,1770.1 640.7,1769.8 638.4,1769.7 641.6,1769.7 648.2,1769.6 641.5,1769.5 643.7,1769.5 644.1,1769.4 641.2,1769.3 644.2,1769.2 638.9,1769.2 642.1,1769.2 641.4,1769.1 647.3,1769.1 646.8,1769 646,1769 644.9,1768.9 647.9,1768.9 646.5,1768.8 638.8,1768.8 639.7,1768.8 646.6,1768.7 647.6,1768.7 649.3,1768.6 646.9,1768.6 640,1768.6 644.6,1768.5 645.2,1768.5 645,1768.5 639.7,1768.4 649,1768.4 643.9,1768.3 641.2,1768.3 649.2,1768.2 642.5,1768.2 639,1768.2 645.7,1768.1 641.1,1768.1 640.6,1768.1 641.6,1768 645,1768 641.8,1768 645.6,1767.9 648.3,1767.9 649.3,1767.9 648.2,1767.8 648.5,1767.8 641,1767.7 647.4,1767.7 639.2,1767.7 644.7,1767.7 639,1767.6 639.3,1767.6 648.8,1767.6 639.6,1767.5 646.2,1767.5 644.1,1767.4 638.2,1767.4 647.1,1767.4 638.9,1767.4 648.1,1767.3 647.4,1767.3 643.8,1767.2 643.2,1767.2 638.5,1767.2 646,1767.2 638.6,1767.1 644.1,1767.1 648.6,1767.1 645.8,1767 639.5,1767 646.3,1767 646.1,1766.9 641.9,1766.9 646.8,1766.9 644.7,1766.8 642.8,1766.7 644.1,1766.7 641.3,1766.6 641.4,1766.6 648.2,1766.5 642.1,1766.4 646.8,1766.4 642.3,1766.4 640.3,1766.3 638.2,1766.2 649,1766.2 646.6,1766.1 649.2,1766 644.8,1766 638.9,1765.9 640,1765.9 638.8,1765.8 645.1,1765.7 645.2,1765.7 648.9,1765.6 641.5,1765.5 640.8,1765.5 640.7,1765.4 639.8,1765.4 638.5,1765.3 643.7,1765.2 642.9,1765.2 642.3,1765.1 648.9,1765 641.7,1765 647.5,1764.9 644.2,1764.8 639.4,1764.8 638.5,1764.7 645,1764.6 648,1764.6 638.8,1764.5 646.1,1764.5 640.8,1764.4 645.9,1764.3 647.5,1764.3 646.3,1764.2 640.9,1764.1 639.9,1764.1 649,1764 648.5,1764 648.5,1763.9 644.3,1763.8 638.8,1763.8 642.3,1763.7 648.4,1763.6 639,1763.6 641.5,1763.5 638.7,1763.5 648.1,1763.4 642.2,1763.3 639.1,1763.3 642.2,1763.2 640.5,1763.2 643.1,1763.1 645.1,1763.1 645.6,1763 639.3,1762.9 644.2,1762.8 638.8,1762.8 643.1,1762.7 647.2,1762.7 641.1,1762.6 647.4,1762.6 640.9,1762.5 642.6,1762.4 647.1,1762.3 638.2,1762.3 644.4,1762.2 644.2,1762.2 646.2,1762.1 648.8,1762 646,1762 640.7,1761.8 640.4,1761.7 643.6,1761.7 641.4,1761.5 644.4,1761.4 639.2,1761.3 646,1761.1 642.9,1761 638.8,1761 639.6,1760.9 648.7,1760.8 647.7,1760.6 648.1,1760.6 642.6,1760.4 649.2,1760.3 640.1,1760.2 646.3,1760.1 648.7,1760 640.5,1759.8 638.2,1759.7 639.6,1759.6 639.1,1759.5 647.2,1759.5 645,1759.4 643.5,1759.2 639.5,1759.1 645.4,1759 639.7,1758.9 639.7,1758.7 644.9,1758.7 645.4,1758.6 647.2,1758.5 647.5,1758.4 639.7,1758.2 641.6,1758.1 639.8,1758.1 643.7,1758 638.5,1757.9 647.9,1757.7 645.8,1757.6 647.3,1757.5 643.7,1757.4 648.4,1757.2 647.6,1757.1 647.5,1757.1 647.2,1757 640.6,1756.8 642.1,1756.7 638.8,1756.6 646.8,1756.6 643.5,1756.4 649.2,1756.3 641.4,1756.2 643,1756.1 647.9,1756 649.1,1755.8 646.7,1755.8 648.1,1755.7 648.5,1755.5 641.2,1755.4 645.1,1755.3 638.9,1755.2 645.8,1755.1 648.9,1755 643.9,1754.9 639.8,1754.9 644.6,1754.7 638.9,1754.6 643.4,1754.5 639.1,1754.4 642.9,1754.3 647.4,1754.1 646.5,1754.1 647.8,1753.9 643.3,1753.8 643.1,1753.7 638.8,1753.5 647,1753.3 644.6,1753.2 642.8,1753.1 639.8,1752.8 643.3,1752.8 638.9,1752.4 639.5,1752.3 639.1,1752.1 643,1752 639.7,1751.9 647.5,1751.6 645,1751.4 647.9,1751.3 644.4,1751.2 640,1751 641.3,1750.8 647.6,1750.6 644.8,1750.4 645.4,1750.3 645.3,1750 638.7,1749.8 640.4,1749.6 643,1749.5 647.7,1749.4 648.8,1749.1 644.8,1748.9 641.1,1748.7 638.7,1748.6 644.5,1748.4 642.8,1748.2 648.6,1748.1 640.5,1747.8 640.5,1747.7 638.4,1747.4 638.5,1747.2 647.2,1747 648,1746.9 639.9,1746.6 638.4,1746.4 644.7,1746.2 641,1746 645.1,1745.9 648.4,1745.8 646.6,1745.5 641.3,1745.3 645,1745 641.4,1744.9 646.7,1744.7 641.1,1744.6 647.9,1744.2 645.8,1744 648.2,1743.7 642.1,1743.6 648.9,1743.3 644.7,1743.1 641.1,1742.8 645.4,1742.7 641.7,1742.4 639.5,1742.2 638.6,1742.1 645,1741.8 640.9,1741.5 639.3,1741.1 646.9,1740.9 639.8,1740.7 646.7,1740.3 641.3,1740.1 642.3,1739.7 648.6,1739.4 647.5,1739.1 647.5,1738.4 649.2,1738 645,1737.2 648.7,1736.7 645.2,1735.1 644.7,1676.5 641.8,1734.1 642.4,1726.4 644.6,1688.2 641,1704.3 645.4,1697.7 647.9,1717.7 646.3,1710 640.7,1729.5 638.5,1714.3 642.3,1726.9 643.1,1697 647.7,1733.1 644.3,1732.1 644,1729.7 645,1709 644.4,1705.1 645.8,1735.1 644.4,1665.2 644.4,1681.5 640.8,1719.9 639.6,1731.3 643.1,1682.5 648.1,1666.3 648.8,1730.5 641.5,1689.4 644.6,1683.3 644,1670.7 643.3,1729.2 640.2,1732.6" fill="none" stroke="none" marker-start="url(#mk)" marker-mid="url(#mk)" marker-end="url(#mk)"/>
<path d="M584.2 1553.2V1544.5H643.8V1656.9" stroke="#777" stroke-width="1.1" fill="none"/>
<g fill="#ff1a1a" transform="translate(614.3 1545.1)"><path d="M0 -0.6C1.1 -2.4 2.3 -5.2 1.7 -6.9C1.3 -8 -1.3 -8 -1.7 -6.9C-2.3 -5.2 -1.1 -2.4 0 -0.6Z" transform="rotate(0)"/><path d="M0 -0.6C1.1 -2.4 2.3 -5.2 1.7 -6.9C1.3 -8 -1.3 -8 -1.7 -6.9C-2.3 -5.2 -1.1 -2.4 0 -0.6Z" transform="rotate(60)"/><path d="M0 -0.6C1.1 -2.4 2.3 -5.2 1.7 -6.9C1.3 -8 -1.3 -8 -1.7 -6.9C-2.3 -5.2 -1.1 -2.4 0 -0.6Z" transform="rotate(120)"/><path d="M0 -0.6C1.1 -2.4 2.3 -5.2 1.7 -6.9C1.3 -8 -1.3 -8 -1.7 -6.9C-2.3 -5.2 -1.1 -2.4 0 -0.6Z" transform="rotate(180)"/><path d="M0 -0.6C1.1 -2.4 2.3 -5.2 1.7 -6.9C1.3 -8 -1.3 -8 -1.7 -6.9C-2.3 -5.2 -1.1 -2.4 0 -0.6Z" transform="rotate(240)"/><path d="M0 -0.6C1.1 -2.4 2.3 -5.2 1.7 -6.9C1.3 -8 -1.3 -8 -1.7 -6.9C-2.3 -5.2 -1.1 -2.4 0 -0.6Z" transform="rotate(300)"/></g>
<rect x="739.3" y="1617" width="48.4" height="40.2" fill="#ff6666" stroke="#3a3a3a" stroke-width="0.8"/>
<path d="M763.5 1560.1V1617M763.5 1657.2V1715" stroke="#222" stroke-width="0.9" stroke-dasharray="2.6 2" fill="none"/>
<path d="M751.3 1560.1h24.4M751.3 1715h24.4" stroke="#333" stroke-width="1" fill="none"/>
<path d="M739.3 1637.6H787.7" stroke="#000" stroke-width="2.2" fill="none"/>
<polyline points="763,1715 763.6,1710.9 759.9,1706.7 758.9,1703.9 765.1,1701.9 759.1,1700 758.3,1698.5 758.8,1696.1 764,1695.1 760.1,1693 760.8,1691.7 766.5,1690.3 762.9,1689.2 759.5,1687.8 765.5,1686.9 769,1685.5 764.9,1684 762.9,1683.4 763.9,1681.6 765.8,1680.7 767.3,1679.1 766.7,1678.4 760.7,1677.3 766.6,1676 759.1,1675.4 759.3,1674.3 763.6,1673.1 760,1671.7 764.2,1670.7 761.1,1670.2 768.5,1668.4 762.8,1667.3 767,1666.8 768.5,1665.2 763,1664.6 766.5,1663.8 763.4,1663.1 762.4,1662.2 759.3,1660.6 765.3,1659.4 768.2,1658.6 765.6,1657.4 761.4,1657 763.8,1656.4 761.9,1656 762.3,1655.5 766.6,1655.1 758,1654.5 763.3,1654.1 763.6,1653.9 759.5,1653.1 766.1,1652.7 760.7,1652.3 762.4,1651.6 760.7,1651.4 764.6,1651 762.7,1650.4 765.6,1650 762.7,1649.6 766.7,1648.8 764.1,1648.7 759.1,1648 763.4,1647.8 760.7,1647.1 761.2,1646.5 768.5,1646.4 763.3,1645.6 766.2,1645.5 759.6,1644.6 765,1644.2 759.2,1643.9 760.4,1643.4 759.3,1643 758.2,1642.6 768.1,1642.1 768.7,1641.6 762,1640.9 758,1640.8 766.1,1640.1 765.3,1639.7 758.4,1639.2 766.5,1638.6 758.7,1638.2 760.5,1637.9 766.6,1637.1 766.5,1636.8 760.5,1636.5 763.6,1635.9 766.9,1635.2 764.7,1635.1 763.8,1634.3 760,1633.9 758.7,1633.5 760,1633.1 763.8,1632.6 764.6,1632 763.1,1631.5 765,1630.9 764.2,1630.6 765.1,1629.9 762.5,1629.5 767.3,1628.9 763.9,1628.4 767.8,1628.1 768.9,1627.3 767.2,1627 766.5,1626.6 765.6,1626.2 764.1,1625.5 760.7,1625.1 759,1624.5 765.3,1624.2 760.7,1623.4 764.8,1623.2 764.1,1622.4 764.7,1622.2 762.7,1621.7 760.6,1621.1 761.3,1620.6 765.7,1620.1 767.8,1619.6 761.5,1619 761.4,1618.6 762.9,1618.4 762.7,1617.5 765,1617.5 766.4,1616.9 766.5,1615.2 767,1614.7 766,1614 768.8,1612.9 762.9,1611.6 762.9,1610.2 765.2,1610 761.4,1608.9 767.2,1608 762.6,1607 764.1,1605.7 763.7,1604.5 762,1603 758,1602.3 761,1601 763.2,1600.2 768.6,1598.8 759.4,1598 768,1597.4 768.8,1596.2 766.8,1595 761,1594.3 758.1,1592.2 767.8,1591.6 758.7,1590.7 761.2,1589.2 768.4,1587.6 765.4,1587.1 767.1,1585.4 767.2,1584.8 759.9,1583.3 763.5,1582 759,1580.2 762.1,1578.4 763.5,1577.5 767.1,1575.1 761.1,1573.4 765.4,1571 759.5,1567.7 760.8,1566.6 758.6,1560.1 764.4,1722.4 764.5,1729 765.9,1735.5 762.6,1739.8 768.4,1750.3" fill="none" stroke="none" marker-start="url(#mk)" marker-mid="url(#mk)" marker-end="url(#mk)"/>
<rect x="798.9" y="1523.6" width="48.4" height="6.5" fill="#7f7f7f" stroke="#3a3a3a" stroke-width="0.8"/>
<path d="M823.1 1519.7V1523.6M823.1 1530.1V1538.4" stroke="#222" stroke-width="0.9" stroke-dasharray="2.6 2" fill="none"/>
<path d="M810.9 1519.7h24.4M810.9 1538.4h24.4" stroke="#333" stroke-width="1" fill="none"/>
<path d="M798.9 1527.1H847.3" stroke="#000" stroke-width="2.2" fill="none"/>
<polyline points="825.9,1538.4 818.3,1536.9 822.2,1535.9 822.9,1535.7 826.9,1535.1 824.6,1534.4 819.2,1533.9 825,1533.3 820.1,1533 824.4,1532.9 822.1,1532.1 828.2,1531.9 822.5,1531.7 820.5,1531.1 821,1530.8 828.2,1530.4 821.4,1530.1 820.2,1530 823.5,1529.8 825,1529.6 828,1529.4 818.4,1529.2 821.2,1529.1 825.6,1528.9 823,1528.7 825.2,1528.6 825.1,1528.3 818.5,1528.1 818.1,1527.9 819.5,1527.7 820.9,1527.5 819.5,1527.3 820.7,1527.2 818.8,1526.9 817.8,1526.8 823.4,1526.5 826,1526.4 819.3,1526 818.6,1525.9 825.7,1525.8 818.4,1525.4 819.1,1525.4 823,1525.1 820.8,1524.9 826.3,1524.7 823.2,1524.5 823.4,1524.3 821.7,1524 817.8,1523.9 826.7,1523.5 821.9,1523.5 826.8,1523.2 818.7,1523.1 822.3,1522.8 823.5,1522.7 819.2,1522.5 818.3,1522.3 828,1522.1 828,1521.9 828.7,1521.8 823.6,1521.5 825.7,1521.4 824.2,1521.1 822.8,1520.8 819.4,1520.3 824.7,1519.7 822.5,1494 825.1,1502.7 818,1509.2 820.8,1513.6" fill="none" stroke="none" marker-start="url(#mk)" marker-mid="url(#mk)" marker-end="url(#mk)"/>
<path d="M763.5 1553.2V1480.9H823.1V1489.2" stroke="#777" stroke-width="1.1" fill="none"/>
<g fill="#ff1a1a" transform="translate(793.6 1481.5)"><path d="M0 -0.6C1.1 -2.4 2.3 -5.2 1.7 -6.9C1.3 -8 -1.3 -8 -1.7 -6.9C-2.3 -5.2 -1.1 -2.4 0 -0.6Z" transform="rotate(0)"/><path d="M0 -0.6C1.1 -2.4 2.3 -5.2 1.7 -6.9C1.3 -8 -1.3 -8 -1.7 -6.9C-2.3 -5.2 -1.1 -2.4 0 -0.6Z" transform="rotate(60)"/><path d="M0 -0.6C1.1 -2.4 2.3 -5.2 1.7 -6.9C1.3 -8 -1.3 -8 -1.7 -6.9C-2.3 -5.2 -1.1 -2.4 0 -0.6Z" transform="rotate(120)"/><path d="M0 -0.6C1.1 -2.4 2.3 -5.2 1.7 -6.9C1.3 -8 -1.3 -8 -1.7 -6.9C-2.3 -5.2 -1.1 -2.4 0 -0.6Z" transform="rotate(180)"/><path d="M0 -0.6C1.1 -2.4 2.3 -5.2 1.7 -6.9C1.3 -8 -1.3 -8 -1.7 -6.9C-2.3 -5.2 -1.1 -2.4 0 -0.6Z" transform="rotate(240)"/><path d="M0 -0.6C1.1 -2.4 2.3 -5.2 1.7 -6.9C1.3 -8 -1.3 -8 -1.7 -6.9C-2.3 -5.2 -1.1 -2.4 0 -0.6Z" transform="rotate(300)"/></g>
<rect x="918.6" y="1708.3" width="48.4" height="40.2" fill="#ff6666" stroke="#3a3a3a" stroke-width="0.8"/>
<path d="M942.8 1649.3V1708.3M942.8 1748.5V1767.9" stroke="#222" stroke-width="0.9" stroke-dasharray="2.6 2" fill="none"/>
<path d="M930.6 1649.3h24.4M930.6 1767.9h24.4" stroke="#333" stroke-width="1" fill="none"/>
<path d="M918.6 1733.3H967" stroke="#000" stroke-width="2.2" fill="none"/>
<polyline points="941,1767.9 939.4,1767.1 943.7,1766.2 937.7,1765.8 939.9,1765.3 940.2,1765 939.2,1764.6 946.5,1764.5 944.9,1764.2 947.1,1764.1 938.7,1763.7 939.3,1763.5 940.7,1763.3 942.9,1763.2 946.5,1763 946.5,1762.8 946.8,1762.6 937.4,1762.5 937.5,1762.2 941,1762 942,1762 937.3,1761.7 941.1,1761.5 938.6,1761.4 947,1761.3 939.6,1761 940.8,1760.9 939.2,1760.7 946.7,1760.6 938.5,1760.5 942.1,1760.3 939.7,1760.2 940,1760 948.3,1759.9 945.2,1759.7 945.4,1759.5 941.2,1759.4 948.1,1759.2 948,1759.1 944.3,1759 939.7,1758.7 937.7,1758.6 943.3,1758.5 942.6,1758.3 946.9,1758.2 948.4,1758.1 946.3,1758 939.9,1757.8 948.2,1757.6 944.1,1757.5 937.6,1757.5 939.5,1757.2 947.9,1757.2 946.1,1756.9 945.5,1756.8 944.6,1756.7 937.5,1756.6 947.7,1756.5 940.5,1756.3 945.8,1756.2 943.2,1756.1 942.7,1755.9 943.1,1755.7 947.5,1755.6 946.6,1755.5 941.6,1755.4 946.7,1755.2 939.2,1755.1 941.1,1755 940.8,1754.9 937.7,1754.7 941.7,1754.7 937.2,1754.5 948,1754.4 946.4,1754.1 942.6,1754.1 937.9,1754 940.1,1753.8 945.9,1753.7 940.5,1753.6 938.3,1753.5 942,1753.3 943.7,1753.1 938.6,1753 941.4,1752.9 943.4,1752.8 945.5,1752.6 941.8,1752.5 948.3,1752.4 940.1,1752.2 945.6,1752.1 938.1,1752 947.4,1751.9 943.3,1751.8 939.1,1751.6 946.3,1751.5 947.1,1751.4 938.7,1751.2 947.1,1751.2 947.9,1751 941.2,1750.8 946.1,1750.8 945.3,1750.7 943.5,1750.5 941.5,1750.4 940.7,1750.2 946.3,1750.1 946,1750 947.8,1749.8 938,1749.8 943.6,1749.6 945.1,1749.5 939.6,1749.4 937.4,1749.3 947.2,1749.2 945.9,1749 945.2,1748.9 940.9,1748.8 942.1,1748.7 946.3,1748.5 938.2,1748.4 945.3,1748.2 945.1,1748.1 942.4,1748.1 947.9,1747.9 944.3,1747.8 947.1,1747.6 939.4,1747.5 941.8,1747.4 940.5,1747.3 942.8,1747.1 945.6,1747 948.3,1746.9 947.4,1746.7 946.8,1746.6 948.1,1746.5 945.4,1746.4 945.5,1746.2 938.2,1746.1 941.8,1746 942.7,1745.9 938.4,1745.7 947.3,1745.6 941.4,1745.5 939.9,1745.3 938.1,1745.2 943.2,1745.1 941,1744.9 947.8,1744.8 944.3,1744.7 942,1744.6 939,1744.4 937.7,1744.3 944.9,1744.1 944.1,1744 942.7,1743.9 942.9,1743.7 941.8,1743.6 947.4,1743.6 937.8,1743.4 939.8,1743.3 946.1,1743.2 940.7,1743.1 940.9,1742.9 942,1742.7 940.5,1742.7 945.7,1742.5 938.3,1742.3 943.4,1742.3 945.2,1742.1 941,1742 945.4,1741.9 941.2,1741.8 944.2,1741.6 938.3,1741.5 940.8,1741.4 943.5,1741.2 944,1741.1 942.4,1740.9 937.6,1740.9 943.2,1740.7 946.9,1740.6 940.2,1740.5 939.5,1740.3 944.2,1740.3 939.8,1740 938.3,1740 938,1739.8 944.2,1739.8 947.1,1739.6 945.8,1739.5 943.8,1739.3 947,1739.1 946.7,1739 940.2,1738.9 941.5,1738.9 948.1,1738.6 947.8,1738.6 944.4,1738.4 944.3,1738.3 941,1738.2 938.2,1738.1 940.9,1738 939.8,1737.8 944.3,1737.7 944.5,1737.6 944.3,1737.3 947.4,1737.3 937.2,1737.1 939.5,1737.1 938.3,1736.9 941.3,1736.7 947.4,1736.7 942.4,1736.5 946.2,1736.4 939.2,1736.3 941.2,1736.1 946.1,1736 940.5,1735.8 945.4,1735.8 943.9,1735.6 944.5,1735.4 937.5,1735.4 941.2,1735.2 948.2,1735.1 941.4,1734.9 940.3,1734.8 948.4,1734.8 943.8,1734.6 945,1734.5 942.6,1734.3 944.2,1734.3 941.6,1734.1 940.3,1734 940.5,1733.8 939.7,1733.7 945,1733.6 938.2,1733.5 938.5,1733.3 942.9,1733.2 948.3,1732.8 946,1732.7 944.7,1732.5 945.5,1732.3 939.5,1732 942.9,1731.9 937.4,1731.6 943,1731.5 937.6,1731.2 938.5,1731.1 938.6,1730.8 941.1,1730.5 942.5,1730.5 939.6,1730.2 938.1,1730 938.6,1729.7 947.8,1729.6 948.2,1729.4 947.4,1729.1 938.7,1729 939.5,1728.8 947,1728.5 937.4,1728.2 938.9,1728 944.5,1727.8 948,1727.7 947.6,1727.5 946.7,1727.2 940.8,1727 945.4,1726.8 947.7,1726.6 947.3,1726.5 948.1,1726.3 945.7,1726.1 946,1725.9 945.1,1725.6 941.9,1725.4 943.6,1725.1 947.6,1724.8 943.6,1724.8 937.5,1724.4 942.2,1724.3 947,1724.2 945.1,1723.9 942.6,1723.7 947.7,1723.5 945.7,1723.4 939.7,1723.1 945.1,1722.9 946.9,1722.6 937.3,1722.4 947.7,1722.3 942,1721.9 946.7,1721.7 937.3,1721.6 940.8,1721.3 940.6,1721.2 939.6,1720.9 944.6,1720.7 946.1,1720.6 944.5,1720.3 947.4,1720.2 938.5,1720 940.4,1719.7 941.7,1719.6 946.1,1719.2 945.5,1719.1 948.3,1718.9 947,1718.6 943.1,1718.4 945.5,1718.2 946.4,1718 943,1717.8 944.8,1717.6 946.8,1717.4 946.5,1717.1 939,1717 937.5,1716.7 945.1,1716.6 946.3,1716.3 939.3,1716.1 946.7,1716 945.7,1715.8 939,1715.5 938.9,1715.3 944.6,1715.1 944.2,1714.9 939,1714.8 947.4,1714.5 939.6,1714.2 946.5,1714.1 947.8,1713.8 938.6,1713.6 945,1713.5 943.4,1713.2 947.5,1712.9 942.2,1712.9 941.8,1712.6 939.8,1712.3 946.7,1712.1 940.8,1712 947.4,1711.7 937.6,1711.4 947.2,1711.2 937.4,1711.1 945.3,1710.8 947.8,1710.7 940.8,1710.4 943.8,1710.2 941.8,1710.2 937.9,1709.9 946.6,1709.7 942.7,1709.4 946.2,1709.1 937.6,1709.1 939,1708.8 939.8,1708.5 946.3,1708.3 937.5,1708 937.5,1707.5 941.4,1707.1 941.5,1707.1 946.7,1706.4 946.8,1706.2 939.9,1705.7 945.5,1705.3 941.2,1705.1 945.8,1704.7 944.6,1704.1 938,1703.8 942.5,1703.3 941.9,1703.3 942.3,1702.7 943.4,1702.3 944.9,1701.8 941.7,1701.5 943,1701.3 946.5,1701 944.8,1700.6 939.4,1700.1 938.7,1699.6 940.2,1699.3 947.9,1699 941.5,1698.7 947,1698 948,1697.6 945,1697.5 941.3,1696.9 945.5,1696.4 942.8,1696.2 947.9,1695.8 942.8,1695.3 944.3,1695.2 944.9,1694.5 944.3,1694.1 939.2,1693.7 943.6,1693.5 942,1693 944.8,1692.5 945.9,1692.4 939.5,1692 941.3,1691.4 940.1,1690.9 948,1690.8 942.7,1690.4 942.2,1689.9 948,1689.4 946,1689 946.8,1688.6 942.8,1688.4 938.6,1688 941.4,1687.4 938.1,1687 941.7,1686.8 942.3,1686.4 942.6,1685.9 948.2,1685.5 943.2,1685.1 939.1,1684.7 939.2,1684.4 944.8,1683.7 943,1683.2 941.8,1682.9 942.7,1682.4 941.8,1682.3 944.8,1681.7 943.8,1681.4 937.7,1680.7 942.8,1680.4 940,1680 943.7,1679.4 942.4,1679 945.7,1678.9 948,1678.3 945.5,1678.1 944.1,1677.4 942.9,1677.1 938.5,1676.5 945.4,1676.2 939.4,1675.9 941.5,1675.1 943.7,1675 940.2,1674.4 946.9,1673.9 943.3,1673.6 948.1,1672.8 937.4,1672.4 942.4,1672.2 940.8,1671.5 943.6,1671.3 944.5,1670.6 943.8,1670.3 947.7,1669.7 942.1,1669.2 941.3,1668.6 945.6,1668.1 943.4,1667.4 940.2,1667.2 947.5,1666.6 939.7,1666.2 938,1665.3 943.2,1665 947.4,1664.5 946.8,1663.9 946.3,1663.2 944,1662.3 942.9,1661.9 940.5,1661 939,1660.5 942.2,1659.6 946.5,1659.1 943.4,1658.1 948.2,1656.8 946.2,1656.4 943.3,1654.7 943.8,1653.3 941.9,1649.3 947.4,1647.4 946.5,1608.1 939.2,1629.8 947.3,1640.8 944.8,1606.5 941.2,1627 945.5,1640.6 941.9,1635.1 945,1649.3 942.9,1648.6 944.3,1649 947.5,1589.7 947.2,1597.7 942.6,1625.3 941.5,1591.7 945.2,1625.7 944.7,1614.9 938.3,1647.6 942.9,1632.5 940.3,1620.5 944.5,1634.1 939.1,1617.2 940.5,1637.9 940,1617.1 940.3,1644.2 943.5,1629.1 946.9,1633 944.4,1626.6 944.4,1648.7 945.7,1642.8 941.6,1612.2 942,1645.7 944.5,1629.9 939.5,1586.4 945.6,1620.6 947.5,1610.6 947.1,1607.5 937.9,1589 947.5,1635.4 939.7,1634.9 938.7,1484.4" fill="none" stroke="none" marker-start="url(#mk)" marker-mid="url(#mk)" marker-end="url(#mk)"/>
<rect x="978.2" y="1749.5" width="48.4" height="12.8" fill="#7f7f7f" stroke="#3a3a3a" stroke-width="0.8"/>
<path d="M1002.4 1730.3V1749.5M1002.4 1762.3V1770.3" stroke="#222" stroke-width="0.9" stroke-dasharray="2.6 2" fill="none"/>
<path d="M990.2 1730.3h24.4M990.2 1770.3h24.4" stroke="#333" stroke-width="1" fill="none"/>
<path d="M978.2 1755.8H1026.6" stroke="#000" stroke-width="2.2" fill="none"/>
<polyline points="1000.4,1770.3 999.8,1769.6 1003,1769.3 1000.1,1768.8 1004.9,1768.6 1000.2,1768.3 1007.1,1768.1 997.3,1767.9 997.4,1767.7 1006.7,1767.6 1004.5,1767.4 999.8,1767.2 1004,1767.1 1000.8,1766.9 1002.5,1766.9 999.9,1766.7 1002.8,1766.5 1004.1,1766.4 1006.3,1766.3 999.7,1766.1 1003.2,1766 1003.2,1765.9 1006.6,1765.7 1002.2,1765.5 1006.5,1765.5 1007.2,1765.4 1001.4,1765.2 1001.3,1765.1 1007.7,1765 1003.3,1764.9 1002.7,1764.7 1005.5,1764.6 1003.6,1764.5 1002.6,1764.4 1004.2,1764.2 999.7,1764.2 1001,1764 996.9,1763.9 1004.9,1763.8 1006,1763.7 1005,1763.5 1007.7,1763.4 1005.3,1763.3 998,1763.3 1000.4,1763.1 1007.1,1762.9 998,1762.9 1006.6,1762.8 1005.7,1762.7 998.5,1762.5 999.1,1762.4 1005,1762.3 1004.1,1762.2 997.1,1762.1 1002.7,1761.9 998.9,1761.8 1006.4,1761.7 1002.8,1761.5 996.9,1761.4 1001.2,1761.2 996.9,1761.2 1006.9,1761.1 1006.7,1760.8 1004.8,1760.8 996.8,1760.7 1007.3,1760.5 999.8,1760.4 1004.1,1760.3 1005.4,1760.1 1003.1,1760 998.1,1759.9 999.6,1759.7 1005,1759.7 998.2,1759.5 1001,1759.4 1007.2,1759.2 1001.4,1759.1 998.5,1758.9 1004.1,1758.8 1000.7,1758.8 1005.6,1758.6 1000.9,1758.4 1006.1,1758.3 1006,1758.1 998.8,1758.1 1002.9,1757.9 1001.8,1757.9 998.2,1757.7 1007,1757.5 1000.6,1757.4 1003.7,1757.3 997.5,1757.1 1007.4,1757 1007.8,1756.9 1004.5,1756.8 998.3,1756.7 1004.2,1756.6 1002.1,1756.4 1002.1,1756.2 999.2,1756.1 998.5,1756.1 1006.3,1755.9 1003.6,1755.8 1005.2,1755.6 1005.1,1755.5 1001.3,1755.4 1003,1755.3 1000.2,1755.2 1004.1,1755 1001.6,1754.9 1005.6,1754.8 1000.1,1754.7 1001.1,1754.6 997.7,1754.5 997.2,1754.3 999.2,1754.2 997,1754.1 1001.6,1753.9 1001,1753.8 1006.7,1753.7 997.3,1753.6 1007.8,1753.5 997.9,1753.4 1006.1,1753.2 1000.8,1753.2 999.6,1753 1003.6,1752.8 1000.8,1752.7 997,1752.6 998.3,1752.5 1004.4,1752.4 1004.9,1752.3 1007.9,1752.2 999.6,1752 1005.4,1751.9 1000.6,1751.8 1002.6,1751.6 999.9,1751.6 1001.4,1751.4 1007,1751.3 999.6,1751.2 1001.6,1751 1007,1750.9 1001.9,1750.7 1005.9,1750.7 1002.8,1750.5 1000.7,1750.4 1004.9,1750.3 1004.1,1750.2 1001.1,1750 1008,1750 997.8,1749.8 1006.3,1749.7 1004.9,1749.6 1004.8,1749.3 1002.1,1749 1005.2,1748.9 997.3,1748.5 1004.3,1748.2 1006.5,1748.1 1001.4,1747.8 1005.1,1747.4 1004.6,1747.1 1002.4,1746.9 1005.4,1746.6 1002.2,1746.4 998.1,1746 1002.7,1745.7 1005.2,1745.5 998.6,1745.1 1002,1744.9 1006.1,1744.5 996.9,1744.3 1006.5,1744.1 1000.7,1743.8 1000.9,1743.5 1004.6,1743 1003.2,1742.8 1000,1742.7 998.5,1742.3 1001.5,1742 1006.8,1741.6 1007.9,1741.4 1004.8,1740.9 1004.6,1740.7 1004.5,1740.3 1007,1740.2 998.6,1739.6 998.4,1739.4 1006.2,1739.1 997,1738.7 1002.7,1738.2 1001.3,1738 1007.1,1737.6 1003.8,1737.3 999.3,1736.8 997.5,1736.5 1002.1,1736 1003,1735.6 1002,1735.2 1003.3,1734.5 997.5,1734.1 1000.8,1732.9 1006.1,1732.5 1000,1730.3 998.9,1724.6 998.8,1726.8" fill="none" stroke="none" marker-start="url(#mk)" marker-mid="url(#mk)" marker-end="url(#mk)"/>
<rect x="1097.9" y="1649.3" width="48.4" height="45.5" fill="#ff6666" stroke="#3a3a3a" stroke-width="0.8"/>
<path d="M1122.1 1586.7V1649.3M1122.1 1694.9V1759.6" stroke="#222" stroke-width="0.9" stroke-dasharray="2.6 2" fill="none"/>
<path d="M1109.9 1586.7h24.4M1109.9 1759.6h24.4" stroke="#333" stroke-width="1" fill="none"/>
<path d="M1097.9 1670.7H1146.3" stroke="#000" stroke-width="2.2" fill="none"/>
<polyline points="1118.6,1759.6 1125.3,1754.8 1117.1,1753.7 1118.5,1752.2 1124.3,1750.9 1117.4,1749.2 1125.9,1748.2 1126.5,1747.2 1119,1746.4 1124.4,1745.7 1123.8,1745.4 1127.5,1744 1122,1743.8 1120.6,1742.7 1126.3,1742.2 1119.5,1741.7 1126.7,1740.7 1120.6,1740.3 1121.1,1739.2 1125.9,1739 1125,1738.1 1118.6,1737.6 1123.9,1737.2 1127.6,1736.5 1121,1735.9 1122.7,1735 1123.8,1734.4 1124.6,1733.8 1120.9,1733.6 1120.8,1733 1118.5,1732.4 1123.5,1731.8 1120.2,1731.3 1125.3,1730.5 1117,1730.4 1125,1729.5 1118.3,1729.2 1126.2,1728.6 1125.7,1728 1120.5,1727.4 1117.6,1726.6 1118.9,1726.2 1118.8,1725.8 1127.5,1725 1125.5,1724.9 1116.8,1724.4 1116.6,1723.6 1122.8,1723 1121.6,1722.6 1122.7,1722.2 1125.9,1721.5 1125.9,1721.2 1118,1720.4 1127.3,1720 1121.6,1719.5 1121.8,1719.1 1118.2,1718.4 1119.2,1718.1 1118.6,1717.4 1119.6,1717.1 1122.6,1716.4 1119.4,1716.2 1119.5,1715.6 1117.7,1715.1 1117.3,1714.6 1126.7,1714 1121.4,1713.5 1121.6,1713.3 1118,1712.6 1127.5,1712.2 1116.6,1711.7 1125.3,1711.4 1117,1710.5 1119.7,1710 1121.9,1709.6 1121.6,1709.2 1124.4,1709 1122.9,1708.4 1124.4,1707.9 1117.2,1707.5 1119.8,1706.9 1119.6,1706.4 1121.9,1705.9 1121.2,1705.6 1117.7,1705.1 1117.9,1704.2 1117.2,1703.9 1117.1,1703.6 1123.7,1703 1127.3,1702.6 1123.1,1702.1 1118.7,1701.7 1123.3,1701 1122,1700.4 1119.7,1700.1 1125.5,1699.5 1119.4,1699.1 1119.9,1698.7 1117,1698.3 1119.2,1697.7 1126.8,1697.4 1121.9,1697 1124.7,1696.4 1122,1695.8 1119.5,1695.4 1120.5,1695.2 1122.2,1694.6 1120,1694.6 1122.3,1694.2 1116.8,1694.1 1120.8,1693.8 1117.8,1693.6 1121.9,1693.3 1122.4,1693 1126.7,1692.8 1126.3,1692.6 1126.5,1692.5 1121.5,1692.3 1119.8,1692 1126,1691.8 1117.8,1691.6 1120.8,1691.3 1117.2,1691.1 1125.6,1690.7 1124.8,1690.6 1126.9,1690.3 1118.6,1690 1125.9,1690 1124.3,1689.6 1122.6,1689.5 1121.5,1689.2 1125.5,1688.9 1121.8,1688.7 1127.1,1688.6 1126.9,1688.2 1120.6,1688 1122.5,1687.8 1121.3,1687.6 1126.6,1687.3 1126.1,1687 1121,1686.8 1120.6,1686.6 1120.1,1686.4 1123.9,1686.2 1124,1685.9 1123.5,1685.8 1122.3,1685.6 1124,1685.2 1116.6,1685.1 1121.9,1685 1124.3,1684.6 1124.7,1684.5 1125.6,1684.2 1119,1683.8 1126.9,1683.8 1127.4,1683.4 1123.4,1683.3 1125.7,1682.9 1118.7,1682.8 1118.6,1682.5 1118.9,1682.3 1122.5,1682.1 1126.5,1681.9 1120.4,1681.6 1127,1681.5 1125.8,1681.2 1117,1680.9 1116.8,1680.8 1127.7,1680.5 1122.1,1680.4 1125.2,1680 1126.1,1679.9 1119.9,1679.6 1116.7,1679.2 1126.2,1679.1 1126.9,1678.9 1121,1678.8 1123.9,1678.5 1116.6,1678.3 1127,1678 1123.3,1677.8 1127.5,1677.6 1124.2,1677.4 1120.5,1677 1118.5,1676.8 1122.3,1676.7 1126.2,1676.4 1122.5,1676.2 1122.5,1675.9 1119,1675.7 1118.1,1675.6 1119.2,1675.3 1119.9,1675 1121.8,1674.8 1127.1,1674.5 1119.5,1674.4 1119.1,1674.2 1124.8,1674 1127,1673.6 1119.1,1673.4 1119.8,1673.3 1121.1,1673 1117.2,1672.7 1117.5,1672.6 1122.7,1672.2 1119.3,1672.1 1119.1,1671.8 1125.5,1671.6 1121.9,1671.4 1122.8,1671 1123.8,1670.9 1124.8,1670.7 1126.8,1670.4 1127.4,1670.4 1117.8,1670 1124.8,1669.8 1116.8,1669.6 1117.8,1669.5 1119.4,1669.3 1118,1669 1118.2,1668.8 1119.1,1668.7 1125.6,1668.4 1125.3,1668.2 1122.1,1668.1 1122.7,1667.8 1124.9,1667.7 1123.1,1667.5 1117.4,1667.3 1121.6,1667.1 1118.8,1666.8 1121.8,1666.7 1127.4,1666.3 1118.7,1666.3 1120.1,1666 1123,1665.9 1123.9,1665.5 1119.9,1665.4 1120.9,1665.2 1122.1,1665 1126.9,1664.8 1117.1,1664.6 1126.5,1664.5 1122.7,1664.2 1126.8,1664 1120.9,1663.8 1123.8,1663.5 1116.8,1663.4 1119,1663.2 1123.8,1663.1 1120.2,1662.8 1122.3,1662.6 1127.5,1662.4 1122.8,1662.1 1124,1661.9 1122.8,1661.8 1119.3,1661.5 1127.5,1661.4 1120.8,1661.1 1116.8,1660.9 1121.3,1660.8 1121.1,1660.6 1118.8,1660.3 1121.3,1660.2 1117.3,1660.1 1127,1659.8 1122.3,1659.6 1119.7,1659.3 1122.6,1659.1 1123.1,1659 1120.9,1658.8 1125.6,1658.6 1121.6,1658.4 1126.8,1658.2 1125.1,1658 1124.3,1657.7 1118.3,1657.6 1124.4,1657.4 1127.5,1657.2 1125.6,1656.9 1117,1656.8 1119.7,1656.5 1116.5,1656.3 1123.9,1656.1 1126.4,1655.9 1124.2,1655.7 1123.9,1655.6 1122.6,1655.3 1124.7,1655.2 1122.6,1655 1125.4,1654.8 1118.2,1654.5 1121.8,1654.3 1123.5,1654.2 1117.3,1654 1122.8,1653.6 1126.8,1653.5 1117.5,1653.3 1124.7,1653.2 1124.6,1652.8 1126.5,1652.7 1127.3,1652.5 1123.6,1652.4 1123.2,1652.1 1121.8,1652 1121.4,1651.8 1123.2,1651.5 1120.3,1651.4 1125.4,1651.2 1122.6,1650.9 1121.4,1650.6 1122.3,1650.6 1124.4,1650.3 1125.9,1650.1 1125.6,1650 1124.4,1649.7 1119.2,1649.6 1116.5,1649.3 1117.9,1648.9 1117.4,1648.1 1122.2,1647.9 1117.4,1647.5 1121.8,1647 1125,1646.6 1121.4,1646.2 1126.3,1645.7 1120.5,1645 1121.9,1644.7 1119.5,1644.3 1118,1644 1123,1643.2 1117.9,1642.9 1118.2,1642.5 1119.7,1641.8 1124.7,1641.2 1127.5,1641 1118.9,1640.7 1119.2,1639.9 1127.4,1639.5 1123,1639.4 1125.4,1638.8 1127.7,1638.1 1123.9,1637.8 1119.3,1637.4 1127.5,1636.6 1126.5,1636.5 1116.5,1636 1127.3,1635.3 1123.8,1634.7 1119.1,1634.4 1121.8,1634.2 1119.9,1633.8 1125.2,1633.2 1121,1632.5 1117.5,1631.9 1126.5,1631.8 1120.2,1631.1 1118.4,1630.6 1124.3,1630.4 1118,1629.5 1123.3,1629.3 1121.5,1628.8 1117.9,1628.1 1127.2,1627.8 1124.3,1627.3 1117.1,1627 1126.6,1626.3 1123.7,1626 1125.7,1625.2 1125.1,1624.7 1118.4,1624.3 1120,1623.8 1118.4,1623.2 1125.6,1622.7 1127.1,1622.3 1122.9,1622 1124,1621.6 1127.4,1620.6 1122.3,1620.6 1121.4,1620.1 1119.6,1619.3 1127.5,1618.6 1117.9,1618.4 1118.6,1618 1126,1617.6 1116.8,1617 1118.7,1616.4 1122.4,1615.8 1119.2,1615.4 1120.8,1614.5 1116.8,1613.9 1124,1613.4 1117.3,1613.2 1119.7,1612.4 1117.6,1612.2 1124.3,1611.4 1118.9,1610.9 1122.7,1610.4 1116.9,1609.6 1122.8,1609.3 1120.3,1608.4 1126.7,1607.8 1118.7,1607.3 1119.8,1607 1126.2,1606.4 1117.2,1605.3 1122,1604.6 1121.9,1604.4 1119.8,1603.5 1118.4,1602.7 1122.1,1601.9 1116.8,1601.7 1116.6,1600.9 1119.7,1600.3 1120.7,1599 1119.4,1598.4 1124.5,1597.2 1121.2,1596.7 1123.3,1595.1 1123.1,1594.3 1124.5,1592.6 1126.9,1590.3 1122.8,1586.7 1124.3,1569.3 1122.7,1576.7 1117.4,1770.3" fill="none" stroke="none" marker-start="url(#mk)" marker-mid="url(#mk)" marker-end="url(#mk)"/>
<rect x="1157.5" y="1751.3" width="48.4" height="11.8" fill="#7f7f7f" stroke="#3a3a3a" stroke-width="0.8"/>
<path d="M1181.7 1735.1V1751.3M1181.7 1763V1769.6" stroke="#222" stroke-width="0.9" stroke-dasharray="2.6 2" fill="none"/>
<path d="M1169.5 1735.1h24.4M1169.5 1769.6h24.4" stroke="#333" stroke-width="1" fill="none"/>
<path d="M1157.5 1757.2H1205.9" stroke="#000" stroke-width="2.2" fill="none"/>
<polyline points="1186.9,1769.6 1186.7,1768.6 1177.1,1768.3 1176.7,1767.5 1176.7,1767.2 1183.7,1766.7 1181.6,1766.6 1183.1,1766.3 1179.7,1765.9 1182.7,1765.6 1177.2,1765.4 1178.4,1765.2 1184.3,1765 1178.7,1764.7 1177.4,1764.4 1183.4,1764.3 1187.1,1764 1186.6,1763.8 1186,1763.6 1184.1,1763.4 1176.2,1763.2 1177.8,1763 1182.6,1762.5 1182.1,1762.5 1185.5,1762.1 1176.4,1761.9 1183.1,1761.4 1176.9,1761.2 1184.6,1761 1177.1,1760.8 1181.6,1760.4 1184.7,1760.1 1187.1,1759.8 1185,1759.5 1184.9,1759.3 1179.4,1759.2 1183.3,1758.7 1182.2,1758.4 1181.6,1758.3 1182.8,1758 1181.1,1757.5 1180.3,1757.3 1184.6,1757 1183.3,1756.7 1187,1756.6 1186.5,1756.1 1185.1,1755.9 1177.3,1755.8 1181.7,1755.3 1181.7,1755 1184.9,1754.7 1186.3,1754.4 1178.3,1754.4 1176.2,1754.1 1185.8,1753.6 1187,1753.5 1179.9,1753.2 1182.8,1752.7 1180.4,1752.5 1180.4,1752.3 1183.2,1752 1183.8,1751.6 1186.2,1751.3 1180.2,1750.9 1181.6,1750.5 1181.1,1750.1 1187.1,1749.6 1181.9,1748.8 1186.4,1748.1 1186.9,1747.9 1176.4,1747 1184.7,1746.5 1177.4,1745.9 1181.7,1745.3 1183.2,1744.7 1177,1744.3 1182.6,1743.3 1183.8,1742.5 1180,1741.5 1182.1,1740.6 1180.5,1739.9 1177.8,1739.4 1179,1736.9 1186.6,1735.1 1183.2,1712 1182.2,1718.1 1185.1,1724.6 1185.5,1729" fill="none" stroke="none" marker-start="url(#mk)" marker-mid="url(#mk)" marker-end="url(#mk)"/>
<path d="M1122.1 1561.8V1554.9H1181.7V1706.4" stroke="#777" stroke-width="1.1" fill="none"/>
<g fill="#ff1a1a" transform="translate(1152.2 1555.5)"><path d="M0 -0.6C1.1 -2.4 2.3 -5.2 1.7 -6.9C1.3 -8 -1.3 -8 -1.7 -6.9C-2.3 -5.2 -1.1 -2.4 0 -0.6Z" transform="rotate(0)"/><path d="M0 -0.6C1.1 -2.4 2.3 -5.2 1.7 -6.9C1.3 -8 -1.3 -8 -1.7 -6.9C-2.3 -5.2 -1.1 -2.4 0 -0.6Z" transform="rotate(60)"/><path d="M0 -0.6C1.1 -2.4 2.3 -5.2 1.7 -6.9C1.3 -8 -1.3 -8 -1.7 -6.9C-2.3 -5.2 -1.1 -2.4 0 -0.6Z" transform="rotate(120)"/><path d="M0 -0.6C1.1 -2.4 2.3 -5.2 1.7 -6.9C1.3 -8 -1.3 -8 -1.7 -6.9C-2.3 -5.2 -1.1 -2.4 0 -0.6Z" transform="rotate(180)"/><path d="M0 -0.6C1.1 -2.4 2.3 -5.2 1.7 -6.9C1.3 -8 -1.3 -8 -1.7 -6.9C-2.3 -5.2 -1.1 -2.4 0 -0.6Z" transform="rotate(240)"/><path d="M0 -0.6C1.1 -2.4 2.3 -5.2 1.7 -6.9C1.3 -8 -1.3 -8 -1.7 -6.9C-2.3 -5.2 -1.1 -2.4 0 -0.6Z" transform="rotate(300)"/></g>
<rect x="1277.2" y="1629.3" width="48.4" height="61.3" fill="#ff6666" stroke="#3a3a3a" stroke-width="0.8"/>
<path d="M1301.4 1544.9V1629.3M1301.4 1690.7V1764.4" stroke="#222" stroke-width="0.9" stroke-dasharray="2.6 2" fill="none"/>
<path d="M1289.2 1544.9h24.4M1289.2 1764.4h24.4" stroke="#333" stroke-width="1" fill="none"/>
<path d="M1277.2 1656.7H1325.6" stroke="#000" stroke-width="2.2" fill="none"/>
<polyline points="1300.2,1764.4 1298.3,1758.5 1298.3,1754.6 1300.7,1752.5 1297.1,1750.9 1298.6,1747.4 1303.9,1747.2 1296.9,1745.1 1305.3,1743 1300.4,1742.4 1298.2,1740.3 1304.5,1740.2 1300,1738.8 1299.9,1737.2 1295.8,1735.9 1297.8,1734.6 1306.3,1733.4 1301.3,1732.4 1300.7,1732 1302.4,1730.2 1296.8,1730.1 1297.5,1728.7 1305.5,1727.8 1302.9,1727.1 1299.4,1726 1305.5,1724.3 1299.1,1723.4 1300.8,1723 1304.6,1721.5 1305.3,1720.8 1298.9,1720.5 1306.8,1719.1 1298.2,1718.6 1298.8,1717.6 1301.6,1716.3 1302.1,1715.9 1301.8,1714.9 1301,1714.3 1304.5,1713.2 1298.6,1712.3 1300.7,1711.6 1303.4,1710.8 1305.8,1709.7 1298.7,1709.1 1299.8,1707.5 1301.1,1707.2 1298.8,1706.3 1301.5,1705.7 1306.3,1704.3 1298.4,1703.9 1305.1,1703.2 1305.8,1702.1 1301.3,1700.9 1299.7,1700 1297.1,1699.6 1302,1698.7 1305.3,1698.3 1300.1,1696.8 1298.7,1696.1 1305.1,1695.7 1297.6,1694.4 1302.1,1694.2 1304.4,1693.1 1301.5,1692.4 1299.1,1691.4 1302.5,1690.9 1299.6,1690.1 1303.3,1689.8 1304.7,1689.4 1304.8,1688.8 1304.5,1687.9 1297.2,1687.6 1298.8,1687 1303.3,1686.4 1302.9,1686.1 1305.8,1685.7 1300.7,1685 1296.5,1684.3 1296.6,1683.8 1296.3,1683.4 1301.8,1682.8 1299.4,1682.5 1296.2,1681.6 1306,1681.3 1296.5,1680.7 1299.7,1680.4 1304.5,1679.8 1303.5,1679.2 1298.2,1678.7 1306.6,1678.1 1300.8,1677.8 1305,1677.1 1300.5,1676.8 1303,1676.2 1306.5,1675.8 1296.5,1675.2 1302.2,1674.4 1302.4,1674.3 1306.6,1673.7 1302.5,1673 1298.7,1672.5 1297.4,1671.9 1302,1671.4 1297.6,1670.9 1299.7,1670.4 1306.5,1670.1 1297.8,1669.4 1298.1,1669 1303.3,1668.7 1301.4,1667.9 1306,1667.1 1299.5,1666.9 1304.3,1666.2 1300.4,1665.7 1306.9,1665.5 1306.1,1664.7 1298,1664 1300,1663.7 1301.1,1663.3 1301.1,1662.5 1302.4,1662.1 1303.5,1661.4 1297.5,1661 1303.1,1660.6 1305,1660.1 1300.4,1659.6 1298.8,1659.2 1298.6,1658.4 1302.6,1658.2 1297.1,1657.3 1298.2,1657.1 1299.2,1656.6 1303.5,1656.1 1304.1,1655.8 1301.9,1655.2 1297.5,1655 1299.8,1654.3 1296.5,1654.2 1307,1653.4 1301,1653 1305.2,1652.6 1298.6,1652.2 1298.9,1652.1 1297.4,1651.5 1300.1,1651.3 1303.5,1650.6 1302,1650.1 1299.4,1650 1297.2,1649.4 1298.9,1649.2 1304.4,1648.5 1297.8,1648.1 1306.9,1647.9 1305.2,1647.3 1297.7,1646.7 1295.8,1646.6 1305,1645.9 1296.3,1645.7 1303.3,1645.4 1301.4,1645 1300.4,1644.3 1302.3,1644.1 1296,1643.4 1304.2,1643.2 1305.2,1642.9 1296.2,1642.2 1299,1642 1305.2,1641.6 1298,1641.3 1297.4,1640.7 1304.8,1640.2 1306.9,1639.8 1306.9,1639.3 1298,1639.1 1297.3,1638.7 1295.9,1638 1297.1,1637.7 1299.5,1637.2 1306.6,1636.7 1304.3,1636.4 1297.8,1635.9 1300.2,1635.7 1301.9,1635.3 1297.6,1634.8 1296.4,1634.1 1297.9,1633.7 1299.2,1633.6 1296.2,1633 1306.7,1632.8 1306.7,1632.3 1301.1,1631.9 1300.7,1631.2 1302,1631.1 1305.1,1630.6 1300.4,1630.3 1306.1,1629.6 1306.5,1629.5 1298.9,1628.1 1302.3,1627.7 1306.5,1626.8 1299.2,1626.1 1306.9,1624.9 1301.4,1623.4 1303.3,1623 1296.9,1622.1 1300.2,1620.8 1303.2,1620.3 1298.1,1618.9 1306.7,1617.8 1300.2,1616.9 1302.2,1616.8 1304.5,1615.1 1299.3,1614.2 1303.7,1613.2 1304,1612.5 1304.5,1611.9 1299.4,1610.4 1299.6,1609.6 1302.3,1608.7 1300.8,1607.4 1301.1,1607 1302.1,1605.9 1304.3,1604.6 1297.4,1603.4 1298.2,1602.3 1297.2,1601.4 1301.6,1601 1298.1,1599.8 1306.2,1598.7 1298.1,1597.8 1300.8,1597.1 1304.4,1595.8 1299,1594.1 1296.7,1593.7 1298.4,1592.1 1303.7,1591 1299.7,1590.3 1306.4,1588.8 1297.5,1587.6 1299.2,1587.6 1301.3,1585.8 1299.5,1584.2 1299.1,1583.8 1297,1582.5 1301.5,1581.6 1304.2,1579.5 1299.9,1578.6 1306.8,1577.3 1302.8,1576 1299.9,1574.2 1299.9,1573.3 1298.9,1571.9 1296.9,1570.5 1301.1,1569.1 1301.8,1566.4 1304.7,1565.2 1296.7,1563.5 1296.1,1562.3 1306,1558.6 1299.8,1557.5 1303.9,1552.4 1305.6,1544.9" fill="none" stroke="none" marker-start="url(#mk)" marker-mid="url(#mk)" marker-end="url(#mk)"/>
<rect x="1336.8" y="1745.1" width="48.4" height="18" fill="#7f7f7f" stroke="#3a3a3a" stroke-width="0.8"/>
<path d="M1336.8 1754H1385.2" stroke="#000" stroke-width="2.2" fill="none"/>
<path d="M1301.4 1537.6V1530.7H1361V1737.5" stroke="#777" stroke-width="1.1" fill="none"/>
<g fill="#ff1a1a" transform="translate(1332 1531.3)"><path d="M0 -0.6C1.1 -2.4 2.3 -5.2 1.7 -6.9C1.3 -8 -1.3 -8 -1.7 -6.9C-2.3 -5.2 -1.1 -2.4 0 -0.6Z" transform="rotate(0)"/><path d="M0 -0.6C1.1 -2.4 2.3 -5.2 1.7 -6.9C1.3 -8 -1.3 -8 -1.7 -6.9C-2.3 -5.2 -1.1 -2.4 0 -0.6Z" transform="rotate(60)"/><path d="M0 -0.6C1.1 -2.4 2.3 -5.2 1.7 -6.9C1.3 -8 -1.3 -8 -1.7 -6.9C-2.3 -5.2 -1.1 -2.4 0 -0.6Z" transform="rotate(120)"/><path d="M0 -0.6C1.1 -2.4 2.3 -5.2 1.7 -6.9C1.3 -8 -1.3 -8 -1.7 -6.9C-2.3 -5.2 -1.1 -2.4 0 -0.6Z" transform="rotate(180)"/><path d="M0 -0.6C1.1 -2.4 2.3 -5.2 1.7 -6.9C1.3 -8 -1.3 -8 -1.7 -6.9C-2.3 -5.2 -1.1 -2.4 0 -0.6Z" transform="rotate(240)"/><path d="M0 -0.6C1.1 -2.4 2.3 -5.2 1.7 -6.9C1.3 -8 -1.3 -8 -1.7 -6.9C-2.3 -5.2 -1.1 -2.4 0 -0.6Z" transform="rotate(300)"/></g>
<rect x="1456.5" y="1567.1" width="48.4" height="30.9" fill="#ff6666" stroke="#3a3a3a" stroke-width="0.8"/>
<path d="M1480.7 1521V1567.1M1480.7 1598V1643.7" stroke="#222" stroke-width="0.9" stroke-dasharray="2.6 2" fill="none"/>
<path d="M1468.5 1521h24.4M1468.5 1643.7h24.4" stroke="#333" stroke-width="1" fill="none"/>
<path d="M1456.5 1579.7H1504.9" stroke="#000" stroke-width="2.2" fill="none"/>
<polyline points="1482.6,1643.7 1476.6,1639.2 1478.2,1634 1478.6,1632.7 1475.9,1630.3 1486.3,1629.4 1475.8,1626.8 1485.2,1625.5 1482.8,1624.4 1485.5,1623 1481.7,1620.8 1481.2,1619.6 1480.1,1619.1 1481.3,1617.9 1478.8,1616.8 1477.1,1615.7 1481.7,1614.5 1484,1612.8 1486,1612.8 1485.3,1611.4 1481.9,1610.2 1477.4,1609.1 1481.4,1608.4 1476.9,1607 1484.7,1606.3 1483.6,1605.6 1479.3,1603.9 1478.7,1603.6 1485.1,1602.2 1480,1601.1 1476,1600.8 1482.6,1599.4 1479.8,1598.4 1476.4,1597.9 1484.7,1597.1 1477.5,1597 1477.2,1596.2 1481,1595.4 1477.9,1595.1 1478.8,1594.4 1480.1,1594.1 1485.5,1593.4 1481.7,1592.9 1479.9,1592.3 1484.4,1591.7 1485.5,1591.1 1485.4,1590.6 1475.4,1590.3 1484.1,1589.5 1483.8,1588.9 1483.1,1588.4 1483.2,1588.1 1482.5,1587.4 1477.4,1587.1 1485.5,1586.1 1484,1585.7 1477.8,1585.4 1481.1,1584.6 1477.2,1584.2 1477.7,1583.5 1482.1,1582.9 1476.7,1582.3 1475.2,1581.7 1482,1581.3 1482,1580.8 1485.3,1580.3 1475.4,1579.9 1478.6,1579.5 1476.4,1578.8 1485.3,1578.4 1484.1,1578.1 1476.8,1577.9 1480.4,1577.4 1482.8,1577.2 1482,1576.8 1480.5,1576.2 1481.1,1575.8 1477.5,1575.7 1475.8,1575.1 1476.9,1574.7 1480.8,1574.3 1476.7,1574.2 1485,1573.7 1478.4,1573.2 1475.2,1573 1482.3,1572.6 1482.5,1572.1 1483.4,1571.9 1480.1,1571.5 1485.4,1571.1 1482.7,1570.7 1485.6,1570.4 1484,1569.9 1478.2,1569.5 1479.9,1569.2 1477.4,1568.8 1482.2,1568.4 1479.4,1568.1 1480.3,1567.7 1479.2,1567.4 1477.1,1566.2 1481.7,1565.8 1483.2,1564.6 1479,1563.9 1476.5,1562.5 1482,1561.2 1482.1,1560.5 1481.2,1560.2 1484.4,1559.1 1485.6,1558.1 1483.6,1556.4 1481.8,1556.2 1485.6,1554.5 1481.4,1553.5 1480.9,1552.3 1477.4,1551.7 1478.7,1550.6 1479.2,1549.6 1478.1,1548.2 1478.2,1547.2 1477.2,1545.8 1476.3,1544.9 1481.3,1543.1 1480,1542.1 1484.1,1541.2 1483.2,1539.6 1485.5,1538.4 1485.3,1535.6 1476.3,1535.4 1482.5,1532.7 1485.5,1530.3 1476,1526.5 1476.6,1521 1475.3,1652.8 1477.1,1661.5 1485.7,1675.9 1484.9,1700.7" fill="none" stroke="none" marker-start="url(#mk)" marker-mid="url(#mk)" marker-end="url(#mk)"/>
<rect x="1516.1" y="1648" width="48.4" height="19.6" fill="#7f7f7f" stroke="#3a3a3a" stroke-width="0.8"/>
<path d="M1540.3 1620.6V1648M1540.3 1667.6V1695.9" stroke="#222" stroke-width="0.9" stroke-dasharray="2.6 2" fill="none"/>
<path d="M1528.1 1620.6h24.4M1528.1 1695.9h24.4" stroke="#333" stroke-width="1" fill="none"/>
<path d="M1516.1 1655.9H1564.5" stroke="#000" stroke-width="2.2" fill="none"/>
<polyline points="1536.4,1695.9 1536.8,1694 1541.3,1691.9 1538.6,1689.7 1538,1689.2 1534.7,1688 1539.7,1687.3 1545.9,1686.5 1539.3,1685.5 1537.1,1684.6 1538.9,1684.5 1541.4,1683.6 1535,1682.7 1536.6,1682 1540.6,1681.5 1538.8,1681.1 1542.5,1680.6 1536.2,1679.9 1535.4,1679.1 1544.9,1678.3 1543.1,1677.9 1541.9,1677.3 1541.5,1676.9 1536.9,1676.1 1536.4,1675.5 1539.7,1675.2 1542.4,1674.5 1539.9,1674.1 1540.3,1673.7 1535.6,1672.8 1545.3,1672.7 1537.4,1672 1539.1,1671.2 1543.7,1670.8 1545.3,1670.4 1538.8,1670 1539.7,1669.4 1544.1,1668.6 1540.2,1668.2 1536,1667.7 1537.1,1667.3 1538.5,1667.1 1534.7,1666.9 1535.4,1666.5 1544.7,1666.1 1544,1665.9 1544,1665.5 1538.1,1665.2 1538.6,1665.2 1545.2,1664.7 1535.3,1664.5 1539.5,1664.1 1538.8,1663.8 1543,1663.5 1542.4,1663.3 1545.8,1663 1545.5,1662.8 1541.5,1662.3 1545,1662 1541.4,1661.8 1537,1661.5 1540.4,1661.1 1537.7,1660.9 1544.9,1660.7 1543.7,1660.2 1535.8,1659.9 1542,1659.7 1541.9,1659.4 1543.3,1659.2 1536.3,1658.9 1541.2,1658.7 1535.9,1658.2 1539.5,1657.8 1538.7,1657.7 1538.7,1657.4 1539.3,1657.1 1540.5,1656.8 1535.9,1656.4 1540.6,1656.2 1535.5,1655.9 1542.5,1655.7 1535.1,1655.4 1540.1,1655.2 1534.7,1655.2 1543.5,1655 1545.3,1654.8 1543,1654.5 1539.8,1654.3 1539.9,1654.2 1543.2,1653.9 1535.6,1653.6 1538.7,1653.6 1540.1,1653.3 1536.6,1653 1539.8,1652.9 1538.6,1652.8 1536.3,1652.5 1541.3,1652.2 1539.6,1652.1 1536.1,1651.9 1540.7,1651.7 1537.2,1651.4 1541.1,1651.2 1538.3,1651.1 1542.7,1650.9 1541.4,1650.8 1534.7,1650.6 1538.5,1650.4 1543.2,1650.1 1538.5,1650 1543.3,1649.8 1544.4,1649.6 1545.1,1649.3 1543.1,1649.2 1539.5,1648.9 1540.1,1648.8 1535.7,1648.6 1538,1648.5 1537.6,1648.2 1543.6,1648 1543.5,1647.5 1541.8,1646.7 1543.3,1646.6 1539.5,1645.9 1541.9,1645.6 1538.7,1644.7 1534.9,1644.6 1540.6,1643.7 1544.5,1643.4 1540.3,1642.9 1544.8,1642.5 1539,1641.7 1537.5,1641.5 1536.5,1640.6 1539.5,1640.2 1538.2,1639.8 1535.9,1639 1538.2,1638.4 1545.4,1638.2 1543.4,1637.2 1539.4,1636.7 1537.3,1636.1 1540.3,1635.5 1538.4,1635.2 1541.6,1634.7 1537.8,1633.9 1541.7,1633 1543.3,1632.5 1537.8,1632.2 1537.2,1631.1 1541.1,1630.3 1541.1,1629.9 1544.6,1628.9 1543.8,1627.9 1539.9,1627.4 1540.2,1625.9 1543.5,1625 1541.1,1622.9 1536.1,1620.6 1539,1718.1 1536,1737.7 1542.2,1757.2 1543.4,1759.4 1541.8,1765.9 1535.3,1766.8" fill="none" stroke="none" marker-start="url(#mk)" marker-mid="url(#mk)" marker-end="url(#mk)"/>
<path d="M1480.7 1515.1V1507.2H1540.3V1614.4" stroke="#777" stroke-width="1.1" fill="none"/>
<g fill="#ff1a1a" transform="translate(1513.1 1507.8)"><path d="M0 -0.6C1.1 -2.4 2.3 -5.2 1.7 -6.9C1.3 -8 -1.3 -8 -1.7 -6.9C-2.3 -5.2 -1.1 -2.4 0 -0.6Z" transform="rotate(0)"/><path d="M0 -0.6C1.1 -2.4 2.3 -5.2 1.7 -6.9C1.3 -8 -1.3 -8 -1.7 -6.9C-2.3 -5.2 -1.1 -2.4 0 -0.6Z" transform="rotate(60)"/><path d="M0 -0.6C1.1 -2.4 2.3 -5.2 1.7 -6.9C1.3 -8 -1.3 -8 -1.7 -6.9C-2.3 -5.2 -1.1 -2.4 0 -0.6Z" transform="rotate(120)"/><path d="M0 -0.6C1.1 -2.4 2.3 -5.2 1.7 -6.9C1.3 -8 -1.3 -8 -1.7 -6.9C-2.3 -5.2 -1.1 -2.4 0 -0.6Z" transform="rotate(180)"/><path d="M0 -0.6C1.1 -2.4 2.3 -5.2 1.7 -6.9C1.3 -8 -1.3 -8 -1.7 -6.9C-2.3 -5.2 -1.1 -2.4 0 -0.6Z" transform="rotate(240)"/><path d="M0 -0.6C1.1 -2.4 2.3 -5.2 1.7 -6.9C1.3 -8 -1.3 -8 -1.7 -6.9C-2.3 -5.2 -1.1 -2.4 0 -0.6Z" transform="rotate(300)"/></g>
<rect x="1635.8" y="1603.7" width="48.4" height="75.7" fill="#ff6666" stroke="#3a3a3a" stroke-width="0.8"/>
<path d="M1660 1574.9V1603.7M1660 1679.4V1753.8" stroke="#222" stroke-width="0.9" stroke-dasharray="2.6 2" fill="none"/>
<path d="M1647.8 1574.9h24.4M1647.8 1753.8h24.4" stroke="#333" stroke-width="1" fill="none"/>
<path d="M1635.8 1625.4H1684.2" stroke="#000" stroke-width="2.2" fill="none"/>
<polyline points="1663.3,1753.8 1658.3,1747.4 1663.8,1737.5 1663.7,1733.3 1658.9,1731.7 1664.9,1727 1664.8,1726 1656.9,1723 1660.6,1718.6 1664.2,1717.9 1657,1714.7 1664.1,1711.9 1657.8,1710.1 1663.6,1708.7 1658.6,1706.7 1665,1704.8 1664.2,1703.3 1658.7,1700.2 1654.5,1698.8 1661.3,1696.5 1660.7,1695.2 1657.7,1693.8 1664.7,1691.9 1659.1,1690.4 1660.3,1687.6 1656.9,1686.2 1662.6,1684.7 1660.4,1682 1656,1681.3 1664.9,1679.6 1657.5,1678 1655.9,1676.1 1662.5,1674.3 1659.1,1672 1663.4,1670.4 1659.2,1668.4 1660.6,1665.9 1662.5,1665 1664.2,1662.7 1656.2,1661.1 1655.7,1658.4 1659.8,1657.2 1656.1,1654.8 1663.3,1654 1658.2,1652.5 1658.4,1650.6 1655.4,1647.7 1657.5,1647.1 1658.5,1645 1657.4,1642.1 1656.8,1641.8 1657.6,1638.8 1662.5,1637.5 1655.8,1636 1660.1,1632.8 1661.7,1631.2 1654.6,1630.5 1663.6,1628.8 1662.9,1626.2 1657.1,1625.4 1655.1,1624 1655.2,1623.7 1664.2,1623 1654.9,1622.4 1661.2,1621.4 1661,1620.6 1661.8,1620.2 1659.4,1619 1659.5,1618.4 1659.6,1617.4 1662.9,1616.6 1655.5,1615.9 1657.4,1615.5 1659.9,1614.8 1659.1,1613.9 1661.3,1613.3 1658.8,1612.5 1665.2,1612 1656.8,1611.3 1664.7,1610.6 1654.6,1609.5 1663.5,1608.5 1655.5,1607.7 1657.6,1607.5 1659.2,1606.8 1664.6,1606.2 1655.9,1605.4 1660.1,1604.2 1663.3,1603.8 1659.9,1603.1 1662.5,1602.5 1665.6,1601.5 1663.4,1601.2 1657.2,1600 1658,1600 1660.5,1598.7 1662.8,1598.3 1665.4,1597.6 1663.9,1596.9 1663.1,1596.3 1661.2,1595.1 1662.4,1594.7 1664.2,1593.9 1663.4,1592.9 1656.3,1592.3 1656.9,1591.3 1659,1591.1 1665.2,1590.1 1657.9,1589.3 1663.5,1588.1 1657.7,1587.4 1662.3,1585.7 1664.2,1585.4 1665.5,1584 1660.8,1582.6 1661.1,1581.2 1656.3,1578.2 1663.9,1574.9" fill="none" stroke="none" marker-start="url(#mk)" marker-mid="url(#mk)" marker-end="url(#mk)"/>
<rect x="1695.4" y="1754" width="48.4" height="12.8" fill="#7f7f7f" stroke="#3a3a3a" stroke-width="0.8"/>
<path d="M1719.6 1735.1V1754M1719.6 1766.8V1770.3" stroke="#222" stroke-width="0.9" stroke-dasharray="2.6 2" fill="none"/>
<path d="M1707.4 1735.1h24.4M1707.4 1770.3h24.4" stroke="#333" stroke-width="1" fill="none"/>
<path d="M1695.4 1761.6H1743.8" stroke="#000" stroke-width="2.2" fill="none"/>
<polyline points="1723.9,1770.3 1720.6,1770.1 1715,1769.9 1721.6,1769.7 1716.9,1769.6 1723.1,1769.6 1724.1,1769.5 1719.2,1769.4 1721.9,1769.4 1714.5,1769.3 1720.4,1769.3 1721.4,1769.2 1724.3,1769.1 1714.8,1769.1 1716.2,1769.1 1722.5,1769 1720.9,1769 1719,1768.9 1724.9,1768.9 1714.8,1768.8 1723.7,1768.8 1715.3,1768.8 1716.7,1768.7 1721.4,1768.7 1714.6,1768.6 1722.6,1768.6 1717.5,1768.5 1722.9,1768.5 1720.7,1768.5 1716.9,1768.4 1722.9,1768.4 1724.3,1768.4 1722.9,1768.3 1715,1768.3 1719,1768.2 1714.8,1768.2 1719,1768.2 1717.2,1768.1 1719.9,1768.1 1723.7,1768.1 1722.3,1768 1722.9,1768 1714.6,1768 1719.4,1767.9 1718.7,1767.9 1722.1,1767.8 1723.9,1767.8 1714.1,1767.8 1723.7,1767.8 1717.7,1767.7 1714.4,1767.7 1720.9,1767.6 1720,1767.6 1724.8,1767.6 1723,1767.5 1719.2,1767.5 1722.7,1767.5 1724,1767.5 1719.8,1767.4 1717.6,1767.4 1721.3,1767.3 1723.5,1767.3 1722,1767.3 1720.9,1767.3 1715.8,1767.2 1722.2,1767.2 1720.7,1767.1 1722.1,1767.1 1719.1,1767.1 1714.4,1767.1 1716.9,1767 1720.6,1767 1715.7,1767 1717.6,1766.9 1718.6,1766.9 1715.6,1766.9 1717.2,1766.8 1719,1766.8 1724.2,1766.7 1722.1,1766.6 1715.1,1766.6 1718.4,1766.5 1723.1,1766.4 1714,1766.3 1721.9,1766.3 1722,1766.2 1716.8,1766.2 1714.2,1766.1 1717.5,1766 1717.7,1766 1721.4,1765.9 1714.9,1765.8 1715.9,1765.7 1722.1,1765.7 1714.4,1765.6 1720.7,1765.5 1718.2,1765.5 1717.8,1765.4 1718.6,1765.3 1717.8,1765.3 1722.9,1765.2 1724.3,1765.1 1720.4,1765.1 1721.7,1765 1723.5,1764.9 1715.2,1764.9 1719.2,1764.8 1714.3,1764.7 1722.5,1764.7 1724,1764.6 1715.5,1764.5 1718.7,1764.5 1721,1764.4 1720,1764.3 1714.6,1764.3 1718.6,1764.2 1717.8,1764.1 1720.7,1764.1 1724,1764 1714.9,1763.9 1720.1,1763.9 1719.2,1763.8 1718.3,1763.7 1716.2,1763.7 1719.1,1763.5 1715.3,1763.5 1721.6,1763.4 1717.3,1763.4 1723.8,1763.3 1716.7,1763.2 1716.4,1763.2 1716.1,1763.1 1722.1,1763 1723.4,1763 1723.7,1762.9 1719.8,1762.8 1721.1,1762.8 1718,1762.7 1720,1762.6 1715.3,1762.5 1723.8,1762.5 1718.8,1762.4 1719.4,1762.3 1715.2,1762.2 1719.8,1762.2 1716.2,1762.2 1725,1762.1 1714.8,1762 1718,1761.9 1714.9,1761.9 1716.3,1761.8 1719.6,1761.7 1714.8,1761.6 1721.1,1761.6 1720.7,1761.5 1722.6,1761.4 1717.8,1761.3 1721.1,1761.2 1717.8,1761.1 1721.7,1761 1725.1,1760.9 1716,1760.8 1721.6,1760.8 1722.9,1760.6 1716.8,1760.5 1714.6,1760.4 1719.7,1760.3 1719.7,1760.2 1720.8,1760.1 1722.5,1760.1 1717.7,1760 1723,1759.8 1722,1759.7 1716.7,1759.7 1716.6,1759.5 1719.1,1759.5 1723.6,1759.4 1723.8,1759.2 1720,1759.1 1719.9,1759.1 1719.5,1758.9 1722.4,1758.8 1714.2,1758.7 1721.9,1758.6 1719.8,1758.5 1720.3,1758.4 1723.6,1758.4 1715.2,1758.2 1719.7,1758.1 1724.7,1758 1716.7,1757.9 1720.9,1757.8 1717.1,1757.7 1722.6,1757.6 1721.2,1757.5 1715.6,1757.4 1715.6,1757.4 1717.9,1757.3 1719,1757.2 1722.9,1757.1 1724.6,1757 1720.2,1756.8 1715,1756.7 1719.1,1756.7 1724.6,1756.6 1714.9,1756.5 1718.9,1756.4 1717,1756.2 1721.2,1756.2 1716.4,1756.1 1714.5,1755.9 1716.1,1755.9 1719.9,1755.8 1718.7,1755.7 1723.4,1755.6 1716.4,1755.5 1721.3,1755.4 1724.4,1755.3 1714.3,1755.2 1719.5,1755.1 1716.3,1755 1718.3,1754.9 1716.9,1754.8 1722.5,1754.7 1716.9,1754.6 1725,1754.5 1716.3,1754.4 1717.3,1754.3 1721.2,1754.2 1715.4,1754.1 1715.9,1753.9 1717.7,1753.8 1721.4,1753.7 1723.2,1753.4 1720.6,1753.4 1717.2,1753 1720.3,1752.9 1725,1752.8 1718.1,1752.6 1715.3,1752.3 1714.4,1752.1 1719.1,1752.1 1724.6,1751.8 1724.5,1751.6 1721.8,1751.5 1716.6,1751.3 1718.2,1751.1 1716.4,1751 1718.9,1750.9 1722.6,1750.5 1714.3,1750.5 1719.8,1750.2 1716.4,1750 1720.9,1749.9 1722.8,1749.6 1722.6,1749.6 1717.9,1749.3 1724,1749.2 1714.2,1748.9 1717.3,1748.8 1715.7,1748.6 1721.7,1748.5 1719.4,1748.1 1720.7,1748 1714.6,1747.8 1715.2,1747.7 1722.4,1747.4 1721.3,1747.2 1724.3,1747 1718.9,1746.9 1720.7,1746.7 1718.8,1746.5 1723.8,1746.2 1717.3,1746.1 1719.5,1745.9 1722.8,1745.6 1718.2,1745.5 1718.9,1745.3 1715.1,1745.1 1724.8,1744.8 1719.6,1744.6 1719.3,1744.4 1715.8,1744.1 1718.6,1744 1717.9,1743.8 1716.1,1743.5 1718.1,1743.3 1718,1742.9 1721.2,1742.8 1714.8,1742.6 1725.1,1742.2 1723.4,1742.1 1714.1,1741.9 1719.1,1741.6 1722.2,1741.1 1714.5,1740.9 1724,1740.8 1724.8,1740.5 1714.8,1739.9 1717.6,1739.8 1724.8,1739.5 1717.2,1739 1722.3,1738.4 1723,1738.1 1714,1737.2 1719.4,1736.1 1717.7,1735.1 1723.2,1728.9 1714.9,1732.4 1721.5,1677.2 1714.3,1709 1720.8,1713.7 1719.3,1729.9 1724.4,1670.3 1725.1,1694.8 1723.2,1676.8 1721.8,1718.7 1718.2,1712.3 1720.6,1709.9 1718.8,1733.4 1722.3,1734.9 1724.9,1703.1 1721.4,1720.8 1715.6,1679.2 1720.2,1687.3 1720,1696.4 1724,1704.7 1717.6,1727.5 1718.4,1704.1 1721.8,1696.7 1720.8,1726.7 1719.5,1713.4 1720.7,1734 1716.6,1696 1715,1715.8 1718.9,1728.6 1719.9,1692.5 1722.2,1605.8 1718.4,1663.7" fill="none" stroke="none" marker-start="url(#mk)" marker-mid="url(#mk)" marker-end="url(#mk)"/>
<path d="M1660 1567V1560.4H1719.6V1598.1" stroke="#777" stroke-width="1.1" fill="none"/>
<g fill="#ff1a1a" transform="translate(1690.1 1561)"><path d="M0 -0.6C1.1 -2.4 2.3 -5.2 1.7 -6.9C1.3 -8 -1.3 -8 -1.7 -6.9C-2.3 -5.2 -1.1 -2.4 0 -0.6Z" transform="rotate(0)"/><path d="M0 -0.6C1.1 -2.4 2.3 -5.2 1.7 -6.9C1.3 -8 -1.3 -8 -1.7 -6.9C-2.3 -5.2 -1.1 -2.4 0 -0.6Z" transform="rotate(60)"/><path d="M0 -0.6C1.1 -2.4 2.3 -5.2 1.7 -6.9C1.3 -8 -1.3 -8 -1.7 -6.9C-2.3 -5.2 -1.1 -2.4 0 -0.6Z" transform="rotate(120)"/><path d="M0 -0.6C1.1 -2.4 2.3 -5.2 1.7 -6.9C1.3 -8 -1.3 -8 -1.7 -6.9C-2.3 -5.2 -1.1 -2.4 0 -0.6Z" transform="rotate(180)"/><path d="M0 -0.6C1.1 -2.4 2.3 -5.2 1.7 -6.9C1.3 -8 -1.3 -8 -1.7 -6.9C-2.3 -5.2 -1.1 -2.4 0 -0.6Z" transform="rotate(240)"/><path d="M0 -0.6C1.1 -2.4 2.3 -5.2 1.7 -6.9C1.3 -8 -1.3 -8 -1.7 -6.9C-2.3 -5.2 -1.1 -2.4 0 -0.6Z" transform="rotate(300)"/></g>
<rect x="1815.1" y="1609.3" width="48.4" height="36.4" fill="#ff6666" stroke="#3a3a3a" stroke-width="0.8"/>
<path d="M1839.3 1570.2V1609.3M1839.3 1645.7V1671.3" stroke="#222" stroke-width="0.9" stroke-dasharray="2.6 2" fill="none"/>
<path d="M1827.1 1570.2h24.4M1827.1 1671.3h24.4" stroke="#333" stroke-width="1" fill="none"/>
<path d="M1815.1 1628.5H1863.5" stroke="#000" stroke-width="2.2" fill="none"/>
<polyline points="1839.7,1671.3 1844.3,1665.1 1835.8,1662.8 1835.9,1662.2 1839.6,1659.1 1836.2,1658.2 1833.8,1657.1 1839.4,1654.4 1838.3,1653.3 1841,1651.4 1839.4,1650.7 1834.5,1649.9 1838.6,1648.1 1834.7,1646.4 1834.5,1645.7 1843.3,1644 1843.9,1643.3 1844.4,1641.6 1841.9,1641.1 1840.6,1639.1 1839.3,1638.5 1839.6,1637.1 1837.3,1635.1 1843.5,1635 1838.9,1633.8 1843.9,1631.5 1837.7,1630.5 1836.5,1629.6 1840.8,1628.4 1841.6,1627.2 1839.1,1625.6 1836.2,1624 1834.6,1623.6 1840.8,1621.9 1835.2,1620.4 1843.2,1619.5 1838.8,1618.2 1841.8,1616.2 1836.7,1614.4 1843.9,1613.3 1836.4,1612.6 1844.8,1611.2 1834.4,1608.9 1842,1607.2 1837,1605.7 1844.2,1604.7 1840.5,1602.6 1841.9,1599.2 1839.8,1597.9 1842.3,1595 1836.9,1593.8 1837.9,1590.1 1841.1,1587.9 1834.4,1586.2 1836.9,1583 1835.9,1578.7 1835.7,1570.2" fill="none" stroke="none" marker-start="url(#mk)" marker-mid="url(#mk)" marker-end="url(#mk)"/>
<rect x="1874.7" y="1754.4" width="48.4" height="9.4" fill="#7f7f7f" stroke="#3a3a3a" stroke-width="0.8"/>
<path d="M1898.9 1741.1V1754.4M1898.9 1763.8V1769.6" stroke="#222" stroke-width="0.9" stroke-dasharray="2.6 2" fill="none"/>
<path d="M1886.7 1741.1h24.4M1886.7 1769.6h24.4" stroke="#333" stroke-width="1" fill="none"/>
<path d="M1874.7 1761.3H1923.1" stroke="#000" stroke-width="2.2" fill="none"/>
<polyline points="1903.9,1769.6 1896.6,1769 1894.6,1768.1 1904.3,1767.7 1898.1,1767.3 1899.7,1766.9 1897.4,1766.7 1896.2,1766.4 1896.9,1766.1 1903.7,1765.8 1898.8,1765.7 1901.3,1765.3 1900.2,1765.2 1896.1,1764.9 1903.4,1764.8 1903.6,1764.4 1894.9,1764.3 1893.8,1764.1 1901.4,1763.8 1895,1763.7 1903,1763.5 1898.8,1763.5 1899.1,1763.3 1896.4,1763.1 1899.5,1763 1896.8,1762.9 1893.5,1762.8 1899.3,1762.6 1903.1,1762.5 1900.8,1762.4 1898.5,1762.2 1902.8,1762 1893.8,1762 1895.7,1761.8 1897.4,1761.7 1893.6,1761.5 1894.3,1761.5 1902.3,1761.2 1898.6,1760.8 1900.6,1760.7 1895.4,1760 1903.5,1759.7 1903.6,1759.5 1897.1,1759.1 1895.5,1758.9 1897.2,1758.5 1896.5,1758.1 1897.6,1757.7 1901,1757.3 1901.9,1757 1903.4,1756.7 1900.2,1756.2 1902.5,1755.9 1900.6,1755.5 1894.2,1754.9 1895.2,1754.7 1895.9,1754.4 1894.5,1753.6 1896.2,1753.4 1900.8,1752.9 1901.6,1752.5 1898.3,1751.6 1899.4,1751.2 1900.5,1750.6 1901,1750.1 1898.1,1749.3 1897.4,1748.7 1899.1,1748.2 1899.8,1747.7 1894.8,1746.9 1898.4,1746.5 1898.9,1745.2 1901.8,1744.5 1896.5,1743.9 1904,1741.1 1901.4,1712 1900.3,1729 1898.9,1733.3" fill="none" stroke="none" marker-start="url(#mk)" marker-mid="url(#mk)" marker-end="url(#mk)"/>
<path d="M1839.3 1562.5V1555.6H1898.9V1705.4" stroke="#777" stroke-width="1.1" fill="none"/>
<g fill="#ff1a1a" transform="translate(1870.6 1556.2)"><path d="M0 -0.6C1.1 -2.4 2.3 -5.2 1.7 -6.9C1.3 -8 -1.3 -8 -1.7 -6.9C-2.3 -5.2 -1.1 -2.4 0 -0.6Z" transform="rotate(0)"/><path d="M0 -0.6C1.1 -2.4 2.3 -5.2 1.7 -6.9C1.3 -8 -1.3 -8 -1.7 -6.9C-2.3 -5.2 -1.1 -2.4 0 -0.6Z" transform="rotate(60)"/><path d="M0 -0.6C1.1 -2.4 2.3 -5.2 1.7 -6.9C1.3 -8 -1.3 -8 -1.7 -6.9C-2.3 -5.2 -1.1 -2.4 0 -0.6Z" transform="rotate(120)"/><path d="M0 -0.6C1.1 -2.4 2.3 -5.2 1.7 -6.9C1.3 -8 -1.3 -8 -1.7 -6.9C-2.3 -5.2 -1.1 -2.4 0 -0.6Z" transform="rotate(180)"/><path d="M0 -0.6C1.1 -2.4 2.3 -5.2 1.7 -6.9C1.3 -8 -1.3 -8 -1.7 -6.9C-2.3 -5.2 -1.1 -2.4 0 -0.6Z" transform="rotate(240)"/><path d="M0 -0.6C1.1 -2.4 2.3 -5.2 1.7 -6.9C1.3 -8 -1.3 -8 -1.7 -6.9C-2.3 -5.2 -1.1 -2.4 0 -0.6Z" transform="rotate(300)"/></g>
<rect x="93.6" y="1459.2" width="1936.4" height="323" fill="none" stroke="#333" stroke-width="1.4"/>
<path d="M93.6 1770.3h-6.6M93.6 1726.8h-6.6M93.6 1683.3h-6.6M93.6 1639.8h-6.6M93.6 1596.3h-6.6M93.6 1552.8h-6.6M93.6 1509.2h-6.6M93.6 1465.7h-6.6M255.2 1782.2v5.5M434.5 1782.2v5.5M613.8 1782.2v5.5M793.1 1782.2v5.5M972.4 1782.2v5.5M1151.7 1782.2v5.5M1331 1782.2v5.5M1510.3 1782.2v5.5M1689.6 1782.2v5.5M1868.9 1782.2v5.5" stroke="#555" stroke-width="1.1" fill="none"/>
<g font-size="11.5" font-weight="bold" fill="#222" text-anchor="middle">
<text transform="translate(79 1770.3) rotate(-90)">0</text>
<text transform="translate(79 1726.8) rotate(-90)">1</text>
<text transform="translate(79 1683.3) rotate(-90)">2</text>
<text transform="translate(79 1639.8) rotate(-90)">3</text>
<text transform="translate(79 1596.3) rotate(-90)">4</text>
<text transform="translate(79 1552.8) rotate(-90)">5</text>
<text transform="translate(79 1509.2) rotate(-90)">6</text>
<text transform="translate(79 1465.7) rotate(-90)">7</text>
</g>
<text transform="translate(50.5 1621) rotate(-90)" font-size="10.7" fill="#555" text-anchor="middle">Expression – log<tspan font-size="7.5" dy="2">2</tspan><tspan dy="-2">(TPM + 1)</tspan></text>
<text x="256.8" y="1809" font-size="19.8" fill="#111" stroke="#111" stroke-width=".5" text-anchor="middle">ACC</text>
<text x="255.6" y="1823" font-size="10.85" fill="#222" stroke="#222" stroke-width=".2" text-anchor="middle">(num(T)=77; num(N)=128)</text>
<text x="436.1" y="1809" font-size="19.8" fill="#111" stroke="#111" stroke-width=".5" text-anchor="middle">BRCA</text>
<text x="434.9" y="1823" font-size="10.85" fill="#222" stroke="#222" stroke-width=".2" text-anchor="middle">(num(T)=1085; num(N)=291)</text>
<text x="615.4" y="1809" font-size="19.8" fill="#111" stroke="#111" stroke-width=".5" text-anchor="middle">DLBC</text>
<text x="614.2" y="1823" font-size="10.85" fill="#222" stroke="#222" stroke-width=".2" text-anchor="middle">(num(T)=47; num(N)=337)</text>
<text x="794.7" y="1809" font-size="19.8" fill="#111" stroke="#111" stroke-width=".5" text-anchor="middle">LAML</text>
<text x="793.5" y="1823" font-size="10.85" fill="#222" stroke="#222" stroke-width=".2" text-anchor="middle">(num(T)=173; num(N)=70)</text>
<text x="974" y="1809" font-size="19.8" fill="#111" stroke="#111" stroke-width=".5" text-anchor="middle">LGG</text>
<text x="972.8" y="1823" font-size="10.85" fill="#222" stroke="#222" stroke-width=".2" text-anchor="middle">(num(T)=518; num(N)=207)</text>
<text x="1153.3" y="1809" font-size="19.8" fill="#111" stroke="#111" stroke-width=".5" text-anchor="middle">OV</text>
<text x="1152.1" y="1823" font-size="10.85" fill="#222" stroke="#222" stroke-width=".2" text-anchor="middle">(num(T)=426; num(N)=88)</text>
<text x="1332.6" y="1809" font-size="19.8" fill="#111" stroke="#111" stroke-width=".5" text-anchor="middle">SARC</text>
<text x="1331.4" y="1823" font-size="10.85" fill="#222" stroke="#222" stroke-width=".2" text-anchor="middle">(num(T)=262; num(N)=2)</text>
<text x="1511.9" y="1809" font-size="19.8" fill="#111" stroke="#111" stroke-width=".5" text-anchor="middle">TGCT</text>
<text x="1510.7" y="1823" font-size="10.85" fill="#222" stroke="#222" stroke-width=".2" text-anchor="middle">(num(T)=137; num(N)=165)</text>
<text x="1691.2" y="1809" font-size="19.8" fill="#111" stroke="#111" stroke-width=".5" text-anchor="middle">THYM</text>
<text x="1690" y="1823" font-size="10.85" fill="#222" stroke="#222" stroke-width=".2" text-anchor="middle">(num(T)=118; num(N)=339)</text>
<text x="1870.5" y="1809" font-size="19.8" fill="#111" stroke="#111" stroke-width=".5" text-anchor="middle">UCS</text>
<text x="1869.3" y="1823" font-size="10.85" fill="#222" stroke="#222" stroke-width=".2" text-anchor="middle">(num(T)=57; num(N)=78)</text>
</g>
<g font-family="Liberation Serif, serif" font-weight="bold" font-size="41" fill="#000">
<text transform="translate(2.5 32.3) scale(1 1.10)">A</text><text transform="translate(4.9 735.3) scale(1 1.10)">B</text><text transform="translate(2.6 1460.4) scale(1 1.10)">C</text>
</g>
</svg></body></html>
